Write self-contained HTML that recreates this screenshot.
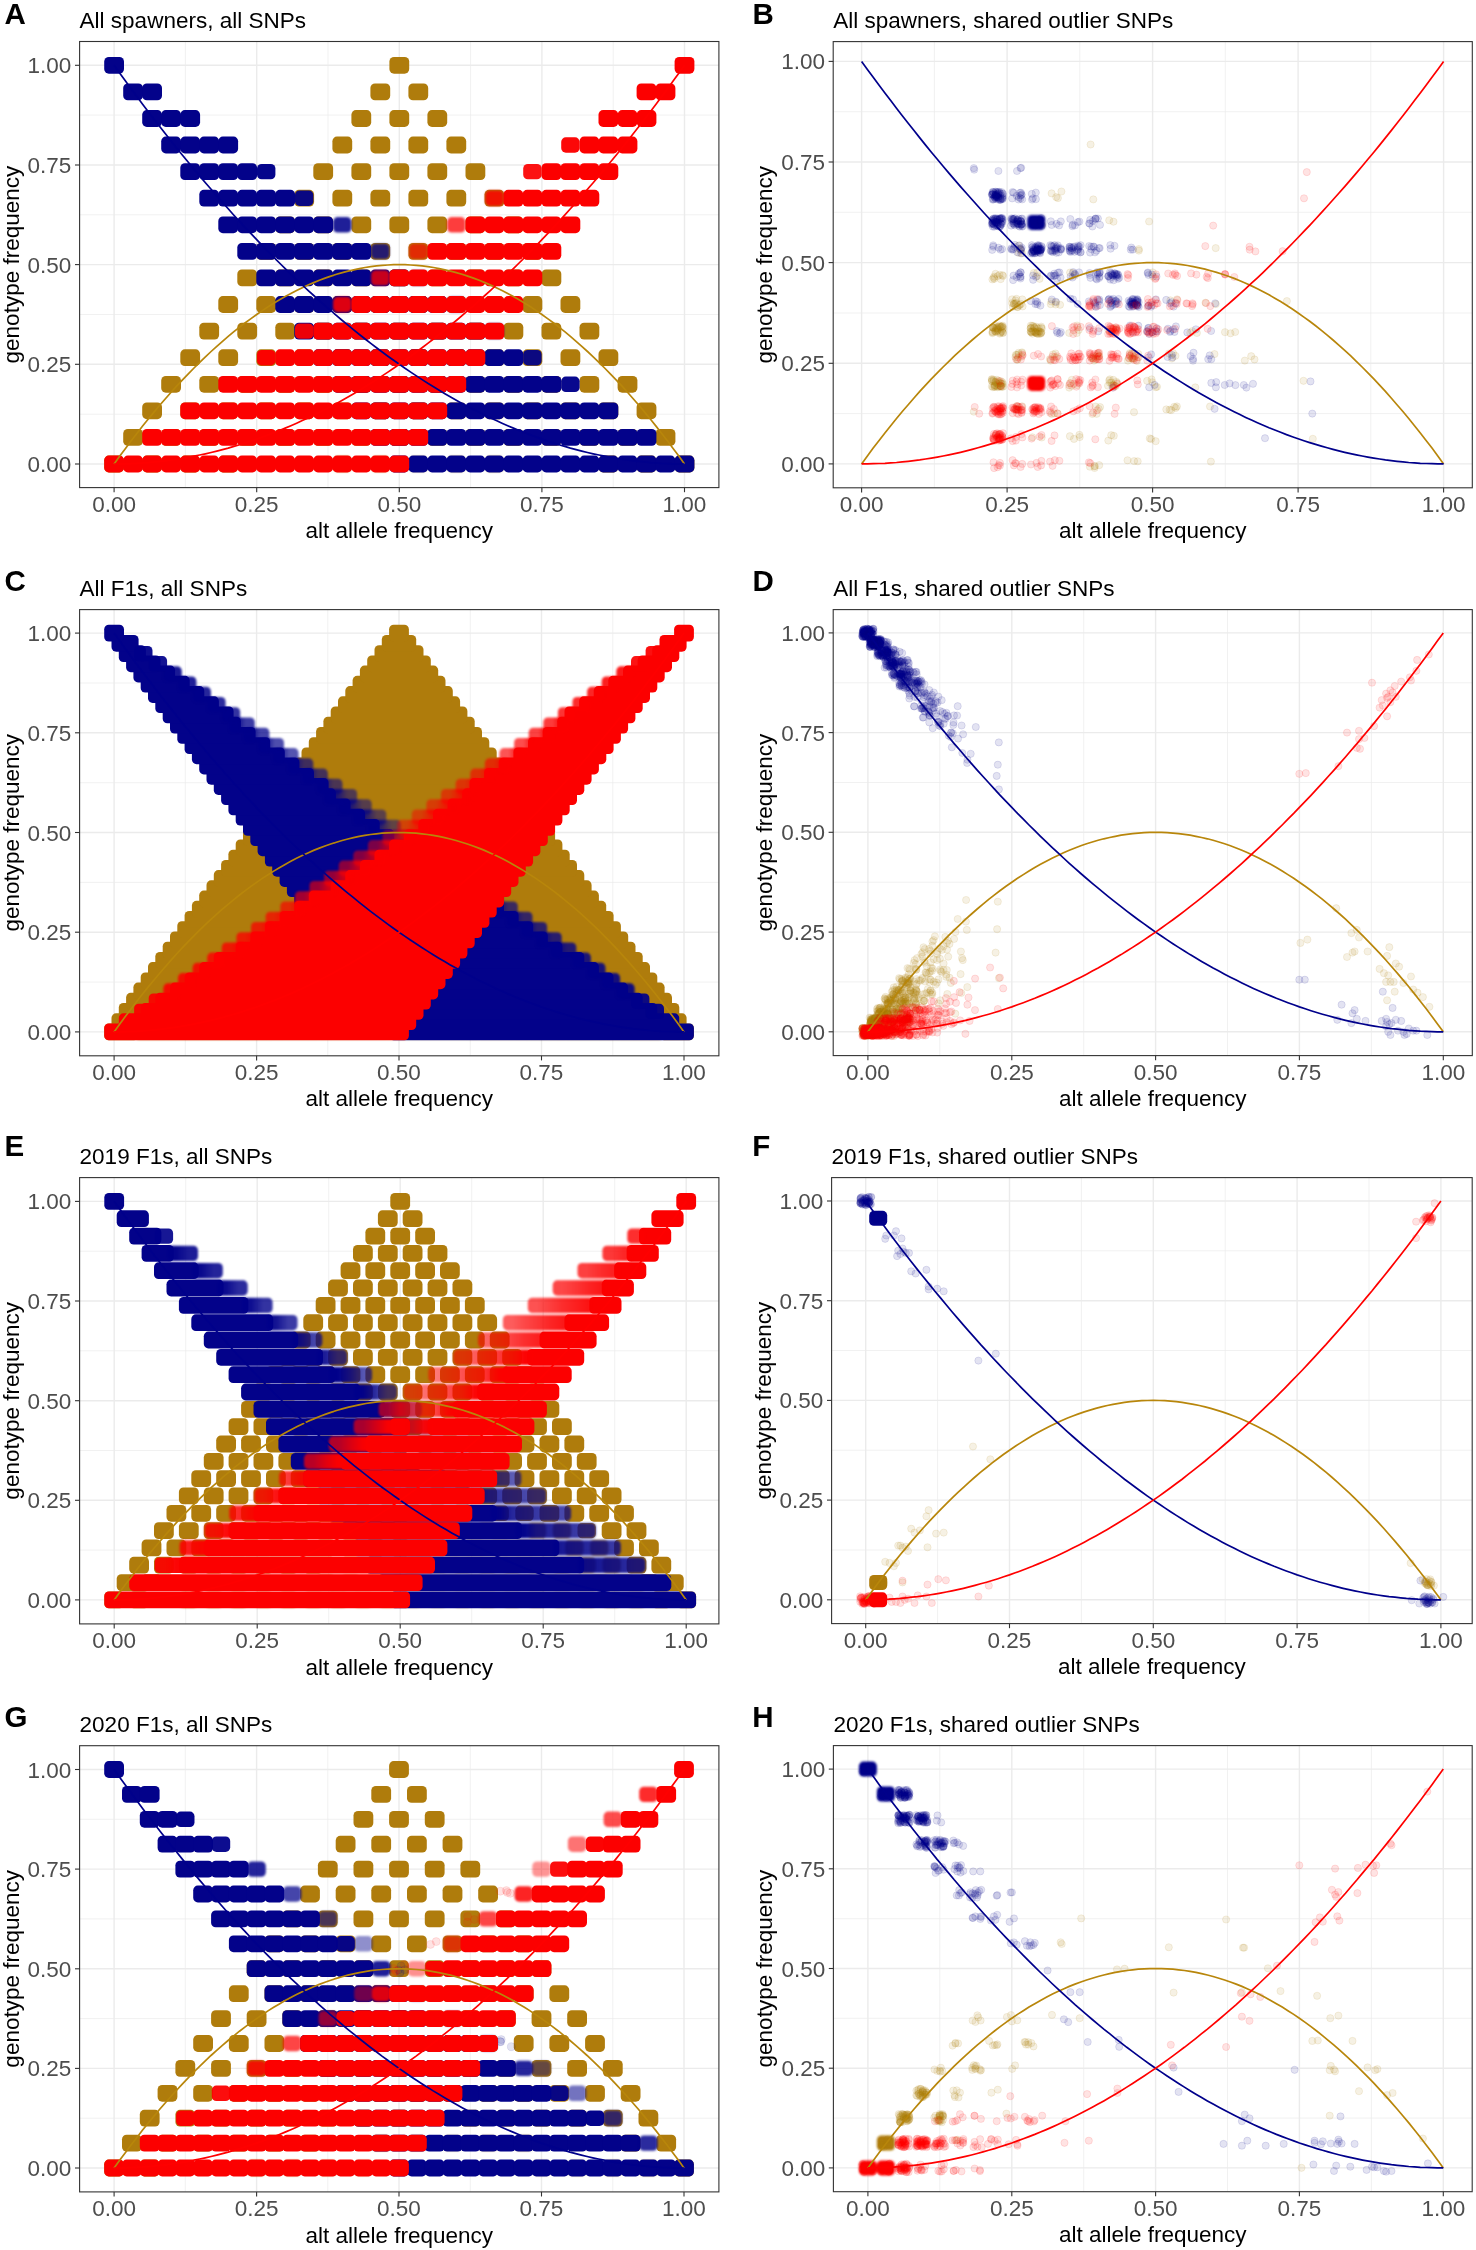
<!DOCTYPE html><html><head><meta charset="utf-8"><style>html,body{margin:0;padding:0;background:#fff;}svg{display:block} text{opacity:0.999}</style></head><body>
<svg width="1476" height="2250" viewBox="0 0 1476 2250" font-family='"Liberation Sans", sans-serif'>
<defs><filter id="blur1" x="-20%" y="-20%" width="140%" height="140%"><feGaussianBlur stdDeviation="1.3"/></filter><filter id="blur2" x="-20%" y="-20%" width="140%" height="140%"><feGaussianBlur stdDeviation="0.7"/></filter></defs><rect width="1476" height="2250" fill="#FFFFFF"/>
<g id="pA">
<svg x="79.6" y="41.5" width="639.3" height="446.1" overflow="hidden"><g transform="translate(-79.6,-41.5)">
<line x1="185.4" y1="41.5" x2="185.4" y2="487.6" stroke="#EBEBEB" stroke-width="0.7"/>
<line x1="79.6" y1="414.2" x2="718.9" y2="414.2" stroke="#EBEBEB" stroke-width="0.7"/>
<line x1="328" y1="41.5" x2="328" y2="487.6" stroke="#EBEBEB" stroke-width="0.7"/>
<line x1="79.6" y1="314.5" x2="718.9" y2="314.5" stroke="#EBEBEB" stroke-width="0.7"/>
<line x1="470.6" y1="41.5" x2="470.6" y2="487.6" stroke="#EBEBEB" stroke-width="0.7"/>
<line x1="79.6" y1="214.8" x2="718.9" y2="214.8" stroke="#EBEBEB" stroke-width="0.7"/>
<line x1="613.2" y1="41.5" x2="613.2" y2="487.6" stroke="#EBEBEB" stroke-width="0.7"/>
<line x1="79.6" y1="115.1" x2="718.9" y2="115.1" stroke="#EBEBEB" stroke-width="0.7"/>
<line x1="114.1" y1="41.5" x2="114.1" y2="487.6" stroke="#EBEBEB" stroke-width="1.4"/>
<line x1="79.6" y1="464" x2="718.9" y2="464" stroke="#EBEBEB" stroke-width="1.4"/>
<line x1="256.7" y1="41.5" x2="256.7" y2="487.6" stroke="#EBEBEB" stroke-width="1.4"/>
<line x1="79.6" y1="364.3" x2="718.9" y2="364.3" stroke="#EBEBEB" stroke-width="1.4"/>
<line x1="399.3" y1="41.5" x2="399.3" y2="487.6" stroke="#EBEBEB" stroke-width="1.4"/>
<line x1="79.6" y1="264.6" x2="718.9" y2="264.6" stroke="#EBEBEB" stroke-width="1.4"/>
<line x1="541.9" y1="41.5" x2="541.9" y2="487.6" stroke="#EBEBEB" stroke-width="1.4"/>
<line x1="79.6" y1="165" x2="718.9" y2="165" stroke="#EBEBEB" stroke-width="1.4"/>
<line x1="684.5" y1="41.5" x2="684.5" y2="487.6" stroke="#EBEBEB" stroke-width="1.4"/>
<line x1="79.6" y1="65.3" x2="718.9" y2="65.3" stroke="#EBEBEB" stroke-width="1.4"/>
<g fill="#AF7C0C"><rect x="104.2" y="455.6" width="19.8" height="16.8" rx="4.6"/><rect x="142.2" y="455.6" width="19.8" height="16.8" rx="4.6"/><rect x="180.3" y="455.6" width="19.8" height="16.8" rx="4.6"/><rect x="218.3" y="455.6" width="19.8" height="16.8" rx="4.6"/><rect x="598.5" y="455.6" width="19.8" height="16.8" rx="4.6"/><rect x="636.6" y="455.6" width="19.8" height="16.8" rx="4.6"/><rect x="674.6" y="455.6" width="19.8" height="16.8" rx="4.6"/><rect x="123.2" y="429" width="19.8" height="16.8" rx="4.6"/><rect x="161.2" y="429" width="19.8" height="16.8" rx="4.6"/><rect x="199.3" y="429" width="19.8" height="16.8" rx="4.6"/><rect x="237.3" y="429" width="19.8" height="16.8" rx="4.6"/><rect x="275.3" y="429" width="19.8" height="16.8" rx="4.6"/><rect x="313.3" y="429" width="19.8" height="16.8" rx="4.6"/><rect x="351.4" y="429" width="19.8" height="16.8" rx="4.6"/><rect x="389.4" y="429" width="19.8" height="16.8" rx="4.6"/><rect x="427.4" y="429" width="19.8" height="16.8" rx="4.6"/><rect x="465.5" y="429" width="19.8" height="16.8" rx="4.6"/><rect x="503.5" y="429" width="19.8" height="16.8" rx="4.6"/><rect x="541.5" y="429" width="19.8" height="16.8" rx="4.6"/><rect x="579.5" y="429" width="19.8" height="16.8" rx="4.6"/><rect x="617.6" y="429" width="19.8" height="16.8" rx="4.6"/><rect x="655.6" y="429" width="19.8" height="16.8" rx="4.6"/><rect x="142.2" y="402.4" width="19.8" height="16.8" rx="4.6"/><rect x="180.3" y="402.4" width="19.8" height="16.8" rx="4.6"/><rect x="218.3" y="402.4" width="19.8" height="16.8" rx="4.6"/><rect x="256.3" y="402.4" width="19.8" height="16.8" rx="4.6"/><rect x="294.3" y="402.4" width="19.8" height="16.8" rx="4.6"/><rect x="332.4" y="402.4" width="19.8" height="16.8" rx="4.6"/><rect x="370.4" y="402.4" width="19.8" height="16.8" rx="4.6"/><rect x="408.4" y="402.4" width="19.8" height="16.8" rx="4.6"/><rect x="446.4" y="402.4" width="19.8" height="16.8" rx="4.6"/><rect x="484.5" y="402.4" width="19.8" height="16.8" rx="4.6"/><rect x="522.5" y="402.4" width="19.8" height="16.8" rx="4.6"/><rect x="560.5" y="402.4" width="19.8" height="16.8" rx="4.6"/><rect x="598.5" y="402.4" width="19.8" height="16.8" rx="4.6"/><rect x="636.6" y="402.4" width="19.8" height="16.8" rx="4.6"/><rect x="161.2" y="375.9" width="19.8" height="16.8" rx="4.6"/><rect x="199.3" y="375.9" width="19.8" height="16.8" rx="4.6"/><rect x="237.3" y="375.9" width="19.8" height="16.8" rx="4.6"/><rect x="275.3" y="375.9" width="19.8" height="16.8" rx="4.6"/><rect x="313.3" y="375.9" width="19.8" height="16.8" rx="4.6"/><rect x="351.4" y="375.9" width="19.8" height="16.8" rx="4.6"/><rect x="389.4" y="375.9" width="19.8" height="16.8" rx="4.6"/><rect x="427.4" y="375.9" width="19.8" height="16.8" rx="4.6"/><rect x="465.5" y="375.9" width="19.8" height="16.8" rx="4.6"/><rect x="503.5" y="375.9" width="19.8" height="16.8" rx="4.6"/><rect x="541.5" y="375.9" width="19.8" height="16.8" rx="4.6"/><rect x="579.5" y="375.9" width="19.8" height="16.8" rx="4.6"/><rect x="617.6" y="375.9" width="19.8" height="16.8" rx="4.6"/><rect x="180.3" y="349.3" width="19.8" height="16.8" rx="4.6"/><rect x="218.3" y="349.3" width="19.8" height="16.8" rx="4.6"/><rect x="256.3" y="349.3" width="19.8" height="16.8" rx="4.6"/><rect x="294.3" y="349.3" width="19.8" height="16.8" rx="4.6"/><rect x="332.4" y="349.3" width="19.8" height="16.8" rx="4.6"/><rect x="370.4" y="349.3" width="19.8" height="16.8" rx="4.6"/><rect x="408.4" y="349.3" width="19.8" height="16.8" rx="4.6"/><rect x="446.4" y="349.3" width="19.8" height="16.8" rx="4.6"/><rect x="484.5" y="349.3" width="19.8" height="16.8" rx="4.6"/><rect x="522.5" y="349.3" width="19.8" height="16.8" rx="4.6"/><rect x="560.5" y="349.3" width="19.8" height="16.8" rx="4.6"/><rect x="598.5" y="349.3" width="19.8" height="16.8" rx="4.6"/><rect x="199.3" y="322.7" width="19.8" height="16.8" rx="4.6"/><rect x="237.3" y="322.7" width="19.8" height="16.8" rx="4.6"/><rect x="275.3" y="322.7" width="19.8" height="16.8" rx="4.6"/><rect x="313.3" y="322.7" width="19.8" height="16.8" rx="4.6"/><rect x="351.4" y="322.7" width="19.8" height="16.8" rx="4.6"/><rect x="389.4" y="322.7" width="19.8" height="16.8" rx="4.6"/><rect x="427.4" y="322.7" width="19.8" height="16.8" rx="4.6"/><rect x="465.5" y="322.7" width="19.8" height="16.8" rx="4.6"/><rect x="503.5" y="322.7" width="19.8" height="16.8" rx="4.6"/><rect x="541.5" y="322.7" width="19.8" height="16.8" rx="4.6"/><rect x="579.5" y="322.7" width="19.8" height="16.8" rx="4.6"/><rect x="218.3" y="296.1" width="19.8" height="16.8" rx="4.6"/><rect x="256.3" y="296.1" width="19.8" height="16.8" rx="4.6"/><rect x="294.3" y="296.1" width="19.8" height="16.8" rx="4.6"/><rect x="332.4" y="296.1" width="19.8" height="16.8" rx="4.6"/><rect x="370.4" y="296.1" width="19.8" height="16.8" rx="4.6"/><rect x="408.4" y="296.1" width="19.8" height="16.8" rx="4.6"/><rect x="446.4" y="296.1" width="19.8" height="16.8" rx="4.6"/><rect x="484.5" y="296.1" width="19.8" height="16.8" rx="4.6"/><rect x="522.5" y="296.1" width="19.8" height="16.8" rx="4.6"/><rect x="560.5" y="296.1" width="19.8" height="16.8" rx="4.6"/><rect x="237.3" y="269.5" width="19.8" height="16.8" rx="4.6"/><rect x="275.3" y="269.5" width="19.8" height="16.8" rx="4.6"/><rect x="313.3" y="269.5" width="19.8" height="16.8" rx="4.6"/><rect x="351.4" y="269.5" width="19.8" height="16.8" rx="4.6"/><rect x="389.4" y="269.5" width="19.8" height="16.8" rx="4.6"/><rect x="427.4" y="269.5" width="19.8" height="16.8" rx="4.6"/><rect x="465.5" y="269.5" width="19.8" height="16.8" rx="4.6"/><rect x="503.5" y="269.5" width="19.8" height="16.8" rx="4.6"/><rect x="541.5" y="269.5" width="19.8" height="16.8" rx="4.6"/><rect x="256.3" y="243" width="19.8" height="16.8" rx="4.6"/><rect x="294.3" y="243" width="19.8" height="16.8" rx="4.6"/><rect x="332.4" y="243" width="19.8" height="16.8" rx="4.6"/><rect x="370.4" y="243" width="19.8" height="16.8" rx="4.6"/><rect x="408.4" y="243" width="19.8" height="16.8" rx="4.6"/><rect x="446.4" y="243" width="19.8" height="16.8" rx="4.6"/><rect x="484.5" y="243" width="19.8" height="16.8" rx="4.6"/><rect x="522.5" y="243" width="19.8" height="16.8" rx="4.6"/><rect x="275.3" y="216.4" width="19.8" height="16.8" rx="4.6"/><rect x="313.3" y="216.4" width="19.8" height="16.8" rx="4.6"/><rect x="351.4" y="216.4" width="19.8" height="16.8" rx="4.6"/><rect x="389.4" y="216.4" width="19.8" height="16.8" rx="4.6"/><rect x="427.4" y="216.4" width="19.8" height="16.8" rx="4.6"/><rect x="465.5" y="216.4" width="19.8" height="16.8" rx="4.6"/><rect x="503.5" y="216.4" width="19.8" height="16.8" rx="4.6"/><rect x="294.3" y="189.8" width="19.8" height="16.8" rx="4.6"/><rect x="332.4" y="189.8" width="19.8" height="16.8" rx="4.6"/><rect x="370.4" y="189.8" width="19.8" height="16.8" rx="4.6"/><rect x="408.4" y="189.8" width="19.8" height="16.8" rx="4.6"/><rect x="446.4" y="189.8" width="19.8" height="16.8" rx="4.6"/><rect x="484.5" y="189.8" width="19.8" height="16.8" rx="4.6"/><rect x="313.3" y="163.2" width="19.8" height="16.8" rx="4.6"/><rect x="351.4" y="163.2" width="19.8" height="16.8" rx="4.6"/><rect x="389.4" y="163.2" width="19.8" height="16.8" rx="4.6"/><rect x="427.4" y="163.2" width="19.8" height="16.8" rx="4.6"/><rect x="465.5" y="163.2" width="19.8" height="16.8" rx="4.6"/><rect x="332.4" y="136.6" width="19.8" height="16.8" rx="4.6"/><rect x="370.4" y="136.6" width="19.8" height="16.8" rx="4.6"/><rect x="408.4" y="136.6" width="19.8" height="16.8" rx="4.6"/><rect x="446.4" y="136.6" width="19.8" height="16.8" rx="4.6"/><rect x="351.4" y="110.1" width="19.8" height="16.8" rx="4.6"/><rect x="389.4" y="110.1" width="19.8" height="16.8" rx="4.6"/><rect x="427.4" y="110.1" width="19.8" height="16.8" rx="4.6"/><rect x="370.4" y="83.5" width="19.8" height="16.8" rx="4.6"/><rect x="408.4" y="83.5" width="19.8" height="16.8" rx="4.6"/><rect x="389.4" y="56.9" width="19.8" height="16.8" rx="4.6"/></g>
<g fill="#AF7C0C" filter="url(#blur1)"><rect x="333.1" y="456.3" width="18.4" height="15.4" rx="4.6" opacity="0.88"/><rect x="371.1" y="456.3" width="18.4" height="15.4" rx="4.6" opacity="0.79"/><rect x="409.1" y="456.3" width="18.4" height="15.4" rx="4.6" opacity="0.65"/><rect x="447.1" y="456.3" width="18.4" height="15.4" rx="4.6" opacity="0.76"/><rect x="485.2" y="456.3" width="18.4" height="15.4" rx="4.6" opacity="0.85"/></g>
<g fill="#AF7C0C" filter="url(#blur2)"><rect x="257" y="456.3" width="18.4" height="15.4" rx="4.6" opacity="0.98"/><rect x="295" y="456.3" width="18.4" height="15.4" rx="4.6" opacity="0.94"/><rect x="523.2" y="456.3" width="18.4" height="15.4" rx="4.6" opacity="0.93"/><rect x="561.2" y="456.3" width="18.4" height="15.4" rx="4.6" opacity="0.97"/></g>
<g fill="#03028A"><rect x="389.4" y="455.6" width="19.8" height="16.8" rx="4.6"/><rect x="408.4" y="455.6" width="19.8" height="16.8" rx="4.6"/><rect x="427.4" y="455.6" width="19.8" height="16.8" rx="4.6"/><rect x="446.4" y="455.6" width="19.8" height="16.8" rx="4.6"/><rect x="465.5" y="455.6" width="19.8" height="16.8" rx="4.6"/><rect x="484.5" y="455.6" width="19.8" height="16.8" rx="4.6"/><rect x="503.5" y="455.6" width="19.8" height="16.8" rx="4.6"/><rect x="522.5" y="455.6" width="19.8" height="16.8" rx="4.6"/><rect x="541.5" y="455.6" width="19.8" height="16.8" rx="4.6"/><rect x="560.5" y="455.6" width="19.8" height="16.8" rx="4.6"/><rect x="579.5" y="455.6" width="19.8" height="16.8" rx="4.6"/><rect x="598.5" y="455.6" width="19.8" height="16.8" rx="4.6"/><rect x="617.6" y="455.6" width="19.8" height="16.8" rx="4.6"/><rect x="636.6" y="455.6" width="19.8" height="16.8" rx="4.6"/><rect x="655.6" y="455.6" width="19.8" height="16.8" rx="4.6"/><rect x="674.6" y="455.6" width="19.8" height="16.8" rx="4.6"/><rect x="370.4" y="429" width="19.8" height="16.8" rx="4.6"/><rect x="389.4" y="429" width="19.8" height="16.8" rx="4.6"/><rect x="408.4" y="429" width="19.8" height="16.8" rx="4.6"/><rect x="427.4" y="429" width="19.8" height="16.8" rx="4.6"/><rect x="446.4" y="429" width="19.8" height="16.8" rx="4.6"/><rect x="465.5" y="429" width="19.8" height="16.8" rx="4.6"/><rect x="484.5" y="429" width="19.8" height="16.8" rx="4.6"/><rect x="503.5" y="429" width="19.8" height="16.8" rx="4.6"/><rect x="522.5" y="429" width="19.8" height="16.8" rx="4.6"/><rect x="541.5" y="429" width="19.8" height="16.8" rx="4.6"/><rect x="560.5" y="429" width="19.8" height="16.8" rx="4.6"/><rect x="579.5" y="429" width="19.8" height="16.8" rx="4.6"/><rect x="598.5" y="429" width="19.8" height="16.8" rx="4.6"/><rect x="617.6" y="429" width="19.8" height="16.8" rx="4.6"/><rect x="636.6" y="429" width="19.8" height="16.8" rx="4.6"/><rect x="351.4" y="402.4" width="19.8" height="16.8" rx="4.6"/><rect x="370.4" y="402.4" width="19.8" height="16.8" rx="4.6"/><rect x="389.4" y="402.4" width="19.8" height="16.8" rx="4.6"/><rect x="408.4" y="402.4" width="19.8" height="16.8" rx="4.6"/><rect x="427.4" y="402.4" width="19.8" height="16.8" rx="4.6"/><rect x="446.4" y="402.4" width="19.8" height="16.8" rx="4.6"/><rect x="465.5" y="402.4" width="19.8" height="16.8" rx="4.6"/><rect x="484.5" y="402.4" width="19.8" height="16.8" rx="4.6"/><rect x="503.5" y="402.4" width="19.8" height="16.8" rx="4.6"/><rect x="522.5" y="402.4" width="19.8" height="16.8" rx="4.6"/><rect x="541.5" y="402.4" width="19.8" height="16.8" rx="4.6"/><rect x="560.5" y="402.4" width="19.8" height="16.8" rx="4.6"/><rect x="579.5" y="402.4" width="19.8" height="16.8" rx="4.6"/><rect x="598.5" y="402.4" width="19.8" height="16.8" rx="4.6"/><rect x="332.4" y="375.9" width="19.8" height="16.8" rx="4.6"/><rect x="351.4" y="375.9" width="19.8" height="16.8" rx="4.6"/><rect x="370.4" y="375.9" width="19.8" height="16.8" rx="4.6"/><rect x="389.4" y="375.9" width="19.8" height="16.8" rx="4.6"/><rect x="408.4" y="375.9" width="19.8" height="16.8" rx="4.6"/><rect x="427.4" y="375.9" width="19.8" height="16.8" rx="4.6"/><rect x="446.4" y="375.9" width="19.8" height="16.8" rx="4.6"/><rect x="465.5" y="375.9" width="19.8" height="16.8" rx="4.6"/><rect x="484.5" y="375.9" width="19.8" height="16.8" rx="4.6"/><rect x="503.5" y="375.9" width="19.8" height="16.8" rx="4.6"/><rect x="522.5" y="375.9" width="19.8" height="16.8" rx="4.6"/><rect x="541.5" y="375.9" width="19.8" height="16.8" rx="4.6"/><rect x="313.3" y="349.3" width="19.8" height="16.8" rx="4.6"/><rect x="332.4" y="349.3" width="19.8" height="16.8" rx="4.6"/><rect x="351.4" y="349.3" width="19.8" height="16.8" rx="4.6"/><rect x="370.4" y="349.3" width="19.8" height="16.8" rx="4.6"/><rect x="389.4" y="349.3" width="19.8" height="16.8" rx="4.6"/><rect x="408.4" y="349.3" width="19.8" height="16.8" rx="4.6"/><rect x="427.4" y="349.3" width="19.8" height="16.8" rx="4.6"/><rect x="446.4" y="349.3" width="19.8" height="16.8" rx="4.6"/><rect x="465.5" y="349.3" width="19.8" height="16.8" rx="4.6"/><rect x="484.5" y="349.3" width="19.8" height="16.8" rx="4.6"/><rect x="503.5" y="349.3" width="19.8" height="16.8" rx="4.6"/><rect x="294.3" y="322.7" width="19.8" height="16.8" rx="4.6"/><rect x="313.3" y="322.7" width="19.8" height="16.8" rx="4.6"/><rect x="332.4" y="322.7" width="19.8" height="16.8" rx="4.6"/><rect x="351.4" y="322.7" width="19.8" height="16.8" rx="4.6"/><rect x="370.4" y="322.7" width="19.8" height="16.8" rx="4.6"/><rect x="389.4" y="322.7" width="19.8" height="16.8" rx="4.6"/><rect x="408.4" y="322.7" width="19.8" height="16.8" rx="4.6"/><rect x="427.4" y="322.7" width="19.8" height="16.8" rx="4.6"/><rect x="446.4" y="322.7" width="19.8" height="16.8" rx="4.6"/><rect x="465.5" y="322.7" width="19.8" height="16.8" rx="4.6"/><rect x="275.3" y="296.1" width="19.8" height="16.8" rx="4.6"/><rect x="294.3" y="296.1" width="19.8" height="16.8" rx="4.6"/><rect x="313.3" y="296.1" width="19.8" height="16.8" rx="4.6"/><rect x="332.4" y="296.1" width="19.8" height="16.8" rx="4.6"/><rect x="351.4" y="296.1" width="19.8" height="16.8" rx="4.6"/><rect x="370.4" y="296.1" width="19.8" height="16.8" rx="4.6"/><rect x="389.4" y="296.1" width="19.8" height="16.8" rx="4.6"/><rect x="408.4" y="296.1" width="19.8" height="16.8" rx="4.6"/><rect x="427.4" y="296.1" width="19.8" height="16.8" rx="4.6"/><rect x="256.3" y="269.5" width="19.8" height="16.8" rx="4.6"/><rect x="275.3" y="269.5" width="19.8" height="16.8" rx="4.6"/><rect x="294.3" y="269.5" width="19.8" height="16.8" rx="4.6"/><rect x="313.3" y="269.5" width="19.8" height="16.8" rx="4.6"/><rect x="332.4" y="269.5" width="19.8" height="16.8" rx="4.6"/><rect x="351.4" y="269.5" width="19.8" height="16.8" rx="4.6"/><rect x="370.4" y="269.5" width="19.8" height="16.8" rx="4.6"/><rect x="389.4" y="269.5" width="19.8" height="16.8" rx="4.6"/><rect x="237.3" y="243" width="19.8" height="16.8" rx="4.6"/><rect x="256.3" y="243" width="19.8" height="16.8" rx="4.6"/><rect x="275.3" y="243" width="19.8" height="16.8" rx="4.6"/><rect x="294.3" y="243" width="19.8" height="16.8" rx="4.6"/><rect x="313.3" y="243" width="19.8" height="16.8" rx="4.6"/><rect x="332.4" y="243" width="19.8" height="16.8" rx="4.6"/><rect x="351.4" y="243" width="19.8" height="16.8" rx="4.6"/><rect x="218.3" y="216.4" width="19.8" height="16.8" rx="4.6"/><rect x="237.3" y="216.4" width="19.8" height="16.8" rx="4.6"/><rect x="256.3" y="216.4" width="19.8" height="16.8" rx="4.6"/><rect x="275.3" y="216.4" width="19.8" height="16.8" rx="4.6"/><rect x="294.3" y="216.4" width="19.8" height="16.8" rx="4.6"/><rect x="313.3" y="216.4" width="19.8" height="16.8" rx="4.6"/><rect x="199.3" y="189.8" width="19.8" height="16.8" rx="4.6"/><rect x="218.3" y="189.8" width="19.8" height="16.8" rx="4.6"/><rect x="237.3" y="189.8" width="19.8" height="16.8" rx="4.6"/><rect x="256.3" y="189.8" width="19.8" height="16.8" rx="4.6"/><rect x="275.3" y="189.8" width="19.8" height="16.8" rx="4.6"/><rect x="180.3" y="163.2" width="19.8" height="16.8" rx="4.6"/><rect x="199.3" y="163.2" width="19.8" height="16.8" rx="4.6"/><rect x="218.3" y="163.2" width="19.8" height="16.8" rx="4.6"/><rect x="237.3" y="163.2" width="19.8" height="16.8" rx="4.6"/><rect x="161.2" y="136.6" width="19.8" height="16.8" rx="4.6"/><rect x="180.3" y="136.6" width="19.8" height="16.8" rx="4.6"/><rect x="199.3" y="136.6" width="19.8" height="16.8" rx="4.6"/><rect x="218.3" y="136.6" width="19.8" height="16.8" rx="4.6"/><rect x="142.2" y="110.1" width="19.8" height="16.8" rx="4.6"/><rect x="161.2" y="110.1" width="19.8" height="16.8" rx="4.6"/><rect x="180.3" y="110.1" width="19.8" height="16.8" rx="4.6"/><rect x="123.2" y="83.5" width="19.8" height="16.8" rx="4.6"/><rect x="142.2" y="83.5" width="19.8" height="16.8" rx="4.6"/><rect x="104.2" y="56.9" width="19.8" height="16.8" rx="4.6"/></g>
<g fill="#03028A" filter="url(#blur1)"><rect x="485.2" y="323.4" width="18.4" height="15.4" rx="4.6" opacity="0.85"/><rect x="447.1" y="296.8" width="18.4" height="15.4" rx="4.6" opacity="0.76"/><rect x="409.1" y="270.2" width="18.4" height="15.4" rx="4.6" opacity="0.65"/><rect x="371.1" y="243.7" width="18.4" height="15.4" rx="4.6" opacity="0.79"/><rect x="333.1" y="217.1" width="18.4" height="15.4" rx="4.6" opacity="0.88"/></g>
<g fill="#03028A" filter="url(#blur2)"><rect x="561.2" y="376.6" width="18.4" height="15.4" rx="4.6" opacity="0.97"/><rect x="523.2" y="350" width="18.4" height="15.4" rx="4.6" opacity="0.93"/><rect x="295" y="190.5" width="18.4" height="15.4" rx="4.6" opacity="0.94"/><rect x="257" y="163.9" width="18.4" height="15.4" rx="4.6" opacity="0.98"/></g>
<g fill="#FC0000"><rect x="104.2" y="455.6" width="19.8" height="16.8" rx="4.6"/><rect x="123.2" y="455.6" width="19.8" height="16.8" rx="4.6"/><rect x="142.2" y="455.6" width="19.8" height="16.8" rx="4.6"/><rect x="161.2" y="455.6" width="19.8" height="16.8" rx="4.6"/><rect x="180.3" y="455.6" width="19.8" height="16.8" rx="4.6"/><rect x="199.3" y="455.6" width="19.8" height="16.8" rx="4.6"/><rect x="218.3" y="455.6" width="19.8" height="16.8" rx="4.6"/><rect x="237.3" y="455.6" width="19.8" height="16.8" rx="4.6"/><rect x="256.3" y="455.6" width="19.8" height="16.8" rx="4.6"/><rect x="275.3" y="455.6" width="19.8" height="16.8" rx="4.6"/><rect x="294.3" y="455.6" width="19.8" height="16.8" rx="4.6"/><rect x="313.3" y="455.6" width="19.8" height="16.8" rx="4.6"/><rect x="332.4" y="455.6" width="19.8" height="16.8" rx="4.6"/><rect x="351.4" y="455.6" width="19.8" height="16.8" rx="4.6"/><rect x="370.4" y="455.6" width="19.8" height="16.8" rx="4.6"/><rect x="389.4" y="455.6" width="19.8" height="16.8" rx="4.6"/><rect x="142.2" y="429" width="19.8" height="16.8" rx="4.6"/><rect x="161.2" y="429" width="19.8" height="16.8" rx="4.6"/><rect x="180.3" y="429" width="19.8" height="16.8" rx="4.6"/><rect x="199.3" y="429" width="19.8" height="16.8" rx="4.6"/><rect x="218.3" y="429" width="19.8" height="16.8" rx="4.6"/><rect x="237.3" y="429" width="19.8" height="16.8" rx="4.6"/><rect x="256.3" y="429" width="19.8" height="16.8" rx="4.6"/><rect x="275.3" y="429" width="19.8" height="16.8" rx="4.6"/><rect x="294.3" y="429" width="19.8" height="16.8" rx="4.6"/><rect x="313.3" y="429" width="19.8" height="16.8" rx="4.6"/><rect x="332.4" y="429" width="19.8" height="16.8" rx="4.6"/><rect x="351.4" y="429" width="19.8" height="16.8" rx="4.6"/><rect x="370.4" y="429" width="19.8" height="16.8" rx="4.6"/><rect x="389.4" y="429" width="19.8" height="16.8" rx="4.6"/><rect x="408.4" y="429" width="19.8" height="16.8" rx="4.6"/><rect x="180.3" y="402.4" width="19.8" height="16.8" rx="4.6"/><rect x="199.3" y="402.4" width="19.8" height="16.8" rx="4.6"/><rect x="218.3" y="402.4" width="19.8" height="16.8" rx="4.6"/><rect x="237.3" y="402.4" width="19.8" height="16.8" rx="4.6"/><rect x="256.3" y="402.4" width="19.8" height="16.8" rx="4.6"/><rect x="275.3" y="402.4" width="19.8" height="16.8" rx="4.6"/><rect x="294.3" y="402.4" width="19.8" height="16.8" rx="4.6"/><rect x="313.3" y="402.4" width="19.8" height="16.8" rx="4.6"/><rect x="332.4" y="402.4" width="19.8" height="16.8" rx="4.6"/><rect x="351.4" y="402.4" width="19.8" height="16.8" rx="4.6"/><rect x="370.4" y="402.4" width="19.8" height="16.8" rx="4.6"/><rect x="389.4" y="402.4" width="19.8" height="16.8" rx="4.6"/><rect x="408.4" y="402.4" width="19.8" height="16.8" rx="4.6"/><rect x="427.4" y="402.4" width="19.8" height="16.8" rx="4.6"/><rect x="218.3" y="375.9" width="19.8" height="16.8" rx="4.6"/><rect x="237.3" y="375.9" width="19.8" height="16.8" rx="4.6"/><rect x="256.3" y="375.9" width="19.8" height="16.8" rx="4.6"/><rect x="275.3" y="375.9" width="19.8" height="16.8" rx="4.6"/><rect x="294.3" y="375.9" width="19.8" height="16.8" rx="4.6"/><rect x="313.3" y="375.9" width="19.8" height="16.8" rx="4.6"/><rect x="332.4" y="375.9" width="19.8" height="16.8" rx="4.6"/><rect x="351.4" y="375.9" width="19.8" height="16.8" rx="4.6"/><rect x="370.4" y="375.9" width="19.8" height="16.8" rx="4.6"/><rect x="389.4" y="375.9" width="19.8" height="16.8" rx="4.6"/><rect x="408.4" y="375.9" width="19.8" height="16.8" rx="4.6"/><rect x="427.4" y="375.9" width="19.8" height="16.8" rx="4.6"/><rect x="446.4" y="375.9" width="19.8" height="16.8" rx="4.6"/><rect x="275.3" y="349.3" width="19.8" height="16.8" rx="4.6"/><rect x="294.3" y="349.3" width="19.8" height="16.8" rx="4.6"/><rect x="313.3" y="349.3" width="19.8" height="16.8" rx="4.6"/><rect x="332.4" y="349.3" width="19.8" height="16.8" rx="4.6"/><rect x="351.4" y="349.3" width="19.8" height="16.8" rx="4.6"/><rect x="370.4" y="349.3" width="19.8" height="16.8" rx="4.6"/><rect x="389.4" y="349.3" width="19.8" height="16.8" rx="4.6"/><rect x="408.4" y="349.3" width="19.8" height="16.8" rx="4.6"/><rect x="427.4" y="349.3" width="19.8" height="16.8" rx="4.6"/><rect x="446.4" y="349.3" width="19.8" height="16.8" rx="4.6"/><rect x="465.5" y="349.3" width="19.8" height="16.8" rx="4.6"/><rect x="313.3" y="322.7" width="19.8" height="16.8" rx="4.6"/><rect x="332.4" y="322.7" width="19.8" height="16.8" rx="4.6"/><rect x="351.4" y="322.7" width="19.8" height="16.8" rx="4.6"/><rect x="370.4" y="322.7" width="19.8" height="16.8" rx="4.6"/><rect x="389.4" y="322.7" width="19.8" height="16.8" rx="4.6"/><rect x="408.4" y="322.7" width="19.8" height="16.8" rx="4.6"/><rect x="427.4" y="322.7" width="19.8" height="16.8" rx="4.6"/><rect x="446.4" y="322.7" width="19.8" height="16.8" rx="4.6"/><rect x="465.5" y="322.7" width="19.8" height="16.8" rx="4.6"/><rect x="484.5" y="322.7" width="19.8" height="16.8" rx="4.6"/><rect x="351.4" y="296.1" width="19.8" height="16.8" rx="4.6"/><rect x="370.4" y="296.1" width="19.8" height="16.8" rx="4.6"/><rect x="389.4" y="296.1" width="19.8" height="16.8" rx="4.6"/><rect x="408.4" y="296.1" width="19.8" height="16.8" rx="4.6"/><rect x="427.4" y="296.1" width="19.8" height="16.8" rx="4.6"/><rect x="446.4" y="296.1" width="19.8" height="16.8" rx="4.6"/><rect x="465.5" y="296.1" width="19.8" height="16.8" rx="4.6"/><rect x="484.5" y="296.1" width="19.8" height="16.8" rx="4.6"/><rect x="503.5" y="296.1" width="19.8" height="16.8" rx="4.6"/><rect x="389.4" y="269.5" width="19.8" height="16.8" rx="4.6"/><rect x="408.4" y="269.5" width="19.8" height="16.8" rx="4.6"/><rect x="427.4" y="269.5" width="19.8" height="16.8" rx="4.6"/><rect x="446.4" y="269.5" width="19.8" height="16.8" rx="4.6"/><rect x="465.5" y="269.5" width="19.8" height="16.8" rx="4.6"/><rect x="484.5" y="269.5" width="19.8" height="16.8" rx="4.6"/><rect x="503.5" y="269.5" width="19.8" height="16.8" rx="4.6"/><rect x="522.5" y="269.5" width="19.8" height="16.8" rx="4.6"/><rect x="427.4" y="243" width="19.8" height="16.8" rx="4.6"/><rect x="446.4" y="243" width="19.8" height="16.8" rx="4.6"/><rect x="465.5" y="243" width="19.8" height="16.8" rx="4.6"/><rect x="484.5" y="243" width="19.8" height="16.8" rx="4.6"/><rect x="503.5" y="243" width="19.8" height="16.8" rx="4.6"/><rect x="522.5" y="243" width="19.8" height="16.8" rx="4.6"/><rect x="541.5" y="243" width="19.8" height="16.8" rx="4.6"/><rect x="465.5" y="216.4" width="19.8" height="16.8" rx="4.6"/><rect x="484.5" y="216.4" width="19.8" height="16.8" rx="4.6"/><rect x="503.5" y="216.4" width="19.8" height="16.8" rx="4.6"/><rect x="522.5" y="216.4" width="19.8" height="16.8" rx="4.6"/><rect x="541.5" y="216.4" width="19.8" height="16.8" rx="4.6"/><rect x="560.5" y="216.4" width="19.8" height="16.8" rx="4.6"/><rect x="503.5" y="189.8" width="19.8" height="16.8" rx="4.6"/><rect x="522.5" y="189.8" width="19.8" height="16.8" rx="4.6"/><rect x="541.5" y="189.8" width="19.8" height="16.8" rx="4.6"/><rect x="560.5" y="189.8" width="19.8" height="16.8" rx="4.6"/><rect x="579.5" y="189.8" width="19.8" height="16.8" rx="4.6"/><rect x="541.5" y="163.2" width="19.8" height="16.8" rx="4.6"/><rect x="560.5" y="163.2" width="19.8" height="16.8" rx="4.6"/><rect x="579.5" y="163.2" width="19.8" height="16.8" rx="4.6"/><rect x="598.5" y="163.2" width="19.8" height="16.8" rx="4.6"/><rect x="579.5" y="136.6" width="19.8" height="16.8" rx="4.6"/><rect x="598.5" y="136.6" width="19.8" height="16.8" rx="4.6"/><rect x="617.6" y="136.6" width="19.8" height="16.8" rx="4.6"/><rect x="598.5" y="110.1" width="19.8" height="16.8" rx="4.6"/><rect x="617.6" y="110.1" width="19.8" height="16.8" rx="4.6"/><rect x="636.6" y="110.1" width="19.8" height="16.8" rx="4.6"/><rect x="636.6" y="83.5" width="19.8" height="16.8" rx="4.6"/><rect x="655.6" y="83.5" width="19.8" height="16.8" rx="4.6"/><rect x="674.6" y="56.9" width="19.8" height="16.8" rx="4.6"/></g>
<g fill="#FC0000" filter="url(#blur1)"><rect x="333.1" y="296.8" width="18.4" height="15.4" rx="4.6" opacity="0.88"/><rect x="371.1" y="270.2" width="18.4" height="15.4" rx="4.6" opacity="0.79"/><rect x="409.1" y="243.7" width="18.4" height="15.4" rx="4.6" opacity="0.65"/><rect x="447.1" y="217.1" width="18.4" height="15.4" rx="4.6" opacity="0.76"/><rect x="485.2" y="190.5" width="18.4" height="15.4" rx="4.6" opacity="0.85"/></g>
<g fill="#FC0000" filter="url(#blur2)"><rect x="257" y="350" width="18.4" height="15.4" rx="4.6" opacity="0.98"/><rect x="295" y="323.4" width="18.4" height="15.4" rx="4.6" opacity="0.94"/><rect x="523.2" y="163.9" width="18.4" height="15.4" rx="4.6" opacity="0.93"/><rect x="561.2" y="137.3" width="18.4" height="15.4" rx="4.6" opacity="0.97"/></g>

<polyline points="114.1,464 119.8,456.1 125.5,448.4 131.2,440.8 136.9,433.4 142.6,426.1 148.3,419 154,412.1 159.7,405.3 165.4,398.7 171.1,392.2 176.8,385.9 182.5,379.8 188.3,373.8 194,368 199.7,362.3 205.4,356.8 211.1,351.5 216.8,346.3 222.5,341.3 228.2,336.4 233.9,331.7 239.6,327.2 245.3,322.8 251,318.6 256.7,314.5 262.4,310.6 268.1,306.8 273.8,303.2 279.5,299.8 285.2,296.5 290.9,293.4 296.6,290.5 302.3,287.7 308,285.1 313.7,282.6 319.4,280.3 325.1,278.1 330.9,276.1 336.6,274.3 342.3,272.6 348,271.1 353.7,269.8 359.4,268.6 365.1,267.5 370.8,266.6 376.5,265.9 382.2,265.4 387.9,265 393.6,264.7 399.3,264.6 405,264.7 410.7,265 416.4,265.4 422.1,265.9 427.8,266.6 433.5,267.5 439.2,268.6 444.9,269.8 450.6,271.1 456.3,272.6 462,274.3 467.7,276.1 473.5,278.1 479.2,280.3 484.9,282.6 490.6,285.1 496.3,287.7 502,290.5 507.7,293.4 513.4,296.5 519.1,299.8 524.8,303.2 530.5,306.8 536.2,310.6 541.9,314.5 547.6,318.6 553.3,322.8 559,327.2 564.7,331.7 570.4,336.4 576.1,341.3 581.8,346.3 587.5,351.5 593.2,356.8 598.9,362.3 604.6,368 610.3,373.8 616.1,379.8 621.8,385.9 627.5,392.2 633.2,398.7 638.9,405.3 644.6,412.1 650.3,419 656,426.1 661.7,433.4 667.4,440.8 673.1,448.4 678.8,456.1 684.5,464" fill="none" stroke="#B8860B" stroke-width="1.7"/>
<polyline points="114.1,65.3 119.8,73.2 125.5,81.1 131.2,88.9 136.9,96.6 142.6,104.2 148.3,111.7 154,119.2 159.7,126.5 165.4,133.8 171.1,141.1 176.8,148.2 182.5,155.2 188.3,162.2 194,169.1 199.7,175.9 205.4,182.7 211.1,189.3 216.8,195.9 222.5,202.4 228.2,208.8 233.9,215.2 239.6,221.4 245.3,227.6 251,233.7 256.7,239.7 262.4,245.7 268.1,251.5 273.8,257.3 279.5,263 285.2,268.6 290.9,274.2 296.6,279.6 302.3,285 308,290.3 313.7,295.5 319.4,300.7 325.1,305.8 330.9,310.7 336.6,315.6 342.3,320.5 348,325.2 353.7,329.9 359.4,334.5 365.1,339 370.8,343.4 376.5,347.7 382.2,352 387.9,356.2 393.6,360.3 399.3,364.3 405,368.3 410.7,372.1 416.4,375.9 422.1,379.6 427.8,383.3 433.5,386.8 439.2,390.3 444.9,393.7 450.6,397 456.3,400.2 462,403.4 467.7,406.4 473.5,409.4 479.2,412.3 484.9,415.2 490.6,417.9 496.3,420.6 502,423.2 507.7,425.7 513.4,428.1 519.1,430.5 524.8,432.7 530.5,434.9 536.2,437 541.9,439.1 547.6,441 553.3,442.9 559,444.7 564.7,446.4 570.4,448.1 576.1,449.6 581.8,451.1 587.5,452.5 593.2,453.8 598.9,455 604.6,456.2 610.3,457.3 616.1,458.3 621.8,459.2 627.5,460 633.2,460.8 638.9,461.4 644.6,462 650.3,462.6 656,463 661.7,463.4 667.4,463.6 673.1,463.8 678.8,464 684.5,464" fill="none" stroke="#00008B" stroke-width="1.7"/>
<polyline points="114.1,464 119.8,464 125.5,463.8 131.2,463.6 136.9,463.4 142.6,463 148.3,462.6 154,462 159.7,461.4 165.4,460.8 171.1,460 176.8,459.2 182.5,458.3 188.3,457.3 194,456.2 199.7,455 205.4,453.8 211.1,452.5 216.8,451.1 222.5,449.6 228.2,448.1 233.9,446.4 239.6,444.7 245.3,442.9 251,441 256.7,439.1 262.4,437 268.1,434.9 273.8,432.7 279.5,430.5 285.2,428.1 290.9,425.7 296.6,423.2 302.3,420.6 308,417.9 313.7,415.2 319.4,412.3 325.1,409.4 330.9,406.4 336.6,403.4 342.3,400.2 348,397 353.7,393.7 359.4,390.3 365.1,386.8 370.8,383.3 376.5,379.6 382.2,375.9 387.9,372.1 393.6,368.3 399.3,364.3 405,360.3 410.7,356.2 416.4,352 422.1,347.7 427.8,343.4 433.5,339 439.2,334.5 444.9,329.9 450.6,325.2 456.3,320.5 462,315.6 467.7,310.7 473.5,305.8 479.2,300.7 484.9,295.5 490.6,290.3 496.3,285 502,279.6 507.7,274.2 513.4,268.6 519.1,263 524.8,257.3 530.5,251.5 536.2,245.7 541.9,239.7 547.6,233.7 553.3,227.6 559,221.4 564.7,215.2 570.4,208.8 576.1,202.4 581.8,195.9 587.5,189.3 593.2,182.7 598.9,175.9 604.6,169.1 610.3,162.2 616.1,155.2 621.8,148.2 627.5,141.1 633.2,133.8 638.9,126.5 644.6,119.2 650.3,111.7 656,104.2 661.7,96.6 667.4,88.9 673.1,81.1 678.8,73.2 684.5,65.3" fill="none" stroke="#FF0000" stroke-width="1.7"/>
</g></svg>
<rect x="79.6" y="41.5" width="639.3" height="446.1" fill="none" stroke="#333333" stroke-width="1.1"/>
<line x1="114.1" y1="487.6" x2="114.1" y2="492.2" stroke="#333333" stroke-width="1.1"/>
<text x="114.1" y="512" text-anchor="middle" fill="#4D4D4D" font-size="22.5">0.00</text>
<line x1="75" y1="464" x2="79.6" y2="464" stroke="#333333" stroke-width="1.1"/>
<text x="71.4" y="472" text-anchor="end" fill="#4D4D4D" font-size="22.5">0.00</text>
<line x1="256.7" y1="487.6" x2="256.7" y2="492.2" stroke="#333333" stroke-width="1.1"/>
<text x="256.7" y="512" text-anchor="middle" fill="#4D4D4D" font-size="22.5">0.25</text>
<line x1="75" y1="364.3" x2="79.6" y2="364.3" stroke="#333333" stroke-width="1.1"/>
<text x="71.4" y="372.3" text-anchor="end" fill="#4D4D4D" font-size="22.5">0.25</text>
<line x1="399.3" y1="487.6" x2="399.3" y2="492.2" stroke="#333333" stroke-width="1.1"/>
<text x="399.3" y="512" text-anchor="middle" fill="#4D4D4D" font-size="22.5">0.50</text>
<line x1="75" y1="264.6" x2="79.6" y2="264.6" stroke="#333333" stroke-width="1.1"/>
<text x="71.4" y="272.6" text-anchor="end" fill="#4D4D4D" font-size="22.5">0.50</text>
<line x1="541.9" y1="487.6" x2="541.9" y2="492.2" stroke="#333333" stroke-width="1.1"/>
<text x="541.9" y="512" text-anchor="middle" fill="#4D4D4D" font-size="22.5">0.75</text>
<line x1="75" y1="165" x2="79.6" y2="165" stroke="#333333" stroke-width="1.1"/>
<text x="71.4" y="173" text-anchor="end" fill="#4D4D4D" font-size="22.5">0.75</text>
<line x1="684.5" y1="487.6" x2="684.5" y2="492.2" stroke="#333333" stroke-width="1.1"/>
<text x="684.5" y="512" text-anchor="middle" fill="#4D4D4D" font-size="22.5">1.00</text>
<line x1="75" y1="65.3" x2="79.6" y2="65.3" stroke="#333333" stroke-width="1.1"/>
<text x="71.4" y="73.3" text-anchor="end" fill="#4D4D4D" font-size="22.5">1.00</text>
<text x="399.2" y="538.2" text-anchor="middle" font-size="22.5">alt allele frequency</text>
<text transform="translate(18.6,264.6) rotate(-90)" x="0" y="0" text-anchor="middle" font-size="22.5">genotype frequency</text>
<text x="79.6" y="27.7" font-size="22.5">All spawners, all SNPs</text>
<text x="4.6" y="24.1" font-size="29.5" font-weight="bold">A</text>
</g>
<g id="pB">
<svg x="833.2" y="41.6" width="639.1" height="446.2" overflow="hidden"><g transform="translate(-833.2,-41.6)">
<line x1="934.4" y1="41.6" x2="934.4" y2="487.8" stroke="#EBEBEB" stroke-width="0.7"/>
<line x1="833.2" y1="413.6" x2="1472.3" y2="413.6" stroke="#EBEBEB" stroke-width="0.7"/>
<line x1="1079.8" y1="41.6" x2="1079.8" y2="487.8" stroke="#EBEBEB" stroke-width="0.7"/>
<line x1="833.2" y1="313" x2="1472.3" y2="313" stroke="#EBEBEB" stroke-width="0.7"/>
<line x1="1225.3" y1="41.6" x2="1225.3" y2="487.8" stroke="#EBEBEB" stroke-width="0.7"/>
<line x1="833.2" y1="212.3" x2="1472.3" y2="212.3" stroke="#EBEBEB" stroke-width="0.7"/>
<line x1="1370.8" y1="41.6" x2="1370.8" y2="487.8" stroke="#EBEBEB" stroke-width="0.7"/>
<line x1="833.2" y1="111.7" x2="1472.3" y2="111.7" stroke="#EBEBEB" stroke-width="0.7"/>
<line x1="861.6" y1="41.6" x2="861.6" y2="487.8" stroke="#EBEBEB" stroke-width="1.4"/>
<line x1="833.2" y1="463.9" x2="1472.3" y2="463.9" stroke="#EBEBEB" stroke-width="1.4"/>
<line x1="1007.1" y1="41.6" x2="1007.1" y2="487.8" stroke="#EBEBEB" stroke-width="1.4"/>
<line x1="833.2" y1="363.3" x2="1472.3" y2="363.3" stroke="#EBEBEB" stroke-width="1.4"/>
<line x1="1152.6" y1="41.6" x2="1152.6" y2="487.8" stroke="#EBEBEB" stroke-width="1.4"/>
<line x1="833.2" y1="262.6" x2="1472.3" y2="262.6" stroke="#EBEBEB" stroke-width="1.4"/>
<line x1="1298.1" y1="41.6" x2="1298.1" y2="487.8" stroke="#EBEBEB" stroke-width="1.4"/>
<line x1="833.2" y1="162" x2="1472.3" y2="162" stroke="#EBEBEB" stroke-width="1.4"/>
<line x1="1443.6" y1="41.6" x2="1443.6" y2="487.8" stroke="#EBEBEB" stroke-width="1.4"/>
<line x1="833.2" y1="61.4" x2="1472.3" y2="61.4" stroke="#EBEBEB" stroke-width="1.4"/>

<g fill="#AF7C0C" fill-opacity="0.11" stroke="#AF7C0C" stroke-opacity="0.11" stroke-width="1"><circle cx="973.8" cy="411.7" r="3.6"/><circle cx="1002.4" cy="275.1" r="3.6"/><circle cx="993.6" cy="277.8" r="3.6"/><circle cx="1003.0" cy="275.9" r="3.6"/><circle cx="1000.7" cy="279.1" r="3.6"/><circle cx="994.2" cy="276.6" r="3.6"/><circle cx="995.5" cy="273.8" r="3.6"/><circle cx="997.7" cy="276.1" r="3.6"/><circle cx="994.3" cy="278.8" r="3.6"/><circle cx="992.4" cy="279.4" r="3.6"/><circle cx="999.5" cy="274.8" r="3.6"/><circle cx="992.5" cy="331.8" r="3.6"/><circle cx="997.2" cy="326.6" r="3.6"/><circle cx="999.7" cy="333.7" r="3.6"/><circle cx="999.6" cy="325.5" r="3.6"/><circle cx="1000.0" cy="326.9" r="3.6"/><circle cx="996.4" cy="332.0" r="3.6"/><circle cx="1000.7" cy="327.6" r="3.6"/><circle cx="997.5" cy="331.0" r="3.6"/><circle cx="996.4" cy="328.3" r="3.6"/><circle cx="1000.8" cy="332.3" r="3.6"/><circle cx="992.7" cy="332.4" r="3.6"/><circle cx="995.3" cy="331.7" r="3.6"/><circle cx="993.9" cy="328.2" r="3.6"/><circle cx="1003.1" cy="332.9" r="3.6"/><circle cx="1002.7" cy="329.2" r="3.6"/><circle cx="992.7" cy="327.2" r="3.6"/><circle cx="1001.0" cy="326.4" r="3.6"/><circle cx="995.4" cy="328.0" r="3.6"/><circle cx="1002.3" cy="326.4" r="3.6"/><circle cx="1001.8" cy="330.8" r="3.6"/><circle cx="997.4" cy="329.9" r="3.6"/><circle cx="995.0" cy="330.9" r="3.6"/><circle cx="998.8" cy="326.6" r="3.6"/><circle cx="1002.9" cy="332.6" r="3.6"/><circle cx="995.1" cy="326.0" r="3.6"/><circle cx="1003.2" cy="327.9" r="3.6"/><circle cx="1002.4" cy="327.1" r="3.6"/><circle cx="1002.7" cy="325.6" r="3.6"/><circle cx="995.9" cy="330.0" r="3.6"/><circle cx="1000.3" cy="332.9" r="3.6"/><circle cx="998.0" cy="329.6" r="3.6"/><circle cx="997.0" cy="328.1" r="3.6"/><circle cx="992.7" cy="327.7" r="3.6"/><circle cx="993.9" cy="327.7" r="3.6"/><circle cx="998.1" cy="328.1" r="3.6"/><circle cx="992.4" cy="333.2" r="3.6"/><circle cx="1002.3" cy="331.5" r="3.6"/><circle cx="995.7" cy="331.3" r="3.6"/><circle cx="1001.4" cy="326.6" r="3.6"/><circle cx="992.8" cy="327.4" r="3.6"/><circle cx="995.2" cy="381.7" r="3.6"/><circle cx="1000.6" cy="383.0" r="3.6"/><circle cx="996.2" cy="386.0" r="3.6"/><circle cx="998.0" cy="384.6" r="3.6"/><circle cx="991.9" cy="381.1" r="3.6"/><circle cx="996.6" cy="383.4" r="3.6"/><circle cx="1000.9" cy="381.2" r="3.6"/><circle cx="1000.6" cy="385.8" r="3.6"/><circle cx="1001.2" cy="385.9" r="3.6"/><circle cx="1002.9" cy="383.7" r="3.6"/><circle cx="995.7" cy="381.9" r="3.6"/><circle cx="996.8" cy="379.8" r="3.6"/><circle cx="997.3" cy="386.6" r="3.6"/><circle cx="998.2" cy="380.6" r="3.6"/><circle cx="1000.5" cy="386.1" r="3.6"/><circle cx="994.5" cy="385.3" r="3.6"/><circle cx="991.9" cy="381.0" r="3.6"/><circle cx="992.9" cy="387.2" r="3.6"/><circle cx="1001.2" cy="383.5" r="3.6"/><circle cx="991.7" cy="379.2" r="3.6"/><circle cx="998.6" cy="382.4" r="3.6"/><circle cx="998.8" cy="383.7" r="3.6"/><circle cx="1001.0" cy="386.9" r="3.6"/><circle cx="1002.3" cy="382.2" r="3.6"/><circle cx="993.5" cy="381.0" r="3.6"/><circle cx="1002.1" cy="386.7" r="3.6"/><circle cx="994.7" cy="386.8" r="3.6"/><circle cx="992.1" cy="379.6" r="3.6"/><circle cx="1001.9" cy="384.2" r="3.6"/><circle cx="997.5" cy="387.2" r="3.6"/><circle cx="993.5" cy="379.5" r="3.6"/><circle cx="999.3" cy="385.8" r="3.6"/><circle cx="991.9" cy="386.4" r="3.6"/><circle cx="999.1" cy="386.6" r="3.6"/><circle cx="994.9" cy="385.7" r="3.6"/><circle cx="995.1" cy="385.1" r="3.6"/><circle cx="995.6" cy="382.6" r="3.6"/><circle cx="1003.1" cy="386.7" r="3.6"/><circle cx="999.9" cy="383.4" r="3.6"/><circle cx="994.2" cy="386.8" r="3.6"/><circle cx="996.0" cy="435.4" r="3.6"/><circle cx="1019.6" cy="248.8" r="3.6"/><circle cx="1018.7" cy="245.5" r="3.6"/><circle cx="1022.1" cy="253.3" r="3.6"/><circle cx="1018.7" cy="252.8" r="3.6"/><circle cx="1020.9" cy="250.1" r="3.6"/><circle cx="1019.7" cy="305.2" r="3.6"/><circle cx="1015.5" cy="300.4" r="3.6"/><circle cx="1014.7" cy="303.8" r="3.6"/><circle cx="1016.4" cy="298.8" r="3.6"/><circle cx="1016.1" cy="302.9" r="3.6"/><circle cx="1022.3" cy="299.4" r="3.6"/><circle cx="1015.6" cy="306.0" r="3.6"/><circle cx="1021.0" cy="303.9" r="3.6"/><circle cx="1017.6" cy="306.9" r="3.6"/><circle cx="1012.0" cy="303.0" r="3.6"/><circle cx="1014.0" cy="303.6" r="3.6"/><circle cx="1019.1" cy="305.2" r="3.6"/><circle cx="1017.4" cy="307.1" r="3.6"/><circle cx="1012.1" cy="299.3" r="3.6"/><circle cx="1022.6" cy="306.4" r="3.6"/><circle cx="1013.7" cy="304.2" r="3.6"/><circle cx="1016.0" cy="303.6" r="3.6"/><circle cx="1012.8" cy="306.8" r="3.6"/><circle cx="1018.6" cy="354.3" r="3.6"/><circle cx="1016.8" cy="354.9" r="3.6"/><circle cx="1022.0" cy="352.3" r="3.6"/><circle cx="1022.1" cy="353.1" r="3.6"/><circle cx="1017.5" cy="359.3" r="3.6"/><circle cx="1017.2" cy="359.8" r="3.6"/><circle cx="1015.8" cy="354.9" r="3.6"/><circle cx="1015.5" cy="357.0" r="3.6"/><circle cx="1018.6" cy="352.8" r="3.6"/><circle cx="1021.6" cy="356.6" r="3.6"/><circle cx="1017.7" cy="409.5" r="3.6"/><circle cx="1016.7" cy="406.2" r="3.6"/><circle cx="1022.2" cy="406.3" r="3.6"/><circle cx="1016.6" cy="408.9" r="3.6"/><circle cx="1035.9" cy="225.3" r="3.6"/><circle cx="1041.9" cy="224.7" r="3.6"/><circle cx="1034.3" cy="223.7" r="3.6"/><circle cx="1031.8" cy="223.4" r="3.6"/><circle cx="1036.6" cy="220.0" r="3.6"/><circle cx="1037.3" cy="272.6" r="3.6"/><circle cx="1039.6" cy="278.8" r="3.6"/><circle cx="1033.8" cy="273.0" r="3.6"/><circle cx="1037.2" cy="276.0" r="3.6"/><circle cx="1031.1" cy="327.9" r="3.6"/><circle cx="1040.8" cy="333.6" r="3.6"/><circle cx="1039.9" cy="331.6" r="3.6"/><circle cx="1041.9" cy="328.3" r="3.6"/><circle cx="1032.3" cy="331.9" r="3.6"/><circle cx="1036.3" cy="332.6" r="3.6"/><circle cx="1033.4" cy="326.0" r="3.6"/><circle cx="1039.2" cy="331.6" r="3.6"/><circle cx="1037.5" cy="328.5" r="3.6"/><circle cx="1035.3" cy="332.4" r="3.6"/><circle cx="1035.7" cy="332.8" r="3.6"/><circle cx="1030.7" cy="331.7" r="3.6"/><circle cx="1041.2" cy="332.1" r="3.6"/><circle cx="1038.1" cy="333.8" r="3.6"/><circle cx="1034.5" cy="327.5" r="3.6"/><circle cx="1030.7" cy="328.4" r="3.6"/><circle cx="1031.1" cy="332.3" r="3.6"/><circle cx="1032.5" cy="333.7" r="3.6"/><circle cx="1040.8" cy="333.1" r="3.6"/><circle cx="1041.2" cy="328.0" r="3.6"/><circle cx="1037.3" cy="333.5" r="3.6"/><circle cx="1034.1" cy="327.1" r="3.6"/><circle cx="1035.8" cy="331.9" r="3.6"/><circle cx="1039.4" cy="333.8" r="3.6"/><circle cx="1030.8" cy="331.5" r="3.6"/><circle cx="1033.6" cy="331.4" r="3.6"/><circle cx="1041.2" cy="326.6" r="3.6"/><circle cx="1034.7" cy="331.8" r="3.6"/><circle cx="1036.7" cy="333.6" r="3.6"/><circle cx="1037.9" cy="331.5" r="3.6"/><circle cx="1030.8" cy="325.6" r="3.6"/><circle cx="1031.6" cy="332.4" r="3.6"/><circle cx="1038.8" cy="328.1" r="3.6"/><circle cx="1038.3" cy="330.8" r="3.6"/><circle cx="1034.4" cy="328.2" r="3.6"/><circle cx="1041.3" cy="332.6" r="3.6"/><circle cx="1032.2" cy="325.8" r="3.6"/><circle cx="1033.2" cy="330.6" r="3.6"/><circle cx="1030.6" cy="328.2" r="3.6"/><circle cx="1036.3" cy="326.7" r="3.6"/><circle cx="1032.4" cy="437.3" r="3.6"/><circle cx="1041.7" cy="437.5" r="3.6"/><circle cx="1051.6" cy="193.4" r="3.6"/><circle cx="1056.2" cy="197.1" r="3.6"/><circle cx="1057.9" cy="198.1" r="3.6"/><circle cx="1061.4" cy="191.5" r="3.6"/><circle cx="1055.9" cy="302.5" r="3.6"/><circle cx="1051.4" cy="301.5" r="3.6"/><circle cx="1055.6" cy="304.5" r="3.6"/><circle cx="1050.8" cy="304.2" r="3.6"/><circle cx="1060.1" cy="304.8" r="3.6"/><circle cx="1055.5" cy="353.5" r="3.6"/><circle cx="1049.9" cy="359.1" r="3.6"/><circle cx="1053.0" cy="354.4" r="3.6"/><circle cx="1050.6" cy="360.7" r="3.6"/><circle cx="1054.6" cy="357.0" r="3.6"/><circle cx="1056.6" cy="357.6" r="3.6"/><circle cx="1057.6" cy="413.3" r="3.6"/><circle cx="1054.1" cy="413.4" r="3.6"/><circle cx="1051.7" cy="413.9" r="3.6"/><circle cx="1070.1" cy="272.5" r="3.6"/><circle cx="1075.0" cy="275.6" r="3.6"/><circle cx="1073.0" cy="273.0" r="3.6"/><circle cx="1077.1" cy="325.5" r="3.6"/><circle cx="1069.2" cy="333.0" r="3.6"/><circle cx="1078.7" cy="329.9" r="3.6"/><circle cx="1076.7" cy="333.1" r="3.6"/><circle cx="1069.2" cy="387.6" r="3.6"/><circle cx="1071.7" cy="385.8" r="3.6"/><circle cx="1071.8" cy="379.8" r="3.6"/><circle cx="1077.2" cy="385.1" r="3.6"/><circle cx="1069.8" cy="383.3" r="3.6"/><circle cx="1079.7" cy="437.1" r="3.6"/><circle cx="1074.0" cy="438.9" r="3.6"/><circle cx="1069.9" cy="436.2" r="3.6"/><circle cx="1079.4" cy="434.8" r="3.6"/><circle cx="1090.6" cy="144.5" r="3.6"/><circle cx="1093.3" cy="199.4" r="3.6"/><circle cx="1098.5" cy="353.2" r="3.6"/><circle cx="1095.5" cy="359.4" r="3.6"/><circle cx="1094.0" cy="360.7" r="3.6"/><circle cx="1099.2" cy="356.1" r="3.6"/><circle cx="1098.6" cy="356.7" r="3.6"/><circle cx="1091.5" cy="357.6" r="3.6"/><circle cx="1092.5" cy="357.0" r="3.6"/><circle cx="1096.0" cy="356.6" r="3.6"/><circle cx="1093.0" cy="358.3" r="3.6"/><circle cx="1097.6" cy="355.0" r="3.6"/><circle cx="1100.1" cy="407.1" r="3.6"/><circle cx="1092.4" cy="414.0" r="3.6"/><circle cx="1096.7" cy="413.8" r="3.6"/><circle cx="1098.7" cy="408.8" r="3.6"/><circle cx="1095.6" cy="406.5" r="3.6"/><circle cx="1094.6" cy="468.0" r="3.6"/><circle cx="1094.5" cy="466.3" r="3.6"/><circle cx="1099.2" cy="465.2" r="3.6"/><circle cx="1094.8" cy="466.0" r="3.6"/><circle cx="1089.9" cy="466.7" r="3.6"/><circle cx="1109.2" cy="220.3" r="3.6"/><circle cx="1113.5" cy="221.7" r="3.6"/><circle cx="1113.5" cy="328.2" r="3.6"/><circle cx="1111.6" cy="331.5" r="3.6"/><circle cx="1116.5" cy="328.5" r="3.6"/><circle cx="1115.5" cy="329.8" r="3.6"/><circle cx="1108.3" cy="329.8" r="3.6"/><circle cx="1113.7" cy="384.8" r="3.6"/><circle cx="1109.9" cy="382.7" r="3.6"/><circle cx="1108.0" cy="385.7" r="3.6"/><circle cx="1109.9" cy="379.3" r="3.6"/><circle cx="1115.0" cy="385.9" r="3.6"/><circle cx="1117.0" cy="383.0" r="3.6"/><circle cx="1112.2" cy="385.5" r="3.6"/><circle cx="1115.6" cy="386.1" r="3.6"/><circle cx="1113.3" cy="379.9" r="3.6"/><circle cx="1116.4" cy="381.8" r="3.6"/><circle cx="1109.2" cy="380.5" r="3.6"/><circle cx="1111.4" cy="382.6" r="3.6"/><circle cx="1113.3" cy="385.4" r="3.6"/><circle cx="1113.8" cy="435.8" r="3.6"/><circle cx="1111.2" cy="435.2" r="3.6"/><circle cx="1108.3" cy="440.6" r="3.6"/><circle cx="1138.9" cy="250.6" r="3.6"/><circle cx="1138.8" cy="249.1" r="3.6"/><circle cx="1138.3" cy="353.9" r="3.6"/><circle cx="1134.0" cy="356.6" r="3.6"/><circle cx="1132.0" cy="358.5" r="3.6"/><circle cx="1127.9" cy="360.6" r="3.6"/><circle cx="1137.0" cy="360.9" r="3.6"/><circle cx="1138.8" cy="357.3" r="3.6"/><circle cx="1131.9" cy="353.3" r="3.6"/><circle cx="1129.8" cy="353.0" r="3.6"/><circle cx="1132.4" cy="358.4" r="3.6"/><circle cx="1133.1" cy="358.7" r="3.6"/><circle cx="1132.1" cy="357.8" r="3.6"/><circle cx="1131.8" cy="353.9" r="3.6"/><circle cx="1128.8" cy="358.3" r="3.6"/><circle cx="1134.0" cy="412.2" r="3.6"/><circle cx="1127.5" cy="460.3" r="3.6"/><circle cx="1137.7" cy="461.3" r="3.6"/><circle cx="1134.1" cy="461.1" r="3.6"/><circle cx="1149.1" cy="221.5" r="3.6"/><circle cx="1152.7" cy="272.4" r="3.6"/><circle cx="1153.0" cy="276.6" r="3.6"/><circle cx="1152.3" cy="382.3" r="3.6"/><circle cx="1155.7" cy="387.2" r="3.6"/><circle cx="1157.0" cy="386.8" r="3.6"/><circle cx="1151.6" cy="379.4" r="3.6"/><circle cx="1147.1" cy="380.8" r="3.6"/><circle cx="1149.8" cy="438.4" r="3.6"/><circle cx="1151.2" cy="439.1" r="3.6"/><circle cx="1155.7" cy="441.2" r="3.6"/><circle cx="1177.0" cy="299.3" r="3.6"/><circle cx="1170.4" cy="300.3" r="3.6"/><circle cx="1171.8" cy="358.5" r="3.6"/><circle cx="1169.0" cy="353.5" r="3.6"/><circle cx="1173.1" cy="353.2" r="3.6"/><circle cx="1175.5" cy="355.8" r="3.6"/><circle cx="1171.2" cy="410.1" r="3.6"/><circle cx="1166.3" cy="409.4" r="3.6"/><circle cx="1176.9" cy="406.4" r="3.6"/><circle cx="1175.7" cy="407.9" r="3.6"/><circle cx="1169.6" cy="409.7" r="3.6"/><circle cx="1174.2" cy="406.8" r="3.6"/><circle cx="1192.2" cy="331.2" r="3.6"/><circle cx="1190.3" cy="332.8" r="3.6"/><circle cx="1196.9" cy="333.0" r="3.6"/><circle cx="1195.3" cy="387.4" r="3.6"/><circle cx="1215.7" cy="248.1" r="3.6"/><circle cx="1215.8" cy="304.1" r="3.6"/><circle cx="1205.5" cy="302.7" r="3.6"/><circle cx="1214.5" cy="354.1" r="3.6"/><circle cx="1210.0" cy="406.5" r="3.6"/><circle cx="1210.9" cy="461.6" r="3.6"/><circle cx="1235.2" cy="332.0" r="3.6"/><circle cx="1225.0" cy="332.2" r="3.6"/><circle cx="1230.5" cy="333.3" r="3.6"/><circle cx="1244.8" cy="360.6" r="3.6"/><circle cx="1254.5" cy="359.4" r="3.6"/><circle cx="1251.2" cy="356.2" r="3.6"/><circle cx="1286.9" cy="301.1" r="3.6"/><circle cx="1303.5" cy="380.8" r="3.6"/><circle cx="1312.8" cy="438.8" r="3.6"/></g>
<g fill="#03028A" filter="url(#blur1)"><rect x="1027.2" y="214.9" width="18" height="15" rx="4.6"/></g>
<g fill="#03028A" fill-opacity="0.11" stroke="#03028A" stroke-opacity="0.11" stroke-width="1"><circle cx="973.8" cy="168.1" r="3.6"/><circle cx="974.2" cy="169.7" r="3.6"/><circle cx="998.4" cy="171.0" r="3.6"/><circle cx="1002.3" cy="198.8" r="3.6"/><circle cx="996.9" cy="194.7" r="3.6"/><circle cx="1002.6" cy="194.0" r="3.6"/><circle cx="995.2" cy="196.2" r="3.6"/><circle cx="998.1" cy="197.3" r="3.6"/><circle cx="1002.8" cy="197.7" r="3.6"/><circle cx="1000.8" cy="199.8" r="3.6"/><circle cx="1000.1" cy="198.3" r="3.6"/><circle cx="998.2" cy="194.5" r="3.6"/><circle cx="999.7" cy="199.8" r="3.6"/><circle cx="996.4" cy="196.7" r="3.6"/><circle cx="995.5" cy="195.4" r="3.6"/><circle cx="992.6" cy="191.9" r="3.6"/><circle cx="996.2" cy="197.2" r="3.6"/><circle cx="999.3" cy="192.4" r="3.6"/><circle cx="997.0" cy="192.0" r="3.6"/><circle cx="1002.9" cy="193.5" r="3.6"/><circle cx="993.5" cy="192.4" r="3.6"/><circle cx="998.4" cy="199.7" r="3.6"/><circle cx="995.6" cy="194.1" r="3.6"/><circle cx="998.4" cy="193.2" r="3.6"/><circle cx="997.8" cy="197.7" r="3.6"/><circle cx="1001.6" cy="192.1" r="3.6"/><circle cx="1000.3" cy="199.7" r="3.6"/><circle cx="991.9" cy="194.8" r="3.6"/><circle cx="995.6" cy="194.9" r="3.6"/><circle cx="997.9" cy="192.0" r="3.6"/><circle cx="996.5" cy="197.4" r="3.6"/><circle cx="998.7" cy="198.6" r="3.6"/><circle cx="998.4" cy="193.9" r="3.6"/><circle cx="1001.0" cy="198.8" r="3.6"/><circle cx="1000.5" cy="195.7" r="3.6"/><circle cx="995.6" cy="191.6" r="3.6"/><circle cx="1002.9" cy="196.0" r="3.6"/><circle cx="994.7" cy="197.3" r="3.6"/><circle cx="995.9" cy="195.7" r="3.6"/><circle cx="992.2" cy="194.1" r="3.6"/><circle cx="992.8" cy="193.8" r="3.6"/><circle cx="995.8" cy="198.8" r="3.6"/><circle cx="999.3" cy="191.8" r="3.6"/><circle cx="993.3" cy="194.7" r="3.6"/><circle cx="1002.7" cy="199.1" r="3.6"/><circle cx="993.1" cy="192.1" r="3.6"/><circle cx="995.0" cy="198.2" r="3.6"/><circle cx="996.8" cy="196.6" r="3.6"/><circle cx="995.7" cy="192.2" r="3.6"/><circle cx="996.2" cy="193.8" r="3.6"/><circle cx="992.7" cy="199.7" r="3.6"/><circle cx="993.6" cy="199.3" r="3.6"/><circle cx="1001.8" cy="198.3" r="3.6"/><circle cx="994.7" cy="197.0" r="3.6"/><circle cx="996.0" cy="195.6" r="3.6"/><circle cx="1000.4" cy="193.7" r="3.6"/><circle cx="992.0" cy="194.6" r="3.6"/><circle cx="995.0" cy="195.1" r="3.6"/><circle cx="998.2" cy="196.7" r="3.6"/><circle cx="992.6" cy="194.3" r="3.6"/><circle cx="993.1" cy="198.8" r="3.6"/><circle cx="1002.0" cy="221.5" r="3.6"/><circle cx="993.2" cy="220.1" r="3.6"/><circle cx="1000.0" cy="219.3" r="3.6"/><circle cx="999.6" cy="218.7" r="3.6"/><circle cx="997.6" cy="225.3" r="3.6"/><circle cx="995.0" cy="222.5" r="3.6"/><circle cx="1001.6" cy="219.0" r="3.6"/><circle cx="1001.6" cy="218.1" r="3.6"/><circle cx="996.4" cy="219.7" r="3.6"/><circle cx="996.0" cy="218.2" r="3.6"/><circle cx="999.9" cy="219.2" r="3.6"/><circle cx="993.6" cy="218.4" r="3.6"/><circle cx="994.2" cy="221.8" r="3.6"/><circle cx="999.8" cy="226.6" r="3.6"/><circle cx="992.8" cy="226.6" r="3.6"/><circle cx="998.5" cy="222.9" r="3.6"/><circle cx="997.8" cy="219.5" r="3.6"/><circle cx="1001.1" cy="218.5" r="3.6"/><circle cx="1002.4" cy="218.1" r="3.6"/><circle cx="993.4" cy="218.8" r="3.6"/><circle cx="992.3" cy="222.6" r="3.6"/><circle cx="1002.7" cy="219.7" r="3.6"/><circle cx="999.8" cy="218.1" r="3.6"/><circle cx="1000.9" cy="218.3" r="3.6"/><circle cx="1001.3" cy="224.2" r="3.6"/><circle cx="992.6" cy="223.3" r="3.6"/><circle cx="997.5" cy="225.5" r="3.6"/><circle cx="996.7" cy="222.4" r="3.6"/><circle cx="993.3" cy="221.2" r="3.6"/><circle cx="997.1" cy="218.8" r="3.6"/><circle cx="992.6" cy="222.9" r="3.6"/><circle cx="1001.7" cy="224.0" r="3.6"/><circle cx="992.1" cy="219.7" r="3.6"/><circle cx="998.1" cy="222.1" r="3.6"/><circle cx="1002.4" cy="221.8" r="3.6"/><circle cx="994.9" cy="218.6" r="3.6"/><circle cx="999.2" cy="220.4" r="3.6"/><circle cx="995.7" cy="222.0" r="3.6"/><circle cx="1000.2" cy="225.8" r="3.6"/><circle cx="1000.5" cy="223.8" r="3.6"/><circle cx="1000.2" cy="226.3" r="3.6"/><circle cx="996.0" cy="225.7" r="3.6"/><circle cx="993.0" cy="223.4" r="3.6"/><circle cx="996.1" cy="222.6" r="3.6"/><circle cx="994.3" cy="226.6" r="3.6"/><circle cx="995.2" cy="221.7" r="3.6"/><circle cx="992.2" cy="220.9" r="3.6"/><circle cx="991.8" cy="224.2" r="3.6"/><circle cx="993.8" cy="224.2" r="3.6"/><circle cx="1000.5" cy="223.0" r="3.6"/><circle cx="998.7" cy="226.6" r="3.6"/><circle cx="994.1" cy="220.2" r="3.6"/><circle cx="995.1" cy="218.7" r="3.6"/><circle cx="992.2" cy="224.0" r="3.6"/><circle cx="997.1" cy="222.2" r="3.6"/><circle cx="996.9" cy="225.6" r="3.6"/><circle cx="996.9" cy="219.7" r="3.6"/><circle cx="994.0" cy="224.7" r="3.6"/><circle cx="998.5" cy="247.7" r="3.6"/><circle cx="993.3" cy="246.7" r="3.6"/><circle cx="1000.4" cy="249.7" r="3.6"/><circle cx="1002.1" cy="249.1" r="3.6"/><circle cx="992.2" cy="249.9" r="3.6"/><circle cx="993.2" cy="245.3" r="3.6"/><circle cx="1017.0" cy="171.0" r="3.6"/><circle cx="1020.5" cy="168.1" r="3.6"/><circle cx="1021.2" cy="167.8" r="3.6"/><circle cx="1018.5" cy="199.5" r="3.6"/><circle cx="1012.2" cy="198.4" r="3.6"/><circle cx="1016.7" cy="195.8" r="3.6"/><circle cx="1018.9" cy="197.3" r="3.6"/><circle cx="1012.5" cy="192.0" r="3.6"/><circle cx="1020.9" cy="192.6" r="3.6"/><circle cx="1013.6" cy="192.7" r="3.6"/><circle cx="1021.4" cy="195.2" r="3.6"/><circle cx="1020.0" cy="192.9" r="3.6"/><circle cx="1021.6" cy="194.3" r="3.6"/><circle cx="1020.3" cy="195.6" r="3.6"/><circle cx="1022.2" cy="199.4" r="3.6"/><circle cx="1020.5" cy="198.4" r="3.6"/><circle cx="1016.0" cy="221.9" r="3.6"/><circle cx="1021.4" cy="218.9" r="3.6"/><circle cx="1013.5" cy="219.1" r="3.6"/><circle cx="1013.0" cy="219.1" r="3.6"/><circle cx="1022.1" cy="218.5" r="3.6"/><circle cx="1021.0" cy="224.4" r="3.6"/><circle cx="1021.0" cy="221.6" r="3.6"/><circle cx="1014.0" cy="222.4" r="3.6"/><circle cx="1021.4" cy="223.5" r="3.6"/><circle cx="1014.8" cy="225.4" r="3.6"/><circle cx="1012.4" cy="223.2" r="3.6"/><circle cx="1022.0" cy="224.5" r="3.6"/><circle cx="1019.1" cy="224.4" r="3.6"/><circle cx="1011.3" cy="218.4" r="3.6"/><circle cx="1012.1" cy="221.0" r="3.6"/><circle cx="1018.0" cy="220.0" r="3.6"/><circle cx="1019.0" cy="225.9" r="3.6"/><circle cx="1014.2" cy="219.0" r="3.6"/><circle cx="1012.3" cy="218.6" r="3.6"/><circle cx="1017.3" cy="220.2" r="3.6"/><circle cx="1020.9" cy="220.5" r="3.6"/><circle cx="1018.4" cy="221.0" r="3.6"/><circle cx="1020.7" cy="224.9" r="3.6"/><circle cx="1018.4" cy="223.6" r="3.6"/><circle cx="1011.5" cy="219.6" r="3.6"/><circle cx="1017.7" cy="223.7" r="3.6"/><circle cx="1018.7" cy="218.6" r="3.6"/><circle cx="1013.2" cy="219.4" r="3.6"/><circle cx="1017.9" cy="224.3" r="3.6"/><circle cx="1017.0" cy="221.9" r="3.6"/><circle cx="1021.3" cy="224.6" r="3.6"/><circle cx="1019.8" cy="226.7" r="3.6"/><circle cx="1011.1" cy="225.6" r="3.6"/><circle cx="1022.5" cy="226.6" r="3.6"/><circle cx="1014.8" cy="218.2" r="3.6"/><circle cx="1013.6" cy="221.0" r="3.6"/><circle cx="1021.3" cy="221.5" r="3.6"/><circle cx="1022.2" cy="223.7" r="3.6"/><circle cx="1018.0" cy="221.2" r="3.6"/><circle cx="1020.7" cy="221.3" r="3.6"/><circle cx="1017.0" cy="223.2" r="3.6"/><circle cx="1020.4" cy="221.1" r="3.6"/><circle cx="1013.9" cy="223.7" r="3.6"/><circle cx="1022.0" cy="226.0" r="3.6"/><circle cx="1016.0" cy="223.9" r="3.6"/><circle cx="1013.8" cy="224.3" r="3.6"/><circle cx="1017.6" cy="219.9" r="3.6"/><circle cx="1021.1" cy="253.4" r="3.6"/><circle cx="1019.5" cy="245.5" r="3.6"/><circle cx="1011.3" cy="248.4" r="3.6"/><circle cx="1015.0" cy="244.9" r="3.6"/><circle cx="1012.7" cy="249.7" r="3.6"/><circle cx="1021.1" cy="249.1" r="3.6"/><circle cx="1017.3" cy="252.3" r="3.6"/><circle cx="1014.7" cy="246.9" r="3.6"/><circle cx="1020.8" cy="250.0" r="3.6"/><circle cx="1020.4" cy="248.7" r="3.6"/><circle cx="1011.4" cy="249.5" r="3.6"/><circle cx="1013.4" cy="249.0" r="3.6"/><circle cx="1021.7" cy="247.6" r="3.6"/><circle cx="1020.5" cy="278.5" r="3.6"/><circle cx="1020.2" cy="276.9" r="3.6"/><circle cx="1018.8" cy="273.6" r="3.6"/><circle cx="1019.2" cy="274.5" r="3.6"/><circle cx="1013.5" cy="275.6" r="3.6"/><circle cx="1020.6" cy="276.7" r="3.6"/><circle cx="1016.7" cy="277.2" r="3.6"/><circle cx="1013.1" cy="280.1" r="3.6"/><circle cx="1020.5" cy="272.4" r="3.6"/><circle cx="1020.7" cy="272.3" r="3.6"/><circle cx="1032.9" cy="198.3" r="3.6"/><circle cx="1035.9" cy="199.2" r="3.6"/><circle cx="1031.8" cy="193.9" r="3.6"/><circle cx="1035.8" cy="192.6" r="3.6"/><circle cx="1032.0" cy="199.6" r="3.6"/><circle cx="1036.3" cy="224.4" r="3.6"/><circle cx="1035.3" cy="225.4" r="3.6"/><circle cx="1041.4" cy="218.1" r="3.6"/><circle cx="1039.9" cy="220.2" r="3.6"/><circle cx="1034.4" cy="221.5" r="3.6"/><circle cx="1034.1" cy="220.2" r="3.6"/><circle cx="1041.8" cy="225.9" r="3.6"/><circle cx="1034.6" cy="222.6" r="3.6"/><circle cx="1038.2" cy="245.2" r="3.6"/><circle cx="1040.3" cy="253.2" r="3.6"/><circle cx="1032.2" cy="251.9" r="3.6"/><circle cx="1041.4" cy="248.9" r="3.6"/><circle cx="1032.8" cy="252.7" r="3.6"/><circle cx="1037.3" cy="250.0" r="3.6"/><circle cx="1039.5" cy="252.7" r="3.6"/><circle cx="1039.3" cy="245.6" r="3.6"/><circle cx="1034.0" cy="251.3" r="3.6"/><circle cx="1039.5" cy="250.1" r="3.6"/><circle cx="1036.8" cy="249.3" r="3.6"/><circle cx="1032.0" cy="247.6" r="3.6"/><circle cx="1031.8" cy="245.2" r="3.6"/><circle cx="1038.0" cy="248.1" r="3.6"/><circle cx="1038.1" cy="251.8" r="3.6"/><circle cx="1040.4" cy="249.3" r="3.6"/><circle cx="1036.6" cy="250.7" r="3.6"/><circle cx="1039.1" cy="248.5" r="3.6"/><circle cx="1033.9" cy="249.8" r="3.6"/><circle cx="1034.9" cy="251.5" r="3.6"/><circle cx="1036.0" cy="247.9" r="3.6"/><circle cx="1037.7" cy="248.8" r="3.6"/><circle cx="1035.8" cy="246.9" r="3.6"/><circle cx="1031.9" cy="251.7" r="3.6"/><circle cx="1034.9" cy="247.4" r="3.6"/><circle cx="1038.7" cy="249.9" r="3.6"/><circle cx="1036.0" cy="253.1" r="3.6"/><circle cx="1034.6" cy="253.4" r="3.6"/><circle cx="1039.9" cy="249.9" r="3.6"/><circle cx="1040.6" cy="250.4" r="3.6"/><circle cx="1033.3" cy="250.4" r="3.6"/><circle cx="1040.3" cy="250.3" r="3.6"/><circle cx="1032.8" cy="249.1" r="3.6"/><circle cx="1031.0" cy="253.4" r="3.6"/><circle cx="1040.8" cy="250.0" r="3.6"/><circle cx="1032.1" cy="252.3" r="3.6"/><circle cx="1035.8" cy="248.4" r="3.6"/><circle cx="1032.7" cy="246.7" r="3.6"/><circle cx="1038.1" cy="246.6" r="3.6"/><circle cx="1038.1" cy="250.0" r="3.6"/><circle cx="1040.6" cy="248.5" r="3.6"/><circle cx="1041.8" cy="247.3" r="3.6"/><circle cx="1033.5" cy="251.0" r="3.6"/><circle cx="1037.9" cy="250.4" r="3.6"/><circle cx="1037.5" cy="251.5" r="3.6"/><circle cx="1038.2" cy="246.5" r="3.6"/><circle cx="1037.5" cy="245.5" r="3.6"/><circle cx="1033.2" cy="249.7" r="3.6"/><circle cx="1035.8" cy="251.5" r="3.6"/><circle cx="1041.5" cy="246.2" r="3.6"/><circle cx="1041.4" cy="249.3" r="3.6"/><circle cx="1034.7" cy="252.7" r="3.6"/><circle cx="1034.1" cy="250.8" r="3.6"/><circle cx="1036.9" cy="249.3" r="3.6"/><circle cx="1040.3" cy="250.2" r="3.6"/><circle cx="1037.4" cy="250.0" r="3.6"/><circle cx="1039.8" cy="251.7" r="3.6"/><circle cx="1032.6" cy="253.5" r="3.6"/><circle cx="1033.0" cy="275.5" r="3.6"/><circle cx="1036.0" cy="276.8" r="3.6"/><circle cx="1033.1" cy="279.8" r="3.6"/><circle cx="1037.3" cy="304.1" r="3.6"/><circle cx="1040.4" cy="305.6" r="3.6"/><circle cx="1037.3" cy="302.0" r="3.6"/><circle cx="1035.8" cy="301.3" r="3.6"/><circle cx="1030.8" cy="301.1" r="3.6"/><circle cx="1035.4" cy="304.1" r="3.6"/><circle cx="1050.8" cy="221.3" r="3.6"/><circle cx="1060.8" cy="221.4" r="3.6"/><circle cx="1056.5" cy="223.8" r="3.6"/><circle cx="1059.1" cy="225.4" r="3.6"/><circle cx="1051.7" cy="225.0" r="3.6"/><circle cx="1056.4" cy="252.8" r="3.6"/><circle cx="1051.3" cy="250.1" r="3.6"/><circle cx="1060.6" cy="249.3" r="3.6"/><circle cx="1057.8" cy="245.4" r="3.6"/><circle cx="1056.4" cy="248.1" r="3.6"/><circle cx="1053.5" cy="246.2" r="3.6"/><circle cx="1051.5" cy="245.8" r="3.6"/><circle cx="1058.8" cy="252.5" r="3.6"/><circle cx="1055.1" cy="248.6" r="3.6"/><circle cx="1057.8" cy="247.3" r="3.6"/><circle cx="1054.6" cy="245.1" r="3.6"/><circle cx="1050.3" cy="245.2" r="3.6"/><circle cx="1052.7" cy="252.1" r="3.6"/><circle cx="1052.9" cy="250.7" r="3.6"/><circle cx="1051.5" cy="251.5" r="3.6"/><circle cx="1056.3" cy="246.8" r="3.6"/><circle cx="1050.6" cy="250.9" r="3.6"/><circle cx="1061.0" cy="248.2" r="3.6"/><circle cx="1060.7" cy="249.1" r="3.6"/><circle cx="1057.1" cy="248.8" r="3.6"/><circle cx="1061.4" cy="249.6" r="3.6"/><circle cx="1055.6" cy="250.8" r="3.6"/><circle cx="1055.5" cy="249.4" r="3.6"/><circle cx="1051.7" cy="246.7" r="3.6"/><circle cx="1054.5" cy="250.7" r="3.6"/><circle cx="1054.6" cy="275.8" r="3.6"/><circle cx="1050.7" cy="275.6" r="3.6"/><circle cx="1059.5" cy="272.4" r="3.6"/><circle cx="1057.0" cy="278.8" r="3.6"/><circle cx="1053.4" cy="275.9" r="3.6"/><circle cx="1051.2" cy="276.1" r="3.6"/><circle cx="1060.5" cy="277.5" r="3.6"/><circle cx="1055.6" cy="275.3" r="3.6"/><circle cx="1058.0" cy="272.6" r="3.6"/><circle cx="1054.3" cy="273.6" r="3.6"/><circle cx="1051.8" cy="299.5" r="3.6"/><circle cx="1055.8" cy="301.7" r="3.6"/><circle cx="1059.7" cy="333.6" r="3.6"/><circle cx="1057.3" cy="332.8" r="3.6"/><circle cx="1056.7" cy="331.0" r="3.6"/><circle cx="1060.8" cy="332.2" r="3.6"/><circle cx="1075.0" cy="225.4" r="3.6"/><circle cx="1077.8" cy="222.1" r="3.6"/><circle cx="1072.4" cy="226.2" r="3.6"/><circle cx="1072.7" cy="224.8" r="3.6"/><circle cx="1079.4" cy="221.6" r="3.6"/><circle cx="1070.3" cy="219.0" r="3.6"/><circle cx="1074.5" cy="251.8" r="3.6"/><circle cx="1071.5" cy="248.3" r="3.6"/><circle cx="1073.4" cy="247.2" r="3.6"/><circle cx="1070.8" cy="247.0" r="3.6"/><circle cx="1080.7" cy="252.2" r="3.6"/><circle cx="1071.8" cy="250.9" r="3.6"/><circle cx="1074.4" cy="246.5" r="3.6"/><circle cx="1069.5" cy="246.8" r="3.6"/><circle cx="1078.1" cy="249.0" r="3.6"/><circle cx="1076.9" cy="250.5" r="3.6"/><circle cx="1069.5" cy="248.6" r="3.6"/><circle cx="1077.8" cy="249.7" r="3.6"/><circle cx="1078.3" cy="251.7" r="3.6"/><circle cx="1069.6" cy="251.1" r="3.6"/><circle cx="1069.9" cy="250.6" r="3.6"/><circle cx="1077.9" cy="247.7" r="3.6"/><circle cx="1078.5" cy="246.6" r="3.6"/><circle cx="1069.6" cy="246.8" r="3.6"/><circle cx="1079.5" cy="246.6" r="3.6"/><circle cx="1071.6" cy="247.9" r="3.6"/><circle cx="1070.6" cy="252.0" r="3.6"/><circle cx="1080.4" cy="252.4" r="3.6"/><circle cx="1077.9" cy="245.5" r="3.6"/><circle cx="1080.6" cy="245.2" r="3.6"/><circle cx="1072.0" cy="249.9" r="3.6"/><circle cx="1074.8" cy="274.5" r="3.6"/><circle cx="1070.6" cy="276.5" r="3.6"/><circle cx="1075.0" cy="273.8" r="3.6"/><circle cx="1079.0" cy="272.4" r="3.6"/><circle cx="1073.2" cy="272.1" r="3.6"/><circle cx="1072.5" cy="277.5" r="3.6"/><circle cx="1073.0" cy="299.3" r="3.6"/><circle cx="1077.6" cy="304.0" r="3.6"/><circle cx="1070.4" cy="298.7" r="3.6"/><circle cx="1092.4" cy="226.5" r="3.6"/><circle cx="1089.6" cy="223.6" r="3.6"/><circle cx="1090.2" cy="219.9" r="3.6"/><circle cx="1100.0" cy="224.9" r="3.6"/><circle cx="1093.0" cy="221.1" r="3.6"/><circle cx="1095.7" cy="218.5" r="3.6"/><circle cx="1089.2" cy="223.3" r="3.6"/><circle cx="1097.9" cy="218.5" r="3.6"/><circle cx="1095.6" cy="218.7" r="3.6"/><circle cx="1095.3" cy="219.1" r="3.6"/><circle cx="1098.9" cy="248.1" r="3.6"/><circle cx="1099.7" cy="248.1" r="3.6"/><circle cx="1091.3" cy="246.7" r="3.6"/><circle cx="1095.0" cy="252.4" r="3.6"/><circle cx="1094.1" cy="246.8" r="3.6"/><circle cx="1096.5" cy="250.7" r="3.6"/><circle cx="1089.2" cy="246.0" r="3.6"/><circle cx="1091.4" cy="249.2" r="3.6"/><circle cx="1093.3" cy="246.5" r="3.6"/><circle cx="1090.1" cy="252.6" r="3.6"/><circle cx="1090.4" cy="277.8" r="3.6"/><circle cx="1089.6" cy="273.0" r="3.6"/><circle cx="1099.2" cy="278.0" r="3.6"/><circle cx="1096.0" cy="278.5" r="3.6"/><circle cx="1089.7" cy="275.0" r="3.6"/><circle cx="1099.5" cy="272.5" r="3.6"/><circle cx="1099.9" cy="272.2" r="3.6"/><circle cx="1097.4" cy="272.7" r="3.6"/><circle cx="1097.8" cy="274.6" r="3.6"/><circle cx="1099.6" cy="276.6" r="3.6"/><circle cx="1096.8" cy="279.4" r="3.6"/><circle cx="1099.2" cy="273.4" r="3.6"/><circle cx="1096.9" cy="272.2" r="3.6"/><circle cx="1095.9" cy="307.0" r="3.6"/><circle cx="1097.9" cy="299.7" r="3.6"/><circle cx="1093.6" cy="302.1" r="3.6"/><circle cx="1095.2" cy="302.5" r="3.6"/><circle cx="1099.2" cy="301.1" r="3.6"/><circle cx="1099.9" cy="305.1" r="3.6"/><circle cx="1099.3" cy="299.5" r="3.6"/><circle cx="1095.3" cy="306.0" r="3.6"/><circle cx="1088.9" cy="301.4" r="3.6"/><circle cx="1095.0" cy="303.8" r="3.6"/><circle cx="1098.3" cy="331.3" r="3.6"/><circle cx="1089.9" cy="328.1" r="3.6"/><circle cx="1114.5" cy="245.8" r="3.6"/><circle cx="1110.3" cy="245.1" r="3.6"/><circle cx="1110.6" cy="248.7" r="3.6"/><circle cx="1111.2" cy="274.5" r="3.6"/><circle cx="1110.3" cy="279.6" r="3.6"/><circle cx="1115.9" cy="276.0" r="3.6"/><circle cx="1113.6" cy="280.2" r="3.6"/><circle cx="1110.2" cy="277.7" r="3.6"/><circle cx="1118.0" cy="278.8" r="3.6"/><circle cx="1115.0" cy="273.6" r="3.6"/><circle cx="1111.6" cy="275.0" r="3.6"/><circle cx="1116.5" cy="273.9" r="3.6"/><circle cx="1116.6" cy="274.6" r="3.6"/><circle cx="1117.3" cy="276.9" r="3.6"/><circle cx="1112.4" cy="273.9" r="3.6"/><circle cx="1108.4" cy="276.0" r="3.6"/><circle cx="1110.0" cy="272.1" r="3.6"/><circle cx="1111.0" cy="273.2" r="3.6"/><circle cx="1108.2" cy="276.3" r="3.6"/><circle cx="1118.3" cy="275.1" r="3.6"/><circle cx="1108.7" cy="276.1" r="3.6"/><circle cx="1114.5" cy="273.1" r="3.6"/><circle cx="1117.8" cy="274.2" r="3.6"/><circle cx="1115.0" cy="274.3" r="3.6"/><circle cx="1112.9" cy="275.7" r="3.6"/><circle cx="1113.3" cy="275.5" r="3.6"/><circle cx="1119.3" cy="277.8" r="3.6"/><circle cx="1116.9" cy="275.5" r="3.6"/><circle cx="1110.8" cy="303.0" r="3.6"/><circle cx="1118.5" cy="299.0" r="3.6"/><circle cx="1115.6" cy="300.7" r="3.6"/><circle cx="1111.8" cy="299.9" r="3.6"/><circle cx="1109.2" cy="298.8" r="3.6"/><circle cx="1116.2" cy="303.6" r="3.6"/><circle cx="1115.1" cy="304.5" r="3.6"/><circle cx="1111.0" cy="305.9" r="3.6"/><circle cx="1115.3" cy="301.3" r="3.6"/><circle cx="1110.9" cy="300.5" r="3.6"/><circle cx="1108.6" cy="299.5" r="3.6"/><circle cx="1111.9" cy="303.0" r="3.6"/><circle cx="1108.6" cy="299.8" r="3.6"/><circle cx="1113.4" cy="298.8" r="3.6"/><circle cx="1116.5" cy="301.4" r="3.6"/><circle cx="1110.3" cy="307.0" r="3.6"/><circle cx="1112.5" cy="304.9" r="3.6"/><circle cx="1117.7" cy="302.9" r="3.6"/><circle cx="1112.7" cy="387.6" r="3.6"/><circle cx="1130.8" cy="249.7" r="3.6"/><circle cx="1131.3" cy="247.5" r="3.6"/><circle cx="1132.9" cy="249.6" r="3.6"/><circle cx="1130.9" cy="304.7" r="3.6"/><circle cx="1131.0" cy="301.3" r="3.6"/><circle cx="1128.7" cy="306.2" r="3.6"/><circle cx="1138.7" cy="307.0" r="3.6"/><circle cx="1137.1" cy="300.3" r="3.6"/><circle cx="1133.6" cy="306.3" r="3.6"/><circle cx="1137.7" cy="299.9" r="3.6"/><circle cx="1132.5" cy="300.1" r="3.6"/><circle cx="1133.6" cy="304.9" r="3.6"/><circle cx="1133.1" cy="303.5" r="3.6"/><circle cx="1136.4" cy="304.8" r="3.6"/><circle cx="1137.1" cy="299.1" r="3.6"/><circle cx="1129.8" cy="301.9" r="3.6"/><circle cx="1128.7" cy="300.6" r="3.6"/><circle cx="1136.8" cy="304.3" r="3.6"/><circle cx="1131.9" cy="303.7" r="3.6"/><circle cx="1131.4" cy="305.2" r="3.6"/><circle cx="1134.3" cy="303.4" r="3.6"/><circle cx="1137.6" cy="305.8" r="3.6"/><circle cx="1137.6" cy="305.8" r="3.6"/><circle cx="1137.2" cy="301.3" r="3.6"/><circle cx="1135.1" cy="299.6" r="3.6"/><circle cx="1131.5" cy="302.1" r="3.6"/><circle cx="1134.7" cy="304.2" r="3.6"/><circle cx="1137.6" cy="305.1" r="3.6"/><circle cx="1132.5" cy="299.0" r="3.6"/><circle cx="1138.7" cy="302.2" r="3.6"/><circle cx="1132.2" cy="304.1" r="3.6"/><circle cx="1137.5" cy="302.2" r="3.6"/><circle cx="1136.1" cy="305.1" r="3.6"/><circle cx="1129.6" cy="306.9" r="3.6"/><circle cx="1137.3" cy="303.3" r="3.6"/><circle cx="1132.7" cy="301.8" r="3.6"/><circle cx="1134.5" cy="303.2" r="3.6"/><circle cx="1132.6" cy="302.3" r="3.6"/><circle cx="1135.9" cy="300.9" r="3.6"/><circle cx="1131.4" cy="304.1" r="3.6"/><circle cx="1132.4" cy="306.7" r="3.6"/><circle cx="1133.2" cy="299.0" r="3.6"/><circle cx="1130.4" cy="302.5" r="3.6"/><circle cx="1138.3" cy="325.7" r="3.6"/><circle cx="1130.0" cy="325.5" r="3.6"/><circle cx="1133.1" cy="332.2" r="3.6"/><circle cx="1156.5" cy="276.6" r="3.6"/><circle cx="1148.5" cy="275.0" r="3.6"/><circle cx="1152.0" cy="274.6" r="3.6"/><circle cx="1147.8" cy="273.2" r="3.6"/><circle cx="1147.8" cy="272.5" r="3.6"/><circle cx="1151.1" cy="306.7" r="3.6"/><circle cx="1148.8" cy="305.5" r="3.6"/><circle cx="1155.9" cy="299.4" r="3.6"/><circle cx="1148.0" cy="305.8" r="3.6"/><circle cx="1151.9" cy="305.1" r="3.6"/><circle cx="1156.7" cy="328.2" r="3.6"/><circle cx="1155.7" cy="331.0" r="3.6"/><circle cx="1149.3" cy="334.0" r="3.6"/><circle cx="1156.8" cy="331.4" r="3.6"/><circle cx="1148.2" cy="328.1" r="3.6"/><circle cx="1147.2" cy="331.0" r="3.6"/><circle cx="1152.5" cy="332.2" r="3.6"/><circle cx="1151.7" cy="332.2" r="3.6"/><circle cx="1148.6" cy="327.9" r="3.6"/><circle cx="1147.5" cy="331.6" r="3.6"/><circle cx="1151.1" cy="354.4" r="3.6"/><circle cx="1148.7" cy="357.4" r="3.6"/><circle cx="1154.5" cy="384.9" r="3.6"/><circle cx="1149.2" cy="387.3" r="3.6"/><circle cx="1170.1" cy="303.3" r="3.6"/><circle cx="1173.6" cy="306.6" r="3.6"/><circle cx="1171.5" cy="302.2" r="3.6"/><circle cx="1166.2" cy="299.9" r="3.6"/><circle cx="1175.4" cy="303.4" r="3.6"/><circle cx="1168.0" cy="328.7" r="3.6"/><circle cx="1170.4" cy="330.9" r="3.6"/><circle cx="1169.9" cy="331.9" r="3.6"/><circle cx="1174.5" cy="331.9" r="3.6"/><circle cx="1173.1" cy="329.4" r="3.6"/><circle cx="1175.9" cy="326.4" r="3.6"/><circle cx="1172.4" cy="357.5" r="3.6"/><circle cx="1167.6" cy="357.0" r="3.6"/><circle cx="1171.8" cy="354.8" r="3.6"/><circle cx="1187.3" cy="332.4" r="3.6"/><circle cx="1195.9" cy="329.3" r="3.6"/><circle cx="1193.0" cy="360.7" r="3.6"/><circle cx="1193.0" cy="358.9" r="3.6"/><circle cx="1190.7" cy="356.2" r="3.6"/><circle cx="1193.5" cy="352.7" r="3.6"/><circle cx="1215.2" cy="303.3" r="3.6"/><circle cx="1211.1" cy="331.0" r="3.6"/><circle cx="1208.2" cy="359.1" r="3.6"/><circle cx="1211.3" cy="359.2" r="3.6"/><circle cx="1209.7" cy="355.4" r="3.6"/><circle cx="1216.2" cy="382.1" r="3.6"/><circle cx="1211.3" cy="382.9" r="3.6"/><circle cx="1215.9" cy="387.3" r="3.6"/><circle cx="1214.6" cy="408.8" r="3.6"/><circle cx="1229.6" cy="383.4" r="3.6"/><circle cx="1235.4" cy="385.1" r="3.6"/><circle cx="1224.7" cy="385.0" r="3.6"/><circle cx="1253.0" cy="383.8" r="3.6"/><circle cx="1243.8" cy="385.0" r="3.6"/><circle cx="1246.4" cy="387.6" r="3.6"/><circle cx="1265.0" cy="438.2" r="3.6"/><circle cx="1310.5" cy="381.4" r="3.6"/><circle cx="1312.3" cy="413.6" r="3.6"/></g>
<g fill="#FC0000" filter="url(#blur1)"><rect x="1027.2" y="375.9" width="18" height="15" rx="4.6"/></g>
<g fill="#FC0000" fill-opacity="0.11" stroke="#FC0000" stroke-opacity="0.11" stroke-width="1"><circle cx="974.7" cy="407.0" r="3.6"/><circle cx="979.2" cy="413.7" r="3.6"/><circle cx="999.5" cy="381.2" r="3.6"/><circle cx="1000.6" cy="385.9" r="3.6"/><circle cx="992.8" cy="412.9" r="3.6"/><circle cx="993.6" cy="407.2" r="3.6"/><circle cx="1002.4" cy="411.4" r="3.6"/><circle cx="1003.0" cy="408.2" r="3.6"/><circle cx="1000.7" cy="409.8" r="3.6"/><circle cx="996.2" cy="409.4" r="3.6"/><circle cx="995.4" cy="411.4" r="3.6"/><circle cx="994.0" cy="411.0" r="3.6"/><circle cx="997.4" cy="409.0" r="3.6"/><circle cx="1003.1" cy="407.9" r="3.6"/><circle cx="1003.1" cy="406.1" r="3.6"/><circle cx="1000.6" cy="412.4" r="3.6"/><circle cx="1001.6" cy="413.6" r="3.6"/><circle cx="1000.3" cy="408.3" r="3.6"/><circle cx="992.6" cy="408.4" r="3.6"/><circle cx="999.7" cy="408.5" r="3.6"/><circle cx="1001.0" cy="408.5" r="3.6"/><circle cx="997.7" cy="406.3" r="3.6"/><circle cx="996.0" cy="412.0" r="3.6"/><circle cx="1002.4" cy="410.6" r="3.6"/><circle cx="1002.0" cy="406.6" r="3.6"/><circle cx="995.0" cy="410.5" r="3.6"/><circle cx="999.6" cy="414.4" r="3.6"/><circle cx="999.1" cy="406.4" r="3.6"/><circle cx="998.8" cy="410.1" r="3.6"/><circle cx="993.9" cy="406.7" r="3.6"/><circle cx="992.4" cy="413.6" r="3.6"/><circle cx="1000.8" cy="414.5" r="3.6"/><circle cx="998.3" cy="414.4" r="3.6"/><circle cx="1001.7" cy="407.8" r="3.6"/><circle cx="1003.1" cy="412.7" r="3.6"/><circle cx="999.9" cy="411.7" r="3.6"/><circle cx="995.0" cy="407.6" r="3.6"/><circle cx="998.1" cy="413.3" r="3.6"/><circle cx="996.7" cy="412.7" r="3.6"/><circle cx="997.9" cy="411.2" r="3.6"/><circle cx="999.8" cy="408.1" r="3.6"/><circle cx="999.7" cy="410.7" r="3.6"/><circle cx="997.7" cy="411.3" r="3.6"/><circle cx="1001.2" cy="408.4" r="3.6"/><circle cx="993.3" cy="438.9" r="3.6"/><circle cx="998.7" cy="438.8" r="3.6"/><circle cx="999.2" cy="434.4" r="3.6"/><circle cx="1000.0" cy="437.7" r="3.6"/><circle cx="997.2" cy="437.5" r="3.6"/><circle cx="999.7" cy="438.1" r="3.6"/><circle cx="998.6" cy="438.3" r="3.6"/><circle cx="1000.8" cy="439.7" r="3.6"/><circle cx="1002.5" cy="439.6" r="3.6"/><circle cx="998.0" cy="437.3" r="3.6"/><circle cx="994.1" cy="441.0" r="3.6"/><circle cx="1002.9" cy="438.3" r="3.6"/><circle cx="993.8" cy="438.0" r="3.6"/><circle cx="994.0" cy="436.1" r="3.6"/><circle cx="1001.9" cy="439.8" r="3.6"/><circle cx="995.8" cy="435.3" r="3.6"/><circle cx="992.9" cy="438.1" r="3.6"/><circle cx="1001.4" cy="437.9" r="3.6"/><circle cx="1000.1" cy="433.7" r="3.6"/><circle cx="995.9" cy="434.0" r="3.6"/><circle cx="998.1" cy="436.6" r="3.6"/><circle cx="1000.2" cy="436.2" r="3.6"/><circle cx="998.6" cy="434.7" r="3.6"/><circle cx="999.4" cy="438.9" r="3.6"/><circle cx="1002.9" cy="433.2" r="3.6"/><circle cx="999.3" cy="434.0" r="3.6"/><circle cx="993.9" cy="433.9" r="3.6"/><circle cx="1000.4" cy="434.4" r="3.6"/><circle cx="1000.6" cy="439.6" r="3.6"/><circle cx="998.4" cy="440.7" r="3.6"/><circle cx="993.9" cy="439.5" r="3.6"/><circle cx="996.5" cy="438.1" r="3.6"/><circle cx="994.0" cy="439.3" r="3.6"/><circle cx="999.6" cy="440.0" r="3.6"/><circle cx="999.6" cy="440.3" r="3.6"/><circle cx="1002.0" cy="435.5" r="3.6"/><circle cx="996.1" cy="434.2" r="3.6"/><circle cx="997.1" cy="433.2" r="3.6"/><circle cx="1002.4" cy="437.3" r="3.6"/><circle cx="1002.3" cy="436.0" r="3.6"/><circle cx="993.5" cy="462.3" r="3.6"/><circle cx="1000.0" cy="462.9" r="3.6"/><circle cx="998.6" cy="465.1" r="3.6"/><circle cx="1000.0" cy="465.6" r="3.6"/><circle cx="997.6" cy="467.2" r="3.6"/><circle cx="994.1" cy="468.1" r="3.6"/><circle cx="1022.4" cy="354.6" r="3.6"/><circle cx="1020.9" cy="359.5" r="3.6"/><circle cx="1016.2" cy="359.3" r="3.6"/><circle cx="1022.6" cy="355.5" r="3.6"/><circle cx="1018.2" cy="357.4" r="3.6"/><circle cx="1016.3" cy="381.8" r="3.6"/><circle cx="1017.1" cy="379.5" r="3.6"/><circle cx="1011.4" cy="386.9" r="3.6"/><circle cx="1017.4" cy="384.3" r="3.6"/><circle cx="1012.4" cy="383.9" r="3.6"/><circle cx="1022.5" cy="379.6" r="3.6"/><circle cx="1021.1" cy="381.7" r="3.6"/><circle cx="1017.0" cy="387.5" r="3.6"/><circle cx="1021.2" cy="385.5" r="3.6"/><circle cx="1012.7" cy="380.5" r="3.6"/><circle cx="1015.2" cy="409.1" r="3.6"/><circle cx="1015.1" cy="408.3" r="3.6"/><circle cx="1014.4" cy="409.6" r="3.6"/><circle cx="1018.5" cy="414.1" r="3.6"/><circle cx="1017.6" cy="406.5" r="3.6"/><circle cx="1013.5" cy="407.9" r="3.6"/><circle cx="1012.4" cy="407.6" r="3.6"/><circle cx="1018.4" cy="410.2" r="3.6"/><circle cx="1019.6" cy="407.3" r="3.6"/><circle cx="1016.5" cy="410.0" r="3.6"/><circle cx="1016.8" cy="406.1" r="3.6"/><circle cx="1021.8" cy="406.8" r="3.6"/><circle cx="1020.4" cy="410.3" r="3.6"/><circle cx="1021.3" cy="410.0" r="3.6"/><circle cx="1015.8" cy="409.5" r="3.6"/><circle cx="1018.3" cy="406.4" r="3.6"/><circle cx="1012.7" cy="413.1" r="3.6"/><circle cx="1014.0" cy="409.0" r="3.6"/><circle cx="1017.0" cy="413.2" r="3.6"/><circle cx="1018.2" cy="409.5" r="3.6"/><circle cx="1021.6" cy="412.9" r="3.6"/><circle cx="1016.7" cy="409.7" r="3.6"/><circle cx="1022.2" cy="409.6" r="3.6"/><circle cx="1021.7" cy="412.1" r="3.6"/><circle cx="1021.9" cy="410.3" r="3.6"/><circle cx="1016.1" cy="436.9" r="3.6"/><circle cx="1015.8" cy="440.6" r="3.6"/><circle cx="1012.6" cy="441.1" r="3.6"/><circle cx="1022.4" cy="437.4" r="3.6"/><circle cx="1021.5" cy="434.2" r="3.6"/><circle cx="1011.1" cy="438.4" r="3.6"/><circle cx="1020.6" cy="467.0" r="3.6"/><circle cx="1013.9" cy="465.4" r="3.6"/><circle cx="1015.1" cy="463.1" r="3.6"/><circle cx="1012.6" cy="460.2" r="3.6"/><circle cx="1015.9" cy="463.3" r="3.6"/><circle cx="1022.2" cy="463.9" r="3.6"/><circle cx="1033.8" cy="355.7" r="3.6"/><circle cx="1038.0" cy="354.0" r="3.6"/><circle cx="1041.1" cy="356.5" r="3.6"/><circle cx="1034.7" cy="384.9" r="3.6"/><circle cx="1038.2" cy="382.7" r="3.6"/><circle cx="1037.9" cy="386.5" r="3.6"/><circle cx="1039.0" cy="381.4" r="3.6"/><circle cx="1033.6" cy="380.4" r="3.6"/><circle cx="1030.7" cy="381.6" r="3.6"/><circle cx="1032.2" cy="381.9" r="3.6"/><circle cx="1040.9" cy="381.6" r="3.6"/><circle cx="1034.9" cy="411.6" r="3.6"/><circle cx="1034.2" cy="409.7" r="3.6"/><circle cx="1033.5" cy="407.8" r="3.6"/><circle cx="1036.3" cy="411.6" r="3.6"/><circle cx="1035.4" cy="407.5" r="3.6"/><circle cx="1040.4" cy="408.7" r="3.6"/><circle cx="1033.3" cy="413.4" r="3.6"/><circle cx="1034.2" cy="412.4" r="3.6"/><circle cx="1041.5" cy="412.2" r="3.6"/><circle cx="1034.3" cy="407.7" r="3.6"/><circle cx="1032.8" cy="409.9" r="3.6"/><circle cx="1033.8" cy="411.1" r="3.6"/><circle cx="1034.9" cy="410.7" r="3.6"/><circle cx="1038.2" cy="407.0" r="3.6"/><circle cx="1040.6" cy="409.5" r="3.6"/><circle cx="1038.9" cy="413.9" r="3.6"/><circle cx="1039.2" cy="408.1" r="3.6"/><circle cx="1039.2" cy="410.1" r="3.6"/><circle cx="1036.0" cy="409.0" r="3.6"/><circle cx="1038.9" cy="408.7" r="3.6"/><circle cx="1035.2" cy="406.9" r="3.6"/><circle cx="1032.2" cy="409.2" r="3.6"/><circle cx="1036.8" cy="408.2" r="3.6"/><circle cx="1036.7" cy="410.9" r="3.6"/><circle cx="1040.5" cy="407.9" r="3.6"/><circle cx="1041.5" cy="435.0" r="3.6"/><circle cx="1039.6" cy="436.6" r="3.6"/><circle cx="1031.6" cy="438.6" r="3.6"/><circle cx="1037.7" cy="466.9" r="3.6"/><circle cx="1041.4" cy="460.9" r="3.6"/><circle cx="1031.0" cy="464.5" r="3.6"/><circle cx="1041.1" cy="465.4" r="3.6"/><circle cx="1036.5" cy="462.9" r="3.6"/><circle cx="1051.9" cy="326.1" r="3.6"/><circle cx="1059.3" cy="358.9" r="3.6"/><circle cx="1052.5" cy="356.5" r="3.6"/><circle cx="1050.8" cy="359.7" r="3.6"/><circle cx="1057.2" cy="356.3" r="3.6"/><circle cx="1053.7" cy="359.8" r="3.6"/><circle cx="1055.0" cy="360.3" r="3.6"/><circle cx="1051.7" cy="380.4" r="3.6"/><circle cx="1051.1" cy="381.0" r="3.6"/><circle cx="1052.5" cy="384.3" r="3.6"/><circle cx="1052.1" cy="385.4" r="3.6"/><circle cx="1053.8" cy="384.0" r="3.6"/><circle cx="1050.3" cy="387.6" r="3.6"/><circle cx="1057.5" cy="379.1" r="3.6"/><circle cx="1059.9" cy="384.9" r="3.6"/><circle cx="1050.4" cy="381.9" r="3.6"/><circle cx="1057.7" cy="379.3" r="3.6"/><circle cx="1053.4" cy="384.6" r="3.6"/><circle cx="1058.1" cy="383.3" r="3.6"/><circle cx="1055.3" cy="386.1" r="3.6"/><circle cx="1057.5" cy="413.6" r="3.6"/><circle cx="1051.1" cy="406.5" r="3.6"/><circle cx="1053.8" cy="409.0" r="3.6"/><circle cx="1050.0" cy="411.2" r="3.6"/><circle cx="1050.2" cy="412.8" r="3.6"/><circle cx="1054.5" cy="435.4" r="3.6"/><circle cx="1051.6" cy="440.9" r="3.6"/><circle cx="1052.6" cy="465.8" r="3.6"/><circle cx="1059.4" cy="460.8" r="3.6"/><circle cx="1054.8" cy="460.2" r="3.6"/><circle cx="1050.1" cy="461.6" r="3.6"/><circle cx="1072.5" cy="327.5" r="3.6"/><circle cx="1077.5" cy="327.3" r="3.6"/><circle cx="1073.2" cy="334.0" r="3.6"/><circle cx="1074.1" cy="326.3" r="3.6"/><circle cx="1080.7" cy="326.9" r="3.6"/><circle cx="1073.6" cy="330.2" r="3.6"/><circle cx="1073.2" cy="356.1" r="3.6"/><circle cx="1077.0" cy="357.2" r="3.6"/><circle cx="1070.5" cy="358.2" r="3.6"/><circle cx="1077.7" cy="360.2" r="3.6"/><circle cx="1079.1" cy="353.5" r="3.6"/><circle cx="1075.2" cy="360.1" r="3.6"/><circle cx="1079.7" cy="356.6" r="3.6"/><circle cx="1078.1" cy="356.8" r="3.6"/><circle cx="1079.0" cy="359.4" r="3.6"/><circle cx="1074.2" cy="357.5" r="3.6"/><circle cx="1071.3" cy="353.4" r="3.6"/><circle cx="1069.9" cy="356.7" r="3.6"/><circle cx="1072.5" cy="360.6" r="3.6"/><circle cx="1073.9" cy="357.5" r="3.6"/><circle cx="1080.7" cy="356.7" r="3.6"/><circle cx="1070.6" cy="360.0" r="3.6"/><circle cx="1075.8" cy="360.3" r="3.6"/><circle cx="1078.4" cy="354.0" r="3.6"/><circle cx="1070.4" cy="383.2" r="3.6"/><circle cx="1073.9" cy="383.8" r="3.6"/><circle cx="1080.4" cy="380.2" r="3.6"/><circle cx="1076.4" cy="386.7" r="3.6"/><circle cx="1079.4" cy="383.3" r="3.6"/><circle cx="1076.2" cy="379.1" r="3.6"/><circle cx="1078.8" cy="379.8" r="3.6"/><circle cx="1078.6" cy="382.7" r="3.6"/><circle cx="1069.3" cy="385.2" r="3.6"/><circle cx="1079.2" cy="381.8" r="3.6"/><circle cx="1077.2" cy="409.8" r="3.6"/><circle cx="1079.8" cy="408.3" r="3.6"/><circle cx="1073.3" cy="411.3" r="3.6"/><circle cx="1091.0" cy="306.9" r="3.6"/><circle cx="1089.7" cy="303.1" r="3.6"/><circle cx="1097.2" cy="299.0" r="3.6"/><circle cx="1093.2" cy="300.4" r="3.6"/><circle cx="1097.4" cy="306.0" r="3.6"/><circle cx="1093.4" cy="299.0" r="3.6"/><circle cx="1089.9" cy="305.7" r="3.6"/><circle cx="1089.2" cy="306.6" r="3.6"/><circle cx="1090.0" cy="304.6" r="3.6"/><circle cx="1088.9" cy="305.7" r="3.6"/><circle cx="1092.7" cy="334.0" r="3.6"/><circle cx="1099.3" cy="328.1" r="3.6"/><circle cx="1089.3" cy="329.9" r="3.6"/><circle cx="1093.5" cy="330.1" r="3.6"/><circle cx="1088.9" cy="326.2" r="3.6"/><circle cx="1093.1" cy="331.7" r="3.6"/><circle cx="1097.5" cy="356.9" r="3.6"/><circle cx="1089.6" cy="352.8" r="3.6"/><circle cx="1090.4" cy="356.3" r="3.6"/><circle cx="1099.1" cy="352.6" r="3.6"/><circle cx="1099.4" cy="358.8" r="3.6"/><circle cx="1097.3" cy="353.9" r="3.6"/><circle cx="1093.0" cy="358.7" r="3.6"/><circle cx="1097.6" cy="359.3" r="3.6"/><circle cx="1099.1" cy="359.4" r="3.6"/><circle cx="1098.0" cy="352.9" r="3.6"/><circle cx="1093.7" cy="355.5" r="3.6"/><circle cx="1094.3" cy="353.8" r="3.6"/><circle cx="1090.6" cy="353.9" r="3.6"/><circle cx="1091.4" cy="358.3" r="3.6"/><circle cx="1096.3" cy="358.8" r="3.6"/><circle cx="1099.0" cy="356.1" r="3.6"/><circle cx="1089.7" cy="354.3" r="3.6"/><circle cx="1089.7" cy="360.6" r="3.6"/><circle cx="1092.2" cy="382.5" r="3.6"/><circle cx="1090.8" cy="387.4" r="3.6"/><circle cx="1092.8" cy="385.2" r="3.6"/><circle cx="1095.4" cy="379.5" r="3.6"/><circle cx="1097.9" cy="387.2" r="3.6"/><circle cx="1092.4" cy="386.2" r="3.6"/><circle cx="1093.1" cy="412.7" r="3.6"/><circle cx="1089.7" cy="406.2" r="3.6"/><circle cx="1097.1" cy="410.3" r="3.6"/><circle cx="1095.3" cy="439.3" r="3.6"/><circle cx="1088.9" cy="462.4" r="3.6"/><circle cx="1090.3" cy="463.2" r="3.6"/><circle cx="1109.8" cy="301.3" r="3.6"/><circle cx="1108.2" cy="303.8" r="3.6"/><circle cx="1118.9" cy="304.4" r="3.6"/><circle cx="1109.8" cy="331.5" r="3.6"/><circle cx="1111.5" cy="328.3" r="3.6"/><circle cx="1115.9" cy="332.9" r="3.6"/><circle cx="1112.0" cy="328.7" r="3.6"/><circle cx="1113.0" cy="329.3" r="3.6"/><circle cx="1110.0" cy="326.6" r="3.6"/><circle cx="1113.1" cy="329.3" r="3.6"/><circle cx="1112.0" cy="331.7" r="3.6"/><circle cx="1114.7" cy="332.0" r="3.6"/><circle cx="1108.4" cy="325.8" r="3.6"/><circle cx="1116.3" cy="329.1" r="3.6"/><circle cx="1116.2" cy="327.5" r="3.6"/><circle cx="1110.0" cy="333.7" r="3.6"/><circle cx="1115.7" cy="327.3" r="3.6"/><circle cx="1110.1" cy="331.7" r="3.6"/><circle cx="1115.1" cy="334.0" r="3.6"/><circle cx="1117.2" cy="331.0" r="3.6"/><circle cx="1113.2" cy="334.0" r="3.6"/><circle cx="1111.5" cy="333.1" r="3.6"/><circle cx="1117.4" cy="330.0" r="3.6"/><circle cx="1119.5" cy="328.5" r="3.6"/><circle cx="1110.3" cy="327.3" r="3.6"/><circle cx="1110.5" cy="328.8" r="3.6"/><circle cx="1108.2" cy="333.9" r="3.6"/><circle cx="1116.1" cy="330.1" r="3.6"/><circle cx="1112.1" cy="357.9" r="3.6"/><circle cx="1116.3" cy="356.7" r="3.6"/><circle cx="1112.0" cy="354.8" r="3.6"/><circle cx="1117.5" cy="353.8" r="3.6"/><circle cx="1112.2" cy="356.6" r="3.6"/><circle cx="1113.6" cy="357.2" r="3.6"/><circle cx="1113.6" cy="354.7" r="3.6"/><circle cx="1118.1" cy="358.7" r="3.6"/><circle cx="1118.8" cy="359.0" r="3.6"/><circle cx="1111.1" cy="354.2" r="3.6"/><circle cx="1111.1" cy="357.7" r="3.6"/><circle cx="1116.4" cy="358.3" r="3.6"/><circle cx="1109.5" cy="360.8" r="3.6"/><circle cx="1114.0" cy="386.0" r="3.6"/><circle cx="1113.5" cy="387.5" r="3.6"/><circle cx="1117.2" cy="383.9" r="3.6"/><circle cx="1115.8" cy="407.6" r="3.6"/><circle cx="1114.6" cy="413.8" r="3.6"/><circle cx="1128.3" cy="275.2" r="3.6"/><circle cx="1127.9" cy="278.1" r="3.6"/><circle cx="1127.6" cy="274.1" r="3.6"/><circle cx="1136.4" cy="305.6" r="3.6"/><circle cx="1136.2" cy="304.3" r="3.6"/><circle cx="1133.0" cy="305.8" r="3.6"/><circle cx="1131.8" cy="325.6" r="3.6"/><circle cx="1128.8" cy="328.4" r="3.6"/><circle cx="1136.9" cy="330.9" r="3.6"/><circle cx="1136.3" cy="331.7" r="3.6"/><circle cx="1128.1" cy="332.8" r="3.6"/><circle cx="1135.8" cy="332.5" r="3.6"/><circle cx="1130.5" cy="333.4" r="3.6"/><circle cx="1128.1" cy="331.5" r="3.6"/><circle cx="1127.9" cy="330.3" r="3.6"/><circle cx="1130.0" cy="329.4" r="3.6"/><circle cx="1127.6" cy="327.9" r="3.6"/><circle cx="1133.7" cy="326.4" r="3.6"/><circle cx="1137.6" cy="329.4" r="3.6"/><circle cx="1129.8" cy="326.7" r="3.6"/><circle cx="1134.1" cy="327.1" r="3.6"/><circle cx="1138.3" cy="329.1" r="3.6"/><circle cx="1133.0" cy="333.1" r="3.6"/><circle cx="1129.6" cy="327.6" r="3.6"/><circle cx="1129.5" cy="334.0" r="3.6"/><circle cx="1134.6" cy="327.0" r="3.6"/><circle cx="1128.4" cy="332.4" r="3.6"/><circle cx="1135.5" cy="328.9" r="3.6"/><circle cx="1132.0" cy="331.5" r="3.6"/><circle cx="1138.1" cy="332.5" r="3.6"/><circle cx="1134.8" cy="327.5" r="3.6"/><circle cx="1136.3" cy="360.2" r="3.6"/><circle cx="1137.8" cy="357.3" r="3.6"/><circle cx="1135.1" cy="356.0" r="3.6"/><circle cx="1129.0" cy="357.9" r="3.6"/><circle cx="1129.6" cy="354.3" r="3.6"/><circle cx="1130.0" cy="355.6" r="3.6"/><circle cx="1134.0" cy="358.5" r="3.6"/><circle cx="1133.9" cy="360.0" r="3.6"/><circle cx="1133.9" cy="353.5" r="3.6"/><circle cx="1129.9" cy="356.2" r="3.6"/><circle cx="1137.8" cy="384.4" r="3.6"/><circle cx="1137.3" cy="380.4" r="3.6"/><circle cx="1155.2" cy="279.0" r="3.6"/><circle cx="1155.7" cy="278.1" r="3.6"/><circle cx="1156.0" cy="274.3" r="3.6"/><circle cx="1152.1" cy="302.0" r="3.6"/><circle cx="1151.0" cy="302.8" r="3.6"/><circle cx="1148.6" cy="305.9" r="3.6"/><circle cx="1147.6" cy="307.0" r="3.6"/><circle cx="1157.6" cy="303.4" r="3.6"/><circle cx="1155.6" cy="299.9" r="3.6"/><circle cx="1154.2" cy="305.2" r="3.6"/><circle cx="1156.3" cy="303.3" r="3.6"/><circle cx="1147.9" cy="299.0" r="3.6"/><circle cx="1148.2" cy="302.6" r="3.6"/><circle cx="1149.1" cy="333.7" r="3.6"/><circle cx="1150.1" cy="332.6" r="3.6"/><circle cx="1155.8" cy="333.5" r="3.6"/><circle cx="1154.0" cy="326.6" r="3.6"/><circle cx="1156.4" cy="328.7" r="3.6"/><circle cx="1148.9" cy="329.9" r="3.6"/><circle cx="1148.3" cy="332.2" r="3.6"/><circle cx="1146.8" cy="331.8" r="3.6"/><circle cx="1152.4" cy="332.1" r="3.6"/><circle cx="1152.9" cy="326.9" r="3.6"/><circle cx="1158.4" cy="329.4" r="3.6"/><circle cx="1157.1" cy="331.8" r="3.6"/><circle cx="1153.1" cy="333.9" r="3.6"/><circle cx="1148.1" cy="355.7" r="3.6"/><circle cx="1147.3" cy="360.6" r="3.6"/><circle cx="1168.2" cy="273.5" r="3.6"/><circle cx="1172.8" cy="274.8" r="3.6"/><circle cx="1177.1" cy="275.9" r="3.6"/><circle cx="1174.9" cy="273.4" r="3.6"/><circle cx="1175.2" cy="274.8" r="3.6"/><circle cx="1176.1" cy="302.8" r="3.6"/><circle cx="1171.9" cy="305.8" r="3.6"/><circle cx="1169.9" cy="306.5" r="3.6"/><circle cx="1176.8" cy="303.9" r="3.6"/><circle cx="1177.4" cy="300.0" r="3.6"/><circle cx="1175.0" cy="328.9" r="3.6"/><circle cx="1167.1" cy="330.0" r="3.6"/><circle cx="1196.4" cy="274.6" r="3.6"/><circle cx="1191.1" cy="273.4" r="3.6"/><circle cx="1187.1" cy="303.6" r="3.6"/><circle cx="1186.4" cy="303.3" r="3.6"/><circle cx="1192.5" cy="303.3" r="3.6"/><circle cx="1192.7" cy="304.4" r="3.6"/><circle cx="1192.1" cy="306.1" r="3.6"/><circle cx="1213.2" cy="225.6" r="3.6"/><circle cx="1205.3" cy="246.1" r="3.6"/><circle cx="1208.1" cy="273.6" r="3.6"/><circle cx="1207.8" cy="278.1" r="3.6"/><circle cx="1206.6" cy="276.9" r="3.6"/><circle cx="1206.0" cy="303.1" r="3.6"/><circle cx="1210.3" cy="306.1" r="3.6"/><circle cx="1207.6" cy="328.8" r="3.6"/><circle cx="1225.1" cy="274.2" r="3.6"/><circle cx="1224.9" cy="274.0" r="3.6"/><circle cx="1225.1" cy="274.6" r="3.6"/><circle cx="1234.3" cy="277.0" r="3.6"/><circle cx="1249.7" cy="249.7" r="3.6"/><circle cx="1255.4" cy="251.4" r="3.6"/><circle cx="1249.5" cy="246.8" r="3.6"/><circle cx="1282.6" cy="251.2" r="3.6"/><circle cx="1306.8" cy="172.1" r="3.6"/><circle cx="1304.0" cy="198.3" r="3.6"/></g>
<polyline points="861.6,463.9 867.4,455.9 873.2,448.1 879.1,440.5 884.9,433 890.7,425.7 896.5,418.5 902.3,411.5 908.2,404.7 914,398 919.8,391.4 925.6,385.1 931.4,378.9 937.3,372.9 943.1,367 948.9,361.3 954.7,355.7 960.5,350.3 966.4,345.1 972.2,340 978,335.1 983.8,330.4 989.6,325.8 995.5,321.3 1001.3,317.1 1007.1,313 1012.9,309 1018.7,305.2 1024.6,301.6 1030.4,298.2 1036.2,294.9 1042,291.7 1047.8,288.7 1053.7,285.9 1059.5,283.3 1065.3,280.8 1071.1,278.4 1076.9,276.3 1082.8,274.2 1088.6,272.4 1094.4,270.7 1100.2,269.2 1106,267.8 1111.9,266.6 1117.7,265.5 1123.5,264.7 1129.3,263.9 1135.1,263.4 1141,263 1146.8,262.7 1152.6,262.6 1158.4,262.7 1164.2,263 1170.1,263.4 1175.9,263.9 1181.7,264.7 1187.5,265.5 1193.3,266.6 1199.2,267.8 1205,269.2 1210.8,270.7 1216.6,272.4 1222.4,274.2 1228.3,276.3 1234.1,278.4 1239.9,280.8 1245.7,283.3 1251.5,285.9 1257.4,288.7 1263.2,291.7 1269,294.8 1274.8,298.2 1280.6,301.6 1286.5,305.2 1292.3,309 1298.1,313 1303.9,317.1 1309.7,321.3 1315.6,325.8 1321.4,330.4 1327.2,335.1 1333,340 1338.8,345.1 1344.7,350.3 1350.5,355.7 1356.3,361.3 1362.1,367 1367.9,372.9 1373.8,378.9 1379.6,385.1 1385.4,391.4 1391.2,398 1397,404.7 1402.9,411.5 1408.7,418.5 1414.5,425.7 1420.3,433 1426.1,440.5 1432,448.1 1437.8,455.9 1443.6,463.9" fill="none" stroke="#B8860B" stroke-width="1.7"/>
<polyline points="861.6,61.4 867.4,69.4 873.2,77.3 879.1,85.2 884.9,93 890.7,100.6 896.5,108.3 902.3,115.8 908.2,123.2 914,130.6 919.8,137.9 925.6,145.1 931.4,152.2 937.3,159.2 943.1,166.2 948.9,173.1 954.7,179.9 960.5,186.6 966.4,193.3 972.2,199.8 978,206.3 983.8,212.7 989.6,219 995.5,225.3 1001.3,231.4 1007.1,237.5 1012.9,243.5 1018.7,249.4 1024.6,255.2 1030.4,261 1036.2,266.7 1042,272.3 1047.8,277.8 1053.7,283.2 1059.5,288.6 1065.3,293.8 1071.1,299 1076.9,304.1 1082.8,309.2 1088.6,314.1 1094.4,319 1100.2,323.8 1106,328.5 1111.9,333.1 1117.7,337.7 1123.5,342.1 1129.3,346.5 1135.1,350.8 1141,355.1 1146.8,359.2 1152.6,363.3 1158.4,367.3 1164.2,371.2 1170.1,375 1175.9,378.7 1181.7,382.4 1187.5,386 1193.3,389.5 1199.2,392.9 1205,396.2 1210.8,399.5 1216.6,402.7 1222.4,405.8 1228.3,408.8 1234.1,411.7 1239.9,414.6 1245.7,417.4 1251.5,420.1 1257.4,422.7 1263.2,425.2 1269,427.7 1274.8,430 1280.6,432.3 1286.5,434.6 1292.3,436.7 1298.1,438.7 1303.9,440.7 1309.7,442.6 1315.6,444.4 1321.4,446.1 1327.2,447.8 1333,449.4 1338.8,450.9 1344.7,452.3 1350.5,453.6 1356.3,454.8 1362.1,456 1367.9,457.1 1373.8,458.1 1379.6,459 1385.4,459.9 1391.2,460.6 1397,461.3 1402.9,461.9 1408.7,462.5 1414.5,462.9 1420.3,463.3 1426.1,463.5 1432,463.7 1437.8,463.9 1443.6,463.9" fill="none" stroke="#00008B" stroke-width="1.7"/>
<polyline points="861.6,463.9 867.4,463.9 873.2,463.7 879.1,463.5 884.9,463.3 890.7,462.9 896.5,462.5 902.3,461.9 908.2,461.3 914,460.6 919.8,459.9 925.6,459 931.4,458.1 937.3,457.1 943.1,456 948.9,454.8 954.7,453.6 960.5,452.3 966.4,450.9 972.2,449.4 978,447.8 983.8,446.1 989.6,444.4 995.5,442.6 1001.3,440.7 1007.1,438.7 1012.9,436.7 1018.7,434.6 1024.6,432.3 1030.4,430 1036.2,427.7 1042,425.2 1047.8,422.7 1053.7,420.1 1059.5,417.4 1065.3,414.6 1071.1,411.7 1076.9,408.8 1082.8,405.8 1088.6,402.7 1094.4,399.5 1100.2,396.2 1106,392.9 1111.9,389.5 1117.7,386 1123.5,382.4 1129.3,378.7 1135.1,375 1141,371.2 1146.8,367.3 1152.6,363.3 1158.4,359.2 1164.2,355.1 1170.1,350.8 1175.9,346.5 1181.7,342.1 1187.5,337.7 1193.3,333.1 1199.2,328.5 1205,323.8 1210.8,319 1216.6,314.1 1222.4,309.2 1228.3,304.1 1234.1,299 1239.9,293.8 1245.7,288.6 1251.5,283.2 1257.4,277.8 1263.2,272.3 1269,266.7 1274.8,261 1280.6,255.2 1286.5,249.4 1292.3,243.5 1298.1,237.5 1303.9,231.4 1309.7,225.3 1315.6,219 1321.4,212.7 1327.2,206.3 1333,199.8 1338.8,193.3 1344.7,186.6 1350.5,179.9 1356.3,173.1 1362.1,166.2 1367.9,159.2 1373.8,152.2 1379.6,145.1 1385.4,137.9 1391.2,130.6 1397,123.2 1402.9,115.8 1408.7,108.3 1414.5,100.6 1420.3,93 1426.1,85.2 1432,77.3 1437.8,69.4 1443.6,61.4" fill="none" stroke="#FF0000" stroke-width="1.7"/>
</g></svg>
<rect x="833.2" y="41.6" width="639.1" height="446.2" fill="none" stroke="#333333" stroke-width="1.1"/>
<line x1="861.6" y1="487.8" x2="861.6" y2="492.4" stroke="#333333" stroke-width="1.1"/>
<text x="861.6" y="512.2" text-anchor="middle" fill="#4D4D4D" font-size="22.5">0.00</text>
<line x1="828.6" y1="463.9" x2="833.2" y2="463.9" stroke="#333333" stroke-width="1.1"/>
<text x="825" y="471.9" text-anchor="end" fill="#4D4D4D" font-size="22.5">0.00</text>
<line x1="1007.1" y1="487.8" x2="1007.1" y2="492.4" stroke="#333333" stroke-width="1.1"/>
<text x="1007.1" y="512.2" text-anchor="middle" fill="#4D4D4D" font-size="22.5">0.25</text>
<line x1="828.6" y1="363.3" x2="833.2" y2="363.3" stroke="#333333" stroke-width="1.1"/>
<text x="825" y="371.3" text-anchor="end" fill="#4D4D4D" font-size="22.5">0.25</text>
<line x1="1152.6" y1="487.8" x2="1152.6" y2="492.4" stroke="#333333" stroke-width="1.1"/>
<text x="1152.6" y="512.2" text-anchor="middle" fill="#4D4D4D" font-size="22.5">0.50</text>
<line x1="828.6" y1="262.6" x2="833.2" y2="262.6" stroke="#333333" stroke-width="1.1"/>
<text x="825" y="270.6" text-anchor="end" fill="#4D4D4D" font-size="22.5">0.50</text>
<line x1="1298.1" y1="487.8" x2="1298.1" y2="492.4" stroke="#333333" stroke-width="1.1"/>
<text x="1298.1" y="512.2" text-anchor="middle" fill="#4D4D4D" font-size="22.5">0.75</text>
<line x1="828.6" y1="162" x2="833.2" y2="162" stroke="#333333" stroke-width="1.1"/>
<text x="825" y="170" text-anchor="end" fill="#4D4D4D" font-size="22.5">0.75</text>
<line x1="1443.6" y1="487.8" x2="1443.6" y2="492.4" stroke="#333333" stroke-width="1.1"/>
<text x="1443.6" y="512.2" text-anchor="middle" fill="#4D4D4D" font-size="22.5">1.00</text>
<line x1="828.6" y1="61.4" x2="833.2" y2="61.4" stroke="#333333" stroke-width="1.1"/>
<text x="825" y="69.4" text-anchor="end" fill="#4D4D4D" font-size="22.5">1.00</text>
<text x="1152.8" y="538.4" text-anchor="middle" font-size="22.5">alt allele frequency</text>
<text transform="translate(772.2,264.7) rotate(-90)" x="0" y="0" text-anchor="middle" font-size="22.5">genotype frequency</text>
<text x="833.2" y="27.8" font-size="22.5">All spawners, shared outlier SNPs</text>
<text x="752.4" y="24" font-size="29.5" font-weight="bold">B</text>
</g>
<g id="pC">
<svg x="79.6" y="609.6" width="639.3" height="446.2" overflow="hidden"><g transform="translate(-79.6,-609.6)">
<line x1="185.3" y1="609.6" x2="185.3" y2="1055.8" stroke="#EBEBEB" stroke-width="0.7"/>
<line x1="79.6" y1="982.1" x2="718.9" y2="982.1" stroke="#EBEBEB" stroke-width="0.7"/>
<line x1="327.8" y1="609.6" x2="327.8" y2="1055.8" stroke="#EBEBEB" stroke-width="0.7"/>
<line x1="79.6" y1="882.4" x2="718.9" y2="882.4" stroke="#EBEBEB" stroke-width="0.7"/>
<line x1="470.3" y1="609.6" x2="470.3" y2="1055.8" stroke="#EBEBEB" stroke-width="0.7"/>
<line x1="79.6" y1="782.7" x2="718.9" y2="782.7" stroke="#EBEBEB" stroke-width="0.7"/>
<line x1="612.8" y1="609.6" x2="612.8" y2="1055.8" stroke="#EBEBEB" stroke-width="0.7"/>
<line x1="79.6" y1="683" x2="718.9" y2="683" stroke="#EBEBEB" stroke-width="0.7"/>
<line x1="114.1" y1="609.6" x2="114.1" y2="1055.8" stroke="#EBEBEB" stroke-width="1.4"/>
<line x1="79.6" y1="1031.9" x2="718.9" y2="1031.9" stroke="#EBEBEB" stroke-width="1.4"/>
<line x1="256.6" y1="609.6" x2="256.6" y2="1055.8" stroke="#EBEBEB" stroke-width="1.4"/>
<line x1="79.6" y1="932.2" x2="718.9" y2="932.2" stroke="#EBEBEB" stroke-width="1.4"/>
<line x1="399" y1="609.6" x2="399" y2="1055.8" stroke="#EBEBEB" stroke-width="1.4"/>
<line x1="79.6" y1="832.5" x2="718.9" y2="832.5" stroke="#EBEBEB" stroke-width="1.4"/>
<line x1="541.5" y1="609.6" x2="541.5" y2="1055.8" stroke="#EBEBEB" stroke-width="1.4"/>
<line x1="79.6" y1="732.8" x2="718.9" y2="732.8" stroke="#EBEBEB" stroke-width="1.4"/>
<line x1="684" y1="609.6" x2="684" y2="1055.8" stroke="#EBEBEB" stroke-width="1.4"/>
<line x1="79.6" y1="633.1" x2="718.9" y2="633.1" stroke="#EBEBEB" stroke-width="1.4"/>
<defs><linearGradient id="gC0" gradientUnits="userSpaceOnUse" x1="134.1" y1="0" x2="664" y2="0"><stop offset="0.017" stop-color="#AF7C0C" stop-opacity="0.94"/><stop offset="0.045" stop-color="#AF7C0C" stop-opacity="0.92"/><stop offset="0.073" stop-color="#AF7C0C" stop-opacity="0.90"/><stop offset="0.100" stop-color="#AF7C0C" stop-opacity="0.88"/><stop offset="0.128" stop-color="#AF7C0C" stop-opacity="0.85"/><stop offset="0.155" stop-color="#AF7C0C" stop-opacity="0.83"/><stop offset="0.183" stop-color="#AF7C0C" stop-opacity="0.80"/><stop offset="0.210" stop-color="#AF7C0C" stop-opacity="0.77"/><stop offset="0.238" stop-color="#AF7C0C" stop-opacity="0.74"/><stop offset="0.266" stop-color="#AF7C0C" stop-opacity="0.70"/><stop offset="0.293" stop-color="#AF7C0C" stop-opacity="0.67"/><stop offset="0.321" stop-color="#AF7C0C" stop-opacity="0.64"/><stop offset="0.348" stop-color="#AF7C0C" stop-opacity="0.61"/><stop offset="0.376" stop-color="#AF7C0C" stop-opacity="0.57"/><stop offset="0.403" stop-color="#AF7C0C" stop-opacity="0.54"/><stop offset="0.431" stop-color="#AF7C0C" stop-opacity="0.51"/><stop offset="0.459" stop-color="#AF7C0C" stop-opacity="0.48"/><stop offset="0.486" stop-color="#AF7C0C" stop-opacity="0.45"/><stop offset="0.514" stop-color="#AF7C0C" stop-opacity="0.45"/><stop offset="0.541" stop-color="#AF7C0C" stop-opacity="0.48"/><stop offset="0.569" stop-color="#AF7C0C" stop-opacity="0.51"/><stop offset="0.597" stop-color="#AF7C0C" stop-opacity="0.54"/><stop offset="0.624" stop-color="#AF7C0C" stop-opacity="0.57"/><stop offset="0.652" stop-color="#AF7C0C" stop-opacity="0.61"/><stop offset="0.679" stop-color="#AF7C0C" stop-opacity="0.64"/><stop offset="0.707" stop-color="#AF7C0C" stop-opacity="0.67"/><stop offset="0.734" stop-color="#AF7C0C" stop-opacity="0.70"/><stop offset="0.762" stop-color="#AF7C0C" stop-opacity="0.74"/><stop offset="0.790" stop-color="#AF7C0C" stop-opacity="0.77"/><stop offset="0.817" stop-color="#AF7C0C" stop-opacity="0.80"/><stop offset="0.845" stop-color="#AF7C0C" stop-opacity="0.83"/><stop offset="0.872" stop-color="#AF7C0C" stop-opacity="0.85"/><stop offset="0.900" stop-color="#AF7C0C" stop-opacity="0.88"/><stop offset="0.927" stop-color="#AF7C0C" stop-opacity="0.90"/><stop offset="0.955" stop-color="#AF7C0C" stop-opacity="0.92"/><stop offset="0.983" stop-color="#AF7C0C" stop-opacity="0.94"/></linearGradient><linearGradient id="gC1" gradientUnits="userSpaceOnUse" x1="229.1" y1="0" x2="569" y2="0"><stop offset="0.027" stop-color="#AF7C0C" stop-opacity="0.93"/><stop offset="0.070" stop-color="#AF7C0C" stop-opacity="0.91"/><stop offset="0.113" stop-color="#AF7C0C" stop-opacity="0.89"/><stop offset="0.156" stop-color="#AF7C0C" stop-opacity="0.87"/><stop offset="0.199" stop-color="#AF7C0C" stop-opacity="0.84"/><stop offset="0.242" stop-color="#AF7C0C" stop-opacity="0.81"/><stop offset="0.285" stop-color="#AF7C0C" stop-opacity="0.78"/><stop offset="0.328" stop-color="#AF7C0C" stop-opacity="0.75"/><stop offset="0.371" stop-color="#AF7C0C" stop-opacity="0.72"/><stop offset="0.414" stop-color="#AF7C0C" stop-opacity="0.69"/><stop offset="0.457" stop-color="#AF7C0C" stop-opacity="0.66"/><stop offset="0.500" stop-color="#AF7C0C" stop-opacity="0.62"/><stop offset="0.543" stop-color="#AF7C0C" stop-opacity="0.66"/><stop offset="0.586" stop-color="#AF7C0C" stop-opacity="0.69"/><stop offset="0.629" stop-color="#AF7C0C" stop-opacity="0.72"/><stop offset="0.672" stop-color="#AF7C0C" stop-opacity="0.75"/><stop offset="0.715" stop-color="#AF7C0C" stop-opacity="0.78"/><stop offset="0.758" stop-color="#AF7C0C" stop-opacity="0.81"/><stop offset="0.801" stop-color="#AF7C0C" stop-opacity="0.84"/><stop offset="0.844" stop-color="#AF7C0C" stop-opacity="0.87"/><stop offset="0.887" stop-color="#AF7C0C" stop-opacity="0.89"/><stop offset="0.930" stop-color="#AF7C0C" stop-opacity="0.91"/><stop offset="0.973" stop-color="#AF7C0C" stop-opacity="0.93"/></linearGradient><linearGradient id="gC2" gradientUnits="userSpaceOnUse" x1="324.1" y1="0" x2="474" y2="0"><stop offset="0.061" stop-color="#AF7C0C" stop-opacity="0.92"/><stop offset="0.159" stop-color="#AF7C0C" stop-opacity="0.90"/><stop offset="0.256" stop-color="#AF7C0C" stop-opacity="0.88"/><stop offset="0.354" stop-color="#AF7C0C" stop-opacity="0.86"/><stop offset="0.451" stop-color="#AF7C0C" stop-opacity="0.83"/><stop offset="0.549" stop-color="#AF7C0C" stop-opacity="0.83"/><stop offset="0.646" stop-color="#AF7C0C" stop-opacity="0.86"/><stop offset="0.744" stop-color="#AF7C0C" stop-opacity="0.88"/><stop offset="0.841" stop-color="#AF7C0C" stop-opacity="0.90"/><stop offset="0.939" stop-color="#AF7C0C" stop-opacity="0.92"/></linearGradient><linearGradient id="gC3" gradientUnits="userSpaceOnUse" x1="550.6" y1="0" x2="576.3" y2="0"><stop offset="0.358" stop-color="#03028A" stop-opacity="0.93"/><stop offset="0.642" stop-color="#03028A" stop-opacity="0.80"/></linearGradient><linearGradient id="gC4" gradientUnits="userSpaceOnUse" x1="536" y1="0" x2="561.7" y2="0"><stop offset="0.358" stop-color="#03028A" stop-opacity="0.91"/><stop offset="0.642" stop-color="#03028A" stop-opacity="0.77"/></linearGradient><linearGradient id="gC5" gradientUnits="userSpaceOnUse" x1="521.4" y1="0" x2="547.1" y2="0"><stop offset="0.358" stop-color="#03028A" stop-opacity="0.89"/><stop offset="0.642" stop-color="#03028A" stop-opacity="0.74"/></linearGradient><linearGradient id="gC6" gradientUnits="userSpaceOnUse" x1="506.8" y1="0" x2="532.5" y2="0"><stop offset="0.358" stop-color="#03028A" stop-opacity="0.87"/><stop offset="0.642" stop-color="#03028A" stop-opacity="0.70"/></linearGradient><linearGradient id="gC7" gradientUnits="userSpaceOnUse" x1="492.1" y1="0" x2="517.8" y2="0"><stop offset="0.358" stop-color="#03028A" stop-opacity="0.84"/><stop offset="0.642" stop-color="#03028A" stop-opacity="0.67"/></linearGradient><linearGradient id="gC8" gradientUnits="userSpaceOnUse" x1="477.5" y1="0" x2="503.2" y2="0"><stop offset="0.358" stop-color="#03028A" stop-opacity="0.81"/><stop offset="0.642" stop-color="#03028A" stop-opacity="0.64"/></linearGradient><linearGradient id="gC9" gradientUnits="userSpaceOnUse" x1="455.6" y1="0" x2="488.6" y2="0"><stop offset="0.279" stop-color="#03028A" stop-opacity="0.92"/><stop offset="0.500" stop-color="#03028A" stop-opacity="0.78"/><stop offset="0.721" stop-color="#03028A" stop-opacity="0.61"/></linearGradient><linearGradient id="gC10" gradientUnits="userSpaceOnUse" x1="441" y1="0" x2="474" y2="0"><stop offset="0.279" stop-color="#03028A" stop-opacity="0.90"/><stop offset="0.500" stop-color="#03028A" stop-opacity="0.75"/><stop offset="0.721" stop-color="#03028A" stop-opacity="0.57"/></linearGradient><linearGradient id="gC11" gradientUnits="userSpaceOnUse" x1="426.4" y1="0" x2="459.4" y2="0"><stop offset="0.279" stop-color="#03028A" stop-opacity="0.88"/><stop offset="0.500" stop-color="#03028A" stop-opacity="0.72"/><stop offset="0.721" stop-color="#03028A" stop-opacity="0.54"/></linearGradient><linearGradient id="gC12" gradientUnits="userSpaceOnUse" x1="411.8" y1="0" x2="444.8" y2="0"><stop offset="0.279" stop-color="#03028A" stop-opacity="0.86"/><stop offset="0.500" stop-color="#03028A" stop-opacity="0.69"/><stop offset="0.721" stop-color="#03028A" stop-opacity="0.51"/></linearGradient><linearGradient id="gC13" gradientUnits="userSpaceOnUse" x1="397.2" y1="0" x2="430.2" y2="0"><stop offset="0.279" stop-color="#03028A" stop-opacity="0.83"/><stop offset="0.500" stop-color="#03028A" stop-opacity="0.66"/><stop offset="0.721" stop-color="#03028A" stop-opacity="0.48"/></linearGradient><linearGradient id="gC14" gradientUnits="userSpaceOnUse" x1="382.5" y1="0" x2="415.6" y2="0"><stop offset="0.279" stop-color="#03028A" stop-opacity="0.83"/><stop offset="0.500" stop-color="#03028A" stop-opacity="0.62"/><stop offset="0.721" stop-color="#03028A" stop-opacity="0.45"/></linearGradient><linearGradient id="gC15" gradientUnits="userSpaceOnUse" x1="367.9" y1="0" x2="400.9" y2="0"><stop offset="0.279" stop-color="#03028A" stop-opacity="0.86"/><stop offset="0.500" stop-color="#03028A" stop-opacity="0.66"/><stop offset="0.721" stop-color="#03028A" stop-opacity="0.45"/></linearGradient><linearGradient id="gC16" gradientUnits="userSpaceOnUse" x1="353.3" y1="0" x2="386.3" y2="0"><stop offset="0.279" stop-color="#03028A" stop-opacity="0.88"/><stop offset="0.500" stop-color="#03028A" stop-opacity="0.69"/><stop offset="0.721" stop-color="#03028A" stop-opacity="0.48"/></linearGradient><linearGradient id="gC17" gradientUnits="userSpaceOnUse" x1="338.7" y1="0" x2="371.7" y2="0"><stop offset="0.279" stop-color="#03028A" stop-opacity="0.90"/><stop offset="0.500" stop-color="#03028A" stop-opacity="0.72"/><stop offset="0.721" stop-color="#03028A" stop-opacity="0.51"/></linearGradient><linearGradient id="gC18" gradientUnits="userSpaceOnUse" x1="324.1" y1="0" x2="357.1" y2="0"><stop offset="0.279" stop-color="#03028A" stop-opacity="0.92"/><stop offset="0.500" stop-color="#03028A" stop-opacity="0.75"/><stop offset="0.721" stop-color="#03028A" stop-opacity="0.54"/></linearGradient><linearGradient id="gC19" gradientUnits="userSpaceOnUse" x1="316.8" y1="0" x2="342.5" y2="0"><stop offset="0.358" stop-color="#03028A" stop-opacity="0.78"/><stop offset="0.642" stop-color="#03028A" stop-opacity="0.57"/></linearGradient><linearGradient id="gC20" gradientUnits="userSpaceOnUse" x1="302.2" y1="0" x2="327.9" y2="0"><stop offset="0.358" stop-color="#03028A" stop-opacity="0.81"/><stop offset="0.642" stop-color="#03028A" stop-opacity="0.61"/></linearGradient><linearGradient id="gC21" gradientUnits="userSpaceOnUse" x1="287.6" y1="0" x2="313.3" y2="0"><stop offset="0.358" stop-color="#03028A" stop-opacity="0.84"/><stop offset="0.642" stop-color="#03028A" stop-opacity="0.64"/></linearGradient><linearGradient id="gC22" gradientUnits="userSpaceOnUse" x1="272.9" y1="0" x2="298.7" y2="0"><stop offset="0.358" stop-color="#03028A" stop-opacity="0.87"/><stop offset="0.642" stop-color="#03028A" stop-opacity="0.67"/></linearGradient><linearGradient id="gC23" gradientUnits="userSpaceOnUse" x1="258.3" y1="0" x2="284" y2="0"><stop offset="0.358" stop-color="#03028A" stop-opacity="0.89"/><stop offset="0.642" stop-color="#03028A" stop-opacity="0.70"/></linearGradient><linearGradient id="gC24" gradientUnits="userSpaceOnUse" x1="243.7" y1="0" x2="269.4" y2="0"><stop offset="0.358" stop-color="#03028A" stop-opacity="0.91"/><stop offset="0.642" stop-color="#03028A" stop-opacity="0.74"/></linearGradient><linearGradient id="gC25" gradientUnits="userSpaceOnUse" x1="229.1" y1="0" x2="254.8" y2="0"><stop offset="0.358" stop-color="#03028A" stop-opacity="0.93"/><stop offset="0.642" stop-color="#03028A" stop-opacity="0.77"/></linearGradient><linearGradient id="gC26" gradientUnits="userSpaceOnUse" x1="221.8" y1="0" x2="247.5" y2="0"><stop offset="0.358" stop-color="#FC0000" stop-opacity="0.80"/><stop offset="0.642" stop-color="#FC0000" stop-opacity="0.93"/></linearGradient><linearGradient id="gC27" gradientUnits="userSpaceOnUse" x1="236.4" y1="0" x2="262.1" y2="0"><stop offset="0.358" stop-color="#FC0000" stop-opacity="0.77"/><stop offset="0.642" stop-color="#FC0000" stop-opacity="0.91"/></linearGradient><linearGradient id="gC28" gradientUnits="userSpaceOnUse" x1="251" y1="0" x2="276.7" y2="0"><stop offset="0.358" stop-color="#FC0000" stop-opacity="0.74"/><stop offset="0.642" stop-color="#FC0000" stop-opacity="0.89"/></linearGradient><linearGradient id="gC29" gradientUnits="userSpaceOnUse" x1="265.6" y1="0" x2="291.3" y2="0"><stop offset="0.358" stop-color="#FC0000" stop-opacity="0.70"/><stop offset="0.642" stop-color="#FC0000" stop-opacity="0.87"/></linearGradient><linearGradient id="gC30" gradientUnits="userSpaceOnUse" x1="280.3" y1="0" x2="306" y2="0"><stop offset="0.358" stop-color="#FC0000" stop-opacity="0.67"/><stop offset="0.642" stop-color="#FC0000" stop-opacity="0.84"/></linearGradient><linearGradient id="gC31" gradientUnits="userSpaceOnUse" x1="294.9" y1="0" x2="320.6" y2="0"><stop offset="0.358" stop-color="#FC0000" stop-opacity="0.64"/><stop offset="0.642" stop-color="#FC0000" stop-opacity="0.81"/></linearGradient><linearGradient id="gC32" gradientUnits="userSpaceOnUse" x1="309.5" y1="0" x2="342.5" y2="0"><stop offset="0.279" stop-color="#FC0000" stop-opacity="0.61"/><stop offset="0.500" stop-color="#FC0000" stop-opacity="0.78"/><stop offset="0.721" stop-color="#FC0000" stop-opacity="0.92"/></linearGradient><linearGradient id="gC33" gradientUnits="userSpaceOnUse" x1="324.1" y1="0" x2="357.1" y2="0"><stop offset="0.279" stop-color="#FC0000" stop-opacity="0.57"/><stop offset="0.500" stop-color="#FC0000" stop-opacity="0.75"/><stop offset="0.721" stop-color="#FC0000" stop-opacity="0.90"/></linearGradient><linearGradient id="gC34" gradientUnits="userSpaceOnUse" x1="338.7" y1="0" x2="371.7" y2="0"><stop offset="0.279" stop-color="#FC0000" stop-opacity="0.54"/><stop offset="0.500" stop-color="#FC0000" stop-opacity="0.72"/><stop offset="0.721" stop-color="#FC0000" stop-opacity="0.88"/></linearGradient><linearGradient id="gC35" gradientUnits="userSpaceOnUse" x1="353.3" y1="0" x2="386.3" y2="0"><stop offset="0.279" stop-color="#FC0000" stop-opacity="0.51"/><stop offset="0.500" stop-color="#FC0000" stop-opacity="0.69"/><stop offset="0.721" stop-color="#FC0000" stop-opacity="0.86"/></linearGradient><linearGradient id="gC36" gradientUnits="userSpaceOnUse" x1="367.9" y1="0" x2="400.9" y2="0"><stop offset="0.279" stop-color="#FC0000" stop-opacity="0.48"/><stop offset="0.500" stop-color="#FC0000" stop-opacity="0.66"/><stop offset="0.721" stop-color="#FC0000" stop-opacity="0.83"/></linearGradient><linearGradient id="gC37" gradientUnits="userSpaceOnUse" x1="382.5" y1="0" x2="415.6" y2="0"><stop offset="0.279" stop-color="#FC0000" stop-opacity="0.45"/><stop offset="0.500" stop-color="#FC0000" stop-opacity="0.62"/><stop offset="0.721" stop-color="#FC0000" stop-opacity="0.83"/></linearGradient><linearGradient id="gC38" gradientUnits="userSpaceOnUse" x1="397.2" y1="0" x2="430.2" y2="0"><stop offset="0.279" stop-color="#FC0000" stop-opacity="0.45"/><stop offset="0.500" stop-color="#FC0000" stop-opacity="0.66"/><stop offset="0.721" stop-color="#FC0000" stop-opacity="0.86"/></linearGradient><linearGradient id="gC39" gradientUnits="userSpaceOnUse" x1="411.8" y1="0" x2="444.8" y2="0"><stop offset="0.279" stop-color="#FC0000" stop-opacity="0.48"/><stop offset="0.500" stop-color="#FC0000" stop-opacity="0.69"/><stop offset="0.721" stop-color="#FC0000" stop-opacity="0.88"/></linearGradient><linearGradient id="gC40" gradientUnits="userSpaceOnUse" x1="426.4" y1="0" x2="459.4" y2="0"><stop offset="0.279" stop-color="#FC0000" stop-opacity="0.51"/><stop offset="0.500" stop-color="#FC0000" stop-opacity="0.72"/><stop offset="0.721" stop-color="#FC0000" stop-opacity="0.90"/></linearGradient><linearGradient id="gC41" gradientUnits="userSpaceOnUse" x1="441" y1="0" x2="474" y2="0"><stop offset="0.279" stop-color="#FC0000" stop-opacity="0.54"/><stop offset="0.500" stop-color="#FC0000" stop-opacity="0.75"/><stop offset="0.721" stop-color="#FC0000" stop-opacity="0.92"/></linearGradient><linearGradient id="gC42" gradientUnits="userSpaceOnUse" x1="455.6" y1="0" x2="481.3" y2="0"><stop offset="0.358" stop-color="#FC0000" stop-opacity="0.57"/><stop offset="0.642" stop-color="#FC0000" stop-opacity="0.78"/></linearGradient><linearGradient id="gC43" gradientUnits="userSpaceOnUse" x1="470.2" y1="0" x2="495.9" y2="0"><stop offset="0.358" stop-color="#FC0000" stop-opacity="0.61"/><stop offset="0.642" stop-color="#FC0000" stop-opacity="0.81"/></linearGradient><linearGradient id="gC44" gradientUnits="userSpaceOnUse" x1="484.8" y1="0" x2="510.5" y2="0"><stop offset="0.358" stop-color="#FC0000" stop-opacity="0.64"/><stop offset="0.642" stop-color="#FC0000" stop-opacity="0.84"/></linearGradient><linearGradient id="gC45" gradientUnits="userSpaceOnUse" x1="499.4" y1="0" x2="525.2" y2="0"><stop offset="0.358" stop-color="#FC0000" stop-opacity="0.67"/><stop offset="0.642" stop-color="#FC0000" stop-opacity="0.87"/></linearGradient><linearGradient id="gC46" gradientUnits="userSpaceOnUse" x1="514.1" y1="0" x2="539.8" y2="0"><stop offset="0.358" stop-color="#FC0000" stop-opacity="0.70"/><stop offset="0.642" stop-color="#FC0000" stop-opacity="0.89"/></linearGradient><linearGradient id="gC47" gradientUnits="userSpaceOnUse" x1="528.7" y1="0" x2="554.4" y2="0"><stop offset="0.358" stop-color="#FC0000" stop-opacity="0.74"/><stop offset="0.642" stop-color="#FC0000" stop-opacity="0.91"/></linearGradient><linearGradient id="gC48" gradientUnits="userSpaceOnUse" x1="543.3" y1="0" x2="569" y2="0"><stop offset="0.358" stop-color="#FC0000" stop-opacity="0.77"/><stop offset="0.642" stop-color="#FC0000" stop-opacity="0.93"/></linearGradient></defs><g fill="#AF7C0C"><rect x="104.2" y="1023.5" width="34.4" height="16.8" rx="4.6"/><rect x="659.5" y="1023.5" width="34.4" height="16.8" rx="4.6"/><rect x="111.5" y="1013.3" width="122.1" height="16.8" rx="4.6"/><rect x="564.5" y="1013.3" width="122.1" height="16.8" rx="4.6"/><rect x="118.8" y="1003" width="209.8" height="16.8" rx="4.6"/><rect x="469.5" y="1003" width="209.8" height="16.8" rx="4.6"/><rect x="126.1" y="992.8" width="545.9" height="16.8" rx="4.6"/><rect x="133.4" y="982.6" width="531.2" height="16.8" rx="4.6"/><rect x="140.7" y="972.4" width="516.6" height="16.8" rx="4.6"/><rect x="148" y="962.1" width="502" height="16.8" rx="4.6"/><rect x="155.3" y="951.9" width="487.4" height="16.8" rx="4.6"/><rect x="162.7" y="941.7" width="472.8" height="16.8" rx="4.6"/><rect x="170" y="931.5" width="458.2" height="16.8" rx="4.6"/><rect x="177.3" y="921.2" width="443.6" height="16.8" rx="4.6"/><rect x="184.6" y="911" width="429" height="16.8" rx="4.6"/><rect x="191.9" y="900.8" width="414.3" height="16.8" rx="4.6"/><rect x="199.2" y="890.6" width="399.7" height="16.8" rx="4.6"/><rect x="206.5" y="880.3" width="385.1" height="16.8" rx="4.6"/><rect x="213.8" y="870.1" width="370.5" height="16.8" rx="4.6"/><rect x="221.1" y="859.9" width="355.9" height="16.8" rx="4.6"/><rect x="228.4" y="849.7" width="341.3" height="16.8" rx="4.6"/><rect x="235.7" y="839.4" width="326.7" height="16.8" rx="4.6"/><rect x="243" y="829.2" width="312.1" height="16.8" rx="4.6"/><rect x="250.3" y="819" width="297.4" height="16.8" rx="4.6"/><rect x="257.6" y="808.8" width="282.8" height="16.8" rx="4.6"/><rect x="264.9" y="798.5" width="268.2" height="16.8" rx="4.6"/><rect x="272.2" y="788.3" width="253.6" height="16.8" rx="4.6"/><rect x="279.6" y="778.1" width="239" height="16.8" rx="4.6"/><rect x="286.9" y="767.9" width="224.4" height="16.8" rx="4.6"/><rect x="294.2" y="757.6" width="209.8" height="16.8" rx="4.6"/><rect x="301.5" y="747.4" width="195.2" height="16.8" rx="4.6"/><rect x="308.8" y="737.2" width="180.5" height="16.8" rx="4.6"/><rect x="316.1" y="727" width="165.9" height="16.8" rx="4.6"/><rect x="323.4" y="716.7" width="151.3" height="16.8" rx="4.6"/><rect x="330.7" y="706.5" width="136.7" height="16.8" rx="4.6"/><rect x="338" y="696.3" width="122.1" height="16.8" rx="4.6"/><rect x="345.3" y="686.1" width="107.5" height="16.8" rx="4.6"/><rect x="352.6" y="675.8" width="92.9" height="16.8" rx="4.6"/><rect x="359.9" y="665.6" width="78.3" height="16.8" rx="4.6"/><rect x="367.2" y="655.4" width="63.6" height="16.8" rx="4.6"/><rect x="374.5" y="645.2" width="49" height="16.8" rx="4.6"/><rect x="381.8" y="634.9" width="34.4" height="16.8" rx="4.6"/><rect x="389.1" y="624.7" width="19.8" height="16.8" rx="4.6"/></g>
<g fill="#AF7C0C" filter="url(#blur1)"><rect x="134.1" y="1024.2" width="529.8" height="15.4" rx="4.6" fill="url(#gC0)"/><rect x="229.1" y="1014" width="339.9" height="15.4" rx="4.6" fill="url(#gC1)"/><rect x="324.1" y="1003.7" width="149.9" height="15.4" rx="4.6" fill="url(#gC2)"/></g>
<g fill="#03028A"><rect x="389.1" y="1023.5" width="304.8" height="16.8" rx="4.6"/><rect x="381.8" y="1013.3" width="297.4" height="16.8" rx="4.6"/><rect x="374.5" y="1003" width="282.8" height="16.8" rx="4.6"/><rect x="367.2" y="992.8" width="275.5" height="16.8" rx="4.6"/><rect x="359.9" y="982.6" width="268.2" height="16.8" rx="4.6"/><rect x="352.6" y="972.4" width="260.9" height="16.8" rx="4.6"/><rect x="345.3" y="962.1" width="253.6" height="16.8" rx="4.6"/><rect x="338" y="951.9" width="246.3" height="16.8" rx="4.6"/><rect x="330.7" y="941.7" width="231.7" height="16.8" rx="4.6"/><rect x="323.4" y="931.5" width="224.4" height="16.8" rx="4.6"/><rect x="316.1" y="921.2" width="217.1" height="16.8" rx="4.6"/><rect x="308.8" y="911" width="209.8" height="16.8" rx="4.6"/><rect x="301.5" y="900.8" width="202.5" height="16.8" rx="4.6"/><rect x="294.2" y="890.6" width="195.2" height="16.8" rx="4.6"/><rect x="286.9" y="880.3" width="180.5" height="16.8" rx="4.6"/><rect x="279.6" y="870.1" width="173.2" height="16.8" rx="4.6"/><rect x="272.2" y="859.9" width="165.9" height="16.8" rx="4.6"/><rect x="264.9" y="849.7" width="158.6" height="16.8" rx="4.6"/><rect x="257.6" y="839.4" width="151.3" height="16.8" rx="4.6"/><rect x="250.3" y="829.2" width="144" height="16.8" rx="4.6"/><rect x="243" y="819" width="136.7" height="16.8" rx="4.6"/><rect x="235.7" y="808.8" width="129.4" height="16.8" rx="4.6"/><rect x="228.4" y="798.5" width="122.1" height="16.8" rx="4.6"/><rect x="221.1" y="788.3" width="114.8" height="16.8" rx="4.6"/><rect x="213.8" y="778.1" width="114.8" height="16.8" rx="4.6"/><rect x="206.5" y="767.9" width="107.5" height="16.8" rx="4.6"/><rect x="199.2" y="757.6" width="100.2" height="16.8" rx="4.6"/><rect x="191.9" y="747.4" width="92.9" height="16.8" rx="4.6"/><rect x="184.6" y="737.2" width="85.6" height="16.8" rx="4.6"/><rect x="177.3" y="727" width="78.3" height="16.8" rx="4.6"/><rect x="170" y="716.7" width="70.9" height="16.8" rx="4.6"/><rect x="162.7" y="706.5" width="70.9" height="16.8" rx="4.6"/><rect x="155.3" y="696.3" width="63.6" height="16.8" rx="4.6"/><rect x="148" y="686.1" width="56.3" height="16.8" rx="4.6"/><rect x="140.7" y="675.8" width="49" height="16.8" rx="4.6"/><rect x="133.4" y="665.6" width="41.7" height="16.8" rx="4.6"/><rect x="126.1" y="655.4" width="34.4" height="16.8" rx="4.6"/><rect x="118.8" y="645.2" width="27.1" height="16.8" rx="4.6"/><rect x="111.5" y="634.9" width="27.1" height="16.8" rx="4.6"/><rect x="104.2" y="624.7" width="19.8" height="16.8" rx="4.6"/></g>
<g fill="#03028A" filter="url(#blur1)"><rect x="616.3" y="983.3" width="18.4" height="15.4" rx="4.6" opacity="0.90"/><rect x="601.7" y="973.1" width="18.4" height="15.4" rx="4.6" opacity="0.88"/><rect x="587.1" y="962.8" width="18.4" height="15.4" rx="4.6" opacity="0.85"/><rect x="572.5" y="952.6" width="18.4" height="15.4" rx="4.6" opacity="0.83"/><rect x="550.6" y="942.4" width="25.7" height="15.4" rx="4.6" fill="url(#gC3)"/><rect x="536" y="932.2" width="25.7" height="15.4" rx="4.6" fill="url(#gC4)"/><rect x="521.4" y="921.9" width="25.7" height="15.4" rx="4.6" fill="url(#gC5)"/><rect x="506.8" y="911.7" width="25.7" height="15.4" rx="4.6" fill="url(#gC6)"/><rect x="492.1" y="901.5" width="25.7" height="15.4" rx="4.6" fill="url(#gC7)"/><rect x="477.5" y="891.3" width="25.7" height="15.4" rx="4.6" fill="url(#gC8)"/><rect x="455.6" y="881" width="33" height="15.4" rx="4.6" fill="url(#gC9)"/><rect x="441" y="870.8" width="33" height="15.4" rx="4.6" fill="url(#gC10)"/><rect x="426.4" y="860.6" width="33" height="15.4" rx="4.6" fill="url(#gC11)"/><rect x="411.8" y="850.4" width="33" height="15.4" rx="4.6" fill="url(#gC12)"/><rect x="397.2" y="840.1" width="33" height="15.4" rx="4.6" fill="url(#gC13)"/><rect x="382.5" y="829.9" width="33" height="15.4" rx="4.6" fill="url(#gC14)"/><rect x="367.9" y="819.7" width="33" height="15.4" rx="4.6" fill="url(#gC15)"/><rect x="353.3" y="809.5" width="33" height="15.4" rx="4.6" fill="url(#gC16)"/><rect x="338.7" y="799.2" width="33" height="15.4" rx="4.6" fill="url(#gC17)"/><rect x="324.1" y="789" width="33" height="15.4" rx="4.6" fill="url(#gC18)"/><rect x="316.8" y="778.8" width="25.7" height="15.4" rx="4.6" fill="url(#gC19)"/><rect x="302.2" y="768.6" width="25.7" height="15.4" rx="4.6" fill="url(#gC20)"/><rect x="287.6" y="758.3" width="25.7" height="15.4" rx="4.6" fill="url(#gC21)"/><rect x="272.9" y="748.1" width="25.7" height="15.4" rx="4.6" fill="url(#gC22)"/><rect x="258.3" y="737.9" width="25.7" height="15.4" rx="4.6" fill="url(#gC23)"/><rect x="243.7" y="727.7" width="25.7" height="15.4" rx="4.6" fill="url(#gC24)"/><rect x="229.1" y="717.4" width="25.7" height="15.4" rx="4.6" fill="url(#gC25)"/><rect x="221.8" y="707.2" width="18.4" height="15.4" rx="4.6" opacity="0.80"/><rect x="207.2" y="697" width="18.4" height="15.4" rx="4.6" opacity="0.83"/><rect x="192.6" y="686.8" width="18.4" height="15.4" rx="4.6" opacity="0.85"/><rect x="178" y="676.5" width="18.4" height="15.4" rx="4.6" opacity="0.88"/><rect x="163.4" y="666.3" width="18.4" height="15.4" rx="4.6" opacity="0.90"/></g>
<g fill="#03028A" filter="url(#blur2)"><rect x="645.6" y="1003.7" width="18.4" height="15.4" rx="4.6" opacity="0.94"/><rect x="631" y="993.5" width="18.4" height="15.4" rx="4.6" opacity="0.92"/><rect x="148.7" y="656.1" width="18.4" height="15.4" rx="4.6" opacity="0.92"/><rect x="134.1" y="645.9" width="18.4" height="15.4" rx="4.6" opacity="0.94"/></g>
<g fill="#FC0000"><rect x="104.2" y="1023.5" width="304.7" height="16.8" rx="4.6"/><rect x="118.8" y="1013.3" width="297.4" height="16.8" rx="4.6"/><rect x="140.7" y="1003" width="282.8" height="16.8" rx="4.6"/><rect x="155.3" y="992.8" width="275.5" height="16.8" rx="4.6"/><rect x="170" y="982.6" width="268.2" height="16.8" rx="4.6"/><rect x="184.6" y="972.4" width="260.9" height="16.8" rx="4.6"/><rect x="199.2" y="962.1" width="253.6" height="16.8" rx="4.6"/><rect x="213.8" y="951.9" width="246.3" height="16.8" rx="4.6"/><rect x="235.7" y="941.7" width="231.7" height="16.8" rx="4.6"/><rect x="250.3" y="931.5" width="224.4" height="16.8" rx="4.6"/><rect x="264.9" y="921.2" width="217.1" height="16.8" rx="4.6"/><rect x="279.6" y="911" width="209.8" height="16.8" rx="4.6"/><rect x="294.2" y="900.8" width="202.5" height="16.8" rx="4.6"/><rect x="308.8" y="890.6" width="195.2" height="16.8" rx="4.6"/><rect x="330.7" y="880.3" width="180.5" height="16.8" rx="4.6"/><rect x="345.3" y="870.1" width="173.2" height="16.8" rx="4.6"/><rect x="359.9" y="859.9" width="165.9" height="16.8" rx="4.6"/><rect x="374.5" y="849.7" width="158.6" height="16.8" rx="4.6"/><rect x="389.1" y="839.4" width="151.3" height="16.8" rx="4.6"/><rect x="403.8" y="829.2" width="144" height="16.8" rx="4.6"/><rect x="418.4" y="819" width="136.7" height="16.8" rx="4.6"/><rect x="433" y="808.8" width="129.4" height="16.8" rx="4.6"/><rect x="447.6" y="798.5" width="122.1" height="16.8" rx="4.6"/><rect x="462.2" y="788.3" width="114.8" height="16.8" rx="4.6"/><rect x="469.5" y="778.1" width="114.8" height="16.8" rx="4.6"/><rect x="484.1" y="767.9" width="107.5" height="16.8" rx="4.6"/><rect x="498.7" y="757.6" width="100.2" height="16.8" rx="4.6"/><rect x="513.4" y="747.4" width="92.9" height="16.8" rx="4.6"/><rect x="528" y="737.2" width="85.6" height="16.8" rx="4.6"/><rect x="542.6" y="727" width="78.3" height="16.8" rx="4.6"/><rect x="557.2" y="716.7" width="70.9" height="16.8" rx="4.6"/><rect x="564.5" y="706.5" width="70.9" height="16.8" rx="4.6"/><rect x="579.1" y="696.3" width="63.6" height="16.8" rx="4.6"/><rect x="593.7" y="686.1" width="56.3" height="16.8" rx="4.6"/><rect x="608.3" y="675.8" width="49" height="16.8" rx="4.6"/><rect x="623" y="665.6" width="41.7" height="16.8" rx="4.6"/><rect x="637.6" y="655.4" width="34.4" height="16.8" rx="4.6"/><rect x="652.2" y="645.2" width="27.1" height="16.8" rx="4.6"/><rect x="659.5" y="634.9" width="27.1" height="16.8" rx="4.6"/><rect x="674.1" y="624.7" width="19.8" height="16.8" rx="4.6"/></g>
<g fill="#FC0000" filter="url(#blur1)"><rect x="163.4" y="983.3" width="18.4" height="15.4" rx="4.6" opacity="0.90"/><rect x="178" y="973.1" width="18.4" height="15.4" rx="4.6" opacity="0.88"/><rect x="192.6" y="962.8" width="18.4" height="15.4" rx="4.6" opacity="0.85"/><rect x="207.2" y="952.6" width="18.4" height="15.4" rx="4.6" opacity="0.83"/><rect x="221.8" y="942.4" width="25.7" height="15.4" rx="4.6" fill="url(#gC26)"/><rect x="236.4" y="932.2" width="25.7" height="15.4" rx="4.6" fill="url(#gC27)"/><rect x="251" y="921.9" width="25.7" height="15.4" rx="4.6" fill="url(#gC28)"/><rect x="265.6" y="911.7" width="25.7" height="15.4" rx="4.6" fill="url(#gC29)"/><rect x="280.3" y="901.5" width="25.7" height="15.4" rx="4.6" fill="url(#gC30)"/><rect x="294.9" y="891.3" width="25.7" height="15.4" rx="4.6" fill="url(#gC31)"/><rect x="309.5" y="881" width="33" height="15.4" rx="4.6" fill="url(#gC32)"/><rect x="324.1" y="870.8" width="33" height="15.4" rx="4.6" fill="url(#gC33)"/><rect x="338.7" y="860.6" width="33" height="15.4" rx="4.6" fill="url(#gC34)"/><rect x="353.3" y="850.4" width="33" height="15.4" rx="4.6" fill="url(#gC35)"/><rect x="367.9" y="840.1" width="33" height="15.4" rx="4.6" fill="url(#gC36)"/><rect x="382.5" y="829.9" width="33" height="15.4" rx="4.6" fill="url(#gC37)"/><rect x="397.2" y="819.7" width="33" height="15.4" rx="4.6" fill="url(#gC38)"/><rect x="411.8" y="809.5" width="33" height="15.4" rx="4.6" fill="url(#gC39)"/><rect x="426.4" y="799.2" width="33" height="15.4" rx="4.6" fill="url(#gC40)"/><rect x="441" y="789" width="33" height="15.4" rx="4.6" fill="url(#gC41)"/><rect x="455.6" y="778.8" width="25.7" height="15.4" rx="4.6" fill="url(#gC42)"/><rect x="470.2" y="768.6" width="25.7" height="15.4" rx="4.6" fill="url(#gC43)"/><rect x="484.8" y="758.3" width="25.7" height="15.4" rx="4.6" fill="url(#gC44)"/><rect x="499.4" y="748.1" width="25.7" height="15.4" rx="4.6" fill="url(#gC45)"/><rect x="514.1" y="737.9" width="25.7" height="15.4" rx="4.6" fill="url(#gC46)"/><rect x="528.7" y="727.7" width="25.7" height="15.4" rx="4.6" fill="url(#gC47)"/><rect x="543.3" y="717.4" width="25.7" height="15.4" rx="4.6" fill="url(#gC48)"/><rect x="557.9" y="707.2" width="18.4" height="15.4" rx="4.6" opacity="0.80"/><rect x="572.5" y="697" width="18.4" height="15.4" rx="4.6" opacity="0.83"/><rect x="587.1" y="686.8" width="18.4" height="15.4" rx="4.6" opacity="0.85"/><rect x="601.7" y="676.5" width="18.4" height="15.4" rx="4.6" opacity="0.88"/><rect x="616.3" y="666.3" width="18.4" height="15.4" rx="4.6" opacity="0.90"/></g>
<g fill="#FC0000" filter="url(#blur2)"><rect x="134.1" y="1003.7" width="18.4" height="15.4" rx="4.6" opacity="0.94"/><rect x="148.7" y="993.5" width="18.4" height="15.4" rx="4.6" opacity="0.92"/><rect x="631" y="656.1" width="18.4" height="15.4" rx="4.6" opacity="0.92"/><rect x="645.6" y="645.9" width="18.4" height="15.4" rx="4.6" opacity="0.94"/></g>

<polyline points="114.1,1031.9 119.8,1024 125.5,1016.3 131.2,1008.7 136.9,1001.3 142.6,994 148.3,986.9 154,980 159.7,973.2 165.4,966.6 171.1,960.1 176.8,953.8 182.5,947.7 188.2,941.7 193.9,935.9 199.6,930.2 205.3,924.7 211,919.4 216.7,914.2 222.4,909.1 228.1,904.3 233.8,899.6 239.5,895 245.2,890.6 250.9,886.4 256.6,882.4 262.3,878.4 268,874.7 273.7,871.1 279.4,867.7 285.1,864.4 290.8,861.3 296.5,858.3 302.2,855.6 307.9,852.9 313.6,850.4 319.3,848.1 325,846 330.7,844 336.4,842.2 342.1,840.5 347.8,839 353.5,837.6 359.2,836.4 364.9,835.4 370.6,834.5 376.3,833.8 382,833.2 387.7,832.8 393.4,832.6 399,832.5 404.7,832.6 410.4,832.8 416.1,833.2 421.8,833.8 427.5,834.5 433.2,835.4 438.9,836.4 444.6,837.6 450.3,839 456,840.5 461.7,842.2 467.4,844 473.1,846 478.8,848.1 484.5,850.4 490.2,852.9 495.9,855.6 501.6,858.3 507.3,861.3 513,864.4 518.7,867.7 524.4,871.1 530.1,874.7 535.8,878.4 541.5,882.4 547.2,886.4 552.9,890.6 558.6,895 564.3,899.6 570,904.3 575.7,909.1 581.4,914.2 587.1,919.4 592.8,924.7 598.5,930.2 604.2,935.9 609.9,941.7 615.6,947.7 621.3,953.8 627,960.1 632.7,966.6 638.4,973.2 644.1,980 649.8,986.9 655.5,994 661.2,1001.3 666.9,1008.7 672.6,1016.3 678.3,1024 684,1031.9" fill="none" stroke="#B8860B" stroke-width="1.7"/>
<polyline points="114.1,633.1 119.8,641 125.5,648.9 131.2,656.7 136.9,664.4 142.6,672 148.3,679.5 154,687 159.7,694.4 165.4,701.7 171.1,708.9 176.8,716 182.5,723.1 188.2,730 193.9,736.9 199.6,743.8 205.3,750.5 211,757.2 216.7,763.7 222.4,770.2 228.1,776.7 233.8,783 239.5,789.3 245.2,795.5 250.9,801.6 256.6,807.6 262.3,813.5 268,819.4 273.7,825.2 279.4,830.9 285.1,836.5 290.8,842 296.5,847.5 302.2,852.9 307.9,858.2 313.6,863.4 319.3,868.6 325,873.6 330.7,878.6 336.4,883.5 342.1,888.3 347.8,893.1 353.5,897.7 359.2,902.3 364.9,906.8 370.6,911.3 376.3,915.6 382,919.9 387.7,924.1 393.4,928.2 399,932.2 404.7,936.1 410.4,940 416.1,943.8 421.8,947.5 427.5,951.1 433.2,954.7 438.9,958.2 444.6,961.6 450.3,964.9 456,968.1 461.7,971.2 467.4,974.3 473.1,977.3 478.8,980.2 484.5,983 490.2,985.8 495.9,988.5 501.6,991.1 507.3,993.6 513,996 518.7,998.4 524.4,1000.6 530.1,1002.8 535.8,1004.9 541.5,1007 547.2,1008.9 552.9,1010.8 558.6,1012.6 564.3,1014.3 570,1015.9 575.7,1017.5 581.4,1019 587.1,1020.4 592.8,1021.7 598.5,1022.9 604.2,1024.1 609.9,1025.2 615.6,1026.2 621.3,1027.1 627,1027.9 632.7,1028.7 638.4,1029.3 644.1,1029.9 649.8,1030.5 655.5,1030.9 661.2,1031.3 666.9,1031.5 672.6,1031.7 678.3,1031.9 684,1031.9" fill="none" stroke="#00008B" stroke-width="1.7"/>
<polyline points="114.1,1031.9 119.8,1031.9 125.5,1031.7 131.2,1031.5 136.9,1031.3 142.6,1030.9 148.3,1030.5 154,1029.9 159.7,1029.3 165.4,1028.7 171.1,1027.9 176.8,1027.1 182.5,1026.2 188.2,1025.2 193.9,1024.1 199.6,1022.9 205.3,1021.7 211,1020.4 216.7,1019 222.4,1017.5 228.1,1015.9 233.8,1014.3 239.5,1012.6 245.2,1010.8 250.9,1008.9 256.6,1007 262.3,1004.9 268,1002.8 273.7,1000.6 279.4,998.4 285.1,996 290.8,993.6 296.5,991.1 302.2,988.5 307.9,985.8 313.6,983 319.3,980.2 325,977.3 330.7,974.3 336.4,971.2 342.1,968.1 347.8,964.9 353.5,961.6 359.2,958.2 364.9,954.7 370.6,951.1 376.3,947.5 382,943.8 387.7,940 393.4,936.1 399,932.2 404.7,928.2 410.4,924.1 416.1,919.9 421.8,915.6 427.5,911.3 433.2,906.8 438.9,902.3 444.6,897.7 450.3,893.1 456,888.3 461.7,883.5 467.4,878.6 473.1,873.6 478.8,868.6 484.5,863.4 490.2,858.2 495.9,852.9 501.6,847.5 507.3,842 513,836.5 518.7,830.9 524.4,825.2 530.1,819.4 535.8,813.5 541.5,807.6 547.2,801.6 552.9,795.5 558.6,789.3 564.3,783 570,776.7 575.7,770.2 581.4,763.7 587.1,757.2 592.8,750.5 598.5,743.8 604.2,736.9 609.9,730 615.6,723.1 621.3,716 627,708.9 632.7,701.7 638.4,694.4 644.1,687 649.8,679.5 655.5,672 661.2,664.4 666.9,656.7 672.6,648.9 678.3,641 684,633.1" fill="none" stroke="#FF0000" stroke-width="1.7"/>
</g></svg>
<rect x="79.6" y="609.6" width="639.3" height="446.2" fill="none" stroke="#333333" stroke-width="1.1"/>
<line x1="114.1" y1="1055.8" x2="114.1" y2="1060.4" stroke="#333333" stroke-width="1.1"/>
<text x="114.1" y="1080.2" text-anchor="middle" fill="#4D4D4D" font-size="22.5">0.00</text>
<line x1="75" y1="1031.9" x2="79.6" y2="1031.9" stroke="#333333" stroke-width="1.1"/>
<text x="71.4" y="1039.9" text-anchor="end" fill="#4D4D4D" font-size="22.5">0.00</text>
<line x1="256.6" y1="1055.8" x2="256.6" y2="1060.4" stroke="#333333" stroke-width="1.1"/>
<text x="256.6" y="1080.2" text-anchor="middle" fill="#4D4D4D" font-size="22.5">0.25</text>
<line x1="75" y1="932.2" x2="79.6" y2="932.2" stroke="#333333" stroke-width="1.1"/>
<text x="71.4" y="940.2" text-anchor="end" fill="#4D4D4D" font-size="22.5">0.25</text>
<line x1="399" y1="1055.8" x2="399" y2="1060.4" stroke="#333333" stroke-width="1.1"/>
<text x="399" y="1080.2" text-anchor="middle" fill="#4D4D4D" font-size="22.5">0.50</text>
<line x1="75" y1="832.5" x2="79.6" y2="832.5" stroke="#333333" stroke-width="1.1"/>
<text x="71.4" y="840.5" text-anchor="end" fill="#4D4D4D" font-size="22.5">0.50</text>
<line x1="541.5" y1="1055.8" x2="541.5" y2="1060.4" stroke="#333333" stroke-width="1.1"/>
<text x="541.5" y="1080.2" text-anchor="middle" fill="#4D4D4D" font-size="22.5">0.75</text>
<line x1="75" y1="732.8" x2="79.6" y2="732.8" stroke="#333333" stroke-width="1.1"/>
<text x="71.4" y="740.8" text-anchor="end" fill="#4D4D4D" font-size="22.5">0.75</text>
<line x1="684" y1="1055.8" x2="684" y2="1060.4" stroke="#333333" stroke-width="1.1"/>
<text x="684" y="1080.2" text-anchor="middle" fill="#4D4D4D" font-size="22.5">1.00</text>
<line x1="75" y1="633.1" x2="79.6" y2="633.1" stroke="#333333" stroke-width="1.1"/>
<text x="71.4" y="641.1" text-anchor="end" fill="#4D4D4D" font-size="22.5">1.00</text>
<text x="399.2" y="1106.4" text-anchor="middle" font-size="22.5">alt allele frequency</text>
<text transform="translate(18.6,832.7) rotate(-90)" x="0" y="0" text-anchor="middle" font-size="22.5">genotype frequency</text>
<text x="79.6" y="595.8" font-size="22.5">All F1s, all SNPs</text>
<text x="4.6" y="591.2" font-size="29.5" font-weight="bold">C</text>
</g>
<g id="pD">
<svg x="833.2" y="609.6" width="639.1" height="446" overflow="hidden"><g transform="translate(-833.2,-609.6)">
<line x1="939.8" y1="609.6" x2="939.8" y2="1055.6" stroke="#EBEBEB" stroke-width="0.7"/>
<line x1="833.2" y1="981.9" x2="1472.3" y2="981.9" stroke="#EBEBEB" stroke-width="0.7"/>
<line x1="1083.7" y1="609.6" x2="1083.7" y2="1055.6" stroke="#EBEBEB" stroke-width="0.7"/>
<line x1="833.2" y1="882.2" x2="1472.3" y2="882.2" stroke="#EBEBEB" stroke-width="0.7"/>
<line x1="1227.5" y1="609.6" x2="1227.5" y2="1055.6" stroke="#EBEBEB" stroke-width="0.7"/>
<line x1="833.2" y1="782.5" x2="1472.3" y2="782.5" stroke="#EBEBEB" stroke-width="0.7"/>
<line x1="1371.4" y1="609.6" x2="1371.4" y2="1055.6" stroke="#EBEBEB" stroke-width="0.7"/>
<line x1="833.2" y1="682.8" x2="1472.3" y2="682.8" stroke="#EBEBEB" stroke-width="0.7"/>
<line x1="867.9" y1="609.6" x2="867.9" y2="1055.6" stroke="#EBEBEB" stroke-width="1.4"/>
<line x1="833.2" y1="1031.8" x2="1472.3" y2="1031.8" stroke="#EBEBEB" stroke-width="1.4"/>
<line x1="1011.8" y1="609.6" x2="1011.8" y2="1055.6" stroke="#EBEBEB" stroke-width="1.4"/>
<line x1="833.2" y1="932.1" x2="1472.3" y2="932.1" stroke="#EBEBEB" stroke-width="1.4"/>
<line x1="1155.6" y1="609.6" x2="1155.6" y2="1055.6" stroke="#EBEBEB" stroke-width="1.4"/>
<line x1="833.2" y1="832.3" x2="1472.3" y2="832.3" stroke="#EBEBEB" stroke-width="1.4"/>
<line x1="1299.4" y1="609.6" x2="1299.4" y2="1055.6" stroke="#EBEBEB" stroke-width="1.4"/>
<line x1="833.2" y1="732.6" x2="1472.3" y2="732.6" stroke="#EBEBEB" stroke-width="1.4"/>
<line x1="1443.3" y1="609.6" x2="1443.3" y2="1055.6" stroke="#EBEBEB" stroke-width="1.4"/>
<line x1="833.2" y1="632.9" x2="1472.3" y2="632.9" stroke="#EBEBEB" stroke-width="1.4"/>

<g fill="#AF7C0C" fill-opacity="0.11" stroke="#AF7C0C" stroke-opacity="0.11" stroke-width="1"><circle cx="1336.2" cy="908.2" r="3.6"/><circle cx="1351.4" cy="933.1" r="3.6"/><circle cx="1356.8" cy="929.9" r="3.6"/><circle cx="1359.0" cy="937.5" r="3.6"/><circle cx="1300.4" cy="942.9" r="3.6"/><circle cx="1307.4" cy="939.6" r="3.6"/><circle cx="1347.0" cy="957.0" r="3.6"/><circle cx="1352.5" cy="952.6" r="3.6"/><circle cx="1354.6" cy="951.5" r="3.6"/><circle cx="1367.6" cy="951.5" r="3.6"/><circle cx="1389.3" cy="947.2" r="3.6"/><circle cx="1387.1" cy="955.9" r="3.6"/><circle cx="1395.8" cy="963.5" r="3.6"/><circle cx="1399.1" cy="966.7" r="3.6"/><circle cx="1379.6" cy="968.9" r="3.6"/><circle cx="1383.9" cy="973.2" r="3.6"/><circle cx="1388.2" cy="975.4" r="3.6"/><circle cx="1386.1" cy="981.9" r="3.6"/><circle cx="1390.4" cy="981.9" r="3.6"/><circle cx="1393.7" cy="981.9" r="3.6"/><circle cx="1411.0" cy="976.5" r="3.6"/><circle cx="1403.4" cy="983.0" r="3.6"/><circle cx="1394.7" cy="991.7" r="3.6"/><circle cx="1413.2" cy="989.5" r="3.6"/><circle cx="1417.5" cy="992.7" r="3.6"/><circle cx="1422.9" cy="997.1" r="3.6"/><circle cx="1429.4" cy="1006.8" r="3.6"/><circle cx="1387.1" cy="1000.3" r="3.6"/><circle cx="997.8" cy="901.7" r="3.6"/><circle cx="957.7" cy="919.0" r="3.6"/><circle cx="934.9" cy="936.4" r="3.6"/><circle cx="955.5" cy="932.0" r="3.6"/><circle cx="966.8" cy="929.9" r="3.6"/><circle cx="947.9" cy="940.7" r="3.6"/><circle cx="997.1" cy="929.2" r="3.6"/><circle cx="960.9" cy="951.5" r="3.6"/><circle cx="962.0" cy="958.1" r="3.6"/><circle cx="995.6" cy="952.6" r="3.6"/><circle cx="939.7" cy="948.3" r="3.6"/><circle cx="943.6" cy="963.5" r="3.6"/><circle cx="946.8" cy="970.0" r="3.6"/><circle cx="940.3" cy="971.1" r="3.6"/><circle cx="930.6" cy="962.4" r="3.6"/><circle cx="929.5" cy="992.7" r="3.6"/><circle cx="924.1" cy="998.2" r="3.6"/><circle cx="940.3" cy="1000.3" r="3.6"/><circle cx="864.8" cy="1029.4" r="3.6"/><circle cx="874.8" cy="1024.9" r="3.6"/><circle cx="901.5" cy="1001.1" r="3.6"/><circle cx="896.8" cy="989.5" r="3.6"/><circle cx="887.4" cy="1008.4" r="3.6"/><circle cx="888.2" cy="1015.4" r="3.6"/><circle cx="870.1" cy="1023.3" r="3.6"/><circle cx="862.2" cy="1029.8" r="3.6"/><circle cx="879.1" cy="1019.8" r="3.6"/><circle cx="896.9" cy="993.8" r="3.6"/><circle cx="905.4" cy="997.3" r="3.6"/><circle cx="902.8" cy="1003.9" r="3.6"/><circle cx="871.2" cy="1028.9" r="3.6"/><circle cx="905.2" cy="982.4" r="3.6"/><circle cx="869.3" cy="1031.2" r="3.6"/><circle cx="877.2" cy="1025.4" r="3.6"/><circle cx="872.2" cy="1028.4" r="3.6"/><circle cx="876.9" cy="1009.1" r="3.6"/><circle cx="939.9" cy="958.7" r="3.6"/><circle cx="947.3" cy="994.0" r="3.6"/><circle cx="895.2" cy="991.4" r="3.6"/><circle cx="878.2" cy="1020.9" r="3.6"/><circle cx="903.4" cy="999.6" r="3.6"/><circle cx="892.7" cy="994.3" r="3.6"/><circle cx="893.0" cy="1015.0" r="3.6"/><circle cx="868.5" cy="1034.0" r="3.6"/><circle cx="886.3" cy="1010.8" r="3.6"/><circle cx="901.5" cy="1007.5" r="3.6"/><circle cx="916.3" cy="1003.2" r="3.6"/><circle cx="895.2" cy="999.9" r="3.6"/><circle cx="915.8" cy="989.0" r="3.6"/><circle cx="914.0" cy="1000.6" r="3.6"/><circle cx="930.6" cy="990.3" r="3.6"/><circle cx="877.0" cy="1018.9" r="3.6"/><circle cx="891.9" cy="1000.9" r="3.6"/><circle cx="919.1" cy="980.5" r="3.6"/><circle cx="894.7" cy="989.8" r="3.6"/><circle cx="881.2" cy="1015.6" r="3.6"/><circle cx="930.2" cy="971.5" r="3.6"/><circle cx="863.9" cy="1031.1" r="3.6"/><circle cx="878.5" cy="1024.9" r="3.6"/><circle cx="925.0" cy="993.5" r="3.6"/><circle cx="916.5" cy="1004.6" r="3.6"/><circle cx="892.2" cy="1015.2" r="3.6"/><circle cx="891.8" cy="1000.5" r="3.6"/><circle cx="888.0" cy="1013.5" r="3.6"/><circle cx="886.9" cy="1021.3" r="3.6"/><circle cx="890.2" cy="999.2" r="3.6"/><circle cx="923.5" cy="947.3" r="3.6"/><circle cx="865.0" cy="1029.0" r="3.6"/><circle cx="883.5" cy="1031.7" r="3.6"/><circle cx="897.0" cy="1008.5" r="3.6"/><circle cx="901.1" cy="1013.2" r="3.6"/><circle cx="879.5" cy="1023.2" r="3.6"/><circle cx="870.5" cy="1023.2" r="3.6"/><circle cx="880.4" cy="1035.1" r="3.6"/><circle cx="883.8" cy="1010.0" r="3.6"/><circle cx="924.0" cy="961.2" r="3.6"/><circle cx="883.3" cy="1029.9" r="3.6"/><circle cx="915.9" cy="964.2" r="3.6"/><circle cx="947.0" cy="949.6" r="3.6"/><circle cx="910.7" cy="990.3" r="3.6"/><circle cx="915.5" cy="1002.2" r="3.6"/><circle cx="887.6" cy="1014.1" r="3.6"/><circle cx="871.6" cy="1022.8" r="3.6"/><circle cx="949.5" cy="943.9" r="3.6"/><circle cx="877.4" cy="1022.9" r="3.6"/><circle cx="948.2" cy="956.7" r="3.6"/><circle cx="871.1" cy="1019.4" r="3.6"/><circle cx="862.2" cy="1031.4" r="3.6"/><circle cx="892.1" cy="1011.5" r="3.6"/><circle cx="906.8" cy="982.4" r="3.6"/><circle cx="908.7" cy="1003.3" r="3.6"/><circle cx="875.9" cy="1023.0" r="3.6"/><circle cx="896.7" cy="986.6" r="3.6"/><circle cx="879.9" cy="1018.4" r="3.6"/><circle cx="872.5" cy="1019.2" r="3.6"/><circle cx="877.9" cy="1025.4" r="3.6"/><circle cx="877.1" cy="1032.3" r="3.6"/><circle cx="865.0" cy="1034.2" r="3.6"/><circle cx="896.4" cy="1009.0" r="3.6"/><circle cx="892.8" cy="994.4" r="3.6"/><circle cx="884.4" cy="1024.6" r="3.6"/><circle cx="869.0" cy="1034.9" r="3.6"/><circle cx="874.3" cy="1021.1" r="3.6"/><circle cx="894.4" cy="1020.5" r="3.6"/><circle cx="915.7" cy="1004.3" r="3.6"/><circle cx="880.8" cy="1019.4" r="3.6"/><circle cx="892.2" cy="1009.5" r="3.6"/><circle cx="879.4" cy="1017.8" r="3.6"/><circle cx="902.7" cy="1003.1" r="3.6"/><circle cx="870.1" cy="1033.9" r="3.6"/><circle cx="900.1" cy="1008.0" r="3.6"/><circle cx="887.6" cy="998.5" r="3.6"/><circle cx="863.5" cy="1031.4" r="3.6"/><circle cx="903.5" cy="1003.9" r="3.6"/><circle cx="882.2" cy="1029.6" r="3.6"/><circle cx="893.7" cy="998.5" r="3.6"/><circle cx="941.6" cy="971.9" r="3.6"/><circle cx="869.8" cy="1030.9" r="3.6"/><circle cx="879.7" cy="1023.1" r="3.6"/><circle cx="884.5" cy="1013.7" r="3.6"/><circle cx="866.4" cy="1034.5" r="3.6"/><circle cx="998.9" cy="978.1" r="3.6"/><circle cx="907.5" cy="1015.3" r="3.6"/><circle cx="872.5" cy="1028.6" r="3.6"/><circle cx="866.5" cy="1031.9" r="3.6"/><circle cx="923.7" cy="1001.0" r="3.6"/><circle cx="903.1" cy="1000.2" r="3.6"/><circle cx="867.6" cy="1035.2" r="3.6"/><circle cx="880.1" cy="1011.7" r="3.6"/><circle cx="937.4" cy="951.5" r="3.6"/><circle cx="909.1" cy="982.1" r="3.6"/><circle cx="879.3" cy="1023.5" r="3.6"/><circle cx="879.6" cy="1017.5" r="3.6"/><circle cx="888.0" cy="1004.8" r="3.6"/><circle cx="872.1" cy="1035.6" r="3.6"/><circle cx="871.8" cy="1023.1" r="3.6"/><circle cx="878.8" cy="1013.6" r="3.6"/><circle cx="914.5" cy="1007.9" r="3.6"/><circle cx="872.8" cy="1022.2" r="3.6"/><circle cx="894.3" cy="1003.0" r="3.6"/><circle cx="871.6" cy="1023.2" r="3.6"/><circle cx="907.4" cy="1000.7" r="3.6"/><circle cx="908.9" cy="981.0" r="3.6"/><circle cx="916.3" cy="984.5" r="3.6"/><circle cx="909.3" cy="987.6" r="3.6"/><circle cx="920.6" cy="980.6" r="3.6"/><circle cx="887.6" cy="1030.1" r="3.6"/><circle cx="899.1" cy="1012.5" r="3.6"/><circle cx="875.8" cy="1025.8" r="3.6"/><circle cx="899.4" cy="1018.3" r="3.6"/><circle cx="890.6" cy="1022.0" r="3.6"/><circle cx="924.8" cy="949.1" r="3.6"/><circle cx="916.4" cy="991.2" r="3.6"/><circle cx="932.3" cy="994.3" r="3.6"/><circle cx="876.5" cy="1022.2" r="3.6"/><circle cx="870.9" cy="1017.9" r="3.6"/><circle cx="878.1" cy="1025.0" r="3.6"/><circle cx="879.4" cy="1024.9" r="3.6"/><circle cx="878.9" cy="1025.3" r="3.6"/><circle cx="887.4" cy="1019.0" r="3.6"/><circle cx="873.8" cy="1022.6" r="3.6"/><circle cx="870.2" cy="1025.5" r="3.6"/><circle cx="905.7" cy="979.1" r="3.6"/><circle cx="910.3" cy="1013.9" r="3.6"/><circle cx="891.3" cy="997.0" r="3.6"/><circle cx="883.6" cy="1008.4" r="3.6"/><circle cx="879.2" cy="1013.0" r="3.6"/><circle cx="906.4" cy="1017.7" r="3.6"/><circle cx="898.6" cy="1009.2" r="3.6"/><circle cx="879.7" cy="1019.6" r="3.6"/><circle cx="875.7" cy="1022.7" r="3.6"/><circle cx="878.4" cy="1011.6" r="3.6"/><circle cx="892.4" cy="1009.5" r="3.6"/><circle cx="906.9" cy="987.3" r="3.6"/><circle cx="877.1" cy="1025.4" r="3.6"/><circle cx="888.8" cy="1002.7" r="3.6"/><circle cx="893.8" cy="997.2" r="3.6"/><circle cx="865.7" cy="1029.2" r="3.6"/><circle cx="902.8" cy="1009.8" r="3.6"/><circle cx="892.6" cy="1009.0" r="3.6"/><circle cx="946.2" cy="976.8" r="3.6"/><circle cx="884.9" cy="1004.4" r="3.6"/><circle cx="870.7" cy="1031.6" r="3.6"/><circle cx="862.6" cy="1028.5" r="3.6"/><circle cx="910.0" cy="969.8" r="3.6"/><circle cx="933.6" cy="940.1" r="3.6"/><circle cx="866.2" cy="1029.0" r="3.6"/><circle cx="901.4" cy="982.0" r="3.6"/><circle cx="885.0" cy="1009.7" r="3.6"/><circle cx="877.4" cy="1018.1" r="3.6"/><circle cx="880.0" cy="1018.1" r="3.6"/><circle cx="895.7" cy="1004.1" r="3.6"/><circle cx="874.5" cy="1018.9" r="3.6"/><circle cx="874.0" cy="1019.0" r="3.6"/><circle cx="869.5" cy="1032.5" r="3.6"/><circle cx="871.3" cy="1019.2" r="3.6"/><circle cx="884.7" cy="998.3" r="3.6"/><circle cx="914.6" cy="960.2" r="3.6"/><circle cx="884.2" cy="1027.8" r="3.6"/><circle cx="917.9" cy="1011.4" r="3.6"/><circle cx="871.0" cy="1033.9" r="3.6"/><circle cx="888.0" cy="1004.0" r="3.6"/><circle cx="899.2" cy="1010.8" r="3.6"/><circle cx="894.5" cy="1013.4" r="3.6"/><circle cx="900.9" cy="994.3" r="3.6"/><circle cx="886.6" cy="1004.8" r="3.6"/><circle cx="865.2" cy="1029.7" r="3.6"/><circle cx="876.4" cy="1023.6" r="3.6"/><circle cx="926.8" cy="966.4" r="3.6"/><circle cx="879.5" cy="1024.3" r="3.6"/><circle cx="871.1" cy="1020.3" r="3.6"/><circle cx="872.3" cy="1021.9" r="3.6"/><circle cx="892.8" cy="990.3" r="3.6"/><circle cx="880.7" cy="1021.8" r="3.6"/><circle cx="903.4" cy="997.6" r="3.6"/><circle cx="873.0" cy="1024.3" r="3.6"/><circle cx="882.0" cy="1035.8" r="3.6"/><circle cx="875.2" cy="1025.6" r="3.6"/><circle cx="866.4" cy="1035.1" r="3.6"/><circle cx="871.6" cy="1021.4" r="3.6"/><circle cx="865.8" cy="1034.9" r="3.6"/><circle cx="888.7" cy="1004.7" r="3.6"/><circle cx="885.8" cy="1013.5" r="3.6"/><circle cx="889.8" cy="1002.7" r="3.6"/><circle cx="881.3" cy="1011.8" r="3.6"/><circle cx="863.1" cy="1033.4" r="3.6"/><circle cx="877.8" cy="1030.3" r="3.6"/><circle cx="870.8" cy="1020.7" r="3.6"/><circle cx="870.3" cy="1028.1" r="3.6"/><circle cx="888.0" cy="1017.8" r="3.6"/><circle cx="946.3" cy="974.6" r="3.6"/><circle cx="887.6" cy="1024.1" r="3.6"/><circle cx="909.2" cy="978.8" r="3.6"/><circle cx="882.5" cy="1014.8" r="3.6"/><circle cx="883.5" cy="1011.9" r="3.6"/><circle cx="872.1" cy="1020.6" r="3.6"/><circle cx="905.2" cy="1020.2" r="3.6"/><circle cx="913.1" cy="1007.4" r="3.6"/><circle cx="880.3" cy="1024.9" r="3.6"/><circle cx="909.7" cy="978.7" r="3.6"/><circle cx="873.4" cy="1033.2" r="3.6"/><circle cx="887.5" cy="1009.0" r="3.6"/><circle cx="875.0" cy="1020.5" r="3.6"/><circle cx="917.0" cy="958.1" r="3.6"/><circle cx="867.5" cy="1028.1" r="3.6"/><circle cx="864.0" cy="1031.8" r="3.6"/><circle cx="880.3" cy="1018.9" r="3.6"/><circle cx="910.3" cy="1019.3" r="3.6"/><circle cx="899.1" cy="978.1" r="3.6"/><circle cx="894.5" cy="1023.5" r="3.6"/><circle cx="863.4" cy="1028.8" r="3.6"/><circle cx="874.6" cy="1024.5" r="3.6"/><circle cx="933.8" cy="981.7" r="3.6"/><circle cx="868.9" cy="1031.8" r="3.6"/><circle cx="937.1" cy="960.0" r="3.6"/><circle cx="915.2" cy="992.9" r="3.6"/><circle cx="891.8" cy="1023.1" r="3.6"/><circle cx="880.3" cy="1007.6" r="3.6"/><circle cx="881.2" cy="1011.0" r="3.6"/><circle cx="866.1" cy="1032.2" r="3.6"/><circle cx="875.4" cy="1022.1" r="3.6"/><circle cx="870.3" cy="1031.9" r="3.6"/><circle cx="885.1" cy="1012.2" r="3.6"/><circle cx="866.7" cy="1030.0" r="3.6"/><circle cx="902.4" cy="984.8" r="3.6"/><circle cx="903.8" cy="983.9" r="3.6"/><circle cx="894.4" cy="1007.2" r="3.6"/><circle cx="918.8" cy="997.8" r="3.6"/><circle cx="902.6" cy="1014.6" r="3.6"/><circle cx="943.6" cy="946.2" r="3.6"/><circle cx="961.3" cy="993.0" r="3.6"/><circle cx="902.8" cy="993.6" r="3.6"/><circle cx="873.0" cy="1024.6" r="3.6"/><circle cx="908.7" cy="983.0" r="3.6"/><circle cx="915.0" cy="999.5" r="3.6"/><circle cx="926.8" cy="992.8" r="3.6"/><circle cx="900.2" cy="989.5" r="3.6"/><circle cx="872.4" cy="1024.2" r="3.6"/><circle cx="870.8" cy="1022.2" r="3.6"/><circle cx="895.4" cy="998.2" r="3.6"/><circle cx="931.1" cy="967.8" r="3.6"/><circle cx="902.2" cy="992.8" r="3.6"/><circle cx="893.8" cy="1017.6" r="3.6"/><circle cx="882.3" cy="1015.4" r="3.6"/><circle cx="914.1" cy="998.2" r="3.6"/><circle cx="878.2" cy="1022.9" r="3.6"/><circle cx="879.3" cy="1008.2" r="3.6"/><circle cx="895.3" cy="999.5" r="3.6"/><circle cx="902.5" cy="980.1" r="3.6"/><circle cx="870.3" cy="1024.1" r="3.6"/><circle cx="922.0" cy="979.3" r="3.6"/><circle cx="870.0" cy="1031.6" r="3.6"/><circle cx="873.3" cy="1024.4" r="3.6"/><circle cx="888.9" cy="1018.9" r="3.6"/><circle cx="887.7" cy="1003.4" r="3.6"/><circle cx="893.5" cy="1019.7" r="3.6"/><circle cx="913.8" cy="993.0" r="3.6"/><circle cx="874.0" cy="1021.2" r="3.6"/><circle cx="900.8" cy="1002.1" r="3.6"/><circle cx="866.2" cy="1035.1" r="3.6"/><circle cx="880.1" cy="1033.5" r="3.6"/><circle cx="884.9" cy="1011.8" r="3.6"/><circle cx="905.4" cy="1001.4" r="3.6"/><circle cx="907.8" cy="982.9" r="3.6"/><circle cx="875.9" cy="1017.7" r="3.6"/><circle cx="900.3" cy="1003.6" r="3.6"/><circle cx="880.9" cy="1024.5" r="3.6"/><circle cx="885.7" cy="999.5" r="3.6"/><circle cx="895.8" cy="994.0" r="3.6"/><circle cx="879.3" cy="1012.4" r="3.6"/><circle cx="900.8" cy="1000.8" r="3.6"/><circle cx="900.8" cy="1012.7" r="3.6"/><circle cx="862.6" cy="1028.0" r="3.6"/><circle cx="873.9" cy="1025.3" r="3.6"/><circle cx="913.9" cy="981.5" r="3.6"/><circle cx="967.3" cy="987.1" r="3.6"/><circle cx="872.3" cy="1022.8" r="3.6"/><circle cx="877.0" cy="1024.9" r="3.6"/><circle cx="867.1" cy="1034.9" r="3.6"/><circle cx="873.6" cy="1024.4" r="3.6"/><circle cx="863.0" cy="1035.0" r="3.6"/><circle cx="889.8" cy="1018.2" r="3.6"/><circle cx="893.8" cy="995.0" r="3.6"/><circle cx="904.8" cy="1001.7" r="3.6"/><circle cx="869.6" cy="1017.6" r="3.6"/><circle cx="870.4" cy="1019.8" r="3.6"/><circle cx="877.7" cy="1023.1" r="3.6"/><circle cx="899.2" cy="1004.3" r="3.6"/><circle cx="870.5" cy="1032.0" r="3.6"/><circle cx="880.6" cy="1018.6" r="3.6"/><circle cx="886.7" cy="1011.5" r="3.6"/><circle cx="887.7" cy="1030.1" r="3.6"/><circle cx="932.3" cy="992.5" r="3.6"/><circle cx="864.9" cy="1028.1" r="3.6"/><circle cx="868.7" cy="1034.6" r="3.6"/><circle cx="889.9" cy="998.1" r="3.6"/><circle cx="937.3" cy="954.0" r="3.6"/><circle cx="916.7" cy="983.7" r="3.6"/><circle cx="906.7" cy="1005.4" r="3.6"/><circle cx="886.5" cy="1009.7" r="3.6"/><circle cx="877.8" cy="1007.9" r="3.6"/><circle cx="900.5" cy="1018.6" r="3.6"/><circle cx="927.8" cy="989.1" r="3.6"/><circle cx="867.4" cy="1029.7" r="3.6"/><circle cx="872.7" cy="1023.1" r="3.6"/><circle cx="909.3" cy="983.3" r="3.6"/><circle cx="880.5" cy="1021.2" r="3.6"/><circle cx="875.3" cy="1023.7" r="3.6"/><circle cx="912.9" cy="1007.2" r="3.6"/><circle cx="962.8" cy="960.1" r="3.6"/><circle cx="888.1" cy="1022.0" r="3.6"/><circle cx="891.8" cy="991.8" r="3.6"/><circle cx="885.5" cy="1013.4" r="3.6"/><circle cx="874.3" cy="1018.2" r="3.6"/><circle cx="878.8" cy="1020.0" r="3.6"/><circle cx="894.7" cy="1017.6" r="3.6"/><circle cx="897.0" cy="1031.4" r="3.6"/><circle cx="875.3" cy="1022.2" r="3.6"/><circle cx="877.8" cy="1013.7" r="3.6"/><circle cx="902.3" cy="990.9" r="3.6"/><circle cx="878.8" cy="1019.4" r="3.6"/><circle cx="870.3" cy="1033.9" r="3.6"/><circle cx="922.6" cy="952.3" r="3.6"/><circle cx="888.1" cy="1010.6" r="3.6"/><circle cx="872.4" cy="1021.1" r="3.6"/><circle cx="915.4" cy="994.4" r="3.6"/><circle cx="879.0" cy="1022.0" r="3.6"/><circle cx="896.1" cy="1033.9" r="3.6"/><circle cx="903.0" cy="981.2" r="3.6"/><circle cx="879.6" cy="1009.5" r="3.6"/><circle cx="932.3" cy="945.8" r="3.6"/><circle cx="883.9" cy="1012.9" r="3.6"/><circle cx="901.1" cy="1001.4" r="3.6"/><circle cx="873.4" cy="1031.5" r="3.6"/><circle cx="921.4" cy="954.1" r="3.6"/><circle cx="874.6" cy="1019.4" r="3.6"/><circle cx="938.5" cy="1003.4" r="3.6"/><circle cx="906.9" cy="1018.0" r="3.6"/><circle cx="933.7" cy="959.2" r="3.6"/><circle cx="905.5" cy="997.6" r="3.6"/><circle cx="876.9" cy="1022.7" r="3.6"/><circle cx="929.4" cy="982.0" r="3.6"/><circle cx="871.7" cy="1030.1" r="3.6"/><circle cx="876.9" cy="1015.6" r="3.6"/><circle cx="917.3" cy="994.9" r="3.6"/><circle cx="870.8" cy="1022.1" r="3.6"/><circle cx="890.6" cy="999.8" r="3.6"/><circle cx="917.2" cy="1009.2" r="3.6"/><circle cx="893.2" cy="1021.2" r="3.6"/><circle cx="882.6" cy="1011.7" r="3.6"/><circle cx="880.7" cy="1020.5" r="3.6"/><circle cx="924.2" cy="1000.9" r="3.6"/><circle cx="922.5" cy="977.9" r="3.6"/><circle cx="942.0" cy="949.8" r="3.6"/><circle cx="868.7" cy="1032.3" r="3.6"/><circle cx="866.0" cy="1030.9" r="3.6"/><circle cx="907.6" cy="980.7" r="3.6"/><circle cx="876.6" cy="1024.5" r="3.6"/><circle cx="864.9" cy="1031.1" r="3.6"/><circle cx="878.4" cy="1020.2" r="3.6"/><circle cx="865.7" cy="1035.8" r="3.6"/><circle cx="890.5" cy="1000.9" r="3.6"/><circle cx="871.6" cy="1035.4" r="3.6"/><circle cx="907.4" cy="1004.2" r="3.6"/><circle cx="872.4" cy="1025.0" r="3.6"/><circle cx="908.6" cy="1022.7" r="3.6"/><circle cx="884.7" cy="1029.0" r="3.6"/><circle cx="891.6" cy="1018.2" r="3.6"/><circle cx="884.2" cy="1008.8" r="3.6"/><circle cx="868.7" cy="1031.3" r="3.6"/><circle cx="900.4" cy="991.0" r="3.6"/><circle cx="873.9" cy="1019.3" r="3.6"/><circle cx="909.8" cy="1019.8" r="3.6"/><circle cx="905.6" cy="977.5" r="3.6"/><circle cx="874.5" cy="1023.7" r="3.6"/><circle cx="862.4" cy="1028.5" r="3.6"/><circle cx="876.0" cy="1021.1" r="3.6"/><circle cx="885.5" cy="1032.3" r="3.6"/><circle cx="879.5" cy="1018.7" r="3.6"/><circle cx="883.4" cy="1014.4" r="3.6"/><circle cx="879.3" cy="1020.6" r="3.6"/><circle cx="891.2" cy="1003.4" r="3.6"/><circle cx="863.7" cy="1032.1" r="3.6"/><circle cx="936.8" cy="982.7" r="3.6"/><circle cx="875.9" cy="1023.6" r="3.6"/><circle cx="870.9" cy="1021.5" r="3.6"/><circle cx="901.1" cy="992.2" r="3.6"/><circle cx="940.0" cy="969.5" r="3.6"/><circle cx="930.0" cy="979.5" r="3.6"/><circle cx="889.1" cy="1025.2" r="3.6"/><circle cx="892.8" cy="1011.6" r="3.6"/><circle cx="916.9" cy="991.6" r="3.6"/><circle cx="873.5" cy="1025.1" r="3.6"/><circle cx="926.1" cy="972.9" r="3.6"/><circle cx="865.0" cy="1031.5" r="3.6"/><circle cx="902.0" cy="980.9" r="3.6"/><circle cx="887.8" cy="1003.4" r="3.6"/><circle cx="965.9" cy="921.6" r="3.6"/><circle cx="881.7" cy="1028.8" r="3.6"/><circle cx="866.0" cy="1030.8" r="3.6"/><circle cx="896.2" cy="1012.8" r="3.6"/><circle cx="878.4" cy="1015.1" r="3.6"/><circle cx="870.6" cy="1035.3" r="3.6"/><circle cx="886.0" cy="1000.3" r="3.6"/><circle cx="899.7" cy="1003.0" r="3.6"/><circle cx="869.8" cy="1024.9" r="3.6"/><circle cx="916.3" cy="998.5" r="3.6"/><circle cx="922.3" cy="994.5" r="3.6"/><circle cx="928.9" cy="973.1" r="3.6"/><circle cx="909.4" cy="993.2" r="3.6"/><circle cx="862.3" cy="1028.2" r="3.6"/><circle cx="899.9" cy="1008.7" r="3.6"/><circle cx="923.9" cy="1000.6" r="3.6"/><circle cx="890.2" cy="1023.1" r="3.6"/><circle cx="904.7" cy="999.7" r="3.6"/><circle cx="879.1" cy="1008.8" r="3.6"/><circle cx="879.1" cy="1020.3" r="3.6"/><circle cx="909.3" cy="1004.0" r="3.6"/><circle cx="930.7" cy="979.7" r="3.6"/><circle cx="884.6" cy="1023.9" r="3.6"/><circle cx="898.6" cy="990.2" r="3.6"/><circle cx="910.3" cy="978.9" r="3.6"/><circle cx="875.9" cy="1023.6" r="3.6"/><circle cx="926.9" cy="974.1" r="3.6"/><circle cx="916.4" cy="969.4" r="3.6"/><circle cx="868.6" cy="1035.5" r="3.6"/><circle cx="907.7" cy="1019.3" r="3.6"/><circle cx="866.1" cy="1035.5" r="3.6"/><circle cx="922.0" cy="1005.3" r="3.6"/><circle cx="865.1" cy="1035.7" r="3.6"/><circle cx="900.6" cy="1000.5" r="3.6"/><circle cx="880.8" cy="1023.7" r="3.6"/><circle cx="871.3" cy="1021.3" r="3.6"/><circle cx="874.8" cy="1023.5" r="3.6"/><circle cx="867.1" cy="1035.3" r="3.6"/><circle cx="862.5" cy="1031.6" r="3.6"/><circle cx="905.8" cy="1003.4" r="3.6"/><circle cx="892.5" cy="1022.1" r="3.6"/><circle cx="910.2" cy="990.6" r="3.6"/><circle cx="879.1" cy="1017.8" r="3.6"/><circle cx="872.6" cy="1035.0" r="3.6"/><circle cx="890.5" cy="1022.1" r="3.6"/><circle cx="877.3" cy="1014.6" r="3.6"/><circle cx="902.3" cy="1021.9" r="3.6"/><circle cx="870.8" cy="1024.0" r="3.6"/><circle cx="938.5" cy="979.4" r="3.6"/><circle cx="896.6" cy="1011.7" r="3.6"/><circle cx="896.7" cy="990.9" r="3.6"/><circle cx="909.0" cy="997.3" r="3.6"/><circle cx="905.9" cy="1025.4" r="3.6"/><circle cx="902.2" cy="1012.3" r="3.6"/><circle cx="868.3" cy="1031.5" r="3.6"/><circle cx="877.8" cy="1011.0" r="3.6"/><circle cx="895.0" cy="998.3" r="3.6"/><circle cx="879.1" cy="1013.6" r="3.6"/><circle cx="884.6" cy="1014.2" r="3.6"/><circle cx="873.3" cy="1025.1" r="3.6"/><circle cx="902.3" cy="1001.5" r="3.6"/><circle cx="893.0" cy="1013.2" r="3.6"/><circle cx="906.7" cy="1015.6" r="3.6"/><circle cx="913.8" cy="962.9" r="3.6"/><circle cx="908.6" cy="974.3" r="3.6"/><circle cx="874.7" cy="1020.8" r="3.6"/><circle cx="935.5" cy="984.7" r="3.6"/><circle cx="884.7" cy="1014.3" r="3.6"/><circle cx="872.6" cy="1018.3" r="3.6"/><circle cx="946.8" cy="942.7" r="3.6"/><circle cx="892.8" cy="1013.9" r="3.6"/><circle cx="930.3" cy="950.8" r="3.6"/><circle cx="932.1" cy="970.8" r="3.6"/><circle cx="871.3" cy="1023.9" r="3.6"/><circle cx="864.1" cy="1035.4" r="3.6"/><circle cx="872.1" cy="1033.5" r="3.6"/><circle cx="887.3" cy="1017.6" r="3.6"/><circle cx="871.4" cy="1021.0" r="3.6"/><circle cx="863.9" cy="1035.4" r="3.6"/><circle cx="877.2" cy="1023.1" r="3.6"/><circle cx="895.4" cy="1001.2" r="3.6"/><circle cx="867.4" cy="1031.5" r="3.6"/><circle cx="867.2" cy="1031.5" r="3.6"/><circle cx="949.5" cy="977.7" r="3.6"/><circle cx="899.2" cy="1012.3" r="3.6"/><circle cx="868.3" cy="1030.7" r="3.6"/><circle cx="880.8" cy="1009.5" r="3.6"/><circle cx="930.1" cy="953.7" r="3.6"/><circle cx="872.7" cy="1021.2" r="3.6"/><circle cx="905.2" cy="998.8" r="3.6"/><circle cx="881.0" cy="1011.8" r="3.6"/><circle cx="950.8" cy="982.9" r="3.6"/><circle cx="874.6" cy="1022.3" r="3.6"/><circle cx="865.6" cy="1031.9" r="3.6"/><circle cx="870.5" cy="1022.1" r="3.6"/><circle cx="885.3" cy="1017.8" r="3.6"/><circle cx="886.7" cy="1025.0" r="3.6"/><circle cx="895.1" cy="1005.2" r="3.6"/><circle cx="863.6" cy="1034.2" r="3.6"/><circle cx="868.7" cy="1034.6" r="3.6"/><circle cx="872.8" cy="1018.5" r="3.6"/><circle cx="924.9" cy="962.7" r="3.6"/><circle cx="867.7" cy="1036.0" r="3.6"/><circle cx="869.4" cy="1028.5" r="3.6"/><circle cx="930.5" cy="990.8" r="3.6"/><circle cx="902.0" cy="986.9" r="3.6"/><circle cx="885.6" cy="996.8" r="3.6"/><circle cx="929.1" cy="948.9" r="3.6"/><circle cx="870.9" cy="1035.0" r="3.6"/><circle cx="887.2" cy="1012.6" r="3.6"/><circle cx="913.4" cy="992.3" r="3.6"/><circle cx="884.6" cy="999.0" r="3.6"/><circle cx="869.0" cy="1032.4" r="3.6"/><circle cx="868.4" cy="1032.0" r="3.6"/><circle cx="865.1" cy="1028.0" r="3.6"/><circle cx="906.9" cy="1025.2" r="3.6"/><circle cx="916.2" cy="989.7" r="3.6"/><circle cx="909.0" cy="1003.1" r="3.6"/><circle cx="907.5" cy="977.2" r="3.6"/><circle cx="960.6" cy="974.1" r="3.6"/><circle cx="879.1" cy="1032.8" r="3.6"/><circle cx="880.0" cy="1012.3" r="3.6"/><circle cx="943.6" cy="970.0" r="3.6"/><circle cx="966.1" cy="900.0" r="3.6"/><circle cx="898.0" cy="1012.9" r="3.6"/><circle cx="875.4" cy="1018.0" r="3.6"/><circle cx="874.8" cy="1021.7" r="3.6"/><circle cx="866.8" cy="1033.0" r="3.6"/><circle cx="945.3" cy="936.9" r="3.6"/><circle cx="862.6" cy="1027.9" r="3.6"/><circle cx="875.0" cy="1025.5" r="3.6"/><circle cx="877.2" cy="1011.3" r="3.6"/><circle cx="863.9" cy="1029.1" r="3.6"/><circle cx="955.3" cy="1013.7" r="3.6"/><circle cx="874.0" cy="1018.3" r="3.6"/><circle cx="863.5" cy="1029.5" r="3.6"/><circle cx="925.0" cy="981.5" r="3.6"/><circle cx="899.1" cy="993.4" r="3.6"/><circle cx="892.9" cy="1003.5" r="3.6"/><circle cx="908.7" cy="984.3" r="3.6"/><circle cx="863.6" cy="1029.2" r="3.6"/><circle cx="888.1" cy="1014.5" r="3.6"/><circle cx="863.5" cy="1034.2" r="3.6"/><circle cx="886.6" cy="1008.8" r="3.6"/><circle cx="932.4" cy="941.4" r="3.6"/><circle cx="867.7" cy="1028.1" r="3.6"/><circle cx="932.5" cy="968.5" r="3.6"/><circle cx="901.6" cy="978.8" r="3.6"/><circle cx="875.3" cy="1017.7" r="3.6"/><circle cx="872.0" cy="1021.1" r="3.6"/><circle cx="895.3" cy="997.5" r="3.6"/><circle cx="875.8" cy="1018.1" r="3.6"/><circle cx="901.5" cy="987.2" r="3.6"/><circle cx="910.5" cy="987.3" r="3.6"/><circle cx="864.3" cy="1034.4" r="3.6"/><circle cx="884.7" cy="1012.4" r="3.6"/><circle cx="873.1" cy="1027.6" r="3.6"/><circle cx="872.3" cy="1021.4" r="3.6"/><circle cx="908.3" cy="991.5" r="3.6"/><circle cx="887.6" cy="1009.8" r="3.6"/><circle cx="872.0" cy="1019.7" r="3.6"/><circle cx="879.3" cy="1018.4" r="3.6"/><circle cx="902.6" cy="997.9" r="3.6"/><circle cx="893.1" cy="1011.5" r="3.6"/><circle cx="876.4" cy="1021.5" r="3.6"/><circle cx="916.2" cy="990.7" r="3.6"/><circle cx="887.9" cy="1002.8" r="3.6"/><circle cx="922.4" cy="956.6" r="3.6"/><circle cx="916.3" cy="979.1" r="3.6"/><circle cx="893.0" cy="999.0" r="3.6"/><circle cx="867.8" cy="1032.2" r="3.6"/><circle cx="886.1" cy="1033.6" r="3.6"/><circle cx="902.4" cy="981.0" r="3.6"/><circle cx="954.1" cy="939.0" r="3.6"/><circle cx="910.2" cy="994.5" r="3.6"/><circle cx="872.9" cy="1030.1" r="3.6"/><circle cx="878.8" cy="1025.1" r="3.6"/><circle cx="871.4" cy="1033.6" r="3.6"/><circle cx="899.7" cy="979.1" r="3.6"/><circle cx="909.0" cy="993.8" r="3.6"/><circle cx="880.8" cy="1020.3" r="3.6"/><circle cx="908.2" cy="998.1" r="3.6"/><circle cx="898.5" cy="989.8" r="3.6"/><circle cx="887.3" cy="1003.2" r="3.6"/><circle cx="865.0" cy="1034.1" r="3.6"/><circle cx="888.1" cy="999.7" r="3.6"/><circle cx="871.4" cy="1033.3" r="3.6"/><circle cx="907.5" cy="968.1" r="3.6"/><circle cx="897.3" cy="992.4" r="3.6"/><circle cx="879.2" cy="1027.8" r="3.6"/><circle cx="891.8" cy="1036.1" r="3.6"/><circle cx="872.0" cy="1031.2" r="3.6"/><circle cx="875.3" cy="1024.5" r="3.6"/><circle cx="874.1" cy="1024.7" r="3.6"/><circle cx="887.8" cy="1029.5" r="3.6"/><circle cx="915.3" cy="968.8" r="3.6"/><circle cx="931.0" cy="994.4" r="3.6"/><circle cx="865.5" cy="1030.6" r="3.6"/><circle cx="895.8" cy="1009.1" r="3.6"/><circle cx="887.2" cy="1013.6" r="3.6"/><circle cx="888.3" cy="1033.4" r="3.6"/><circle cx="863.8" cy="1032.9" r="3.6"/><circle cx="864.8" cy="1030.8" r="3.6"/><circle cx="916.1" cy="970.0" r="3.6"/><circle cx="898.7" cy="990.3" r="3.6"/><circle cx="877.8" cy="1019.2" r="3.6"/><circle cx="870.2" cy="1029.6" r="3.6"/><circle cx="866.5" cy="1035.2" r="3.6"/><circle cx="876.1" cy="1022.5" r="3.6"/><circle cx="863.2" cy="1031.1" r="3.6"/><circle cx="873.0" cy="1031.0" r="3.6"/><circle cx="870.6" cy="1030.6" r="3.6"/><circle cx="880.3" cy="1007.8" r="3.6"/><circle cx="909.1" cy="968.7" r="3.6"/><circle cx="893.8" cy="987.4" r="3.6"/><circle cx="883.2" cy="1013.8" r="3.6"/><circle cx="895.6" cy="1030.5" r="3.6"/><circle cx="907.7" cy="1001.2" r="3.6"/><circle cx="910.7" cy="990.8" r="3.6"/><circle cx="908.0" cy="983.6" r="3.6"/><circle cx="878.9" cy="1022.9" r="3.6"/><circle cx="894.0" cy="1025.6" r="3.6"/><circle cx="891.8" cy="1022.0" r="3.6"/><circle cx="914.2" cy="997.1" r="3.6"/><circle cx="881.4" cy="1015.4" r="3.6"/><circle cx="925.5" cy="972.4" r="3.6"/><circle cx="906.7" cy="984.8" r="3.6"/><circle cx="873.0" cy="1032.1" r="3.6"/><circle cx="888.4" cy="1001.2" r="3.6"/><circle cx="888.3" cy="1014.4" r="3.6"/><circle cx="893.4" cy="994.6" r="3.6"/></g>
<g fill="#03028A" fill-opacity="0.11" stroke="#03028A" stroke-opacity="0.11" stroke-width="1"><circle cx="1299.3" cy="979.7" r="3.6"/><circle cx="1304.8" cy="979.7" r="3.6"/><circle cx="1382.8" cy="991.7" r="3.6"/><circle cx="1341.6" cy="1004.7" r="3.6"/><circle cx="1354.6" cy="1010.1" r="3.6"/><circle cx="1352.5" cy="1013.3" r="3.6"/><circle cx="1356.8" cy="1018.8" r="3.6"/><circle cx="1337.3" cy="1019.8" r="3.6"/><circle cx="1351.4" cy="1023.1" r="3.6"/><circle cx="1365.5" cy="1020.9" r="3.6"/><circle cx="1392.6" cy="1007.9" r="3.6"/><circle cx="1386.1" cy="1018.8" r="3.6"/><circle cx="1387.1" cy="1022.0" r="3.6"/><circle cx="1389.3" cy="1024.2" r="3.6"/><circle cx="1386.1" cy="1026.3" r="3.6"/><circle cx="1391.5" cy="1023.1" r="3.6"/><circle cx="1395.8" cy="1019.8" r="3.6"/><circle cx="1401.2" cy="1020.9" r="3.6"/><circle cx="1388.2" cy="1031.8" r="3.6"/><circle cx="1390.4" cy="1035.0" r="3.6"/><circle cx="1398.0" cy="1030.7" r="3.6"/><circle cx="1403.4" cy="1031.8" r="3.6"/><circle cx="1406.7" cy="1033.9" r="3.6"/><circle cx="1408.8" cy="1028.5" r="3.6"/><circle cx="1413.2" cy="1030.7" r="3.6"/><circle cx="1416.4" cy="1030.7" r="3.6"/><circle cx="1404.5" cy="1035.0" r="3.6"/><circle cx="1427.3" cy="1035.0" r="3.6"/><circle cx="1381.7" cy="1020.9" r="3.6"/><circle cx="933.8" cy="692.5" r="3.6"/><circle cx="931.6" cy="701.1" r="3.6"/><circle cx="933.8" cy="707.6" r="3.6"/><circle cx="929.5" cy="715.2" r="3.6"/><circle cx="937.1" cy="716.3" r="3.6"/><circle cx="942.5" cy="712.0" r="3.6"/><circle cx="944.7" cy="718.5" r="3.6"/><circle cx="953.3" cy="725.0" r="3.6"/><circle cx="951.2" cy="732.6" r="3.6"/><circle cx="932.7" cy="728.2" r="3.6"/><circle cx="940.3" cy="726.1" r="3.6"/><circle cx="963.1" cy="734.3" r="3.6"/><circle cx="951.8" cy="747.3" r="3.6"/><circle cx="970.7" cy="753.8" r="3.6"/><circle cx="967.4" cy="759.7" r="3.6"/><circle cx="997.8" cy="764.7" r="3.6"/><circle cx="996.7" cy="775.9" r="3.6"/><circle cx="998.9" cy="789.4" r="3.6"/><circle cx="916.5" cy="671.9" r="3.6"/><circle cx="908.9" cy="663.2" r="3.6"/><circle cx="869.8" cy="632.6" r="3.6"/><circle cx="873.1" cy="640.6" r="3.6"/><circle cx="910.4" cy="671.4" r="3.6"/><circle cx="897.1" cy="676.0" r="3.6"/><circle cx="888.3" cy="653.0" r="3.6"/><circle cx="887.5" cy="653.4" r="3.6"/><circle cx="875.1" cy="643.1" r="3.6"/><circle cx="868.9" cy="629.5" r="3.6"/><circle cx="869.7" cy="646.8" r="3.6"/><circle cx="892.4" cy="674.6" r="3.6"/><circle cx="904.5" cy="674.4" r="3.6"/><circle cx="910.1" cy="672.0" r="3.6"/><circle cx="873.6" cy="631.5" r="3.6"/><circle cx="905.9" cy="681.0" r="3.6"/><circle cx="867.6" cy="636.7" r="3.6"/><circle cx="877.9" cy="645.1" r="3.6"/><circle cx="866.9" cy="628.8" r="3.6"/><circle cx="880.9" cy="652.3" r="3.6"/><circle cx="936.1" cy="713.6" r="3.6"/><circle cx="941.7" cy="700.2" r="3.6"/><circle cx="896.3" cy="675.7" r="3.6"/><circle cx="871.3" cy="640.0" r="3.6"/><circle cx="901.1" cy="674.4" r="3.6"/><circle cx="893.1" cy="675.4" r="3.6"/><circle cx="891.6" cy="663.4" r="3.6"/><circle cx="867.5" cy="633.9" r="3.6"/><circle cx="881.9" cy="651.9" r="3.6"/><circle cx="902.0" cy="661.9" r="3.6"/><circle cx="915.5" cy="680.5" r="3.6"/><circle cx="891.0" cy="665.6" r="3.6"/><circle cx="917.6" cy="686.8" r="3.6"/><circle cx="920.9" cy="680.2" r="3.6"/><circle cx="924.4" cy="695.1" r="3.6"/><circle cx="870.4" cy="642.3" r="3.6"/><circle cx="884.6" cy="667.6" r="3.6"/><circle cx="914.4" cy="696.8" r="3.6"/><circle cx="901.3" cy="677.2" r="3.6"/><circle cx="877.5" cy="654.9" r="3.6"/><circle cx="921.7" cy="708.6" r="3.6"/><circle cx="870.8" cy="635.3" r="3.6"/><circle cx="869.6" cy="642.8" r="3.6"/><circle cx="929.3" cy="690.1" r="3.6"/><circle cx="919.5" cy="685.5" r="3.6"/><circle cx="892.6" cy="661.4" r="3.6"/><circle cx="893.4" cy="667.8" r="3.6"/><circle cx="886.6" cy="651.1" r="3.6"/><circle cx="891.1" cy="657.1" r="3.6"/><circle cx="887.7" cy="659.9" r="3.6"/><circle cx="929.8" cy="715.5" r="3.6"/><circle cx="862.1" cy="635.6" r="3.6"/><circle cx="885.5" cy="645.0" r="3.6"/><circle cx="892.1" cy="661.7" r="3.6"/><circle cx="894.4" cy="666.4" r="3.6"/><circle cx="875.4" cy="639.7" r="3.6"/><circle cx="879.6" cy="643.6" r="3.6"/><circle cx="887.3" cy="646.0" r="3.6"/><circle cx="886.8" cy="657.5" r="3.6"/><circle cx="914.3" cy="706.4" r="3.6"/><circle cx="884.4" cy="644.8" r="3.6"/><circle cx="923.2" cy="707.2" r="3.6"/><circle cx="937.7" cy="721.8" r="3.6"/><circle cx="915.2" cy="685.0" r="3.6"/><circle cx="916.5" cy="683.7" r="3.6"/><circle cx="887.7" cy="651.9" r="3.6"/><circle cx="873.4" cy="641.2" r="3.6"/><circle cx="952.8" cy="733.3" r="3.6"/><circle cx="869.6" cy="639.3" r="3.6"/><circle cx="953.5" cy="722.5" r="3.6"/><circle cx="876.8" cy="642.1" r="3.6"/><circle cx="862.9" cy="636.9" r="3.6"/><circle cx="892.2" cy="665.1" r="3.6"/><circle cx="903.0" cy="681.1" r="3.6"/><circle cx="903.6" cy="671.1" r="3.6"/><circle cx="871.0" cy="641.3" r="3.6"/><circle cx="898.2" cy="676.0" r="3.6"/><circle cx="874.3" cy="645.3" r="3.6"/><circle cx="879.2" cy="639.4" r="3.6"/><circle cx="874.8" cy="645.5" r="3.6"/><circle cx="883.3" cy="641.1" r="3.6"/><circle cx="867.2" cy="630.1" r="3.6"/><circle cx="893.5" cy="660.7" r="3.6"/><circle cx="902.7" cy="671.7" r="3.6"/><circle cx="893.5" cy="649.7" r="3.6"/><circle cx="868.5" cy="636.7" r="3.6"/><circle cx="874.0" cy="640.2" r="3.6"/><circle cx="886.8" cy="653.4" r="3.6"/><circle cx="918.6" cy="681.7" r="3.6"/><circle cx="879.7" cy="639.0" r="3.6"/><circle cx="893.3" cy="662.2" r="3.6"/><circle cx="878.4" cy="643.6" r="3.6"/><circle cx="909.4" cy="672.8" r="3.6"/><circle cx="864.0" cy="635.9" r="3.6"/><circle cx="891.7" cy="665.1" r="3.6"/><circle cx="894.5" cy="667.5" r="3.6"/><circle cx="862.6" cy="634.7" r="3.6"/><circle cx="899.8" cy="675.0" r="3.6"/><circle cx="877.5" cy="643.1" r="3.6"/><circle cx="890.6" cy="661.1" r="3.6"/><circle cx="940.1" cy="711.0" r="3.6"/><circle cx="867.5" cy="635.8" r="3.6"/><circle cx="870.4" cy="642.5" r="3.6"/><circle cx="887.4" cy="651.4" r="3.6"/><circle cx="872.0" cy="633.5" r="3.6"/><circle cx="998.8" cy="742.4" r="3.6"/><circle cx="909.1" cy="669.7" r="3.6"/><circle cx="871.2" cy="635.1" r="3.6"/><circle cx="863.5" cy="633.1" r="3.6"/><circle cx="921.9" cy="683.9" r="3.6"/><circle cx="901.6" cy="673.2" r="3.6"/><circle cx="864.1" cy="629.0" r="3.6"/><circle cx="883.4" cy="657.0" r="3.6"/><circle cx="938.6" cy="722.4" r="3.6"/><circle cx="907.5" cy="684.1" r="3.6"/><circle cx="871.9" cy="641.1" r="3.6"/><circle cx="875.5" cy="644.2" r="3.6"/><circle cx="891.7" cy="666.2" r="3.6"/><circle cx="863.6" cy="636.6" r="3.6"/><circle cx="870.9" cy="641.9" r="3.6"/><circle cx="887.5" cy="655.2" r="3.6"/><circle cx="906.4" cy="671.3" r="3.6"/><circle cx="877.2" cy="646.8" r="3.6"/><circle cx="893.2" cy="666.6" r="3.6"/><circle cx="875.1" cy="645.3" r="3.6"/><circle cx="909.9" cy="677.0" r="3.6"/><circle cx="901.4" cy="685.4" r="3.6"/><circle cx="917.2" cy="693.1" r="3.6"/><circle cx="909.5" cy="687.4" r="3.6"/><circle cx="918.1" cy="693.3" r="3.6"/><circle cx="886.0" cy="645.6" r="3.6"/><circle cx="895.5" cy="660.9" r="3.6"/><circle cx="874.3" cy="641.8" r="3.6"/><circle cx="902.8" cy="663.3" r="3.6"/><circle cx="887.4" cy="651.5" r="3.6"/><circle cx="928.4" cy="711.5" r="3.6"/><circle cx="917.3" cy="682.9" r="3.6"/><circle cx="926.0" cy="693.7" r="3.6"/><circle cx="880.8" cy="647.1" r="3.6"/><circle cx="875.0" cy="641.0" r="3.6"/><circle cx="874.3" cy="645.2" r="3.6"/><circle cx="877.4" cy="644.2" r="3.6"/><circle cx="872.8" cy="642.7" r="3.6"/><circle cx="891.7" cy="652.2" r="3.6"/><circle cx="876.2" cy="642.2" r="3.6"/><circle cx="872.4" cy="642.7" r="3.6"/><circle cx="907.4" cy="687.0" r="3.6"/><circle cx="915.6" cy="671.9" r="3.6"/><circle cx="890.6" cy="667.8" r="3.6"/><circle cx="887.2" cy="657.3" r="3.6"/><circle cx="882.2" cy="655.8" r="3.6"/><circle cx="904.1" cy="662.8" r="3.6"/><circle cx="897.5" cy="667.7" r="3.6"/><circle cx="878.9" cy="646.9" r="3.6"/><circle cx="870.7" cy="644.4" r="3.6"/><circle cx="887.3" cy="652.4" r="3.6"/><circle cx="895.2" cy="663.9" r="3.6"/><circle cx="914.8" cy="683.3" r="3.6"/><circle cx="880.4" cy="641.2" r="3.6"/><circle cx="887.2" cy="659.7" r="3.6"/><circle cx="895.4" cy="660.6" r="3.6"/><circle cx="864.5" cy="631.4" r="3.6"/><circle cx="898.3" cy="662.8" r="3.6"/><circle cx="897.9" cy="666.5" r="3.6"/><circle cx="954.0" cy="715.4" r="3.6"/><circle cx="888.4" cy="666.1" r="3.6"/><circle cx="864.0" cy="631.7" r="3.6"/><circle cx="863.6" cy="633.7" r="3.6"/><circle cx="909.4" cy="693.4" r="3.6"/><circle cx="929.3" cy="722.4" r="3.6"/><circle cx="870.4" cy="634.6" r="3.6"/><circle cx="900.3" cy="685.8" r="3.6"/><circle cx="885.1" cy="649.9" r="3.6"/><circle cx="870.9" cy="639.9" r="3.6"/><circle cx="880.3" cy="644.4" r="3.6"/><circle cx="893.3" cy="662.5" r="3.6"/><circle cx="869.8" cy="646.4" r="3.6"/><circle cx="880.5" cy="643.4" r="3.6"/><circle cx="869.0" cy="629.1" r="3.6"/><circle cx="871.0" cy="644.2" r="3.6"/><circle cx="887.7" cy="666.1" r="3.6"/><circle cx="914.0" cy="706.3" r="3.6"/><circle cx="886.5" cy="646.7" r="3.6"/><circle cx="913.9" cy="672.9" r="3.6"/><circle cx="864.8" cy="631.3" r="3.6"/><circle cx="892.5" cy="662.3" r="3.6"/><circle cx="895.0" cy="662.7" r="3.6"/><circle cx="898.8" cy="665.1" r="3.6"/><circle cx="895.3" cy="674.7" r="3.6"/><circle cx="889.7" cy="666.7" r="3.6"/><circle cx="864.7" cy="629.8" r="3.6"/><circle cx="877.9" cy="639.1" r="3.6"/><circle cx="925.7" cy="708.5" r="3.6"/><circle cx="874.5" cy="645.0" r="3.6"/><circle cx="870.9" cy="639.2" r="3.6"/><circle cx="875.6" cy="641.0" r="3.6"/><circle cx="900.1" cy="673.5" r="3.6"/><circle cx="874.0" cy="639.3" r="3.6"/><circle cx="899.5" cy="673.3" r="3.6"/><circle cx="871.7" cy="644.6" r="3.6"/><circle cx="878.1" cy="644.6" r="3.6"/><circle cx="880.5" cy="641.0" r="3.6"/><circle cx="862.9" cy="632.6" r="3.6"/><circle cx="879.5" cy="642.4" r="3.6"/><circle cx="862.2" cy="636.4" r="3.6"/><circle cx="892.6" cy="661.8" r="3.6"/><circle cx="885.7" cy="650.8" r="3.6"/><circle cx="889.3" cy="665.7" r="3.6"/><circle cx="885.3" cy="649.1" r="3.6"/><circle cx="873.0" cy="634.4" r="3.6"/><circle cx="880.4" cy="644.5" r="3.6"/><circle cx="874.0" cy="640.1" r="3.6"/><circle cx="863.3" cy="634.1" r="3.6"/><circle cx="887.9" cy="650.1" r="3.6"/><circle cx="944.4" cy="713.8" r="3.6"/><circle cx="889.3" cy="654.3" r="3.6"/><circle cx="899.4" cy="686.5" r="3.6"/><circle cx="884.3" cy="654.9" r="3.6"/><circle cx="883.4" cy="657.3" r="3.6"/><circle cx="877.9" cy="645.3" r="3.6"/><circle cx="904.7" cy="666.3" r="3.6"/><circle cx="913.0" cy="671.9" r="3.6"/><circle cx="880.9" cy="639.4" r="3.6"/><circle cx="901.3" cy="682.2" r="3.6"/><circle cx="871.3" cy="633.2" r="3.6"/><circle cx="883.7" cy="654.0" r="3.6"/><circle cx="877.8" cy="642.2" r="3.6"/><circle cx="922.2" cy="701.1" r="3.6"/><circle cx="873.1" cy="630.7" r="3.6"/><circle cx="864.1" cy="632.5" r="3.6"/><circle cx="875.6" cy="641.9" r="3.6"/><circle cx="908.0" cy="662.4" r="3.6"/><circle cx="904.6" cy="680.4" r="3.6"/><circle cx="895.6" cy="654.3" r="3.6"/><circle cx="866.1" cy="631.4" r="3.6"/><circle cx="881.1" cy="640.6" r="3.6"/><circle cx="933.6" cy="708.3" r="3.6"/><circle cx="865.8" cy="635.8" r="3.6"/><circle cx="929.3" cy="713.3" r="3.6"/><circle cx="911.6" cy="682.6" r="3.6"/><circle cx="885.2" cy="655.3" r="3.6"/><circle cx="886.5" cy="649.7" r="3.6"/><circle cx="881.0" cy="655.6" r="3.6"/><circle cx="869.0" cy="636.6" r="3.6"/><circle cx="874.8" cy="643.1" r="3.6"/><circle cx="867.0" cy="630.0" r="3.6"/><circle cx="878.7" cy="655.0" r="3.6"/><circle cx="870.3" cy="634.5" r="3.6"/><circle cx="904.1" cy="687.1" r="3.6"/><circle cx="907.8" cy="679.8" r="3.6"/><circle cx="892.5" cy="663.2" r="3.6"/><circle cx="918.1" cy="682.0" r="3.6"/><circle cx="899.3" cy="666.8" r="3.6"/><circle cx="940.4" cy="724.1" r="3.6"/><circle cx="957.1" cy="715.5" r="3.6"/><circle cx="894.4" cy="678.0" r="3.6"/><circle cx="878.4" cy="640.0" r="3.6"/><circle cx="908.9" cy="682.2" r="3.6"/><circle cx="919.6" cy="680.4" r="3.6"/><circle cx="927.4" cy="696.3" r="3.6"/><circle cx="900.9" cy="673.7" r="3.6"/><circle cx="876.9" cy="640.0" r="3.6"/><circle cx="879.3" cy="647.0" r="3.6"/><circle cx="894.6" cy="665.2" r="3.6"/><circle cx="921.9" cy="708.1" r="3.6"/><circle cx="894.8" cy="674.7" r="3.6"/><circle cx="892.7" cy="657.3" r="3.6"/><circle cx="878.9" cy="650.2" r="3.6"/><circle cx="918.0" cy="684.4" r="3.6"/><circle cx="872.4" cy="641.4" r="3.6"/><circle cx="887.1" cy="656.5" r="3.6"/><circle cx="886.5" cy="667.6" r="3.6"/><circle cx="908.7" cy="688.1" r="3.6"/><circle cx="876.9" cy="647.3" r="3.6"/><circle cx="921.2" cy="693.1" r="3.6"/><circle cx="870.7" cy="631.4" r="3.6"/><circle cx="875.1" cy="640.2" r="3.6"/><circle cx="892.2" cy="652.9" r="3.6"/><circle cx="888.6" cy="659.8" r="3.6"/><circle cx="895.5" cy="650.2" r="3.6"/><circle cx="914.1" cy="680.9" r="3.6"/><circle cx="870.4" cy="646.9" r="3.6"/><circle cx="907.3" cy="674.9" r="3.6"/><circle cx="871.4" cy="635.6" r="3.6"/><circle cx="886.3" cy="641.8" r="3.6"/><circle cx="882.7" cy="655.7" r="3.6"/><circle cx="909.4" cy="675.0" r="3.6"/><circle cx="899.5" cy="684.6" r="3.6"/><circle cx="876.7" cy="641.8" r="3.6"/><circle cx="907.7" cy="675.7" r="3.6"/><circle cx="880.6" cy="642.9" r="3.6"/><circle cx="891.7" cy="659.6" r="3.6"/><circle cx="897.8" cy="673.6" r="3.6"/><circle cx="878.6" cy="653.8" r="3.6"/><circle cx="901.6" cy="674.5" r="3.6"/><circle cx="903.1" cy="660.2" r="3.6"/><circle cx="871.2" cy="630.2" r="3.6"/><circle cx="879.3" cy="640.4" r="3.6"/><circle cx="924.5" cy="692.8" r="3.6"/><circle cx="975.8" cy="727.0" r="3.6"/><circle cx="874.7" cy="645.3" r="3.6"/><circle cx="874.1" cy="640.8" r="3.6"/><circle cx="872.8" cy="629.2" r="3.6"/><circle cx="878.6" cy="640.6" r="3.6"/><circle cx="863.1" cy="630.3" r="3.6"/><circle cx="885.8" cy="650.1" r="3.6"/><circle cx="893.6" cy="673.9" r="3.6"/><circle cx="907.9" cy="676.7" r="3.6"/><circle cx="875.5" cy="641.5" r="3.6"/><circle cx="878.2" cy="646.5" r="3.6"/><circle cx="874.6" cy="646.8" r="3.6"/><circle cx="900.3" cy="674.2" r="3.6"/><circle cx="865.9" cy="632.2" r="3.6"/><circle cx="879.7" cy="641.7" r="3.6"/><circle cx="884.6" cy="649.2" r="3.6"/><circle cx="887.1" cy="644.7" r="3.6"/><circle cx="932.0" cy="694.7" r="3.6"/><circle cx="864.8" cy="631.4" r="3.6"/><circle cx="862.8" cy="633.5" r="3.6"/><circle cx="890.6" cy="665.8" r="3.6"/><circle cx="943.7" cy="723.7" r="3.6"/><circle cx="915.4" cy="691.1" r="3.6"/><circle cx="902.3" cy="676.9" r="3.6"/><circle cx="881.1" cy="655.1" r="3.6"/><circle cx="877.7" cy="652.4" r="3.6"/><circle cx="902.4" cy="665.0" r="3.6"/><circle cx="924.0" cy="697.2" r="3.6"/><circle cx="873.5" cy="628.9" r="3.6"/><circle cx="870.1" cy="646.8" r="3.6"/><circle cx="901.0" cy="683.3" r="3.6"/><circle cx="875.1" cy="643.4" r="3.6"/><circle cx="872.4" cy="639.0" r="3.6"/><circle cx="908.2" cy="677.6" r="3.6"/><circle cx="958.1" cy="738.6" r="3.6"/><circle cx="893.4" cy="650.5" r="3.6"/><circle cx="902.9" cy="670.8" r="3.6"/><circle cx="877.9" cy="652.7" r="3.6"/><circle cx="871.1" cy="639.9" r="3.6"/><circle cx="874.9" cy="640.3" r="3.6"/><circle cx="889.0" cy="649.5" r="3.6"/><circle cx="897.0" cy="657.5" r="3.6"/><circle cx="878.6" cy="642.3" r="3.6"/><circle cx="877.4" cy="653.5" r="3.6"/><circle cx="893.6" cy="673.5" r="3.6"/><circle cx="869.6" cy="642.2" r="3.6"/><circle cx="862.4" cy="633.1" r="3.6"/><circle cx="924.9" cy="711.7" r="3.6"/><circle cx="885.2" cy="651.2" r="3.6"/><circle cx="872.7" cy="639.8" r="3.6"/><circle cx="906.4" cy="682.0" r="3.6"/><circle cx="872.5" cy="644.5" r="3.6"/><circle cx="902.2" cy="653.0" r="3.6"/><circle cx="909.7" cy="687.4" r="3.6"/><circle cx="881.6" cy="650.7" r="3.6"/><circle cx="924.6" cy="711.0" r="3.6"/><circle cx="884.9" cy="653.1" r="3.6"/><circle cx="899.7" cy="675.6" r="3.6"/><circle cx="868.3" cy="635.0" r="3.6"/><circle cx="929.4" cy="715.7" r="3.6"/><circle cx="870.3" cy="645.2" r="3.6"/><circle cx="938.4" cy="696.6" r="3.6"/><circle cx="908.6" cy="666.5" r="3.6"/><circle cx="932.8" cy="710.6" r="3.6"/><circle cx="906.1" cy="669.7" r="3.6"/><circle cx="874.3" cy="647.3" r="3.6"/><circle cx="929.4" cy="706.2" r="3.6"/><circle cx="868.6" cy="634.9" r="3.6"/><circle cx="878.9" cy="651.7" r="3.6"/><circle cx="916.3" cy="681.8" r="3.6"/><circle cx="873.2" cy="642.7" r="3.6"/><circle cx="892.8" cy="663.0" r="3.6"/><circle cx="907.2" cy="676.4" r="3.6"/><circle cx="891.1" cy="654.0" r="3.6"/><circle cx="887.7" cy="651.8" r="3.6"/><circle cx="874.1" cy="639.7" r="3.6"/><circle cx="921.7" cy="681.7" r="3.6"/><circle cx="917.4" cy="697.6" r="3.6"/><circle cx="939.3" cy="725.6" r="3.6"/><circle cx="868.3" cy="637.1" r="3.6"/><circle cx="867.1" cy="631.2" r="3.6"/><circle cx="899.2" cy="682.8" r="3.6"/><circle cx="877.3" cy="643.6" r="3.6"/><circle cx="868.2" cy="629.6" r="3.6"/><circle cx="880.0" cy="645.4" r="3.6"/><circle cx="868.0" cy="633.1" r="3.6"/><circle cx="885.4" cy="660.3" r="3.6"/><circle cx="864.0" cy="636.2" r="3.6"/><circle cx="906.1" cy="672.2" r="3.6"/><circle cx="872.4" cy="643.9" r="3.6"/><circle cx="902.3" cy="660.7" r="3.6"/><circle cx="887.9" cy="644.1" r="3.6"/><circle cx="887.5" cy="651.9" r="3.6"/><circle cx="885.7" cy="650.6" r="3.6"/><circle cx="864.3" cy="636.6" r="3.6"/><circle cx="898.8" cy="673.7" r="3.6"/><circle cx="877.9" cy="641.2" r="3.6"/><circle cx="899.5" cy="661.8" r="3.6"/><circle cx="905.2" cy="688.3" r="3.6"/><circle cx="879.6" cy="645.9" r="3.6"/><circle cx="867.6" cy="632.1" r="3.6"/><circle cx="871.7" cy="642.1" r="3.6"/><circle cx="887.9" cy="647.0" r="3.6"/><circle cx="878.8" cy="645.4" r="3.6"/><circle cx="880.1" cy="656.0" r="3.6"/><circle cx="870.8" cy="641.4" r="3.6"/><circle cx="889.9" cy="666.9" r="3.6"/><circle cx="866.1" cy="636.0" r="3.6"/><circle cx="935.5" cy="703.2" r="3.6"/><circle cx="879.3" cy="643.7" r="3.6"/><circle cx="870.3" cy="641.0" r="3.6"/><circle cx="900.5" cy="674.2" r="3.6"/><circle cx="945.7" cy="718.8" r="3.6"/><circle cx="935.8" cy="701.2" r="3.6"/><circle cx="895.1" cy="654.0" r="3.6"/><circle cx="893.5" cy="665.3" r="3.6"/><circle cx="906.7" cy="687.9" r="3.6"/><circle cx="874.0" cy="641.0" r="3.6"/><circle cx="924.8" cy="705.9" r="3.6"/><circle cx="870.0" cy="631.1" r="3.6"/><circle cx="903.7" cy="685.3" r="3.6"/><circle cx="885.7" cy="661.0" r="3.6"/><circle cx="962.3" cy="753.0" r="3.6"/><circle cx="878.9" cy="646.0" r="3.6"/><circle cx="864.9" cy="633.5" r="3.6"/><circle cx="897.5" cy="661.5" r="3.6"/><circle cx="882.4" cy="654.3" r="3.6"/><circle cx="871.2" cy="631.2" r="3.6"/><circle cx="886.3" cy="665.4" r="3.6"/><circle cx="902.4" cy="676.4" r="3.6"/><circle cx="880.5" cy="640.2" r="3.6"/><circle cx="924.5" cy="684.3" r="3.6"/><circle cx="930.0" cy="698.5" r="3.6"/><circle cx="929.7" cy="701.4" r="3.6"/><circle cx="909.4" cy="680.1" r="3.6"/><circle cx="865.3" cy="636.8" r="3.6"/><circle cx="900.2" cy="661.5" r="3.6"/><circle cx="917.9" cy="681.0" r="3.6"/><circle cx="889.4" cy="657.4" r="3.6"/><circle cx="902.1" cy="674.0" r="3.6"/><circle cx="884.2" cy="653.2" r="3.6"/><circle cx="874.6" cy="646.6" r="3.6"/><circle cx="900.0" cy="674.3" r="3.6"/><circle cx="930.9" cy="702.0" r="3.6"/><circle cx="887.1" cy="655.9" r="3.6"/><circle cx="900.8" cy="677.9" r="3.6"/><circle cx="903.5" cy="679.9" r="3.6"/><circle cx="872.1" cy="644.0" r="3.6"/><circle cx="932.4" cy="708.0" r="3.6"/><circle cx="911.8" cy="690.9" r="3.6"/><circle cx="871.6" cy="629.8" r="3.6"/><circle cx="907.7" cy="660.0" r="3.6"/><circle cx="863.3" cy="630.0" r="3.6"/><circle cx="920.6" cy="682.1" r="3.6"/><circle cx="868.7" cy="632.2" r="3.6"/><circle cx="899.9" cy="677.4" r="3.6"/><circle cx="872.1" cy="646.3" r="3.6"/><circle cx="878.2" cy="645.4" r="3.6"/><circle cx="870.7" cy="643.4" r="3.6"/><circle cx="867.2" cy="628.7" r="3.6"/><circle cx="863.8" cy="632.1" r="3.6"/><circle cx="901.8" cy="675.2" r="3.6"/><circle cx="892.9" cy="655.2" r="3.6"/><circle cx="909.5" cy="687.8" r="3.6"/><circle cx="877.7" cy="647.0" r="3.6"/><circle cx="863.0" cy="630.6" r="3.6"/><circle cx="891.6" cy="652.8" r="3.6"/><circle cx="879.8" cy="656.2" r="3.6"/><circle cx="907.0" cy="660.2" r="3.6"/><circle cx="871.7" cy="643.7" r="3.6"/><circle cx="933.4" cy="703.8" r="3.6"/><circle cx="895.4" cy="664.0" r="3.6"/><circle cx="894.2" cy="674.3" r="3.6"/><circle cx="909.3" cy="675.2" r="3.6"/><circle cx="901.3" cy="661.7" r="3.6"/><circle cx="896.7" cy="665.2" r="3.6"/><circle cx="869.6" cy="630.4" r="3.6"/><circle cx="886.9" cy="649.9" r="3.6"/><circle cx="891.6" cy="660.6" r="3.6"/><circle cx="883.0" cy="656.0" r="3.6"/><circle cx="878.5" cy="654.1" r="3.6"/><circle cx="869.9" cy="645.3" r="3.6"/><circle cx="903.4" cy="674.3" r="3.6"/><circle cx="891.9" cy="666.3" r="3.6"/><circle cx="916.7" cy="674.4" r="3.6"/><circle cx="922.5" cy="708.4" r="3.6"/><circle cx="909.3" cy="698.5" r="3.6"/><circle cx="878.6" cy="644.0" r="3.6"/><circle cx="937.6" cy="702.5" r="3.6"/><circle cx="880.5" cy="649.6" r="3.6"/><circle cx="873.7" cy="642.7" r="3.6"/><circle cx="951.0" cy="732.6" r="3.6"/><circle cx="900.0" cy="665.0" r="3.6"/><circle cx="922.8" cy="717.6" r="3.6"/><circle cx="923.7" cy="708.2" r="3.6"/><circle cx="875.4" cy="644.0" r="3.6"/><circle cx="869.0" cy="630.1" r="3.6"/><circle cx="870.9" cy="631.3" r="3.6"/><circle cx="887.5" cy="649.5" r="3.6"/><circle cx="873.5" cy="644.8" r="3.6"/><circle cx="869.7" cy="635.0" r="3.6"/><circle cx="878.1" cy="643.7" r="3.6"/><circle cx="893.4" cy="667.4" r="3.6"/><circle cx="873.3" cy="634.5" r="3.6"/><circle cx="869.9" cy="629.5" r="3.6"/><circle cx="947.6" cy="716.2" r="3.6"/><circle cx="895.1" cy="664.2" r="3.6"/><circle cx="867.4" cy="628.9" r="3.6"/><circle cx="878.9" cy="655.3" r="3.6"/><circle cx="923.4" cy="717.4" r="3.6"/><circle cx="873.8" cy="641.3" r="3.6"/><circle cx="907.8" cy="677.6" r="3.6"/><circle cx="881.1" cy="653.4" r="3.6"/><circle cx="947.9" cy="715.9" r="3.6"/><circle cx="877.0" cy="644.5" r="3.6"/><circle cx="863.3" cy="630.1" r="3.6"/><circle cx="878.0" cy="645.8" r="3.6"/><circle cx="888.8" cy="652.7" r="3.6"/><circle cx="887.5" cy="652.9" r="3.6"/><circle cx="890.8" cy="661.3" r="3.6"/><circle cx="868.7" cy="629.2" r="3.6"/><circle cx="871.0" cy="636.3" r="3.6"/><circle cx="871.5" cy="641.2" r="3.6"/><circle cx="921.0" cy="705.5" r="3.6"/><circle cx="867.5" cy="637.0" r="3.6"/><circle cx="865.1" cy="629.3" r="3.6"/><circle cx="931.5" cy="696.3" r="3.6"/><circle cx="902.0" cy="677.9" r="3.6"/><circle cx="894.5" cy="667.1" r="3.6"/><circle cx="928.8" cy="712.1" r="3.6"/><circle cx="862.7" cy="636.6" r="3.6"/><circle cx="879.8" cy="654.2" r="3.6"/><circle cx="916.9" cy="683.3" r="3.6"/><circle cx="886.0" cy="664.5" r="3.6"/><circle cx="871.7" cy="633.0" r="3.6"/><circle cx="865.4" cy="632.4" r="3.6"/><circle cx="870.3" cy="632.7" r="3.6"/><circle cx="904.9" cy="662.1" r="3.6"/><circle cx="908.5" cy="681.0" r="3.6"/><circle cx="906.7" cy="673.8" r="3.6"/><circle cx="901.5" cy="681.3" r="3.6"/><circle cx="961.6" cy="725.5" r="3.6"/><circle cx="878.2" cy="639.6" r="3.6"/><circle cx="881.5" cy="654.9" r="3.6"/><circle cx="946.4" cy="712.8" r="3.6"/><circle cx="967.1" cy="762.9" r="3.6"/><circle cx="902.5" cy="665.4" r="3.6"/><circle cx="880.7" cy="641.1" r="3.6"/><circle cx="877.3" cy="639.3" r="3.6"/><circle cx="864.3" cy="630.9" r="3.6"/><circle cx="950.7" cy="736.9" r="3.6"/><circle cx="865.4" cy="636.2" r="3.6"/><circle cx="877.1" cy="639.8" r="3.6"/><circle cx="881.4" cy="650.3" r="3.6"/><circle cx="865.2" cy="634.7" r="3.6"/><circle cx="957.7" cy="706.2" r="3.6"/><circle cx="870.7" cy="645.1" r="3.6"/><circle cx="868.7" cy="633.3" r="3.6"/><circle cx="924.3" cy="691.7" r="3.6"/><circle cx="901.3" cy="672.6" r="3.6"/><circle cx="895.6" cy="661.7" r="3.6"/><circle cx="902.2" cy="686.9" r="3.6"/><circle cx="869.2" cy="630.5" r="3.6"/><circle cx="885.2" cy="652.5" r="3.6"/><circle cx="865.4" cy="629.4" r="3.6"/><circle cx="877.2" cy="656.1" r="3.6"/><circle cx="938.4" cy="721.7" r="3.6"/><circle cx="862.9" cy="631.7" r="3.6"/><circle cx="928.4" cy="701.1" r="3.6"/><circle cx="902.0" cy="685.5" r="3.6"/><circle cx="873.5" cy="644.8" r="3.6"/><circle cx="869.9" cy="639.5" r="3.6"/><circle cx="889.6" cy="662.5" r="3.6"/><circle cx="874.4" cy="640.0" r="3.6"/><circle cx="891.9" cy="675.1" r="3.6"/><circle cx="911.2" cy="680.1" r="3.6"/><circle cx="866.5" cy="634.8" r="3.6"/><circle cx="888.4" cy="654.3" r="3.6"/><circle cx="867.3" cy="634.4" r="3.6"/><circle cx="875.9" cy="642.4" r="3.6"/><circle cx="913.8" cy="681.8" r="3.6"/><circle cx="886.2" cy="655.7" r="3.6"/><circle cx="877.2" cy="640.8" r="3.6"/><circle cx="879.8" cy="647.1" r="3.6"/><circle cx="908.8" cy="669.7" r="3.6"/><circle cx="899.1" cy="661.0" r="3.6"/><circle cx="871.3" cy="644.8" r="3.6"/><circle cx="914.6" cy="683.3" r="3.6"/><circle cx="889.7" cy="661.6" r="3.6"/><circle cx="921.0" cy="708.6" r="3.6"/><circle cx="915.6" cy="691.2" r="3.6"/><circle cx="885.4" cy="661.3" r="3.6"/><circle cx="863.6" cy="629.4" r="3.6"/><circle cx="880.2" cy="643.5" r="3.6"/><circle cx="906.7" cy="682.3" r="3.6"/><circle cx="948.7" cy="735.7" r="3.6"/><circle cx="916.8" cy="680.5" r="3.6"/><circle cx="866.4" cy="637.1" r="3.6"/><circle cx="870.8" cy="640.4" r="3.6"/><circle cx="868.1" cy="636.2" r="3.6"/><circle cx="904.7" cy="681.7" r="3.6"/><circle cx="916.8" cy="687.6" r="3.6"/><circle cx="880.8" cy="640.8" r="3.6"/><circle cx="907.3" cy="669.7" r="3.6"/><circle cx="894.8" cy="676.9" r="3.6"/><circle cx="886.3" cy="663.6" r="3.6"/><circle cx="873.2" cy="628.7" r="3.6"/><circle cx="887.2" cy="661.7" r="3.6"/><circle cx="863.6" cy="631.0" r="3.6"/><circle cx="915.4" cy="690.6" r="3.6"/><circle cx="902.8" cy="672.1" r="3.6"/><circle cx="884.6" cy="641.6" r="3.6"/><circle cx="899.6" cy="651.7" r="3.6"/><circle cx="871.5" cy="633.6" r="3.6"/><circle cx="880.9" cy="640.5" r="3.6"/><circle cx="874.3" cy="646.8" r="3.6"/><circle cx="888.2" cy="642.4" r="3.6"/><circle cx="909.8" cy="695.7" r="3.6"/><circle cx="922.2" cy="692.7" r="3.6"/><circle cx="872.4" cy="631.8" r="3.6"/><circle cx="900.2" cy="661.2" r="3.6"/><circle cx="885.4" cy="655.8" r="3.6"/><circle cx="880.5" cy="639.1" r="3.6"/><circle cx="865.1" cy="633.1" r="3.6"/><circle cx="865.7" cy="637.0" r="3.6"/><circle cx="917.4" cy="691.0" r="3.6"/><circle cx="901.3" cy="673.4" r="3.6"/><circle cx="880.1" cy="643.7" r="3.6"/><circle cx="863.6" cy="631.5" r="3.6"/><circle cx="863.2" cy="636.6" r="3.6"/><circle cx="879.0" cy="641.7" r="3.6"/><circle cx="864.7" cy="635.2" r="3.6"/><circle cx="872.1" cy="634.5" r="3.6"/><circle cx="863.4" cy="632.7" r="3.6"/><circle cx="881.8" cy="649.4" r="3.6"/><circle cx="908.4" cy="690.9" r="3.6"/><circle cx="900.8" cy="678.0" r="3.6"/><circle cx="880.2" cy="650.0" r="3.6"/><circle cx="893.7" cy="649.4" r="3.6"/><circle cx="899.2" cy="673.6" r="3.6"/><circle cx="912.5" cy="682.9" r="3.6"/><circle cx="899.8" cy="684.9" r="3.6"/><circle cx="877.1" cy="644.4" r="3.6"/><circle cx="890.5" cy="654.2" r="3.6"/><circle cx="895.4" cy="654.8" r="3.6"/><circle cx="920.4" cy="687.3" r="3.6"/><circle cx="877.5" cy="651.6" r="3.6"/><circle cx="926.2" cy="706.0" r="3.6"/><circle cx="905.8" cy="684.0" r="3.6"/><circle cx="865.4" cy="636.3" r="3.6"/><circle cx="892.7" cy="666.4" r="3.6"/><circle cx="878.4" cy="651.0" r="3.6"/><circle cx="891.8" cy="672.9" r="3.6"/></g>
<g fill="#FC0000" fill-opacity="0.11" stroke="#FC0000" stroke-opacity="0.11" stroke-width="1"><circle cx="1428.8" cy="654.5" r="3.6"/><circle cx="1417.1" cy="659.9" r="3.6"/><circle cx="1416.4" cy="670.8" r="3.6"/><circle cx="1409.9" cy="677.3" r="3.6"/><circle cx="1411.0" cy="680.5" r="3.6"/><circle cx="1401.2" cy="681.6" r="3.6"/><circle cx="1372.0" cy="682.7" r="3.6"/><circle cx="1394.7" cy="686.0" r="3.6"/><circle cx="1390.4" cy="690.3" r="3.6"/><circle cx="1392.6" cy="692.5" r="3.6"/><circle cx="1386.1" cy="693.6" r="3.6"/><circle cx="1388.2" cy="696.8" r="3.6"/><circle cx="1395.8" cy="696.8" r="3.6"/><circle cx="1387.1" cy="697.9" r="3.6"/><circle cx="1390.4" cy="702.2" r="3.6"/><circle cx="1381.7" cy="700.1" r="3.6"/><circle cx="1382.8" cy="705.5" r="3.6"/><circle cx="1379.6" cy="707.6" r="3.6"/><circle cx="1387.1" cy="716.3" r="3.6"/><circle cx="1374.1" cy="726.1" r="3.6"/><circle cx="1347.0" cy="732.6" r="3.6"/><circle cx="1359.0" cy="730.8" r="3.6"/><circle cx="1364.4" cy="738.0" r="3.6"/><circle cx="1359.0" cy="739.1" r="3.6"/><circle cx="1356.8" cy="747.8" r="3.6"/><circle cx="1360.0" cy="748.8" r="3.6"/><circle cx="1338.4" cy="766.2" r="3.6"/><circle cx="1299.3" cy="773.8" r="3.6"/><circle cx="1305.8" cy="773.1" r="3.6"/><circle cx="999.9" cy="977.6" r="3.6"/><circle cx="1003.2" cy="988.4" r="3.6"/><circle cx="967.4" cy="1004.7" r="3.6"/><circle cx="975.0" cy="1010.1" r="3.6"/><circle cx="997.8" cy="1009.0" r="3.6"/><circle cx="933.8" cy="1001.4" r="3.6"/><circle cx="950.1" cy="1012.3" r="3.6"/><circle cx="940.3" cy="1011.2" r="3.6"/><circle cx="932.7" cy="1019.8" r="3.6"/><circle cx="950.1" cy="1020.9" r="3.6"/><circle cx="953.3" cy="1023.1" r="3.6"/><circle cx="969.6" cy="1020.9" r="3.6"/><circle cx="929.5" cy="1031.8" r="3.6"/><circle cx="939.2" cy="1015.5" r="3.6"/><circle cx="869.3" cy="1031.1" r="3.6"/><circle cx="876.6" cy="1035.3" r="3.6"/><circle cx="902.3" cy="1025.7" r="3.6"/><circle cx="899.2" cy="1029.8" r="3.6"/><circle cx="881.0" cy="1030.6" r="3.6"/><circle cx="886.2" cy="1030.6" r="3.6"/><circle cx="871.2" cy="1030.5" r="3.6"/><circle cx="865.0" cy="1034.8" r="3.6"/><circle cx="875.5" cy="1031.6" r="3.6"/><circle cx="900.3" cy="1030.9" r="3.6"/><circle cx="900.7" cy="1019.1" r="3.6"/><circle cx="900.8" cy="1019.2" r="3.6"/><circle cx="873.2" cy="1029.5" r="3.6"/><circle cx="902.1" cy="1033.6" r="3.6"/><circle cx="870.2" cy="1027.9" r="3.6"/><circle cx="879.3" cy="1036.0" r="3.6"/><circle cx="872.7" cy="1034.8" r="3.6"/><circle cx="882.0" cy="1031.9" r="3.6"/><circle cx="937.2" cy="1023.3" r="3.6"/><circle cx="946.0" cy="998.1" r="3.6"/><circle cx="899.5" cy="1029.5" r="3.6"/><circle cx="874.9" cy="1030.6" r="3.6"/><circle cx="909.1" cy="1018.7" r="3.6"/><circle cx="894.6" cy="1032.2" r="3.6"/><circle cx="899.4" cy="1023.9" r="3.6"/><circle cx="868.4" cy="1034.1" r="3.6"/><circle cx="885.5" cy="1029.1" r="3.6"/><circle cx="892.3" cy="1024.5" r="3.6"/><circle cx="920.7" cy="1012.8" r="3.6"/><circle cx="890.8" cy="1029.6" r="3.6"/><circle cx="909.5" cy="1018.6" r="3.6"/><circle cx="920.0" cy="1009.9" r="3.6"/><circle cx="924.1" cy="1012.4" r="3.6"/><circle cx="879.6" cy="1028.9" r="3.6"/><circle cx="892.3" cy="1029.6" r="3.6"/><circle cx="922.7" cy="1019.3" r="3.6"/><circle cx="902.0" cy="1028.0" r="3.6"/><circle cx="881.6" cy="1034.9" r="3.6"/><circle cx="926.6" cy="1020.3" r="3.6"/><circle cx="864.5" cy="1031.2" r="3.6"/><circle cx="873.9" cy="1033.3" r="3.6"/><circle cx="921.7" cy="1007.5" r="3.6"/><circle cx="915.2" cy="1007.3" r="3.6"/><circle cx="896.7" cy="1021.1" r="3.6"/><circle cx="886.9" cy="1034.9" r="3.6"/><circle cx="878.1" cy="1033.9" r="3.6"/><circle cx="886.0" cy="1019.0" r="3.6"/><circle cx="889.5" cy="1033.7" r="3.6"/><circle cx="931.5" cy="1029.0" r="3.6"/><circle cx="870.1" cy="1029.7" r="3.6"/><circle cx="885.1" cy="1024.8" r="3.6"/><circle cx="902.2" cy="1020.3" r="3.6"/><circle cx="898.7" cy="1022.2" r="3.6"/><circle cx="876.7" cy="1033.5" r="3.6"/><circle cx="877.2" cy="1032.7" r="3.6"/><circle cx="882.1" cy="1024.1" r="3.6"/><circle cx="882.1" cy="1036.0" r="3.6"/><circle cx="923.9" cy="1031.6" r="3.6"/><circle cx="880.5" cy="1018.4" r="3.6"/><circle cx="917.8" cy="1036.1" r="3.6"/><circle cx="936.1" cy="1023.6" r="3.6"/><circle cx="913.8" cy="1022.2" r="3.6"/><circle cx="915.4" cy="1010.5" r="3.6"/><circle cx="886.5" cy="1029.5" r="3.6"/><circle cx="877.8" cy="1032.9" r="3.6"/><circle cx="954.1" cy="1022.4" r="3.6"/><circle cx="869.9" cy="1028.1" r="3.6"/><circle cx="951.4" cy="1011.5" r="3.6"/><circle cx="870.3" cy="1029.6" r="3.6"/><circle cx="863.6" cy="1031.5" r="3.6"/><circle cx="902.6" cy="1021.0" r="3.6"/><circle cx="907.8" cy="1029.9" r="3.6"/><circle cx="903.4" cy="1019.0" r="3.6"/><circle cx="876.9" cy="1028.7" r="3.6"/><circle cx="893.8" cy="1027.8" r="3.6"/><circle cx="871.5" cy="1028.6" r="3.6"/><circle cx="879.5" cy="1032.6" r="3.6"/><circle cx="875.8" cy="1029.3" r="3.6"/><circle cx="884.5" cy="1022.7" r="3.6"/><circle cx="866.3" cy="1035.1" r="3.6"/><circle cx="903.1" cy="1025.7" r="3.6"/><circle cx="892.2" cy="1034.7" r="3.6"/><circle cx="884.4" cy="1019.4" r="3.6"/><circle cx="864.6" cy="1028.6" r="3.6"/><circle cx="873.0" cy="1030.3" r="3.6"/><circle cx="894.2" cy="1024.4" r="3.6"/><circle cx="915.7" cy="1010.2" r="3.6"/><circle cx="877.7" cy="1033.5" r="3.6"/><circle cx="902.5" cy="1023.2" r="3.6"/><circle cx="879.5" cy="1031.7" r="3.6"/><circle cx="904.5" cy="1022.9" r="3.6"/><circle cx="866.8" cy="1031.2" r="3.6"/><circle cx="900.9" cy="1017.5" r="3.6"/><circle cx="884.6" cy="1031.1" r="3.6"/><circle cx="865.5" cy="1035.5" r="3.6"/><circle cx="900.4" cy="1024.7" r="3.6"/><circle cx="885.6" cy="1020.5" r="3.6"/><circle cx="892.2" cy="1029.1" r="3.6"/><circle cx="944.7" cy="1013.2" r="3.6"/><circle cx="864.3" cy="1030.2" r="3.6"/><circle cx="873.3" cy="1027.6" r="3.6"/><circle cx="880.3" cy="1028.0" r="3.6"/><circle cx="866.0" cy="1033.3" r="3.6"/><circle cx="990.1" cy="967.5" r="3.6"/><circle cx="907.0" cy="1011.3" r="3.6"/><circle cx="862.4" cy="1028.7" r="3.6"/><circle cx="866.0" cy="1032.8" r="3.6"/><circle cx="919.3" cy="1009.7" r="3.6"/><circle cx="906.0" cy="1021.4" r="3.6"/><circle cx="872.9" cy="1032.3" r="3.6"/><circle cx="883.7" cy="1034.8" r="3.6"/><circle cx="942.4" cy="1023.8" r="3.6"/><circle cx="908.6" cy="1034.0" r="3.6"/><circle cx="875.7" cy="1029.2" r="3.6"/><circle cx="876.2" cy="1029.3" r="3.6"/><circle cx="886.1" cy="1032.5" r="3.6"/><circle cx="864.2" cy="1033.3" r="3.6"/><circle cx="876.1" cy="1031.7" r="3.6"/><circle cx="877.9" cy="1033.0" r="3.6"/><circle cx="912.2" cy="1007.1" r="3.6"/><circle cx="876.8" cy="1033.5" r="3.6"/><circle cx="894.3" cy="1032.8" r="3.6"/><circle cx="879.3" cy="1034.0" r="3.6"/><circle cx="908.9" cy="1019.4" r="3.6"/><circle cx="909.6" cy="1034.8" r="3.6"/><circle cx="919.3" cy="1019.4" r="3.6"/><circle cx="907.6" cy="1018.3" r="3.6"/><circle cx="921.2" cy="1023.6" r="3.6"/><circle cx="881.0" cy="1022.0" r="3.6"/><circle cx="894.7" cy="1018.9" r="3.6"/><circle cx="879.9" cy="1030.7" r="3.6"/><circle cx="906.4" cy="1010.4" r="3.6"/><circle cx="888.5" cy="1023.6" r="3.6"/><circle cx="926.5" cy="1032.0" r="3.6"/><circle cx="917.0" cy="1024.8" r="3.6"/><circle cx="928.9" cy="1008.7" r="3.6"/><circle cx="873.9" cy="1033.1" r="3.6"/><circle cx="875.9" cy="1032.5" r="3.6"/><circle cx="871.6" cy="1029.3" r="3.6"/><circle cx="873.9" cy="1031.1" r="3.6"/><circle cx="880.3" cy="1033.3" r="3.6"/><circle cx="888.1" cy="1023.9" r="3.6"/><circle cx="871.7" cy="1030.9" r="3.6"/><circle cx="876.3" cy="1030.9" r="3.6"/><circle cx="910.0" cy="1034.2" r="3.6"/><circle cx="907.0" cy="1015.3" r="3.6"/><circle cx="884.3" cy="1034.2" r="3.6"/><circle cx="878.3" cy="1030.3" r="3.6"/><circle cx="884.6" cy="1029.4" r="3.6"/><circle cx="904.3" cy="1012.7" r="3.6"/><circle cx="895.2" cy="1020.4" r="3.6"/><circle cx="871.8" cy="1036.1" r="3.6"/><circle cx="879.7" cy="1027.8" r="3.6"/><circle cx="887.3" cy="1035.1" r="3.6"/><circle cx="891.8" cy="1022.1" r="3.6"/><circle cx="908.7" cy="1017.7" r="3.6"/><circle cx="872.1" cy="1031.8" r="3.6"/><circle cx="891.9" cy="1030.0" r="3.6"/><circle cx="887.8" cy="1030.2" r="3.6"/><circle cx="872.8" cy="1027.7" r="3.6"/><circle cx="896.9" cy="1023.5" r="3.6"/><circle cx="901.0" cy="1018.3" r="3.6"/><circle cx="954.1" cy="997.2" r="3.6"/><circle cx="894.9" cy="1028.3" r="3.6"/><circle cx="871.3" cy="1030.7" r="3.6"/><circle cx="871.8" cy="1030.0" r="3.6"/><circle cx="917.0" cy="1029.4" r="3.6"/><circle cx="937.2" cy="1032.6" r="3.6"/><circle cx="871.2" cy="1029.6" r="3.6"/><circle cx="907.9" cy="1029.6" r="3.6"/><circle cx="886.5" cy="1035.2" r="3.6"/><circle cx="880.4" cy="1031.7" r="3.6"/><circle cx="876.8" cy="1032.8" r="3.6"/><circle cx="887.9" cy="1033.7" r="3.6"/><circle cx="875.1" cy="1032.6" r="3.6"/><circle cx="878.9" cy="1034.4" r="3.6"/><circle cx="865.9" cy="1032.8" r="3.6"/><circle cx="876.0" cy="1032.7" r="3.6"/><circle cx="888.6" cy="1035.5" r="3.6"/><circle cx="916.1" cy="1034.7" r="3.6"/><circle cx="888.3" cy="1018.3" r="3.6"/><circle cx="909.3" cy="1015.5" r="3.6"/><circle cx="871.4" cy="1033.3" r="3.6"/><circle cx="888.7" cy="1035.0" r="3.6"/><circle cx="894.8" cy="1019.7" r="3.6"/><circle cx="892.6" cy="1018.6" r="3.6"/><circle cx="901.0" cy="1034.7" r="3.6"/><circle cx="890.4" cy="1032.5" r="3.6"/><circle cx="864.6" cy="1031.1" r="3.6"/><circle cx="871.8" cy="1033.8" r="3.6"/><circle cx="927.2" cy="1022.6" r="3.6"/><circle cx="880.8" cy="1034.8" r="3.6"/><circle cx="873.7" cy="1031.2" r="3.6"/><circle cx="880.2" cy="1028.7" r="3.6"/><circle cx="900.8" cy="1027.8" r="3.6"/><circle cx="877.1" cy="1032.2" r="3.6"/><circle cx="910.3" cy="1021.7" r="3.6"/><circle cx="879.9" cy="1030.6" r="3.6"/><circle cx="884.4" cy="1022.6" r="3.6"/><circle cx="875.2" cy="1029.5" r="3.6"/><circle cx="866.9" cy="1032.1" r="3.6"/><circle cx="876.6" cy="1028.5" r="3.6"/><circle cx="863.3" cy="1033.4" r="3.6"/><circle cx="890.3" cy="1029.7" r="3.6"/><circle cx="882.3" cy="1029.9" r="3.6"/><circle cx="895.0" cy="1028.6" r="3.6"/><circle cx="879.6" cy="1030.1" r="3.6"/><circle cx="864.1" cy="1031.6" r="3.6"/><circle cx="885.6" cy="1018.3" r="3.6"/><circle cx="870.4" cy="1034.6" r="3.6"/><circle cx="867.2" cy="1033.3" r="3.6"/><circle cx="889.8" cy="1023.2" r="3.6"/><circle cx="938.1" cy="1011.5" r="3.6"/><circle cx="885.8" cy="1020.3" r="3.6"/><circle cx="908.2" cy="1035.7" r="3.6"/><circle cx="877.8" cy="1028.5" r="3.6"/><circle cx="885.6" cy="1036.0" r="3.6"/><circle cx="874.3" cy="1035.3" r="3.6"/><circle cx="910.2" cy="1013.5" r="3.6"/><circle cx="910.6" cy="1014.0" r="3.6"/><circle cx="879.4" cy="1029.0" r="3.6"/><circle cx="908.0" cy="1028.3" r="3.6"/><circle cx="870.6" cy="1029.3" r="3.6"/><circle cx="879.2" cy="1032.4" r="3.6"/><circle cx="872.9" cy="1034.7" r="3.6"/><circle cx="923.1" cy="1035.4" r="3.6"/><circle cx="863.7" cy="1034.0" r="3.6"/><circle cx="864.2" cy="1033.3" r="3.6"/><circle cx="873.1" cy="1033.0" r="3.6"/><circle cx="903.1" cy="1008.6" r="3.6"/><circle cx="902.5" cy="1028.3" r="3.6"/><circle cx="892.2" cy="1025.2" r="3.6"/><circle cx="865.4" cy="1029.2" r="3.6"/><circle cx="870.4" cy="1032.6" r="3.6"/><circle cx="933.1" cy="1010.9" r="3.6"/><circle cx="867.4" cy="1030.0" r="3.6"/><circle cx="933.9" cy="1021.5" r="3.6"/><circle cx="914.4" cy="1025.5" r="3.6"/><circle cx="890.3" cy="1021.0" r="3.6"/><circle cx="878.1" cy="1034.1" r="3.6"/><circle cx="877.2" cy="1032.3" r="3.6"/><circle cx="867.7" cy="1035.4" r="3.6"/><circle cx="876.0" cy="1034.4" r="3.6"/><circle cx="864.8" cy="1035.6" r="3.6"/><circle cx="886.2" cy="1031.5" r="3.6"/><circle cx="866.6" cy="1029.4" r="3.6"/><circle cx="900.9" cy="1032.0" r="3.6"/><circle cx="901.6" cy="1035.1" r="3.6"/><circle cx="896.7" cy="1018.3" r="3.6"/><circle cx="919.3" cy="1010.1" r="3.6"/><circle cx="897.2" cy="1024.2" r="3.6"/><circle cx="946.5" cy="1022.3" r="3.6"/><circle cx="959.6" cy="992.2" r="3.6"/><circle cx="897.5" cy="1029.2" r="3.6"/><circle cx="879.5" cy="1035.7" r="3.6"/><circle cx="902.6" cy="1035.0" r="3.6"/><circle cx="914.3" cy="1014.3" r="3.6"/><circle cx="925.6" cy="1009.3" r="3.6"/><circle cx="894.6" cy="1028.2" r="3.6"/><circle cx="876.0" cy="1035.7" r="3.6"/><circle cx="870.3" cy="1034.4" r="3.6"/><circle cx="889.7" cy="1030.1" r="3.6"/><circle cx="923.2" cy="1024.6" r="3.6"/><circle cx="901.7" cy="1030.5" r="3.6"/><circle cx="892.8" cy="1022.0" r="3.6"/><circle cx="882.7" cy="1033.9" r="3.6"/><circle cx="920.1" cy="1010.1" r="3.6"/><circle cx="878.7" cy="1027.7" r="3.6"/><circle cx="885.7" cy="1031.4" r="3.6"/><circle cx="893.8" cy="1031.8" r="3.6"/><circle cx="910.2" cy="1029.9" r="3.6"/><circle cx="873.5" cy="1030.7" r="3.6"/><circle cx="921.7" cy="1023.8" r="3.6"/><circle cx="870.1" cy="1029.8" r="3.6"/><circle cx="876.4" cy="1028.8" r="3.6"/><circle cx="885.9" cy="1021.2" r="3.6"/><circle cx="884.6" cy="1029.1" r="3.6"/><circle cx="893.5" cy="1025.4" r="3.6"/><circle cx="913.0" cy="1024.6" r="3.6"/><circle cx="874.5" cy="1031.9" r="3.6"/><circle cx="904.8" cy="1019.0" r="3.6"/><circle cx="862.8" cy="1029.9" r="3.6"/><circle cx="883.8" cy="1018.2" r="3.6"/><circle cx="879.8" cy="1028.0" r="3.6"/><circle cx="909.4" cy="1022.3" r="3.6"/><circle cx="909.1" cy="1035.1" r="3.6"/><circle cx="877.6" cy="1028.0" r="3.6"/><circle cx="908.8" cy="1021.4" r="3.6"/><circle cx="873.6" cy="1028.0" r="3.6"/><circle cx="892.0" cy="1029.3" r="3.6"/><circle cx="900.4" cy="1031.7" r="3.6"/><circle cx="879.2" cy="1031.6" r="3.6"/><circle cx="909.2" cy="1017.4" r="3.6"/><circle cx="895.4" cy="1022.9" r="3.6"/><circle cx="863.7" cy="1033.4" r="3.6"/><circle cx="879.5" cy="1029.1" r="3.6"/><circle cx="920.9" cy="1023.4" r="3.6"/><circle cx="975.1" cy="978.6" r="3.6"/><circle cx="877.8" cy="1033.4" r="3.6"/><circle cx="881.0" cy="1032.4" r="3.6"/><circle cx="864.3" cy="1036.1" r="3.6"/><circle cx="870.5" cy="1034.7" r="3.6"/><circle cx="871.8" cy="1035.8" r="3.6"/><circle cx="890.4" cy="1018.5" r="3.6"/><circle cx="896.9" cy="1033.4" r="3.6"/><circle cx="900.4" cy="1024.0" r="3.6"/><circle cx="871.5" cy="1032.4" r="3.6"/><circle cx="874.5" cy="1031.1" r="3.6"/><circle cx="876.0" cy="1029.5" r="3.6"/><circle cx="904.2" cy="1020.1" r="3.6"/><circle cx="869.8" cy="1027.9" r="3.6"/><circle cx="874.1" cy="1028.4" r="3.6"/><circle cx="883.5" cy="1028.2" r="3.6"/><circle cx="877.8" cy="1020.5" r="3.6"/><circle cx="922.6" cy="1014.0" r="3.6"/><circle cx="870.4" cy="1033.5" r="3.6"/><circle cx="862.5" cy="1034.9" r="3.6"/><circle cx="891.4" cy="1035.9" r="3.6"/><circle cx="937.5" cy="1020.5" r="3.6"/><circle cx="920.0" cy="1020.5" r="3.6"/><circle cx="899.8" cy="1019.2" r="3.6"/><circle cx="880.4" cy="1030.3" r="3.6"/><circle cx="881.2" cy="1027.9" r="3.6"/><circle cx="908.9" cy="1013.1" r="3.6"/><circle cx="925.0" cy="1014.8" r="3.6"/><circle cx="873.1" cy="1029.6" r="3.6"/><circle cx="874.5" cy="1033.1" r="3.6"/><circle cx="909.1" cy="1035.4" r="3.6"/><circle cx="871.7" cy="1032.0" r="3.6"/><circle cx="870.4" cy="1029.7" r="3.6"/><circle cx="916.6" cy="1014.3" r="3.6"/><circle cx="968.5" cy="997.5" r="3.6"/><circle cx="887.2" cy="1018.3" r="3.6"/><circle cx="894.0" cy="1029.1" r="3.6"/><circle cx="884.2" cy="1033.4" r="3.6"/><circle cx="872.9" cy="1029.2" r="3.6"/><circle cx="873.7" cy="1035.3" r="3.6"/><circle cx="890.6" cy="1019.3" r="3.6"/><circle cx="902.2" cy="1009.1" r="3.6"/><circle cx="869.8" cy="1034.7" r="3.6"/><circle cx="887.5" cy="1031.2" r="3.6"/><circle cx="895.8" cy="1027.9" r="3.6"/><circle cx="878.1" cy="1030.2" r="3.6"/><circle cx="868.6" cy="1029.9" r="3.6"/><circle cx="925.5" cy="1035.5" r="3.6"/><circle cx="882.8" cy="1030.3" r="3.6"/><circle cx="878.9" cy="1033.7" r="3.6"/><circle cx="913.5" cy="1020.3" r="3.6"/><circle cx="871.8" cy="1034.2" r="3.6"/><circle cx="900.5" cy="1014.3" r="3.6"/><circle cx="900.0" cy="1028.9" r="3.6"/><circle cx="884.8" cy="1033.4" r="3.6"/><circle cx="928.4" cy="1030.9" r="3.6"/><circle cx="883.5" cy="1029.9" r="3.6"/><circle cx="900.1" cy="1019.9" r="3.6"/><circle cx="869.4" cy="1032.1" r="3.6"/><circle cx="932.5" cy="1032.4" r="3.6"/><circle cx="879.1" cy="1032.4" r="3.6"/><circle cx="931.5" cy="1001.5" r="3.6"/><circle cx="900.9" cy="1014.2" r="3.6"/><circle cx="935.6" cy="1019.5" r="3.6"/><circle cx="901.1" cy="1020.8" r="3.6"/><circle cx="880.7" cy="1034.3" r="3.6"/><circle cx="937.9" cy="1008.7" r="3.6"/><circle cx="873.5" cy="1028.6" r="3.6"/><circle cx="880.1" cy="1035.1" r="3.6"/><circle cx="907.6" cy="1021.8" r="3.6"/><circle cx="880.0" cy="1027.9" r="3.6"/><circle cx="893.6" cy="1028.9" r="3.6"/><circle cx="907.2" cy="1010.6" r="3.6"/><circle cx="886.9" cy="1022.1" r="3.6"/><circle cx="880.2" cy="1035.3" r="3.6"/><circle cx="872.0" cy="1028.7" r="3.6"/><circle cx="917.4" cy="1008.0" r="3.6"/><circle cx="920.3" cy="1023.3" r="3.6"/><circle cx="942.4" cy="1021.6" r="3.6"/><circle cx="865.5" cy="1029.2" r="3.6"/><circle cx="869.0" cy="1034.6" r="3.6"/><circle cx="903.5" cy="1027.7" r="3.6"/><circle cx="878.3" cy="1030.9" r="3.6"/><circle cx="872.5" cy="1035.8" r="3.6"/><circle cx="880.9" cy="1034.2" r="3.6"/><circle cx="871.0" cy="1032.2" r="3.6"/><circle cx="889.9" cy="1031.0" r="3.6"/><circle cx="873.7" cy="1028.5" r="3.6"/><circle cx="905.8" cy="1021.5" r="3.6"/><circle cx="877.8" cy="1031.3" r="3.6"/><circle cx="904.5" cy="1010.3" r="3.6"/><circle cx="885.3" cy="1021.1" r="3.6"/><circle cx="894.4" cy="1020.2" r="3.6"/><circle cx="879.0" cy="1031.4" r="3.6"/><circle cx="866.7" cy="1028.0" r="3.6"/><circle cx="901.5" cy="1034.7" r="3.6"/><circle cx="877.8" cy="1030.0" r="3.6"/><circle cx="909.9" cy="1013.4" r="3.6"/><circle cx="902.7" cy="1028.4" r="3.6"/><circle cx="880.0" cy="1033.3" r="3.6"/><circle cx="869.1" cy="1035.1" r="3.6"/><circle cx="877.4" cy="1035.9" r="3.6"/><circle cx="880.1" cy="1017.7" r="3.6"/><circle cx="873.8" cy="1027.9" r="3.6"/><circle cx="877.3" cy="1028.3" r="3.6"/><circle cx="870.5" cy="1030.6" r="3.6"/><circle cx="890.8" cy="1030.2" r="3.6"/><circle cx="869.6" cy="1029.0" r="3.6"/><circle cx="938.4" cy="1014.8" r="3.6"/><circle cx="872.1" cy="1032.4" r="3.6"/><circle cx="871.7" cy="1035.3" r="3.6"/><circle cx="902.2" cy="1028.1" r="3.6"/><circle cx="946.1" cy="1013.1" r="3.6"/><circle cx="931.8" cy="1014.1" r="3.6"/><circle cx="889.8" cy="1017.4" r="3.6"/><circle cx="901.4" cy="1022.9" r="3.6"/><circle cx="912.1" cy="1020.5" r="3.6"/><circle cx="878.7" cy="1028.1" r="3.6"/><circle cx="930.0" cy="1024.8" r="3.6"/><circle cx="865.8" cy="1035.2" r="3.6"/><circle cx="904.5" cy="1033.7" r="3.6"/><circle cx="885.0" cy="1028.1" r="3.6"/><circle cx="960.1" cy="1020.4" r="3.6"/><circle cx="884.7" cy="1022.8" r="3.6"/><circle cx="868.5" cy="1035.4" r="3.6"/><circle cx="898.4" cy="1018.7" r="3.6"/><circle cx="877.1" cy="1033.9" r="3.6"/><circle cx="867.6" cy="1028.6" r="3.6"/><circle cx="893.3" cy="1032.7" r="3.6"/><circle cx="904.6" cy="1025.1" r="3.6"/><circle cx="870.7" cy="1031.7" r="3.6"/><circle cx="925.2" cy="1011.0" r="3.6"/><circle cx="928.0" cy="1009.2" r="3.6"/><circle cx="922.5" cy="1021.6" r="3.6"/><circle cx="916.4" cy="1017.3" r="3.6"/><circle cx="864.3" cy="1035.8" r="3.6"/><circle cx="899.8" cy="1021.6" r="3.6"/><circle cx="923.1" cy="1015.1" r="3.6"/><circle cx="893.8" cy="1020.3" r="3.6"/><circle cx="909.4" cy="1017.4" r="3.6"/><circle cx="886.5" cy="1028.7" r="3.6"/><circle cx="876.0" cy="1034.6" r="3.6"/><circle cx="902.3" cy="1017.7" r="3.6"/><circle cx="937.7" cy="1015.1" r="3.6"/><circle cx="885.9" cy="1020.5" r="3.6"/><circle cx="895.7" cy="1034.5" r="3.6"/><circle cx="904.8" cy="1031.2" r="3.6"/><circle cx="877.7" cy="1029.4" r="3.6"/><circle cx="923.4" cy="1023.0" r="3.6"/><circle cx="910.6" cy="1029.4" r="3.6"/><circle cx="871.4" cy="1029.9" r="3.6"/><circle cx="905.2" cy="1008.1" r="3.6"/><circle cx="871.0" cy="1027.9" r="3.6"/><circle cx="923.2" cy="1009.6" r="3.6"/><circle cx="862.4" cy="1035.9" r="3.6"/><circle cx="906.6" cy="1019.4" r="3.6"/><circle cx="880.1" cy="1028.8" r="3.6"/><circle cx="877.1" cy="1035.7" r="3.6"/><circle cx="872.1" cy="1030.4" r="3.6"/><circle cx="866.4" cy="1029.6" r="3.6"/><circle cx="868.2" cy="1034.6" r="3.6"/><circle cx="907.5" cy="1018.3" r="3.6"/><circle cx="886.2" cy="1018.2" r="3.6"/><circle cx="909.6" cy="1022.5" r="3.6"/><circle cx="873.6" cy="1030.9" r="3.6"/><circle cx="866.8" cy="1032.7" r="3.6"/><circle cx="893.3" cy="1022.0" r="3.6"/><circle cx="880.9" cy="1029.3" r="3.6"/><circle cx="906.8" cy="1014.7" r="3.6"/><circle cx="879.1" cy="1035.6" r="3.6"/><circle cx="929.4" cy="1011.4" r="3.6"/><circle cx="891.9" cy="1021.6" r="3.6"/><circle cx="894.2" cy="1036.0" r="3.6"/><circle cx="901.4" cy="1018.2" r="3.6"/><circle cx="909.1" cy="1013.7" r="3.6"/><circle cx="902.9" cy="1022.4" r="3.6"/><circle cx="864.8" cy="1028.5" r="3.6"/><circle cx="887.4" cy="1029.0" r="3.6"/><circle cx="886.7" cy="1031.7" r="3.6"/><circle cx="887.7" cy="1030.4" r="3.6"/><circle cx="883.4" cy="1032.7" r="3.6"/><circle cx="873.8" cy="1027.7" r="3.6"/><circle cx="908.1" cy="1018.7" r="3.6"/><circle cx="902.5" cy="1017.3" r="3.6"/><circle cx="907.8" cy="1012.6" r="3.6"/><circle cx="919.7" cy="1030.9" r="3.6"/><circle cx="911.4" cy="1031.1" r="3.6"/><circle cx="876.5" cy="1034.8" r="3.6"/><circle cx="930.4" cy="1007.8" r="3.6"/><circle cx="888.4" cy="1029.3" r="3.6"/><circle cx="871.7" cy="1031.3" r="3.6"/><circle cx="946.6" cy="1018.2" r="3.6"/><circle cx="901.7" cy="1021.6" r="3.6"/><circle cx="929.2" cy="1028.3" r="3.6"/><circle cx="927.2" cy="1022.4" r="3.6"/><circle cx="875.1" cy="1033.4" r="3.6"/><circle cx="868.4" cy="1030.3" r="3.6"/><circle cx="865.8" cy="1033.6" r="3.6"/><circle cx="893.0" cy="1021.8" r="3.6"/><circle cx="875.4" cy="1035.2" r="3.6"/><circle cx="862.6" cy="1028.1" r="3.6"/><circle cx="873.9" cy="1035.1" r="3.6"/><circle cx="893.1" cy="1028.8" r="3.6"/><circle cx="867.3" cy="1034.8" r="3.6"/><circle cx="863.2" cy="1035.4" r="3.6"/><circle cx="950.0" cy="1001.7" r="3.6"/><circle cx="897.5" cy="1020.4" r="3.6"/><circle cx="872.2" cy="1030.0" r="3.6"/><circle cx="880.1" cy="1028.1" r="3.6"/><circle cx="929.0" cy="1031.6" r="3.6"/><circle cx="874.7" cy="1034.1" r="3.6"/><circle cx="906.1" cy="1019.1" r="3.6"/><circle cx="883.6" cy="1028.7" r="3.6"/><circle cx="946.1" cy="1003.9" r="3.6"/><circle cx="872.9" cy="1036.1" r="3.6"/><circle cx="873.3" cy="1033.5" r="3.6"/><circle cx="870.4" cy="1033.8" r="3.6"/><circle cx="893.9" cy="1018.3" r="3.6"/><circle cx="886.3" cy="1020.6" r="3.6"/><circle cx="895.3" cy="1028.2" r="3.6"/><circle cx="863.7" cy="1034.7" r="3.6"/><circle cx="871.4" cy="1028.4" r="3.6"/><circle cx="870.3" cy="1035.4" r="3.6"/><circle cx="923.3" cy="1034.1" r="3.6"/><circle cx="871.6" cy="1028.3" r="3.6"/><circle cx="864.3" cy="1035.8" r="3.6"/><circle cx="924.8" cy="1011.0" r="3.6"/><circle cx="895.6" cy="1032.1" r="3.6"/><circle cx="889.1" cy="1035.0" r="3.6"/><circle cx="929.6" cy="1030.7" r="3.6"/><circle cx="872.5" cy="1027.7" r="3.6"/><circle cx="884.9" cy="1034.1" r="3.6"/><circle cx="907.1" cy="1021.7" r="3.6"/><circle cx="893.3" cy="1031.2" r="3.6"/><circle cx="869.9" cy="1032.4" r="3.6"/><circle cx="868.8" cy="1035.4" r="3.6"/><circle cx="872.8" cy="1029.2" r="3.6"/><circle cx="910.4" cy="1007.8" r="3.6"/><circle cx="907.6" cy="1017.3" r="3.6"/><circle cx="904.6" cy="1019.8" r="3.6"/><circle cx="909.5" cy="1035.7" r="3.6"/><circle cx="956.0" cy="1002.9" r="3.6"/><circle cx="884.6" cy="1025.6" r="3.6"/><circle cx="878.6" cy="1028.6" r="3.6"/><circle cx="944.8" cy="1008.5" r="3.6"/><circle cx="965.4" cy="1033.8" r="3.6"/><circle cx="902.6" cy="1023.0" r="3.6"/><circle cx="872.5" cy="1029.2" r="3.6"/><circle cx="869.6" cy="1033.9" r="3.6"/><circle cx="873.1" cy="1032.2" r="3.6"/><circle cx="943.4" cy="1025.8" r="3.6"/><circle cx="871.1" cy="1032.1" r="3.6"/><circle cx="875.2" cy="1034.9" r="3.6"/><circle cx="877.5" cy="1035.1" r="3.6"/><circle cx="868.3" cy="1032.2" r="3.6"/><circle cx="953.8" cy="980.9" r="3.6"/><circle cx="873.6" cy="1035.7" r="3.6"/><circle cx="873.5" cy="1028.1" r="3.6"/><circle cx="921.8" cy="1024.9" r="3.6"/><circle cx="900.7" cy="1035.1" r="3.6"/><circle cx="884.6" cy="1029.7" r="3.6"/><circle cx="905.5" cy="1027.8" r="3.6"/><circle cx="867.3" cy="1030.6" r="3.6"/><circle cx="877.9" cy="1027.6" r="3.6"/><circle cx="868.4" cy="1028.8" r="3.6"/><circle cx="881.9" cy="1033.0" r="3.6"/><circle cx="937.8" cy="1028.0" r="3.6"/><circle cx="863.7" cy="1034.4" r="3.6"/><circle cx="931.2" cy="1022.6" r="3.6"/><circle cx="901.9" cy="1032.6" r="3.6"/><circle cx="877.0" cy="1029.5" r="3.6"/><circle cx="879.5" cy="1028.1" r="3.6"/><circle cx="890.7" cy="1029.3" r="3.6"/><circle cx="879.8" cy="1033.7" r="3.6"/><circle cx="893.3" cy="1034.6" r="3.6"/><circle cx="907.3" cy="1022.3" r="3.6"/><circle cx="868.4" cy="1031.3" r="3.6"/><circle cx="886.3" cy="1036.0" r="3.6"/><circle cx="866.6" cy="1035.4" r="3.6"/><circle cx="879.5" cy="1028.1" r="3.6"/><circle cx="917.0" cy="1018.9" r="3.6"/><circle cx="883.1" cy="1031.6" r="3.6"/><circle cx="874.1" cy="1029.5" r="3.6"/><circle cx="878.4" cy="1033.7" r="3.6"/><circle cx="907.1" cy="1019.7" r="3.6"/><circle cx="900.0" cy="1020.6" r="3.6"/><circle cx="872.0" cy="1028.9" r="3.6"/><circle cx="910.0" cy="1022.4" r="3.6"/><circle cx="886.8" cy="1032.0" r="3.6"/><circle cx="922.6" cy="1029.0" r="3.6"/><circle cx="925.2" cy="1020.9" r="3.6"/><circle cx="893.9" cy="1031.0" r="3.6"/><circle cx="872.4" cy="1034.9" r="3.6"/><circle cx="879.0" cy="1024.2" r="3.6"/><circle cx="899.9" cy="1032.2" r="3.6"/><circle cx="951.5" cy="1024.2" r="3.6"/><circle cx="916.8" cy="1018.9" r="3.6"/><circle cx="864.2" cy="1028.2" r="3.6"/><circle cx="872.8" cy="1033.2" r="3.6"/><circle cx="866.0" cy="1030.1" r="3.6"/><circle cx="903.6" cy="1035.5" r="3.6"/><circle cx="913.2" cy="1025.0" r="3.6"/><circle cx="872.5" cy="1027.7" r="3.6"/><circle cx="904.5" cy="1020.2" r="3.6"/><circle cx="900.4" cy="1029.3" r="3.6"/><circle cx="895.8" cy="1028.2" r="3.6"/><circle cx="864.9" cy="1033.7" r="3.6"/><circle cx="893.6" cy="1031.6" r="3.6"/><circle cx="865.5" cy="1028.3" r="3.6"/><circle cx="916.5" cy="1034.6" r="3.6"/><circle cx="895.1" cy="1031.8" r="3.6"/><circle cx="877.4" cy="1021.2" r="3.6"/><circle cx="894.1" cy="1012.4" r="3.6"/><circle cx="864.2" cy="1031.4" r="3.6"/><circle cx="872.8" cy="1032.7" r="3.6"/><circle cx="875.0" cy="1035.9" r="3.6"/><circle cx="879.2" cy="1020.9" r="3.6"/><circle cx="915.1" cy="1031.0" r="3.6"/><circle cx="930.7" cy="1015.2" r="3.6"/><circle cx="866.1" cy="1028.0" r="3.6"/><circle cx="899.3" cy="1020.9" r="3.6"/><circle cx="880.7" cy="1030.6" r="3.6"/><circle cx="888.3" cy="1021.7" r="3.6"/><circle cx="871.2" cy="1027.7" r="3.6"/><circle cx="872.7" cy="1034.8" r="3.6"/><circle cx="913.0" cy="1035.9" r="3.6"/><circle cx="894.2" cy="1028.0" r="3.6"/><circle cx="877.3" cy="1028.0" r="3.6"/><circle cx="871.6" cy="1033.4" r="3.6"/><circle cx="870.9" cy="1034.0" r="3.6"/><circle cx="879.0" cy="1027.6" r="3.6"/><circle cx="864.6" cy="1028.6" r="3.6"/><circle cx="867.4" cy="1032.9" r="3.6"/><circle cx="867.0" cy="1031.6" r="3.6"/><circle cx="884.6" cy="1033.0" r="3.6"/><circle cx="909.6" cy="1034.1" r="3.6"/><circle cx="902.3" cy="1028.5" r="3.6"/><circle cx="886.3" cy="1033.0" r="3.6"/><circle cx="897.4" cy="1013.8" r="3.6"/><circle cx="908.1" cy="1018.0" r="3.6"/><circle cx="912.4" cy="1018.1" r="3.6"/><circle cx="909.4" cy="1036.0" r="3.6"/><circle cx="871.5" cy="1028.1" r="3.6"/><circle cx="889.3" cy="1025.5" r="3.6"/><circle cx="888.2" cy="1025.7" r="3.6"/><circle cx="916.0" cy="1010.8" r="3.6"/><circle cx="885.7" cy="1034.7" r="3.6"/><circle cx="921.4" cy="1021.8" r="3.6"/><circle cx="907.5" cy="1028.9" r="3.6"/><circle cx="869.4" cy="1030.4" r="3.6"/><circle cx="886.3" cy="1034.9" r="3.6"/><circle cx="880.7" cy="1035.3" r="3.6"/><circle cx="898.1" cy="1032.8" r="3.6"/></g>
<polyline points="867.9,1031.8 873.7,1023.9 879.4,1016.2 885.2,1008.6 890.9,1001.2 896.7,993.9 902.4,986.8 908.2,979.9 913.9,973.1 919.7,966.5 925.4,960 931.2,953.7 936.9,947.6 942.7,941.6 948.5,935.7 954.2,930.1 960,924.6 965.7,919.2 971.5,914 977.2,909 983,904.2 988.7,899.4 994.5,894.9 1000.2,890.5 1006,886.3 1011.8,882.2 1017.5,878.3 1023.3,874.6 1029,871 1034.8,867.5 1040.5,864.3 1046.3,861.2 1052,858.2 1057.8,855.4 1063.5,852.8 1069.3,850.3 1075,848 1080.8,845.8 1086.6,843.8 1092.3,842 1098.1,840.3 1103.8,838.8 1109.6,837.5 1115.3,836.3 1121.1,835.2 1126.8,834.3 1132.6,833.6 1138.3,833.1 1144.1,832.7 1149.8,832.4 1155.6,832.3 1161.4,832.4 1167.1,832.7 1172.9,833.1 1178.6,833.6 1184.4,834.3 1190.1,835.2 1195.9,836.3 1201.6,837.5 1207.4,838.8 1213.1,840.3 1218.9,842 1224.6,843.8 1230.4,845.8 1236.2,848 1241.9,850.3 1247.7,852.8 1253.4,855.4 1259.2,858.2 1264.9,861.2 1270.7,864.3 1276.4,867.5 1282.2,871 1287.9,874.6 1293.7,878.3 1299.4,882.2 1305.2,886.3 1311,890.5 1316.7,894.9 1322.5,899.4 1328.2,904.2 1334,909 1339.7,914 1345.5,919.2 1351.2,924.6 1357,930.1 1362.7,935.7 1368.5,941.6 1374.3,947.6 1380,953.7 1385.8,960 1391.5,966.5 1397.3,973.1 1403,979.9 1408.8,986.8 1414.5,993.9 1420.3,1001.2 1426,1008.6 1431.8,1016.2 1437.5,1023.9 1443.3,1031.8" fill="none" stroke="#B8860B" stroke-width="1.7"/>
<polyline points="867.9,632.9 873.7,640.8 879.4,648.7 885.2,656.5 890.9,664.2 896.7,671.8 902.4,679.3 908.2,686.8 913.9,694.2 919.7,701.5 925.4,708.7 931.2,715.8 936.9,722.9 942.7,729.9 948.5,736.8 954.2,743.6 960,750.3 965.7,757 971.5,763.6 977.2,770.1 983,776.5 988.7,782.8 994.5,789.1 1000.2,795.3 1006,801.4 1011.8,807.4 1017.5,813.4 1023.3,819.2 1029,825 1034.8,830.7 1040.5,836.3 1046.3,841.9 1052,847.3 1057.8,852.7 1063.5,858 1069.3,863.3 1075,868.4 1080.8,873.5 1086.6,878.5 1092.3,883.4 1098.1,888.2 1103.8,892.9 1109.6,897.6 1115.3,902.2 1121.1,906.7 1126.8,911.1 1132.6,915.5 1138.3,919.7 1144.1,923.9 1149.8,928 1155.6,932.1 1161.4,936 1167.1,939.9 1172.9,943.7 1178.6,947.4 1184.4,951 1190.1,954.6 1195.9,958 1201.6,961.4 1207.4,964.7 1213.1,968 1218.9,971.1 1224.6,974.2 1230.4,977.2 1236.2,980.1 1241.9,982.9 1247.7,985.7 1253.4,988.4 1259.2,991 1264.9,993.5 1270.7,995.9 1276.4,998.3 1282.2,1000.5 1287.9,1002.7 1293.7,1004.8 1299.4,1006.9 1305.2,1008.8 1311,1010.7 1316.7,1012.5 1322.5,1014.2 1328.2,1015.8 1334,1017.4 1339.7,1018.9 1345.5,1020.3 1351.2,1021.6 1357,1022.8 1362.7,1024 1368.5,1025.1 1374.3,1026.1 1380,1027 1385.8,1027.8 1391.5,1028.6 1397.3,1029.2 1403,1029.8 1408.8,1030.4 1414.5,1030.8 1420.3,1031.2 1426,1031.4 1431.8,1031.6 1437.5,1031.8 1443.3,1031.8" fill="none" stroke="#00008B" stroke-width="1.7"/>
<polyline points="867.9,1031.8 873.7,1031.8 879.4,1031.6 885.2,1031.4 890.9,1031.2 896.7,1030.8 902.4,1030.4 908.2,1029.8 913.9,1029.2 919.7,1028.6 925.4,1027.8 931.2,1027 936.9,1026.1 942.7,1025.1 948.5,1024 954.2,1022.8 960,1021.6 965.7,1020.3 971.5,1018.9 977.2,1017.4 983,1015.8 988.7,1014.2 994.5,1012.5 1000.2,1010.7 1006,1008.8 1011.8,1006.9 1017.5,1004.8 1023.3,1002.7 1029,1000.5 1034.8,998.3 1040.5,995.9 1046.3,993.5 1052,991 1057.8,988.4 1063.5,985.7 1069.3,982.9 1075,980.1 1080.8,977.2 1086.6,974.2 1092.3,971.1 1098.1,968 1103.8,964.7 1109.6,961.4 1115.3,958 1121.1,954.6 1126.8,951 1132.6,947.4 1138.3,943.7 1144.1,939.9 1149.8,936 1155.6,932.1 1161.4,928 1167.1,923.9 1172.9,919.7 1178.6,915.5 1184.4,911.1 1190.1,906.7 1195.9,902.2 1201.6,897.6 1207.4,892.9 1213.1,888.2 1218.9,883.4 1224.6,878.5 1230.4,873.5 1236.2,868.4 1241.9,863.3 1247.7,858 1253.4,852.7 1259.2,847.3 1264.9,841.9 1270.7,836.3 1276.4,830.7 1282.2,825 1287.9,819.2 1293.7,813.4 1299.4,807.4 1305.2,801.4 1311,795.3 1316.7,789.1 1322.5,782.8 1328.2,776.5 1334,770.1 1339.7,763.6 1345.5,757 1351.2,750.3 1357,743.6 1362.7,736.8 1368.5,729.9 1374.3,722.9 1380,715.8 1385.8,708.7 1391.5,701.5 1397.3,694.2 1403,686.8 1408.8,679.3 1414.5,671.8 1420.3,664.2 1426,656.5 1431.8,648.7 1437.5,640.8 1443.3,632.9" fill="none" stroke="#FF0000" stroke-width="1.7"/>
</g></svg>
<rect x="833.2" y="609.6" width="639.1" height="446" fill="none" stroke="#333333" stroke-width="1.1"/>
<line x1="867.9" y1="1055.6" x2="867.9" y2="1060.2" stroke="#333333" stroke-width="1.1"/>
<text x="867.9" y="1080" text-anchor="middle" fill="#4D4D4D" font-size="22.5">0.00</text>
<line x1="828.6" y1="1031.8" x2="833.2" y2="1031.8" stroke="#333333" stroke-width="1.1"/>
<text x="825" y="1039.8" text-anchor="end" fill="#4D4D4D" font-size="22.5">0.00</text>
<line x1="1011.8" y1="1055.6" x2="1011.8" y2="1060.2" stroke="#333333" stroke-width="1.1"/>
<text x="1011.8" y="1080" text-anchor="middle" fill="#4D4D4D" font-size="22.5">0.25</text>
<line x1="828.6" y1="932.1" x2="833.2" y2="932.1" stroke="#333333" stroke-width="1.1"/>
<text x="825" y="940.1" text-anchor="end" fill="#4D4D4D" font-size="22.5">0.25</text>
<line x1="1155.6" y1="1055.6" x2="1155.6" y2="1060.2" stroke="#333333" stroke-width="1.1"/>
<text x="1155.6" y="1080" text-anchor="middle" fill="#4D4D4D" font-size="22.5">0.50</text>
<line x1="828.6" y1="832.3" x2="833.2" y2="832.3" stroke="#333333" stroke-width="1.1"/>
<text x="825" y="840.3" text-anchor="end" fill="#4D4D4D" font-size="22.5">0.50</text>
<line x1="1299.4" y1="1055.6" x2="1299.4" y2="1060.2" stroke="#333333" stroke-width="1.1"/>
<text x="1299.4" y="1080" text-anchor="middle" fill="#4D4D4D" font-size="22.5">0.75</text>
<line x1="828.6" y1="732.6" x2="833.2" y2="732.6" stroke="#333333" stroke-width="1.1"/>
<text x="825" y="740.6" text-anchor="end" fill="#4D4D4D" font-size="22.5">0.75</text>
<line x1="1443.3" y1="1055.6" x2="1443.3" y2="1060.2" stroke="#333333" stroke-width="1.1"/>
<text x="1443.3" y="1080" text-anchor="middle" fill="#4D4D4D" font-size="22.5">1.00</text>
<line x1="828.6" y1="632.9" x2="833.2" y2="632.9" stroke="#333333" stroke-width="1.1"/>
<text x="825" y="640.9" text-anchor="end" fill="#4D4D4D" font-size="22.5">1.00</text>
<text x="1152.8" y="1106.2" text-anchor="middle" font-size="22.5">alt allele frequency</text>
<text transform="translate(772.2,832.6) rotate(-90)" x="0" y="0" text-anchor="middle" font-size="22.5">genotype frequency</text>
<text x="833.2" y="595.8" font-size="22.5">All F1s, shared outlier SNPs</text>
<text x="752.4" y="591.1" font-size="29.5" font-weight="bold">D</text>
</g>
<g id="pE">
<svg x="79.6" y="1177.6" width="639.3" height="446.3" overflow="hidden"><g transform="translate(-79.6,-1177.6)">
<line x1="185.7" y1="1177.6" x2="185.7" y2="1623.9" stroke="#EBEBEB" stroke-width="0.7"/>
<line x1="79.6" y1="1550.1" x2="718.9" y2="1550.1" stroke="#EBEBEB" stroke-width="0.7"/>
<line x1="328.7" y1="1177.6" x2="328.7" y2="1623.9" stroke="#EBEBEB" stroke-width="0.7"/>
<line x1="79.6" y1="1450.5" x2="718.9" y2="1450.5" stroke="#EBEBEB" stroke-width="0.7"/>
<line x1="471.7" y1="1177.6" x2="471.7" y2="1623.9" stroke="#EBEBEB" stroke-width="0.7"/>
<line x1="79.6" y1="1350.8" x2="718.9" y2="1350.8" stroke="#EBEBEB" stroke-width="0.7"/>
<line x1="614.7" y1="1177.6" x2="614.7" y2="1623.9" stroke="#EBEBEB" stroke-width="0.7"/>
<line x1="79.6" y1="1251.2" x2="718.9" y2="1251.2" stroke="#EBEBEB" stroke-width="0.7"/>
<line x1="114.2" y1="1177.6" x2="114.2" y2="1623.9" stroke="#EBEBEB" stroke-width="1.4"/>
<line x1="79.6" y1="1599.9" x2="718.9" y2="1599.9" stroke="#EBEBEB" stroke-width="1.4"/>
<line x1="257.2" y1="1177.6" x2="257.2" y2="1623.9" stroke="#EBEBEB" stroke-width="1.4"/>
<line x1="79.6" y1="1500.3" x2="718.9" y2="1500.3" stroke="#EBEBEB" stroke-width="1.4"/>
<line x1="400.2" y1="1177.6" x2="400.2" y2="1623.9" stroke="#EBEBEB" stroke-width="1.4"/>
<line x1="79.6" y1="1400.7" x2="718.9" y2="1400.7" stroke="#EBEBEB" stroke-width="1.4"/>
<line x1="543.2" y1="1177.6" x2="543.2" y2="1623.9" stroke="#EBEBEB" stroke-width="1.4"/>
<line x1="79.6" y1="1301" x2="718.9" y2="1301" stroke="#EBEBEB" stroke-width="1.4"/>
<line x1="686.2" y1="1177.6" x2="686.2" y2="1623.9" stroke="#EBEBEB" stroke-width="1.4"/>
<line x1="79.6" y1="1201.4" x2="718.9" y2="1201.4" stroke="#EBEBEB" stroke-width="1.4"/>
<defs><linearGradient id="gE0" gradientUnits="userSpaceOnUse" x1="577.5" y1="0" x2="645.7" y2="0"><stop offset="0.135" stop-color="#03028A" stop-opacity="0.92"/><stop offset="0.318" stop-color="#03028A" stop-opacity="0.90"/><stop offset="0.500" stop-color="#03028A" stop-opacity="0.87"/><stop offset="0.682" stop-color="#03028A" stop-opacity="0.85"/><stop offset="0.865" stop-color="#03028A" stop-opacity="0.82"/></linearGradient><linearGradient id="gE1" gradientUnits="userSpaceOnUse" x1="552.7" y1="0" x2="620.8" y2="0"><stop offset="0.135" stop-color="#03028A" stop-opacity="0.90"/><stop offset="0.318" stop-color="#03028A" stop-opacity="0.87"/><stop offset="0.500" stop-color="#03028A" stop-opacity="0.85"/><stop offset="0.682" stop-color="#03028A" stop-opacity="0.82"/><stop offset="0.865" stop-color="#03028A" stop-opacity="0.78"/></linearGradient><linearGradient id="gE2" gradientUnits="userSpaceOnUse" x1="515.3" y1="0" x2="595.9" y2="0"><stop offset="0.114" stop-color="#03028A" stop-opacity="0.99"/><stop offset="0.269" stop-color="#03028A" stop-opacity="0.87"/><stop offset="0.423" stop-color="#03028A" stop-opacity="0.85"/><stop offset="0.577" stop-color="#03028A" stop-opacity="0.82"/><stop offset="0.731" stop-color="#03028A" stop-opacity="0.78"/><stop offset="0.886" stop-color="#03028A" stop-opacity="0.75"/></linearGradient><linearGradient id="gE3" gradientUnits="userSpaceOnUse" x1="490.5" y1="0" x2="571.1" y2="0"><stop offset="0.114" stop-color="#03028A" stop-opacity="0.99"/><stop offset="0.269" stop-color="#03028A" stop-opacity="0.85"/><stop offset="0.423" stop-color="#03028A" stop-opacity="0.82"/><stop offset="0.577" stop-color="#03028A" stop-opacity="0.78"/><stop offset="0.731" stop-color="#03028A" stop-opacity="0.75"/><stop offset="0.886" stop-color="#03028A" stop-opacity="0.72"/></linearGradient><linearGradient id="gE4" gradientUnits="userSpaceOnUse" x1="465.6" y1="0" x2="546.2" y2="0"><stop offset="0.114" stop-color="#03028A" stop-opacity="0.98"/><stop offset="0.269" stop-color="#03028A" stop-opacity="0.82"/><stop offset="0.423" stop-color="#03028A" stop-opacity="0.78"/><stop offset="0.577" stop-color="#03028A" stop-opacity="0.75"/><stop offset="0.731" stop-color="#03028A" stop-opacity="0.72"/><stop offset="0.886" stop-color="#03028A" stop-opacity="0.68"/></linearGradient><linearGradient id="gE5" gradientUnits="userSpaceOnUse" x1="440.7" y1="0" x2="521.3" y2="0"><stop offset="0.114" stop-color="#03028A" stop-opacity="0.98"/><stop offset="0.269" stop-color="#03028A" stop-opacity="0.78"/><stop offset="0.423" stop-color="#03028A" stop-opacity="0.75"/><stop offset="0.577" stop-color="#03028A" stop-opacity="0.72"/><stop offset="0.731" stop-color="#03028A" stop-opacity="0.68"/><stop offset="0.886" stop-color="#03028A" stop-opacity="0.64"/></linearGradient><linearGradient id="gE6" gradientUnits="userSpaceOnUse" x1="415.9" y1="0" x2="496.4" y2="0"><stop offset="0.114" stop-color="#03028A" stop-opacity="0.97"/><stop offset="0.269" stop-color="#03028A" stop-opacity="0.75"/><stop offset="0.423" stop-color="#03028A" stop-opacity="0.72"/><stop offset="0.577" stop-color="#03028A" stop-opacity="0.68"/><stop offset="0.731" stop-color="#03028A" stop-opacity="0.64"/><stop offset="0.886" stop-color="#03028A" stop-opacity="0.61"/></linearGradient><linearGradient id="gE7" gradientUnits="userSpaceOnUse" x1="403.4" y1="0" x2="471.6" y2="0"><stop offset="0.135" stop-color="#03028A" stop-opacity="0.72"/><stop offset="0.318" stop-color="#03028A" stop-opacity="0.68"/><stop offset="0.500" stop-color="#03028A" stop-opacity="0.64"/><stop offset="0.682" stop-color="#03028A" stop-opacity="0.61"/><stop offset="0.865" stop-color="#03028A" stop-opacity="0.57"/></linearGradient><linearGradient id="gE8" gradientUnits="userSpaceOnUse" x1="403.4" y1="0" x2="446.7" y2="0"><stop offset="0.213" stop-color="#03028A" stop-opacity="0.61"/><stop offset="0.500" stop-color="#03028A" stop-opacity="0.57"/><stop offset="0.787" stop-color="#03028A" stop-opacity="0.53"/></linearGradient><linearGradient id="gE9" gradientUnits="userSpaceOnUse" x1="378.6" y1="0" x2="421.8" y2="0"><stop offset="0.213" stop-color="#03028A" stop-opacity="0.99"/><stop offset="0.500" stop-color="#03028A" stop-opacity="0.80"/><stop offset="0.787" stop-color="#03028A" stop-opacity="0.50"/></linearGradient><linearGradient id="gE10" gradientUnits="userSpaceOnUse" x1="353.7" y1="0" x2="397" y2="0"><stop offset="0.213" stop-color="#03028A" stop-opacity="0.99"/><stop offset="0.500" stop-color="#03028A" stop-opacity="0.83"/><stop offset="0.787" stop-color="#03028A" stop-opacity="0.62"/></linearGradient><linearGradient id="gE11" gradientUnits="userSpaceOnUse" x1="328.8" y1="0" x2="372.1" y2="0"><stop offset="0.213" stop-color="#03028A" stop-opacity="1.00"/><stop offset="0.500" stop-color="#03028A" stop-opacity="0.86"/><stop offset="0.787" stop-color="#03028A" stop-opacity="0.66"/></linearGradient><linearGradient id="gE12" gradientUnits="userSpaceOnUse" x1="316.4" y1="0" x2="347.2" y2="0"><stop offset="0.298" stop-color="#03028A" stop-opacity="0.89"/><stop offset="0.702" stop-color="#03028A" stop-opacity="0.70"/></linearGradient><linearGradient id="gE13" gradientUnits="userSpaceOnUse" x1="291.5" y1="0" x2="322.4" y2="0"><stop offset="0.298" stop-color="#03028A" stop-opacity="0.91"/><stop offset="0.702" stop-color="#03028A" stop-opacity="0.73"/></linearGradient><linearGradient id="gE14" gradientUnits="userSpaceOnUse" x1="266.7" y1="0" x2="297.5" y2="0"><stop offset="0.298" stop-color="#03028A" stop-opacity="0.93"/><stop offset="0.702" stop-color="#03028A" stop-opacity="0.77"/></linearGradient><linearGradient id="gE15" gradientUnits="userSpaceOnUse" x1="241.8" y1="0" x2="272.6" y2="0"><stop offset="0.298" stop-color="#03028A" stop-opacity="0.95"/><stop offset="0.702" stop-color="#03028A" stop-opacity="0.80"/></linearGradient><linearGradient id="gE16" gradientUnits="userSpaceOnUse" x1="216.9" y1="0" x2="247.7" y2="0"><stop offset="0.298" stop-color="#03028A" stop-opacity="0.96"/><stop offset="0.702" stop-color="#03028A" stop-opacity="0.83"/></linearGradient><linearGradient id="gE17" gradientUnits="userSpaceOnUse" x1="192" y1="0" x2="222.9" y2="0"><stop offset="0.298" stop-color="#03028A" stop-opacity="0.97"/><stop offset="0.702" stop-color="#03028A" stop-opacity="0.86"/></linearGradient><linearGradient id="gE18" gradientUnits="userSpaceOnUse" x1="167.2" y1="0" x2="198" y2="0"><stop offset="0.298" stop-color="#03028A" stop-opacity="0.98"/><stop offset="0.702" stop-color="#03028A" stop-opacity="0.89"/></linearGradient><linearGradient id="gE19" gradientUnits="userSpaceOnUse" x1="154.7" y1="0" x2="185.6" y2="0"><stop offset="0.298" stop-color="#FC0000" stop-opacity="0.91"/><stop offset="0.702" stop-color="#FC0000" stop-opacity="0.98"/></linearGradient><linearGradient id="gE20" gradientUnits="userSpaceOnUse" x1="179.6" y1="0" x2="210.4" y2="0"><stop offset="0.298" stop-color="#FC0000" stop-opacity="0.89"/><stop offset="0.702" stop-color="#FC0000" stop-opacity="0.97"/></linearGradient><linearGradient id="gE21" gradientUnits="userSpaceOnUse" x1="204.5" y1="0" x2="235.3" y2="0"><stop offset="0.298" stop-color="#FC0000" stop-opacity="0.86"/><stop offset="0.702" stop-color="#FC0000" stop-opacity="0.96"/></linearGradient><linearGradient id="gE22" gradientUnits="userSpaceOnUse" x1="229.3" y1="0" x2="260.2" y2="0"><stop offset="0.298" stop-color="#FC0000" stop-opacity="0.83"/><stop offset="0.702" stop-color="#FC0000" stop-opacity="0.95"/></linearGradient><linearGradient id="gE23" gradientUnits="userSpaceOnUse" x1="254.2" y1="0" x2="285.1" y2="0"><stop offset="0.298" stop-color="#FC0000" stop-opacity="0.80"/><stop offset="0.702" stop-color="#FC0000" stop-opacity="0.93"/></linearGradient><linearGradient id="gE24" gradientUnits="userSpaceOnUse" x1="279.1" y1="0" x2="309.9" y2="0"><stop offset="0.298" stop-color="#FC0000" stop-opacity="0.77"/><stop offset="0.702" stop-color="#FC0000" stop-opacity="0.91"/></linearGradient><linearGradient id="gE25" gradientUnits="userSpaceOnUse" x1="304" y1="0" x2="347.2" y2="0"><stop offset="0.213" stop-color="#FC0000" stop-opacity="0.73"/><stop offset="0.500" stop-color="#FC0000" stop-opacity="0.89"/><stop offset="0.787" stop-color="#FC0000" stop-opacity="1.00"/></linearGradient><linearGradient id="gE26" gradientUnits="userSpaceOnUse" x1="328.8" y1="0" x2="372.1" y2="0"><stop offset="0.213" stop-color="#FC0000" stop-opacity="0.70"/><stop offset="0.500" stop-color="#FC0000" stop-opacity="0.86"/><stop offset="0.787" stop-color="#FC0000" stop-opacity="0.99"/></linearGradient><linearGradient id="gE27" gradientUnits="userSpaceOnUse" x1="353.7" y1="0" x2="397" y2="0"><stop offset="0.213" stop-color="#FC0000" stop-opacity="0.66"/><stop offset="0.500" stop-color="#FC0000" stop-opacity="0.83"/><stop offset="0.787" stop-color="#FC0000" stop-opacity="0.99"/></linearGradient><linearGradient id="gE28" gradientUnits="userSpaceOnUse" x1="403.4" y1="0" x2="434.3" y2="0"><stop offset="0.298" stop-color="#FC0000" stop-opacity="0.72"/><stop offset="0.702" stop-color="#FC0000" stop-opacity="0.97"/></linearGradient><linearGradient id="gE29" gradientUnits="userSpaceOnUse" x1="378.6" y1="0" x2="459.1" y2="0"><stop offset="0.114" stop-color="#FC0000" stop-opacity="0.62"/><stop offset="0.269" stop-color="#FC0000" stop-opacity="0.80"/><stop offset="0.423" stop-color="#FC0000" stop-opacity="0.61"/><stop offset="0.577" stop-color="#FC0000" stop-opacity="0.68"/><stop offset="0.731" stop-color="#FC0000" stop-opacity="0.75"/><stop offset="0.886" stop-color="#FC0000" stop-opacity="0.98"/></linearGradient><linearGradient id="gE30" gradientUnits="userSpaceOnUse" x1="403.4" y1="0" x2="484" y2="0"><stop offset="0.114" stop-color="#FC0000" stop-opacity="0.50"/><stop offset="0.269" stop-color="#FC0000" stop-opacity="0.57"/><stop offset="0.423" stop-color="#FC0000" stop-opacity="0.64"/><stop offset="0.577" stop-color="#FC0000" stop-opacity="0.72"/><stop offset="0.731" stop-color="#FC0000" stop-opacity="0.78"/><stop offset="0.886" stop-color="#FC0000" stop-opacity="0.98"/></linearGradient><linearGradient id="gE31" gradientUnits="userSpaceOnUse" x1="428.3" y1="0" x2="508.9" y2="0"><stop offset="0.114" stop-color="#FC0000" stop-opacity="0.53"/><stop offset="0.269" stop-color="#FC0000" stop-opacity="0.61"/><stop offset="0.423" stop-color="#FC0000" stop-opacity="0.68"/><stop offset="0.577" stop-color="#FC0000" stop-opacity="0.75"/><stop offset="0.731" stop-color="#FC0000" stop-opacity="0.82"/><stop offset="0.886" stop-color="#FC0000" stop-opacity="0.99"/></linearGradient><linearGradient id="gE32" gradientUnits="userSpaceOnUse" x1="453.2" y1="0" x2="533.7" y2="0"><stop offset="0.114" stop-color="#FC0000" stop-opacity="0.57"/><stop offset="0.269" stop-color="#FC0000" stop-opacity="0.64"/><stop offset="0.423" stop-color="#FC0000" stop-opacity="0.72"/><stop offset="0.577" stop-color="#FC0000" stop-opacity="0.78"/><stop offset="0.731" stop-color="#FC0000" stop-opacity="0.85"/><stop offset="0.886" stop-color="#FC0000" stop-opacity="0.99"/></linearGradient><linearGradient id="gE33" gradientUnits="userSpaceOnUse" x1="478" y1="0" x2="546.2" y2="0"><stop offset="0.135" stop-color="#FC0000" stop-opacity="0.61"/><stop offset="0.318" stop-color="#FC0000" stop-opacity="0.68"/><stop offset="0.500" stop-color="#FC0000" stop-opacity="0.75"/><stop offset="0.682" stop-color="#FC0000" stop-opacity="0.82"/><stop offset="0.865" stop-color="#FC0000" stop-opacity="0.87"/></linearGradient><linearGradient id="gE34" gradientUnits="userSpaceOnUse" x1="502.9" y1="0" x2="571.1" y2="0"><stop offset="0.135" stop-color="#FC0000" stop-opacity="0.64"/><stop offset="0.318" stop-color="#FC0000" stop-opacity="0.72"/><stop offset="0.500" stop-color="#FC0000" stop-opacity="0.78"/><stop offset="0.682" stop-color="#FC0000" stop-opacity="0.85"/><stop offset="0.865" stop-color="#FC0000" stop-opacity="0.90"/></linearGradient><linearGradient id="gE35" gradientUnits="userSpaceOnUse" x1="527.8" y1="0" x2="595.9" y2="0"><stop offset="0.135" stop-color="#FC0000" stop-opacity="0.68"/><stop offset="0.318" stop-color="#FC0000" stop-opacity="0.75"/><stop offset="0.500" stop-color="#FC0000" stop-opacity="0.82"/><stop offset="0.682" stop-color="#FC0000" stop-opacity="0.87"/><stop offset="0.865" stop-color="#FC0000" stop-opacity="0.92"/></linearGradient><linearGradient id="gE36" gradientUnits="userSpaceOnUse" x1="552.7" y1="0" x2="608.4" y2="0"><stop offset="0.165" stop-color="#FC0000" stop-opacity="0.72"/><stop offset="0.388" stop-color="#FC0000" stop-opacity="0.78"/><stop offset="0.612" stop-color="#FC0000" stop-opacity="0.85"/><stop offset="0.835" stop-color="#FC0000" stop-opacity="0.90"/></linearGradient><linearGradient id="gE37" gradientUnits="userSpaceOnUse" x1="577.5" y1="0" x2="620.8" y2="0"><stop offset="0.213" stop-color="#FC0000" stop-opacity="0.75"/><stop offset="0.500" stop-color="#FC0000" stop-opacity="0.82"/><stop offset="0.787" stop-color="#FC0000" stop-opacity="0.87"/></linearGradient><linearGradient id="gE38" gradientUnits="userSpaceOnUse" x1="602.4" y1="0" x2="633.2" y2="0"><stop offset="0.298" stop-color="#FC0000" stop-opacity="0.78"/><stop offset="0.702" stop-color="#FC0000" stop-opacity="0.85"/></linearGradient></defs><g fill="#AF7C0C"><rect x="104.3" y="1591.5" width="19.8" height="16.8" rx="4.6"/><rect x="129.2" y="1591.5" width="19.8" height="16.8" rx="4.6"/><rect x="651.4" y="1591.5" width="19.8" height="16.8" rx="4.6"/><rect x="676.3" y="1591.5" width="19.8" height="16.8" rx="4.6"/><rect x="116.7" y="1574.2" width="19.8" height="16.8" rx="4.6"/><rect x="141.6" y="1574.2" width="19.8" height="16.8" rx="4.6"/><rect x="639" y="1574.2" width="19.8" height="16.8" rx="4.6"/><rect x="663.9" y="1574.2" width="19.8" height="16.8" rx="4.6"/><rect x="129.2" y="1556.8" width="19.8" height="16.8" rx="4.6"/><rect x="154" y="1556.8" width="19.8" height="16.8" rx="4.6"/><rect x="178.9" y="1556.8" width="19.8" height="16.8" rx="4.6"/><rect x="203.8" y="1556.8" width="19.8" height="16.8" rx="4.6"/><rect x="228.6" y="1556.8" width="19.8" height="16.8" rx="4.6"/><rect x="253.5" y="1556.8" width="19.8" height="16.8" rx="4.6"/><rect x="278.4" y="1556.8" width="19.8" height="16.8" rx="4.6"/><rect x="303.3" y="1556.8" width="19.8" height="16.8" rx="4.6"/><rect x="626.6" y="1556.8" width="19.8" height="16.8" rx="4.6"/><rect x="651.4" y="1556.8" width="19.8" height="16.8" rx="4.6"/><rect x="141.6" y="1539.5" width="19.8" height="16.8" rx="4.6"/><rect x="166.5" y="1539.5" width="19.8" height="16.8" rx="4.6"/><rect x="191.3" y="1539.5" width="19.8" height="16.8" rx="4.6"/><rect x="216.2" y="1539.5" width="19.8" height="16.8" rx="4.6"/><rect x="241.1" y="1539.5" width="19.8" height="16.8" rx="4.6"/><rect x="266" y="1539.5" width="19.8" height="16.8" rx="4.6"/><rect x="290.8" y="1539.5" width="19.8" height="16.8" rx="4.6"/><rect x="315.7" y="1539.5" width="19.8" height="16.8" rx="4.6"/><rect x="340.6" y="1539.5" width="19.8" height="16.8" rx="4.6"/><rect x="365.4" y="1539.5" width="19.8" height="16.8" rx="4.6"/><rect x="390.3" y="1539.5" width="19.8" height="16.8" rx="4.6"/><rect x="614.1" y="1539.5" width="19.8" height="16.8" rx="4.6"/><rect x="639" y="1539.5" width="19.8" height="16.8" rx="4.6"/><rect x="154" y="1522.2" width="19.8" height="16.8" rx="4.6"/><rect x="178.9" y="1522.2" width="19.8" height="16.8" rx="4.6"/><rect x="203.8" y="1522.2" width="19.8" height="16.8" rx="4.6"/><rect x="228.6" y="1522.2" width="19.8" height="16.8" rx="4.6"/><rect x="253.5" y="1522.2" width="19.8" height="16.8" rx="4.6"/><rect x="278.4" y="1522.2" width="19.8" height="16.8" rx="4.6"/><rect x="303.3" y="1522.2" width="19.8" height="16.8" rx="4.6"/><rect x="328.1" y="1522.2" width="19.8" height="16.8" rx="4.6"/><rect x="353" y="1522.2" width="19.8" height="16.8" rx="4.6"/><rect x="377.9" y="1522.2" width="19.8" height="16.8" rx="4.6"/><rect x="601.7" y="1522.2" width="19.8" height="16.8" rx="4.6"/><rect x="626.6" y="1522.2" width="19.8" height="16.8" rx="4.6"/><rect x="166.5" y="1504.9" width="19.8" height="16.8" rx="4.6"/><rect x="191.3" y="1504.9" width="19.8" height="16.8" rx="4.6"/><rect x="216.2" y="1504.9" width="19.8" height="16.8" rx="4.6"/><rect x="241.1" y="1504.9" width="19.8" height="16.8" rx="4.6"/><rect x="266" y="1504.9" width="19.8" height="16.8" rx="4.6"/><rect x="290.8" y="1504.9" width="19.8" height="16.8" rx="4.6"/><rect x="315.7" y="1504.9" width="19.8" height="16.8" rx="4.6"/><rect x="340.6" y="1504.9" width="19.8" height="16.8" rx="4.6"/><rect x="365.4" y="1504.9" width="19.8" height="16.8" rx="4.6"/><rect x="390.3" y="1504.9" width="19.8" height="16.8" rx="4.6"/><rect x="539.5" y="1504.9" width="19.8" height="16.8" rx="4.6"/><rect x="564.4" y="1504.9" width="19.8" height="16.8" rx="4.6"/><rect x="589.3" y="1504.9" width="19.8" height="16.8" rx="4.6"/><rect x="614.1" y="1504.9" width="19.8" height="16.8" rx="4.6"/><rect x="178.9" y="1487.5" width="19.8" height="16.8" rx="4.6"/><rect x="203.8" y="1487.5" width="19.8" height="16.8" rx="4.6"/><rect x="228.6" y="1487.5" width="19.8" height="16.8" rx="4.6"/><rect x="253.5" y="1487.5" width="19.8" height="16.8" rx="4.6"/><rect x="278.4" y="1487.5" width="19.8" height="16.8" rx="4.6"/><rect x="303.3" y="1487.5" width="19.8" height="16.8" rx="4.6"/><rect x="328.1" y="1487.5" width="19.8" height="16.8" rx="4.6"/><rect x="353" y="1487.5" width="19.8" height="16.8" rx="4.6"/><rect x="377.9" y="1487.5" width="19.8" height="16.8" rx="4.6"/><rect x="402.7" y="1487.5" width="19.8" height="16.8" rx="4.6"/><rect x="427.6" y="1487.5" width="19.8" height="16.8" rx="4.6"/><rect x="452.5" y="1487.5" width="19.8" height="16.8" rx="4.6"/><rect x="477.3" y="1487.5" width="19.8" height="16.8" rx="4.6"/><rect x="502.2" y="1487.5" width="19.8" height="16.8" rx="4.6"/><rect x="527.1" y="1487.5" width="19.8" height="16.8" rx="4.6"/><rect x="552" y="1487.5" width="19.8" height="16.8" rx="4.6"/><rect x="576.8" y="1487.5" width="19.8" height="16.8" rx="4.6"/><rect x="601.7" y="1487.5" width="19.8" height="16.8" rx="4.6"/><rect x="191.3" y="1470.2" width="19.8" height="16.8" rx="4.6"/><rect x="216.2" y="1470.2" width="19.8" height="16.8" rx="4.6"/><rect x="241.1" y="1470.2" width="19.8" height="16.8" rx="4.6"/><rect x="266" y="1470.2" width="19.8" height="16.8" rx="4.6"/><rect x="290.8" y="1470.2" width="19.8" height="16.8" rx="4.6"/><rect x="315.7" y="1470.2" width="19.8" height="16.8" rx="4.6"/><rect x="340.6" y="1470.2" width="19.8" height="16.8" rx="4.6"/><rect x="365.4" y="1470.2" width="19.8" height="16.8" rx="4.6"/><rect x="390.3" y="1470.2" width="19.8" height="16.8" rx="4.6"/><rect x="415.2" y="1470.2" width="19.8" height="16.8" rx="4.6"/><rect x="440" y="1470.2" width="19.8" height="16.8" rx="4.6"/><rect x="464.9" y="1470.2" width="19.8" height="16.8" rx="4.6"/><rect x="489.8" y="1470.2" width="19.8" height="16.8" rx="4.6"/><rect x="514.6" y="1470.2" width="19.8" height="16.8" rx="4.6"/><rect x="539.5" y="1470.2" width="19.8" height="16.8" rx="4.6"/><rect x="564.4" y="1470.2" width="19.8" height="16.8" rx="4.6"/><rect x="589.3" y="1470.2" width="19.8" height="16.8" rx="4.6"/><rect x="203.8" y="1452.9" width="19.8" height="16.8" rx="4.6"/><rect x="228.6" y="1452.9" width="19.8" height="16.8" rx="4.6"/><rect x="253.5" y="1452.9" width="19.8" height="16.8" rx="4.6"/><rect x="278.4" y="1452.9" width="19.8" height="16.8" rx="4.6"/><rect x="303.3" y="1452.9" width="19.8" height="16.8" rx="4.6"/><rect x="328.1" y="1452.9" width="19.8" height="16.8" rx="4.6"/><rect x="353" y="1452.9" width="19.8" height="16.8" rx="4.6"/><rect x="377.9" y="1452.9" width="19.8" height="16.8" rx="4.6"/><rect x="402.7" y="1452.9" width="19.8" height="16.8" rx="4.6"/><rect x="427.6" y="1452.9" width="19.8" height="16.8" rx="4.6"/><rect x="452.5" y="1452.9" width="19.8" height="16.8" rx="4.6"/><rect x="477.3" y="1452.9" width="19.8" height="16.8" rx="4.6"/><rect x="502.2" y="1452.9" width="19.8" height="16.8" rx="4.6"/><rect x="527.1" y="1452.9" width="19.8" height="16.8" rx="4.6"/><rect x="552" y="1452.9" width="19.8" height="16.8" rx="4.6"/><rect x="576.8" y="1452.9" width="19.8" height="16.8" rx="4.6"/><rect x="216.2" y="1435.6" width="19.8" height="16.8" rx="4.6"/><rect x="241.1" y="1435.6" width="19.8" height="16.8" rx="4.6"/><rect x="266" y="1435.6" width="19.8" height="16.8" rx="4.6"/><rect x="290.8" y="1435.6" width="19.8" height="16.8" rx="4.6"/><rect x="315.7" y="1435.6" width="19.8" height="16.8" rx="4.6"/><rect x="340.6" y="1435.6" width="19.8" height="16.8" rx="4.6"/><rect x="365.4" y="1435.6" width="19.8" height="16.8" rx="4.6"/><rect x="390.3" y="1435.6" width="19.8" height="16.8" rx="4.6"/><rect x="415.2" y="1435.6" width="19.8" height="16.8" rx="4.6"/><rect x="440" y="1435.6" width="19.8" height="16.8" rx="4.6"/><rect x="464.9" y="1435.6" width="19.8" height="16.8" rx="4.6"/><rect x="489.8" y="1435.6" width="19.8" height="16.8" rx="4.6"/><rect x="514.6" y="1435.6" width="19.8" height="16.8" rx="4.6"/><rect x="539.5" y="1435.6" width="19.8" height="16.8" rx="4.6"/><rect x="564.4" y="1435.6" width="19.8" height="16.8" rx="4.6"/><rect x="228.6" y="1418.2" width="19.8" height="16.8" rx="4.6"/><rect x="253.5" y="1418.2" width="19.8" height="16.8" rx="4.6"/><rect x="278.4" y="1418.2" width="19.8" height="16.8" rx="4.6"/><rect x="303.3" y="1418.2" width="19.8" height="16.8" rx="4.6"/><rect x="328.1" y="1418.2" width="19.8" height="16.8" rx="4.6"/><rect x="353" y="1418.2" width="19.8" height="16.8" rx="4.6"/><rect x="377.9" y="1418.2" width="19.8" height="16.8" rx="4.6"/><rect x="402.7" y="1418.2" width="19.8" height="16.8" rx="4.6"/><rect x="427.6" y="1418.2" width="19.8" height="16.8" rx="4.6"/><rect x="452.5" y="1418.2" width="19.8" height="16.8" rx="4.6"/><rect x="477.3" y="1418.2" width="19.8" height="16.8" rx="4.6"/><rect x="502.2" y="1418.2" width="19.8" height="16.8" rx="4.6"/><rect x="527.1" y="1418.2" width="19.8" height="16.8" rx="4.6"/><rect x="552" y="1418.2" width="19.8" height="16.8" rx="4.6"/><rect x="241.1" y="1400.9" width="19.8" height="16.8" rx="4.6"/><rect x="266" y="1400.9" width="19.8" height="16.8" rx="4.6"/><rect x="290.8" y="1400.9" width="19.8" height="16.8" rx="4.6"/><rect x="315.7" y="1400.9" width="19.8" height="16.8" rx="4.6"/><rect x="340.6" y="1400.9" width="19.8" height="16.8" rx="4.6"/><rect x="365.4" y="1400.9" width="19.8" height="16.8" rx="4.6"/><rect x="390.3" y="1400.9" width="19.8" height="16.8" rx="4.6"/><rect x="415.2" y="1400.9" width="19.8" height="16.8" rx="4.6"/><rect x="440" y="1400.9" width="19.8" height="16.8" rx="4.6"/><rect x="464.9" y="1400.9" width="19.8" height="16.8" rx="4.6"/><rect x="489.8" y="1400.9" width="19.8" height="16.8" rx="4.6"/><rect x="514.6" y="1400.9" width="19.8" height="16.8" rx="4.6"/><rect x="539.5" y="1400.9" width="19.8" height="16.8" rx="4.6"/><rect x="253.5" y="1383.6" width="19.8" height="16.8" rx="4.6"/><rect x="278.4" y="1383.6" width="19.8" height="16.8" rx="4.6"/><rect x="303.3" y="1383.6" width="19.8" height="16.8" rx="4.6"/><rect x="328.1" y="1383.6" width="19.8" height="16.8" rx="4.6"/><rect x="353" y="1383.6" width="19.8" height="16.8" rx="4.6"/><rect x="377.9" y="1383.6" width="19.8" height="16.8" rx="4.6"/><rect x="402.7" y="1383.6" width="19.8" height="16.8" rx="4.6"/><rect x="427.6" y="1383.6" width="19.8" height="16.8" rx="4.6"/><rect x="452.5" y="1383.6" width="19.8" height="16.8" rx="4.6"/><rect x="477.3" y="1383.6" width="19.8" height="16.8" rx="4.6"/><rect x="502.2" y="1383.6" width="19.8" height="16.8" rx="4.6"/><rect x="527.1" y="1383.6" width="19.8" height="16.8" rx="4.6"/><rect x="266" y="1366.3" width="19.8" height="16.8" rx="4.6"/><rect x="290.8" y="1366.3" width="19.8" height="16.8" rx="4.6"/><rect x="315.7" y="1366.3" width="19.8" height="16.8" rx="4.6"/><rect x="340.6" y="1366.3" width="19.8" height="16.8" rx="4.6"/><rect x="365.4" y="1366.3" width="19.8" height="16.8" rx="4.6"/><rect x="390.3" y="1366.3" width="19.8" height="16.8" rx="4.6"/><rect x="415.2" y="1366.3" width="19.8" height="16.8" rx="4.6"/><rect x="440" y="1366.3" width="19.8" height="16.8" rx="4.6"/><rect x="464.9" y="1366.3" width="19.8" height="16.8" rx="4.6"/><rect x="489.8" y="1366.3" width="19.8" height="16.8" rx="4.6"/><rect x="514.6" y="1366.3" width="19.8" height="16.8" rx="4.6"/><rect x="278.4" y="1348.9" width="19.8" height="16.8" rx="4.6"/><rect x="303.3" y="1348.9" width="19.8" height="16.8" rx="4.6"/><rect x="328.1" y="1348.9" width="19.8" height="16.8" rx="4.6"/><rect x="353" y="1348.9" width="19.8" height="16.8" rx="4.6"/><rect x="377.9" y="1348.9" width="19.8" height="16.8" rx="4.6"/><rect x="402.7" y="1348.9" width="19.8" height="16.8" rx="4.6"/><rect x="427.6" y="1348.9" width="19.8" height="16.8" rx="4.6"/><rect x="452.5" y="1348.9" width="19.8" height="16.8" rx="4.6"/><rect x="477.3" y="1348.9" width="19.8" height="16.8" rx="4.6"/><rect x="502.2" y="1348.9" width="19.8" height="16.8" rx="4.6"/><rect x="290.8" y="1331.6" width="19.8" height="16.8" rx="4.6"/><rect x="315.7" y="1331.6" width="19.8" height="16.8" rx="4.6"/><rect x="340.6" y="1331.6" width="19.8" height="16.8" rx="4.6"/><rect x="365.4" y="1331.6" width="19.8" height="16.8" rx="4.6"/><rect x="390.3" y="1331.6" width="19.8" height="16.8" rx="4.6"/><rect x="415.2" y="1331.6" width="19.8" height="16.8" rx="4.6"/><rect x="440" y="1331.6" width="19.8" height="16.8" rx="4.6"/><rect x="464.9" y="1331.6" width="19.8" height="16.8" rx="4.6"/><rect x="489.8" y="1331.6" width="19.8" height="16.8" rx="4.6"/><rect x="303.3" y="1314.3" width="19.8" height="16.8" rx="4.6"/><rect x="328.1" y="1314.3" width="19.8" height="16.8" rx="4.6"/><rect x="353" y="1314.3" width="19.8" height="16.8" rx="4.6"/><rect x="377.9" y="1314.3" width="19.8" height="16.8" rx="4.6"/><rect x="402.7" y="1314.3" width="19.8" height="16.8" rx="4.6"/><rect x="427.6" y="1314.3" width="19.8" height="16.8" rx="4.6"/><rect x="452.5" y="1314.3" width="19.8" height="16.8" rx="4.6"/><rect x="477.3" y="1314.3" width="19.8" height="16.8" rx="4.6"/><rect x="315.7" y="1297" width="19.8" height="16.8" rx="4.6"/><rect x="340.6" y="1297" width="19.8" height="16.8" rx="4.6"/><rect x="365.4" y="1297" width="19.8" height="16.8" rx="4.6"/><rect x="390.3" y="1297" width="19.8" height="16.8" rx="4.6"/><rect x="415.2" y="1297" width="19.8" height="16.8" rx="4.6"/><rect x="440" y="1297" width="19.8" height="16.8" rx="4.6"/><rect x="464.9" y="1297" width="19.8" height="16.8" rx="4.6"/><rect x="328.1" y="1279.6" width="19.8" height="16.8" rx="4.6"/><rect x="353" y="1279.6" width="19.8" height="16.8" rx="4.6"/><rect x="377.9" y="1279.6" width="19.8" height="16.8" rx="4.6"/><rect x="402.7" y="1279.6" width="19.8" height="16.8" rx="4.6"/><rect x="427.6" y="1279.6" width="19.8" height="16.8" rx="4.6"/><rect x="452.5" y="1279.6" width="19.8" height="16.8" rx="4.6"/><rect x="340.6" y="1262.3" width="19.8" height="16.8" rx="4.6"/><rect x="365.4" y="1262.3" width="19.8" height="16.8" rx="4.6"/><rect x="390.3" y="1262.3" width="19.8" height="16.8" rx="4.6"/><rect x="415.2" y="1262.3" width="19.8" height="16.8" rx="4.6"/><rect x="440" y="1262.3" width="19.8" height="16.8" rx="4.6"/><rect x="353" y="1245" width="19.8" height="16.8" rx="4.6"/><rect x="377.9" y="1245" width="19.8" height="16.8" rx="4.6"/><rect x="402.7" y="1245" width="19.8" height="16.8" rx="4.6"/><rect x="427.6" y="1245" width="19.8" height="16.8" rx="4.6"/><rect x="365.4" y="1227.7" width="19.8" height="16.8" rx="4.6"/><rect x="390.3" y="1227.7" width="19.8" height="16.8" rx="4.6"/><rect x="415.2" y="1227.7" width="19.8" height="16.8" rx="4.6"/><rect x="377.9" y="1210.3" width="19.8" height="16.8" rx="4.6"/><rect x="402.7" y="1210.3" width="19.8" height="16.8" rx="4.6"/><rect x="390.3" y="1193" width="19.8" height="16.8" rx="4.6"/></g>
<g fill="#AF7C0C" filter="url(#blur1)"><rect x="179.6" y="1592.2" width="18.4" height="15.4" rx="4.6" opacity="0.89"/><rect x="204.5" y="1592.2" width="18.4" height="15.4" rx="4.6" opacity="0.86"/><rect x="229.3" y="1592.2" width="18.4" height="15.4" rx="4.6" opacity="0.83"/><rect x="254.2" y="1592.2" width="18.4" height="15.4" rx="4.6" opacity="0.80"/><rect x="279.1" y="1592.2" width="18.4" height="15.4" rx="4.6" opacity="0.77"/><rect x="304" y="1592.2" width="18.4" height="15.4" rx="4.6" opacity="0.73"/><rect x="328.8" y="1592.2" width="18.4" height="15.4" rx="4.6" opacity="0.70"/><rect x="353.7" y="1592.2" width="18.4" height="15.4" rx="4.6" opacity="0.66"/><rect x="378.6" y="1592.2" width="18.4" height="15.4" rx="4.6" opacity="0.62"/><rect x="403.4" y="1592.2" width="18.4" height="15.4" rx="4.6" opacity="0.50"/><rect x="428.3" y="1592.2" width="18.4" height="15.4" rx="4.6" opacity="0.53"/><rect x="453.2" y="1592.2" width="18.4" height="15.4" rx="4.6" opacity="0.57"/><rect x="478" y="1592.2" width="18.4" height="15.4" rx="4.6" opacity="0.61"/><rect x="502.9" y="1592.2" width="18.4" height="15.4" rx="4.6" opacity="0.64"/><rect x="527.8" y="1592.2" width="18.4" height="15.4" rx="4.6" opacity="0.68"/><rect x="552.7" y="1592.2" width="18.4" height="15.4" rx="4.6" opacity="0.72"/><rect x="577.5" y="1592.2" width="18.4" height="15.4" rx="4.6" opacity="0.75"/><rect x="602.4" y="1592.2" width="18.4" height="15.4" rx="4.6" opacity="0.78"/><rect x="627.3" y="1592.2" width="18.4" height="15.4" rx="4.6" opacity="0.82"/><rect x="316.4" y="1574.9" width="18.4" height="15.4" rx="4.6" opacity="0.89"/><rect x="341.3" y="1574.9" width="18.4" height="15.4" rx="4.6" opacity="0.86"/><rect x="366.1" y="1574.9" width="18.4" height="15.4" rx="4.6" opacity="0.83"/><rect x="391" y="1574.9" width="18.4" height="15.4" rx="4.6" opacity="0.80"/><rect x="415.9" y="1574.9" width="18.4" height="15.4" rx="4.6" opacity="0.57"/><rect x="440.7" y="1574.9" width="18.4" height="15.4" rx="4.6" opacity="0.61"/><rect x="465.6" y="1574.9" width="18.4" height="15.4" rx="4.6" opacity="0.64"/><rect x="490.5" y="1574.9" width="18.4" height="15.4" rx="4.6" opacity="0.68"/><rect x="515.3" y="1574.9" width="18.4" height="15.4" rx="4.6" opacity="0.72"/><rect x="540.2" y="1574.9" width="18.4" height="15.4" rx="4.6" opacity="0.75"/><rect x="565.1" y="1574.9" width="18.4" height="15.4" rx="4.6" opacity="0.78"/><rect x="590" y="1574.9" width="18.4" height="15.4" rx="4.6" opacity="0.82"/><rect x="614.8" y="1574.9" width="18.4" height="15.4" rx="4.6" opacity="0.85"/><rect x="403.4" y="1557.5" width="18.4" height="15.4" rx="4.6" opacity="0.61"/><rect x="428.3" y="1557.5" width="18.4" height="15.4" rx="4.6" opacity="0.64"/><rect x="453.2" y="1557.5" width="18.4" height="15.4" rx="4.6" opacity="0.68"/><rect x="478" y="1557.5" width="18.4" height="15.4" rx="4.6" opacity="0.72"/><rect x="502.9" y="1557.5" width="18.4" height="15.4" rx="4.6" opacity="0.75"/><rect x="527.8" y="1557.5" width="18.4" height="15.4" rx="4.6" opacity="0.78"/><rect x="552.7" y="1557.5" width="18.4" height="15.4" rx="4.6" opacity="0.82"/><rect x="577.5" y="1557.5" width="18.4" height="15.4" rx="4.6" opacity="0.85"/><rect x="602.4" y="1557.5" width="18.4" height="15.4" rx="4.6" opacity="0.87"/><rect x="415.9" y="1540.2" width="18.4" height="15.4" rx="4.6" opacity="0.68"/><rect x="440.7" y="1540.2" width="18.4" height="15.4" rx="4.6" opacity="0.72"/><rect x="465.6" y="1540.2" width="18.4" height="15.4" rx="4.6" opacity="0.75"/><rect x="490.5" y="1540.2" width="18.4" height="15.4" rx="4.6" opacity="0.78"/><rect x="515.3" y="1540.2" width="18.4" height="15.4" rx="4.6" opacity="0.82"/><rect x="540.2" y="1540.2" width="18.4" height="15.4" rx="4.6" opacity="0.85"/><rect x="565.1" y="1540.2" width="18.4" height="15.4" rx="4.6" opacity="0.87"/><rect x="590" y="1540.2" width="18.4" height="15.4" rx="4.6" opacity="0.90"/><rect x="403.4" y="1522.9" width="18.4" height="15.4" rx="4.6" opacity="0.72"/><rect x="428.3" y="1522.9" width="18.4" height="15.4" rx="4.6" opacity="0.75"/><rect x="453.2" y="1522.9" width="18.4" height="15.4" rx="4.6" opacity="0.78"/><rect x="478" y="1522.9" width="18.4" height="15.4" rx="4.6" opacity="0.82"/><rect x="502.9" y="1522.9" width="18.4" height="15.4" rx="4.6" opacity="0.85"/><rect x="527.8" y="1522.9" width="18.4" height="15.4" rx="4.6" opacity="0.87"/><rect x="552.7" y="1522.9" width="18.4" height="15.4" rx="4.6" opacity="0.90"/></g>
<g fill="#AF7C0C" filter="url(#blur2)"><rect x="154.7" y="1592.2" width="18.4" height="15.4" rx="4.6" opacity="0.91"/><rect x="167.2" y="1574.9" width="18.4" height="15.4" rx="4.6" opacity="0.98"/><rect x="192" y="1574.9" width="18.4" height="15.4" rx="4.6" opacity="0.97"/><rect x="216.9" y="1574.9" width="18.4" height="15.4" rx="4.6" opacity="0.96"/><rect x="241.8" y="1574.9" width="18.4" height="15.4" rx="4.6" opacity="0.95"/><rect x="266.7" y="1574.9" width="18.4" height="15.4" rx="4.6" opacity="0.93"/><rect x="291.5" y="1574.9" width="18.4" height="15.4" rx="4.6" opacity="0.91"/><rect x="328.8" y="1557.5" width="18.4" height="15.4" rx="4.6" opacity="1.00"/><rect x="353.7" y="1557.5" width="18.4" height="15.4" rx="4.6" opacity="0.99"/><rect x="378.6" y="1557.5" width="18.4" height="15.4" rx="4.6" opacity="0.99"/><rect x="577.5" y="1522.9" width="18.4" height="15.4" rx="4.6" opacity="0.92"/><rect x="415.9" y="1505.6" width="18.4" height="15.4" rx="4.6" opacity="0.97"/><rect x="440.7" y="1505.6" width="18.4" height="15.4" rx="4.6" opacity="0.98"/><rect x="465.6" y="1505.6" width="18.4" height="15.4" rx="4.6" opacity="0.98"/><rect x="490.5" y="1505.6" width="18.4" height="15.4" rx="4.6" opacity="0.99"/><rect x="515.3" y="1505.6" width="18.4" height="15.4" rx="4.6" opacity="0.99"/></g>
<g fill="#03028A"><rect x="390.3" y="1591.5" width="305.8" height="16.8" rx="4.6"/><rect x="377.9" y="1574.2" width="293.4" height="16.8" rx="4.6"/><rect x="365.4" y="1556.8" width="218.8" height="16.8" rx="4.6"/><rect x="353" y="1539.5" width="206.3" height="16.8" rx="4.6"/><rect x="340.6" y="1522.2" width="181.5" height="16.8" rx="4.6"/><rect x="328.1" y="1504.9" width="169" height="16.8" rx="4.6"/><rect x="315.7" y="1487.5" width="156.6" height="16.8" rx="4.6"/><rect x="303.3" y="1470.2" width="144.1" height="16.8" rx="4.6"/><rect x="290.8" y="1452.9" width="131.7" height="16.8" rx="4.6"/><rect x="278.4" y="1435.6" width="131.7" height="16.8" rx="4.6"/><rect x="266" y="1418.2" width="144.1" height="16.8" rx="4.6"/><rect x="253.5" y="1400.9" width="131.7" height="16.8" rx="4.6"/><rect x="241.1" y="1383.6" width="119.3" height="16.8" rx="4.6"/><rect x="228.6" y="1366.3" width="106.8" height="16.8" rx="4.6"/><rect x="216.2" y="1348.9" width="106.8" height="16.8" rx="4.6"/><rect x="203.8" y="1331.6" width="94.4" height="16.8" rx="4.6"/><rect x="191.3" y="1314.3" width="82" height="16.8" rx="4.6"/><rect x="178.9" y="1297" width="69.5" height="16.8" rx="4.6"/><rect x="166.5" y="1279.6" width="57.1" height="16.8" rx="4.6"/><rect x="154" y="1262.3" width="44.7" height="16.8" rx="4.6"/><rect x="141.6" y="1245" width="32.2" height="16.8" rx="4.6"/><rect x="129.2" y="1227.7" width="32.2" height="16.8" rx="4.6"/><rect x="116.7" y="1210.3" width="32.2" height="16.8" rx="4.6"/><rect x="104.3" y="1193" width="19.8" height="16.8" rx="4.6"/></g>
<g fill="#03028A" filter="url(#blur1)"><rect x="577.5" y="1557.5" width="68.1" height="15.4" rx="4.6" fill="url(#gE0)"/><rect x="552.7" y="1540.2" width="68.1" height="15.4" rx="4.6" fill="url(#gE1)"/><rect x="515.3" y="1522.9" width="80.6" height="15.4" rx="4.6" fill="url(#gE2)"/><rect x="490.5" y="1505.6" width="80.6" height="15.4" rx="4.6" fill="url(#gE3)"/><rect x="465.6" y="1488.2" width="80.6" height="15.4" rx="4.6" fill="url(#gE4)"/><rect x="440.7" y="1470.9" width="80.6" height="15.4" rx="4.6" fill="url(#gE5)"/><rect x="415.9" y="1453.6" width="80.6" height="15.4" rx="4.6" fill="url(#gE6)"/><rect x="403.4" y="1436.3" width="68.1" height="15.4" rx="4.6" fill="url(#gE7)"/><rect x="403.4" y="1418.9" width="43.3" height="15.4" rx="4.6" fill="url(#gE8)"/><rect x="378.6" y="1401.6" width="43.3" height="15.4" rx="4.6" fill="url(#gE9)"/><rect x="353.7" y="1384.3" width="43.3" height="15.4" rx="4.6" fill="url(#gE10)"/><rect x="328.8" y="1367" width="43.3" height="15.4" rx="4.6" fill="url(#gE11)"/><rect x="316.4" y="1349.6" width="30.8" height="15.4" rx="4.6" fill="url(#gE12)"/><rect x="291.5" y="1332.3" width="30.8" height="15.4" rx="4.6" fill="url(#gE13)"/><rect x="266.7" y="1315" width="30.8" height="15.4" rx="4.6" fill="url(#gE14)"/><rect x="241.8" y="1297.7" width="30.8" height="15.4" rx="4.6" fill="url(#gE15)"/><rect x="216.9" y="1280.3" width="30.8" height="15.4" rx="4.6" fill="url(#gE16)"/><rect x="192" y="1263" width="30.8" height="15.4" rx="4.6" fill="url(#gE17)"/><rect x="167.2" y="1245.7" width="30.8" height="15.4" rx="4.6" fill="url(#gE18)"/></g>
<g fill="#03028A" filter="url(#blur2)"><rect x="154.7" y="1228.4" width="18.4" height="15.4" rx="4.6" opacity="0.91"/></g>
<g fill="#FC0000"><rect x="104.3" y="1591.5" width="305.8" height="16.8" rx="4.6"/><rect x="129.2" y="1574.2" width="293.4" height="16.8" rx="4.6"/><rect x="178.9" y="1556.8" width="256.1" height="16.8" rx="4.6"/><rect x="203.8" y="1539.5" width="243.6" height="16.8" rx="4.6"/><rect x="228.6" y="1522.2" width="231.2" height="16.8" rx="4.6"/><rect x="253.5" y="1504.9" width="218.8" height="16.8" rx="4.6"/><rect x="278.4" y="1487.5" width="206.3" height="16.8" rx="4.6"/><rect x="303.3" y="1470.2" width="193.9" height="16.8" rx="4.6"/><rect x="340.6" y="1452.9" width="169" height="16.8" rx="4.6"/><rect x="365.4" y="1435.6" width="156.6" height="16.8" rx="4.6"/><rect x="390.3" y="1418.2" width="19.8" height="16.8" rx="4.6"/><rect x="427.6" y="1418.2" width="106.8" height="16.8" rx="4.6"/><rect x="452.5" y="1400.9" width="94.4" height="16.8" rx="4.6"/><rect x="477.3" y="1383.6" width="82" height="16.8" rx="4.6"/><rect x="502.2" y="1366.3" width="69.5" height="16.8" rx="4.6"/><rect x="527.1" y="1348.9" width="57.1" height="16.8" rx="4.6"/><rect x="539.5" y="1331.6" width="57.1" height="16.8" rx="4.6"/><rect x="564.4" y="1314.3" width="44.7" height="16.8" rx="4.6"/><rect x="589.3" y="1297" width="32.2" height="16.8" rx="4.6"/><rect x="601.7" y="1279.6" width="32.2" height="16.8" rx="4.6"/><rect x="614.1" y="1262.3" width="32.2" height="16.8" rx="4.6"/><rect x="626.6" y="1245" width="32.2" height="16.8" rx="4.6"/><rect x="639" y="1227.7" width="32.2" height="16.8" rx="4.6"/><rect x="651.4" y="1210.3" width="32.2" height="16.8" rx="4.6"/><rect x="676.3" y="1193" width="19.8" height="16.8" rx="4.6"/></g>
<g fill="#FC0000" filter="url(#blur1)"><rect x="179.6" y="1540.2" width="30.8" height="15.4" rx="4.6" fill="url(#gE20)"/><rect x="204.5" y="1522.9" width="30.8" height="15.4" rx="4.6" fill="url(#gE21)"/><rect x="229.3" y="1505.6" width="30.8" height="15.4" rx="4.6" fill="url(#gE22)"/><rect x="254.2" y="1488.2" width="30.8" height="15.4" rx="4.6" fill="url(#gE23)"/><rect x="279.1" y="1470.9" width="30.8" height="15.4" rx="4.6" fill="url(#gE24)"/><rect x="304" y="1453.6" width="43.3" height="15.4" rx="4.6" fill="url(#gE25)"/><rect x="328.8" y="1436.3" width="43.3" height="15.4" rx="4.6" fill="url(#gE26)"/><rect x="353.7" y="1418.9" width="43.3" height="15.4" rx="4.6" fill="url(#gE27)"/><rect x="403.4" y="1418.9" width="30.8" height="15.4" rx="4.6" fill="url(#gE28)"/><rect x="378.6" y="1401.6" width="80.6" height="15.4" rx="4.6" fill="url(#gE29)"/><rect x="403.4" y="1384.3" width="80.6" height="15.4" rx="4.6" fill="url(#gE30)"/><rect x="428.3" y="1367" width="80.6" height="15.4" rx="4.6" fill="url(#gE31)"/><rect x="453.2" y="1349.6" width="80.6" height="15.4" rx="4.6" fill="url(#gE32)"/><rect x="478" y="1332.3" width="68.1" height="15.4" rx="4.6" fill="url(#gE33)"/><rect x="502.9" y="1315" width="68.1" height="15.4" rx="4.6" fill="url(#gE34)"/><rect x="527.8" y="1297.7" width="68.1" height="15.4" rx="4.6" fill="url(#gE35)"/><rect x="552.7" y="1280.3" width="55.7" height="15.4" rx="4.6" fill="url(#gE36)"/><rect x="577.5" y="1263" width="43.3" height="15.4" rx="4.6" fill="url(#gE37)"/><rect x="602.4" y="1245.7" width="30.8" height="15.4" rx="4.6" fill="url(#gE38)"/><rect x="627.3" y="1228.4" width="18.4" height="15.4" rx="4.6" opacity="0.82"/></g>
<g fill="#FC0000" filter="url(#blur2)"><rect x="154.7" y="1557.5" width="30.8" height="15.4" rx="4.6" fill="url(#gE19)"/></g>

<polyline points="114.2,1599.9 119.9,1592 125.6,1584.3 131.4,1576.7 137.1,1569.3 142.8,1562 148.5,1554.9 154.2,1548 160,1541.2 165.7,1534.6 171.4,1528.2 177.1,1521.9 182.8,1515.7 188.6,1509.8 194.3,1503.9 200,1498.3 205.7,1492.8 211.4,1487.4 217.2,1482.3 222.9,1477.2 228.6,1472.4 234.3,1467.7 240,1463.1 245.8,1458.8 251.5,1454.5 257.2,1450.5 262.9,1446.6 268.6,1442.8 274.4,1439.2 280.1,1435.8 285.8,1432.5 291.5,1429.4 297.2,1426.5 303,1423.7 308.7,1421.1 314.4,1418.6 320.1,1416.3 325.8,1414.1 331.6,1412.1 337.3,1410.3 343,1408.6 348.7,1407.1 354.4,1405.8 360.2,1404.6 365.9,1403.5 371.6,1402.6 377.3,1401.9 383,1401.4 388.8,1401 394.5,1400.7 400.2,1400.7 405.9,1400.7 411.6,1401 417.4,1401.4 423.1,1401.9 428.8,1402.6 434.5,1403.5 440.2,1404.6 446,1405.8 451.7,1407.1 457.4,1408.6 463.1,1410.3 468.8,1412.1 474.6,1414.1 480.3,1416.3 486,1418.6 491.7,1421.1 497.4,1423.7 503.2,1426.5 508.9,1429.4 514.6,1432.5 520.3,1435.8 526,1439.2 531.8,1442.8 537.5,1446.6 543.2,1450.5 548.9,1454.5 554.6,1458.8 560.4,1463.1 566.1,1467.7 571.8,1472.4 577.5,1477.2 583.2,1482.3 589,1487.4 594.7,1492.8 600.4,1498.3 606.1,1503.9 611.8,1509.8 617.6,1515.7 623.3,1521.9 629,1528.2 634.7,1534.6 640.4,1541.2 646.2,1548 651.9,1554.9 657.6,1562 663.3,1569.3 669,1576.7 674.8,1584.3 680.5,1592 686.2,1599.9" fill="none" stroke="#B8860B" stroke-width="1.7"/>
<polyline points="114.2,1201.4 119.9,1209.3 125.6,1217.2 131.4,1225 137.1,1232.6 142.8,1240.3 148.5,1247.8 154.2,1255.2 160,1262.6 165.7,1269.9 171.4,1277.1 177.1,1284.2 182.8,1291.3 188.6,1298.3 194.3,1305.2 200,1312 205.7,1318.7 211.4,1325.4 217.2,1331.9 222.9,1338.4 228.6,1344.9 234.3,1351.2 240,1357.5 245.8,1363.6 251.5,1369.7 257.2,1375.7 262.9,1381.7 268.6,1387.5 274.4,1393.3 280.1,1399 285.8,1404.6 291.5,1410.2 297.2,1415.6 303,1421 308.7,1426.3 314.4,1431.5 320.1,1436.7 325.8,1441.7 331.6,1446.7 337.3,1451.6 343,1456.4 348.7,1461.2 354.4,1465.8 360.2,1470.4 365.9,1474.9 371.6,1479.4 377.3,1483.7 383,1488 388.8,1492.1 394.5,1496.3 400.2,1500.3 405.9,1504.2 411.6,1508.1 417.4,1511.9 423.1,1515.6 428.8,1519.2 434.5,1522.8 440.2,1526.2 446,1529.6 451.7,1532.9 457.4,1536.1 463.1,1539.3 468.8,1542.4 474.6,1545.3 480.3,1548.3 486,1551.1 491.7,1553.8 497.4,1556.5 503.2,1559.1 508.9,1561.6 514.6,1564 520.3,1566.4 526,1568.7 531.8,1570.8 537.5,1573 543.2,1575 548.9,1576.9 554.6,1578.8 560.4,1580.6 566.1,1582.3 571.8,1584 577.5,1585.5 583.2,1587 589,1588.4 594.7,1589.7 600.4,1590.9 606.1,1592.1 611.8,1593.2 617.6,1594.2 623.3,1595.1 629,1595.9 634.7,1596.7 640.4,1597.3 646.2,1597.9 651.9,1598.5 657.6,1598.9 663.3,1599.3 669,1599.5 674.8,1599.7 680.5,1599.9 686.2,1599.9" fill="none" stroke="#00008B" stroke-width="1.7"/>
<polyline points="114.2,1599.9 119.9,1599.9 125.6,1599.7 131.4,1599.5 137.1,1599.3 142.8,1598.9 148.5,1598.5 154.2,1597.9 160,1597.3 165.7,1596.7 171.4,1595.9 177.1,1595.1 182.8,1594.2 188.6,1593.2 194.3,1592.1 200,1590.9 205.7,1589.7 211.4,1588.4 217.2,1587 222.9,1585.5 228.6,1584 234.3,1582.3 240,1580.6 245.8,1578.8 251.5,1576.9 257.2,1575 262.9,1573 268.6,1570.8 274.4,1568.7 280.1,1566.4 285.8,1564 291.5,1561.6 297.2,1559.1 303,1556.5 308.7,1553.8 314.4,1551.1 320.1,1548.3 325.8,1545.3 331.6,1542.4 337.3,1539.3 343,1536.1 348.7,1532.9 354.4,1529.6 360.2,1526.2 365.9,1522.8 371.6,1519.2 377.3,1515.6 383,1511.9 388.8,1508.1 394.5,1504.2 400.2,1500.3 405.9,1496.3 411.6,1492.1 417.4,1488 423.1,1483.7 428.8,1479.4 434.5,1474.9 440.2,1470.4 446,1465.8 451.7,1461.2 457.4,1456.4 463.1,1451.6 468.8,1446.7 474.6,1441.7 480.3,1436.7 486,1431.5 491.7,1426.3 497.4,1421 503.2,1415.6 508.9,1410.2 514.6,1404.6 520.3,1399 526,1393.3 531.8,1387.5 537.5,1381.7 543.2,1375.7 548.9,1369.7 554.6,1363.6 560.4,1357.5 566.1,1351.2 571.8,1344.9 577.5,1338.4 583.2,1331.9 589,1325.4 594.7,1318.7 600.4,1312 606.1,1305.2 611.8,1298.3 617.6,1291.3 623.3,1284.2 629,1277.1 634.7,1269.9 640.4,1262.6 646.2,1255.2 651.9,1247.8 657.6,1240.3 663.3,1232.6 669,1225 674.8,1217.2 680.5,1209.3 686.2,1201.4" fill="none" stroke="#FF0000" stroke-width="1.7"/>
</g></svg>
<rect x="79.6" y="1177.6" width="639.3" height="446.3" fill="none" stroke="#333333" stroke-width="1.1"/>
<line x1="114.2" y1="1623.9" x2="114.2" y2="1628.5" stroke="#333333" stroke-width="1.1"/>
<text x="114.2" y="1648.3" text-anchor="middle" fill="#4D4D4D" font-size="22.5">0.00</text>
<line x1="75" y1="1599.9" x2="79.6" y2="1599.9" stroke="#333333" stroke-width="1.1"/>
<text x="71.4" y="1607.9" text-anchor="end" fill="#4D4D4D" font-size="22.5">0.00</text>
<line x1="257.2" y1="1623.9" x2="257.2" y2="1628.5" stroke="#333333" stroke-width="1.1"/>
<text x="257.2" y="1648.3" text-anchor="middle" fill="#4D4D4D" font-size="22.5">0.25</text>
<line x1="75" y1="1500.3" x2="79.6" y2="1500.3" stroke="#333333" stroke-width="1.1"/>
<text x="71.4" y="1508.3" text-anchor="end" fill="#4D4D4D" font-size="22.5">0.25</text>
<line x1="400.2" y1="1623.9" x2="400.2" y2="1628.5" stroke="#333333" stroke-width="1.1"/>
<text x="400.2" y="1648.3" text-anchor="middle" fill="#4D4D4D" font-size="22.5">0.50</text>
<line x1="75" y1="1400.7" x2="79.6" y2="1400.7" stroke="#333333" stroke-width="1.1"/>
<text x="71.4" y="1408.7" text-anchor="end" fill="#4D4D4D" font-size="22.5">0.50</text>
<line x1="543.2" y1="1623.9" x2="543.2" y2="1628.5" stroke="#333333" stroke-width="1.1"/>
<text x="543.2" y="1648.3" text-anchor="middle" fill="#4D4D4D" font-size="22.5">0.75</text>
<line x1="75" y1="1301" x2="79.6" y2="1301" stroke="#333333" stroke-width="1.1"/>
<text x="71.4" y="1309" text-anchor="end" fill="#4D4D4D" font-size="22.5">0.75</text>
<line x1="686.2" y1="1623.9" x2="686.2" y2="1628.5" stroke="#333333" stroke-width="1.1"/>
<text x="686.2" y="1648.3" text-anchor="middle" fill="#4D4D4D" font-size="22.5">1.00</text>
<line x1="75" y1="1201.4" x2="79.6" y2="1201.4" stroke="#333333" stroke-width="1.1"/>
<text x="71.4" y="1209.4" text-anchor="end" fill="#4D4D4D" font-size="22.5">1.00</text>
<text x="399.2" y="1674.5" text-anchor="middle" font-size="22.5">alt allele frequency</text>
<text transform="translate(18.6,1400.8) rotate(-90)" x="0" y="0" text-anchor="middle" font-size="22.5">genotype frequency</text>
<text x="79.6" y="1163.8" font-size="22.5">2019 F1s, all SNPs</text>
<text x="4.6" y="1155.9" font-size="29.5" font-weight="bold">E</text>
</g>
<g id="pF">
<svg x="831.6" y="1177.6" width="640.6" height="446" overflow="hidden"><g transform="translate(-831.6,-1177.6)">
<line x1="937.6" y1="1177.6" x2="937.6" y2="1623.6" stroke="#EBEBEB" stroke-width="0.7"/>
<line x1="831.6" y1="1550" x2="1472.2" y2="1550" stroke="#EBEBEB" stroke-width="0.7"/>
<line x1="1081.4" y1="1177.6" x2="1081.4" y2="1623.6" stroke="#EBEBEB" stroke-width="0.7"/>
<line x1="831.6" y1="1450.2" x2="1472.2" y2="1450.2" stroke="#EBEBEB" stroke-width="0.7"/>
<line x1="1225.2" y1="1177.6" x2="1225.2" y2="1623.6" stroke="#EBEBEB" stroke-width="0.7"/>
<line x1="831.6" y1="1350.5" x2="1472.2" y2="1350.5" stroke="#EBEBEB" stroke-width="0.7"/>
<line x1="1369" y1="1177.6" x2="1369" y2="1623.6" stroke="#EBEBEB" stroke-width="0.7"/>
<line x1="831.6" y1="1250.8" x2="1472.2" y2="1250.8" stroke="#EBEBEB" stroke-width="0.7"/>
<line x1="865.7" y1="1177.6" x2="865.7" y2="1623.6" stroke="#EBEBEB" stroke-width="1.4"/>
<line x1="831.6" y1="1599.8" x2="1472.2" y2="1599.8" stroke="#EBEBEB" stroke-width="1.4"/>
<line x1="1009.5" y1="1177.6" x2="1009.5" y2="1623.6" stroke="#EBEBEB" stroke-width="1.4"/>
<line x1="831.6" y1="1500.1" x2="1472.2" y2="1500.1" stroke="#EBEBEB" stroke-width="1.4"/>
<line x1="1153.3" y1="1177.6" x2="1153.3" y2="1623.6" stroke="#EBEBEB" stroke-width="1.4"/>
<line x1="831.6" y1="1400.4" x2="1472.2" y2="1400.4" stroke="#EBEBEB" stroke-width="1.4"/>
<line x1="1297.1" y1="1177.6" x2="1297.1" y2="1623.6" stroke="#EBEBEB" stroke-width="1.4"/>
<line x1="831.6" y1="1300.7" x2="1472.2" y2="1300.7" stroke="#EBEBEB" stroke-width="1.4"/>
<line x1="1440.9" y1="1177.6" x2="1440.9" y2="1623.6" stroke="#EBEBEB" stroke-width="1.4"/>
<line x1="831.6" y1="1201" x2="1472.2" y2="1201" stroke="#EBEBEB" stroke-width="1.4"/>

<g fill="#AF7C0C"><rect x="869.2" y="1575.0" width="18" height="15" rx="4.6"/></g>
<g fill="#AF7C0C" fill-opacity="0.11" stroke="#AF7C0C" stroke-opacity="0.11" stroke-width="1"><circle cx="874.8" cy="1581.7" r="3.6"/><circle cx="877.2" cy="1585.7" r="3.6"/><circle cx="881.2" cy="1581.6" r="3.6"/><circle cx="879.8" cy="1586.2" r="3.6"/><circle cx="877.0" cy="1585.2" r="3.6"/><circle cx="875.2" cy="1584.9" r="3.6"/><circle cx="884.0" cy="1582.8" r="3.6"/><circle cx="883.1" cy="1585.0" r="3.6"/><circle cx="1431.3" cy="1581.7" r="3.6"/><circle cx="1426.6" cy="1579.2" r="3.6"/><circle cx="1430.9" cy="1586.1" r="3.6"/><circle cx="1431.4" cy="1584.5" r="3.6"/><circle cx="1430.2" cy="1579.3" r="3.6"/><circle cx="1433.9" cy="1585.6" r="3.6"/><circle cx="1425.7" cy="1583.2" r="3.6"/><circle cx="1428.8" cy="1585.4" r="3.6"/><circle cx="1427.9" cy="1584.6" r="3.6"/><circle cx="1422.6" cy="1579.2" r="3.6"/><circle cx="1424.8" cy="1581.7" r="3.6"/><circle cx="1425.7" cy="1581.7" r="3.6"/><circle cx="1426.9" cy="1584.6" r="3.6"/><circle cx="973.0" cy="1446.5" r="3.6"/><circle cx="990.3" cy="1459.3" r="3.6"/><circle cx="928.6" cy="1510.2" r="3.6"/><circle cx="926.4" cy="1516.3" r="3.6"/><circle cx="911.2" cy="1528.7" r="3.6"/><circle cx="914.5" cy="1532.6" r="3.6"/><circle cx="919.9" cy="1530.4" r="3.6"/><circle cx="936.1" cy="1533.6" r="3.6"/><circle cx="943.7" cy="1532.6" r="3.6"/><circle cx="898.2" cy="1545.6" r="3.6"/><circle cx="900.4" cy="1545.6" r="3.6"/><circle cx="905.8" cy="1546.6" r="3.6"/><circle cx="908.0" cy="1551.0" r="3.6"/><circle cx="902.5" cy="1547.7" r="3.6"/><circle cx="927.5" cy="1547.3" r="3.6"/><circle cx="885.2" cy="1561.8" r="3.6"/><circle cx="889.5" cy="1562.9" r="3.6"/><circle cx="893.9" cy="1566.2" r="3.6"/><circle cx="896.0" cy="1562.9" r="3.6"/><circle cx="902.5" cy="1582.4" r="3.6"/><circle cx="1428.1" cy="1582.8" r="3.6"/><circle cx="1425.9" cy="1581.7" r="3.6"/><circle cx="1430.2" cy="1583.8" r="3.6"/><circle cx="1427.0" cy="1584.9" r="3.6"/><circle cx="1429.1" cy="1580.6" r="3.6"/><circle cx="1424.8" cy="1583.2" r="3.6"/><circle cx="1431.3" cy="1582.3" r="3.6"/><circle cx="1427.6" cy="1585.4" r="3.6"/><circle cx="1410.6" cy="1563.1" r="3.6"/></g>
<g fill="#03028A"><rect x="869.2" y="1210.8" width="18" height="15" rx="4.6"/></g>
<g fill="#03028A" fill-opacity="0.11" stroke="#03028A" stroke-opacity="0.11" stroke-width="1"><circle cx="861.0" cy="1202.1" r="3.6"/><circle cx="868.2" cy="1200.9" r="3.6"/><circle cx="871.3" cy="1196.9" r="3.6"/><circle cx="867.1" cy="1201.6" r="3.6"/><circle cx="869.4" cy="1202.2" r="3.6"/><circle cx="866.3" cy="1203.8" r="3.6"/><circle cx="869.1" cy="1202.2" r="3.6"/><circle cx="861.8" cy="1200.5" r="3.6"/><circle cx="865.8" cy="1198.7" r="3.6"/><circle cx="860.7" cy="1202.0" r="3.6"/><circle cx="869.6" cy="1204.4" r="3.6"/><circle cx="866.5" cy="1200.9" r="3.6"/><circle cx="868.5" cy="1197.0" r="3.6"/><circle cx="862.1" cy="1197.1" r="3.6"/><circle cx="866.9" cy="1202.8" r="3.6"/><circle cx="868.0" cy="1203.5" r="3.6"/><circle cx="860.5" cy="1203.0" r="3.6"/><circle cx="862.3" cy="1204.5" r="3.6"/><circle cx="864.7" cy="1204.4" r="3.6"/><circle cx="866.0" cy="1205.2" r="3.6"/><circle cx="865.5" cy="1198.2" r="3.6"/><circle cx="868.9" cy="1196.8" r="3.6"/><circle cx="860.3" cy="1203.4" r="3.6"/><circle cx="862.2" cy="1203.0" r="3.6"/><circle cx="860.7" cy="1197.7" r="3.6"/><circle cx="867.5" cy="1198.5" r="3.6"/><circle cx="868.6" cy="1203.0" r="3.6"/><circle cx="864.8" cy="1202.4" r="3.6"/><circle cx="867.7" cy="1202.0" r="3.6"/><circle cx="865.9" cy="1205.0" r="3.6"/><circle cx="860.6" cy="1198.7" r="3.6"/><circle cx="860.5" cy="1199.5" r="3.6"/><circle cx="866.7" cy="1198.1" r="3.6"/><circle cx="869.0" cy="1199.8" r="3.6"/><circle cx="870.9" cy="1197.4" r="3.6"/><circle cx="860.2" cy="1202.2" r="3.6"/><circle cx="865.0" cy="1197.8" r="3.6"/><circle cx="865.6" cy="1203.3" r="3.6"/><circle cx="863.2" cy="1200.3" r="3.6"/><circle cx="864.4" cy="1200.4" r="3.6"/><circle cx="860.8" cy="1203.4" r="3.6"/><circle cx="870.3" cy="1203.9" r="3.6"/><circle cx="864.0" cy="1200.0" r="3.6"/><circle cx="863.0" cy="1201.4" r="3.6"/><circle cx="862.3" cy="1204.2" r="3.6"/><circle cx="869.6" cy="1201.4" r="3.6"/><circle cx="869.8" cy="1201.5" r="3.6"/><circle cx="867.8" cy="1201.0" r="3.6"/><circle cx="871.0" cy="1204.3" r="3.6"/><circle cx="866.8" cy="1199.1" r="3.6"/><circle cx="868.8" cy="1203.3" r="3.6"/><circle cx="860.6" cy="1198.2" r="3.6"/><circle cx="868.6" cy="1203.4" r="3.6"/><circle cx="863.0" cy="1202.9" r="3.6"/><circle cx="882.4" cy="1216.4" r="3.6"/><circle cx="879.7" cy="1217.2" r="3.6"/><circle cx="877.1" cy="1215.4" r="3.6"/><circle cx="876.0" cy="1219.2" r="3.6"/><circle cx="874.9" cy="1218.6" r="3.6"/><circle cx="881.4" cy="1216.9" r="3.6"/><circle cx="878.9" cy="1214.7" r="3.6"/><circle cx="874.7" cy="1216.2" r="3.6"/><circle cx="1431.9" cy="1602.3" r="3.6"/><circle cx="1424.7" cy="1596.3" r="3.6"/><circle cx="1431.2" cy="1597.2" r="3.6"/><circle cx="1423.1" cy="1597.9" r="3.6"/><circle cx="1425.8" cy="1600.5" r="3.6"/><circle cx="1428.3" cy="1602.3" r="3.6"/><circle cx="1428.3" cy="1602.7" r="3.6"/><circle cx="1433.4" cy="1599.8" r="3.6"/><circle cx="1427.1" cy="1603.9" r="3.6"/><circle cx="1425.9" cy="1602.3" r="3.6"/><circle cx="1430.2" cy="1603.7" r="3.6"/><circle cx="1429.0" cy="1596.7" r="3.6"/><circle cx="1433.2" cy="1598.6" r="3.6"/><circle cx="1424.1" cy="1596.8" r="3.6"/><circle cx="1423.7" cy="1600.0" r="3.6"/><circle cx="1428.8" cy="1602.9" r="3.6"/><circle cx="1426.5" cy="1604.0" r="3.6"/><circle cx="1427.3" cy="1603.7" r="3.6"/><circle cx="896.0" cy="1231.2" r="3.6"/><circle cx="886.3" cy="1235.5" r="3.6"/><circle cx="885.2" cy="1238.8" r="3.6"/><circle cx="893.9" cy="1235.5" r="3.6"/><circle cx="901.5" cy="1238.4" r="3.6"/><circle cx="898.2" cy="1250.7" r="3.6"/><circle cx="902.5" cy="1248.5" r="3.6"/><circle cx="905.8" cy="1252.9" r="3.6"/><circle cx="909.0" cy="1252.9" r="3.6"/><circle cx="897.1" cy="1256.1" r="3.6"/><circle cx="900.4" cy="1254.0" r="3.6"/><circle cx="903.6" cy="1251.8" r="3.6"/><circle cx="911.2" cy="1271.3" r="3.6"/><circle cx="915.6" cy="1273.5" r="3.6"/><circle cx="926.4" cy="1269.8" r="3.6"/><circle cx="928.6" cy="1286.5" r="3.6"/><circle cx="928.6" cy="1289.3" r="3.6"/><circle cx="937.2" cy="1288.7" r="3.6"/><circle cx="943.7" cy="1291.3" r="3.6"/><circle cx="978.4" cy="1360.6" r="3.6"/><circle cx="995.8" cy="1353.7" r="3.6"/><circle cx="1428.1" cy="1600.2" r="3.6"/><circle cx="1425.9" cy="1599.1" r="3.6"/><circle cx="1430.2" cy="1601.3" r="3.6"/><circle cx="1427.0" cy="1602.4" r="3.6"/><circle cx="1429.1" cy="1598.5" r="3.6"/><circle cx="1424.8" cy="1600.6" r="3.6"/><circle cx="1431.3" cy="1599.8" r="3.6"/><circle cx="1432.4" cy="1602.4" r="3.6"/><circle cx="1423.7" cy="1602.0" r="3.6"/><circle cx="1427.6" cy="1597.6" r="3.6"/><circle cx="1420.4" cy="1580.6" r="3.6"/><circle cx="1443.3" cy="1596.9" r="3.6"/><circle cx="1419.3" cy="1603.5" r="3.6"/><circle cx="1434.6" cy="1603.5" r="3.6"/><circle cx="1411.7" cy="1600.2" r="3.6"/></g>
<g fill="#FC0000"><rect x="869.2" y="1592.3" width="18" height="15" rx="4.6"/></g>
<g fill="#FC0000" fill-opacity="0.11" stroke="#FC0000" stroke-opacity="0.11" stroke-width="1"><circle cx="870.7" cy="1601.7" r="3.6"/><circle cx="860.8" cy="1597.8" r="3.6"/><circle cx="861.1" cy="1597.6" r="3.6"/><circle cx="860.2" cy="1599.0" r="3.6"/><circle cx="868.1" cy="1599.6" r="3.6"/><circle cx="869.7" cy="1600.6" r="3.6"/><circle cx="866.4" cy="1602.3" r="3.6"/><circle cx="865.7" cy="1601.7" r="3.6"/><circle cx="869.0" cy="1603.4" r="3.6"/><circle cx="864.4" cy="1597.0" r="3.6"/><circle cx="862.8" cy="1598.0" r="3.6"/><circle cx="868.7" cy="1602.7" r="3.6"/><circle cx="865.0" cy="1603.8" r="3.6"/><circle cx="870.1" cy="1596.8" r="3.6"/><circle cx="867.6" cy="1600.7" r="3.6"/><circle cx="869.3" cy="1598.5" r="3.6"/><circle cx="870.1" cy="1596.4" r="3.6"/><circle cx="868.4" cy="1598.0" r="3.6"/><circle cx="860.2" cy="1601.8" r="3.6"/><circle cx="866.1" cy="1601.2" r="3.6"/><circle cx="866.8" cy="1598.6" r="3.6"/><circle cx="871.5" cy="1597.2" r="3.6"/><circle cx="861.9" cy="1597.4" r="3.6"/><circle cx="871.0" cy="1601.6" r="3.6"/><circle cx="869.2" cy="1602.8" r="3.6"/><circle cx="864.8" cy="1598.7" r="3.6"/><circle cx="862.9" cy="1602.3" r="3.6"/><circle cx="870.2" cy="1600.9" r="3.6"/><circle cx="864.0" cy="1603.5" r="3.6"/><circle cx="866.7" cy="1597.4" r="3.6"/><circle cx="864.6" cy="1602.0" r="3.6"/><circle cx="868.7" cy="1596.1" r="3.6"/><circle cx="867.8" cy="1596.7" r="3.6"/><circle cx="869.9" cy="1601.9" r="3.6"/><circle cx="867.2" cy="1598.9" r="3.6"/><circle cx="864.6" cy="1603.2" r="3.6"/><circle cx="863.9" cy="1603.7" r="3.6"/><circle cx="864.3" cy="1603.3" r="3.6"/><circle cx="863.2" cy="1600.3" r="3.6"/><circle cx="868.8" cy="1596.1" r="3.6"/><circle cx="871.1" cy="1602.2" r="3.6"/><circle cx="867.9" cy="1599.6" r="3.6"/><circle cx="864.3" cy="1600.2" r="3.6"/><circle cx="866.1" cy="1602.3" r="3.6"/><circle cx="863.3" cy="1603.1" r="3.6"/><circle cx="862.3" cy="1602.2" r="3.6"/><circle cx="862.2" cy="1603.8" r="3.6"/><circle cx="861.1" cy="1598.2" r="3.6"/><circle cx="863.7" cy="1601.7" r="3.6"/><circle cx="863.4" cy="1602.4" r="3.6"/><circle cx="870.2" cy="1597.7" r="3.6"/><circle cx="868.4" cy="1601.8" r="3.6"/><circle cx="864.9" cy="1601.3" r="3.6"/><circle cx="860.1" cy="1596.3" r="3.6"/><circle cx="879.9" cy="1603.0" r="3.6"/><circle cx="874.1" cy="1603.8" r="3.6"/><circle cx="873.7" cy="1603.6" r="3.6"/><circle cx="882.8" cy="1599.5" r="3.6"/><circle cx="872.7" cy="1596.0" r="3.6"/><circle cx="876.9" cy="1599.6" r="3.6"/><circle cx="880.7" cy="1597.9" r="3.6"/><circle cx="876.3" cy="1600.8" r="3.6"/><circle cx="1429.9" cy="1216.9" r="3.6"/><circle cx="1426.1" cy="1217.7" r="3.6"/><circle cx="1422.9" cy="1220.3" r="3.6"/><circle cx="1426.6" cy="1218.9" r="3.6"/><circle cx="1426.0" cy="1221.4" r="3.6"/><circle cx="1432.2" cy="1217.9" r="3.6"/><circle cx="1430.7" cy="1222.3" r="3.6"/><circle cx="1430.0" cy="1217.0" r="3.6"/><circle cx="1427.1" cy="1215.8" r="3.6"/><circle cx="1432.0" cy="1219.2" r="3.6"/><circle cx="1431.1" cy="1219.8" r="3.6"/><circle cx="1430.3" cy="1216.8" r="3.6"/><circle cx="1429.7" cy="1216.1" r="3.6"/><circle cx="902.5" cy="1580.7" r="3.6"/><circle cx="927.5" cy="1584.6" r="3.6"/><circle cx="938.3" cy="1579.2" r="3.6"/><circle cx="945.9" cy="1580.3" r="3.6"/><circle cx="988.8" cy="1585.7" r="3.6"/><circle cx="978.4" cy="1596.5" r="3.6"/><circle cx="902.5" cy="1596.5" r="3.6"/><circle cx="908.0" cy="1598.7" r="3.6"/><circle cx="917.7" cy="1595.4" r="3.6"/><circle cx="926.4" cy="1596.5" r="3.6"/><circle cx="931.8" cy="1603.0" r="3.6"/><circle cx="914.5" cy="1603.0" r="3.6"/><circle cx="889.5" cy="1597.6" r="3.6"/><circle cx="896.0" cy="1601.9" r="3.6"/><circle cx="900.4" cy="1603.0" r="3.6"/><circle cx="904.7" cy="1599.8" r="3.6"/><circle cx="891.7" cy="1601.9" r="3.6"/><circle cx="1428.1" cy="1217.4" r="3.6"/><circle cx="1425.9" cy="1216.3" r="3.6"/><circle cx="1430.2" cy="1218.4" r="3.6"/><circle cx="1427.0" cy="1219.5" r="3.6"/><circle cx="1432.4" cy="1217.4" r="3.6"/><circle cx="1423.7" cy="1219.5" r="3.6"/><circle cx="1429.1" cy="1215.2" r="3.6"/><circle cx="1431.3" cy="1220.6" r="3.6"/><circle cx="1424.8" cy="1217.4" r="3.6"/><circle cx="1427.6" cy="1218.4" r="3.6"/><circle cx="1434.6" cy="1203.2" r="3.6"/><circle cx="1416.1" cy="1221.7" r="3.6"/><circle cx="1416.1" cy="1238.1" r="3.6"/></g>
<polyline points="865.7,1599.8 871.5,1591.9 877.2,1584.2 883,1576.6 888.7,1569.2 894.5,1561.9 900.2,1554.8 906,1547.9 911.7,1541.1 917.5,1534.5 923.2,1528 929,1521.7 934.7,1515.6 940.5,1509.6 946.2,1503.8 952,1498.1 957.7,1492.6 963.5,1487.3 969.2,1482.1 975,1477 980.7,1472.2 986.5,1467.5 992.2,1462.9 998,1458.5 1003.7,1454.3 1009.5,1450.2 1015.3,1446.3 1021,1442.6 1026.8,1439 1032.5,1435.6 1038.3,1432.3 1044,1429.2 1049.8,1426.2 1055.5,1423.5 1061.3,1420.8 1067,1418.3 1072.8,1416 1078.5,1413.9 1084.3,1411.9 1090,1410.1 1095.8,1408.4 1101.5,1406.9 1107.3,1405.5 1113,1404.3 1118.8,1403.3 1124.5,1402.4 1130.3,1401.7 1136,1401.1 1141.8,1400.7 1147.5,1400.5 1153.3,1400.4 1159.1,1400.5 1164.8,1400.7 1170.6,1401.1 1176.3,1401.7 1182.1,1402.4 1187.8,1403.3 1193.6,1404.3 1199.3,1405.5 1205.1,1406.9 1210.8,1408.4 1216.6,1410.1 1222.3,1411.9 1228.1,1413.9 1233.8,1416 1239.6,1418.3 1245.3,1420.8 1251.1,1423.5 1256.8,1426.2 1262.6,1429.2 1268.3,1432.3 1274.1,1435.6 1279.8,1439 1285.6,1442.6 1291.3,1446.3 1297.1,1450.2 1302.9,1454.3 1308.6,1458.5 1314.4,1462.9 1320.1,1467.5 1325.9,1472.2 1331.6,1477 1337.4,1482.1 1343.1,1487.3 1348.9,1492.6 1354.6,1498.1 1360.4,1503.8 1366.1,1509.6 1371.9,1515.6 1377.6,1521.7 1383.4,1528 1389.1,1534.5 1394.9,1541.1 1400.6,1547.9 1406.4,1554.8 1412.1,1561.9 1417.9,1569.2 1423.6,1576.6 1429.4,1584.2 1435.1,1591.9 1440.9,1599.8" fill="none" stroke="#B8860B" stroke-width="1.7"/>
<polyline points="865.7,1201 871.5,1208.9 877.2,1216.8 883,1224.6 888.7,1232.3 894.5,1239.9 900.2,1247.4 906,1254.9 911.7,1262.3 917.5,1269.6 923.2,1276.8 929,1283.9 934.7,1291 940.5,1297.9 946.2,1304.8 952,1311.7 957.7,1318.4 963.5,1325.1 969.2,1331.6 975,1338.1 980.7,1344.6 986.5,1350.9 992.2,1357.2 998,1363.4 1003.7,1369.5 1009.5,1375.5 1015.3,1381.4 1021,1387.3 1026.8,1393.1 1032.5,1398.8 1038.3,1404.4 1044,1409.9 1049.8,1415.4 1055.5,1420.8 1061.3,1426.1 1067,1431.3 1072.8,1436.5 1078.5,1441.5 1084.3,1446.5 1090,1451.4 1095.8,1456.2 1101.5,1461 1107.3,1465.6 1113,1470.2 1118.8,1474.7 1124.5,1479.2 1130.3,1483.5 1136,1487.8 1141.8,1492 1147.5,1496.1 1153.3,1500.1 1159.1,1504 1164.8,1507.9 1170.6,1511.7 1176.3,1515.4 1182.1,1519 1187.8,1522.6 1193.6,1526.1 1199.3,1529.5 1205.1,1532.8 1210.8,1536 1216.6,1539.1 1222.3,1542.2 1228.1,1545.2 1233.8,1548.1 1239.6,1550.9 1245.3,1553.7 1251.1,1556.4 1256.8,1559 1262.6,1561.5 1268.3,1563.9 1274.1,1566.3 1279.8,1568.5 1285.6,1570.7 1291.3,1572.8 1297.1,1574.9 1302.9,1576.8 1308.6,1578.7 1314.4,1580.5 1320.1,1582.2 1325.9,1583.8 1331.6,1585.4 1337.4,1586.9 1343.1,1588.3 1348.9,1589.6 1354.6,1590.8 1360.4,1592 1366.1,1593.1 1371.9,1594.1 1377.6,1595 1383.4,1595.8 1389.1,1596.6 1394.9,1597.2 1400.6,1597.8 1406.4,1598.4 1412.1,1598.8 1417.9,1599.2 1423.6,1599.4 1429.4,1599.6 1435.1,1599.8 1440.9,1599.8" fill="none" stroke="#00008B" stroke-width="1.7"/>
<polyline points="865.7,1599.8 871.5,1599.8 877.2,1599.6 883,1599.4 888.7,1599.2 894.5,1598.8 900.2,1598.4 906,1597.8 911.7,1597.2 917.5,1596.6 923.2,1595.8 929,1595 934.7,1594.1 940.5,1593.1 946.2,1592 952,1590.8 957.7,1589.6 963.5,1588.3 969.2,1586.9 975,1585.4 980.7,1583.8 986.5,1582.2 992.2,1580.5 998,1578.7 1003.7,1576.8 1009.5,1574.9 1015.3,1572.8 1021,1570.7 1026.8,1568.5 1032.5,1566.3 1038.3,1563.9 1044,1561.5 1049.8,1559 1055.5,1556.4 1061.3,1553.7 1067,1550.9 1072.8,1548.1 1078.5,1545.2 1084.3,1542.2 1090,1539.1 1095.8,1536 1101.5,1532.8 1107.3,1529.5 1113,1526.1 1118.8,1522.6 1124.5,1519 1130.3,1515.4 1136,1511.7 1141.8,1507.9 1147.5,1504 1153.3,1500.1 1159.1,1496.1 1164.8,1492 1170.6,1487.8 1176.3,1483.5 1182.1,1479.2 1187.8,1474.7 1193.6,1470.2 1199.3,1465.6 1205.1,1461 1210.8,1456.2 1216.6,1451.4 1222.3,1446.5 1228.1,1441.5 1233.8,1436.5 1239.6,1431.3 1245.3,1426.1 1251.1,1420.8 1256.8,1415.4 1262.6,1409.9 1268.3,1404.4 1274.1,1398.8 1279.8,1393.1 1285.6,1387.3 1291.3,1381.4 1297.1,1375.5 1302.9,1369.5 1308.6,1363.4 1314.4,1357.2 1320.1,1350.9 1325.9,1344.6 1331.6,1338.1 1337.4,1331.6 1343.1,1325.1 1348.9,1318.4 1354.6,1311.7 1360.4,1304.8 1366.1,1297.9 1371.9,1291 1377.6,1283.9 1383.4,1276.8 1389.1,1269.6 1394.9,1262.3 1400.6,1254.9 1406.4,1247.4 1412.1,1239.9 1417.9,1232.3 1423.6,1224.6 1429.4,1216.8 1435.1,1208.9 1440.9,1201" fill="none" stroke="#FF0000" stroke-width="1.7"/>
</g></svg>
<rect x="831.6" y="1177.6" width="640.6" height="446" fill="none" stroke="#333333" stroke-width="1.1"/>
<line x1="865.7" y1="1623.6" x2="865.7" y2="1628.2" stroke="#333333" stroke-width="1.1"/>
<text x="865.7" y="1648" text-anchor="middle" fill="#4D4D4D" font-size="22.5">0.00</text>
<line x1="827" y1="1599.8" x2="831.6" y2="1599.8" stroke="#333333" stroke-width="1.1"/>
<text x="823.4" y="1607.8" text-anchor="end" fill="#4D4D4D" font-size="22.5">0.00</text>
<line x1="1009.5" y1="1623.6" x2="1009.5" y2="1628.2" stroke="#333333" stroke-width="1.1"/>
<text x="1009.5" y="1648" text-anchor="middle" fill="#4D4D4D" font-size="22.5">0.25</text>
<line x1="827" y1="1500.1" x2="831.6" y2="1500.1" stroke="#333333" stroke-width="1.1"/>
<text x="823.4" y="1508.1" text-anchor="end" fill="#4D4D4D" font-size="22.5">0.25</text>
<line x1="1153.3" y1="1623.6" x2="1153.3" y2="1628.2" stroke="#333333" stroke-width="1.1"/>
<text x="1153.3" y="1648" text-anchor="middle" fill="#4D4D4D" font-size="22.5">0.50</text>
<line x1="827" y1="1400.4" x2="831.6" y2="1400.4" stroke="#333333" stroke-width="1.1"/>
<text x="823.4" y="1408.4" text-anchor="end" fill="#4D4D4D" font-size="22.5">0.50</text>
<line x1="1297.1" y1="1623.6" x2="1297.1" y2="1628.2" stroke="#333333" stroke-width="1.1"/>
<text x="1297.1" y="1648" text-anchor="middle" fill="#4D4D4D" font-size="22.5">0.75</text>
<line x1="827" y1="1300.7" x2="831.6" y2="1300.7" stroke="#333333" stroke-width="1.1"/>
<text x="823.4" y="1308.7" text-anchor="end" fill="#4D4D4D" font-size="22.5">0.75</text>
<line x1="1440.9" y1="1623.6" x2="1440.9" y2="1628.2" stroke="#333333" stroke-width="1.1"/>
<text x="1440.9" y="1648" text-anchor="middle" fill="#4D4D4D" font-size="22.5">1.00</text>
<line x1="827" y1="1201" x2="831.6" y2="1201" stroke="#333333" stroke-width="1.1"/>
<text x="823.4" y="1209" text-anchor="end" fill="#4D4D4D" font-size="22.5">1.00</text>
<text x="1151.9" y="1674.2" text-anchor="middle" font-size="22.5">alt allele frequency</text>
<text transform="translate(770.6,1400.6) rotate(-90)" x="0" y="0" text-anchor="middle" font-size="22.5">genotype frequency</text>
<text x="831.6" y="1163.8" font-size="22.5">2019 F1s, shared outlier SNPs</text>
<text x="752.2" y="1156" font-size="29.5" font-weight="bold">F</text>
</g>
<g id="pG">
<svg x="79.6" y="1745.7" width="639.3" height="446.2" overflow="hidden"><g transform="translate(-79.6,-1745.7)">
<line x1="185.3" y1="1745.7" x2="185.3" y2="2191.9" stroke="#EBEBEB" stroke-width="0.7"/>
<line x1="79.6" y1="2118.2" x2="718.9" y2="2118.2" stroke="#EBEBEB" stroke-width="0.7"/>
<line x1="327.8" y1="1745.7" x2="327.8" y2="2191.9" stroke="#EBEBEB" stroke-width="0.7"/>
<line x1="79.6" y1="2018.6" x2="718.9" y2="2018.6" stroke="#EBEBEB" stroke-width="0.7"/>
<line x1="470.3" y1="1745.7" x2="470.3" y2="2191.9" stroke="#EBEBEB" stroke-width="0.7"/>
<line x1="79.6" y1="1918.9" x2="718.9" y2="1918.9" stroke="#EBEBEB" stroke-width="0.7"/>
<line x1="612.8" y1="1745.7" x2="612.8" y2="2191.9" stroke="#EBEBEB" stroke-width="0.7"/>
<line x1="79.6" y1="1819.3" x2="718.9" y2="1819.3" stroke="#EBEBEB" stroke-width="0.7"/>
<line x1="114.1" y1="1745.7" x2="114.1" y2="2191.9" stroke="#EBEBEB" stroke-width="1.4"/>
<line x1="79.6" y1="2168" x2="718.9" y2="2168" stroke="#EBEBEB" stroke-width="1.4"/>
<line x1="256.6" y1="1745.7" x2="256.6" y2="2191.9" stroke="#EBEBEB" stroke-width="1.4"/>
<line x1="79.6" y1="2068.4" x2="718.9" y2="2068.4" stroke="#EBEBEB" stroke-width="1.4"/>
<line x1="399" y1="1745.7" x2="399" y2="2191.9" stroke="#EBEBEB" stroke-width="1.4"/>
<line x1="79.6" y1="1968.8" x2="718.9" y2="1968.8" stroke="#EBEBEB" stroke-width="1.4"/>
<line x1="541.5" y1="1745.7" x2="541.5" y2="2191.9" stroke="#EBEBEB" stroke-width="1.4"/>
<line x1="79.6" y1="1869.1" x2="718.9" y2="1869.1" stroke="#EBEBEB" stroke-width="1.4"/>
<line x1="684" y1="1745.7" x2="684" y2="2191.9" stroke="#EBEBEB" stroke-width="1.4"/>
<line x1="79.6" y1="1769.5" x2="718.9" y2="1769.5" stroke="#EBEBEB" stroke-width="1.4"/>
<g fill="#AF7C0C"><rect x="104.2" y="2159.6" width="19.8" height="16.8" rx="4.6"/><rect x="139.8" y="2159.6" width="19.8" height="16.8" rx="4.6"/><rect x="674.1" y="2159.6" width="19.8" height="16.8" rx="4.6"/><rect x="122" y="2134.7" width="19.8" height="16.8" rx="4.6"/><rect x="157.6" y="2134.7" width="19.8" height="16.8" rx="4.6"/><rect x="193.2" y="2134.7" width="19.8" height="16.8" rx="4.6"/><rect x="228.9" y="2134.7" width="19.8" height="16.8" rx="4.6"/><rect x="264.5" y="2134.7" width="19.8" height="16.8" rx="4.6"/><rect x="300.1" y="2134.7" width="19.8" height="16.8" rx="4.6"/><rect x="620.7" y="2134.7" width="19.8" height="16.8" rx="4.6"/><rect x="656.3" y="2134.7" width="19.8" height="16.8" rx="4.6"/><rect x="139.8" y="2109.8" width="19.8" height="16.8" rx="4.6"/><rect x="175.4" y="2109.8" width="19.8" height="16.8" rx="4.6"/><rect x="211.1" y="2109.8" width="19.8" height="16.8" rx="4.6"/><rect x="246.7" y="2109.8" width="19.8" height="16.8" rx="4.6"/><rect x="282.3" y="2109.8" width="19.8" height="16.8" rx="4.6"/><rect x="317.9" y="2109.8" width="19.8" height="16.8" rx="4.6"/><rect x="353.5" y="2109.8" width="19.8" height="16.8" rx="4.6"/><rect x="389.1" y="2109.8" width="19.8" height="16.8" rx="4.6"/><rect x="460.4" y="2109.8" width="19.8" height="16.8" rx="4.6"/><rect x="496" y="2109.8" width="19.8" height="16.8" rx="4.6"/><rect x="531.6" y="2109.8" width="19.8" height="16.8" rx="4.6"/><rect x="567.2" y="2109.8" width="19.8" height="16.8" rx="4.6"/><rect x="602.9" y="2109.8" width="19.8" height="16.8" rx="4.6"/><rect x="638.5" y="2109.8" width="19.8" height="16.8" rx="4.6"/><rect x="157.6" y="2084.9" width="19.8" height="16.8" rx="4.6"/><rect x="193.2" y="2084.9" width="19.8" height="16.8" rx="4.6"/><rect x="228.9" y="2084.9" width="19.8" height="16.8" rx="4.6"/><rect x="264.5" y="2084.9" width="19.8" height="16.8" rx="4.6"/><rect x="300.1" y="2084.9" width="19.8" height="16.8" rx="4.6"/><rect x="335.7" y="2084.9" width="19.8" height="16.8" rx="4.6"/><rect x="371.3" y="2084.9" width="19.8" height="16.8" rx="4.6"/><rect x="407" y="2084.9" width="19.8" height="16.8" rx="4.6"/><rect x="442.6" y="2084.9" width="19.8" height="16.8" rx="4.6"/><rect x="478.2" y="2084.9" width="19.8" height="16.8" rx="4.6"/><rect x="513.8" y="2084.9" width="19.8" height="16.8" rx="4.6"/><rect x="549.4" y="2084.9" width="19.8" height="16.8" rx="4.6"/><rect x="585.1" y="2084.9" width="19.8" height="16.8" rx="4.6"/><rect x="620.7" y="2084.9" width="19.8" height="16.8" rx="4.6"/><rect x="175.4" y="2060" width="19.8" height="16.8" rx="4.6"/><rect x="211.1" y="2060" width="19.8" height="16.8" rx="4.6"/><rect x="246.7" y="2060" width="19.8" height="16.8" rx="4.6"/><rect x="282.3" y="2060" width="19.8" height="16.8" rx="4.6"/><rect x="317.9" y="2060" width="19.8" height="16.8" rx="4.6"/><rect x="353.5" y="2060" width="19.8" height="16.8" rx="4.6"/><rect x="389.1" y="2060" width="19.8" height="16.8" rx="4.6"/><rect x="424.8" y="2060" width="19.8" height="16.8" rx="4.6"/><rect x="460.4" y="2060" width="19.8" height="16.8" rx="4.6"/><rect x="496" y="2060" width="19.8" height="16.8" rx="4.6"/><rect x="531.6" y="2060" width="19.8" height="16.8" rx="4.6"/><rect x="567.2" y="2060" width="19.8" height="16.8" rx="4.6"/><rect x="602.9" y="2060" width="19.8" height="16.8" rx="4.6"/><rect x="193.2" y="2035.1" width="19.8" height="16.8" rx="4.6"/><rect x="228.9" y="2035.1" width="19.8" height="16.8" rx="4.6"/><rect x="264.5" y="2035.1" width="19.8" height="16.8" rx="4.6"/><rect x="300.1" y="2035.1" width="19.8" height="16.8" rx="4.6"/><rect x="335.7" y="2035.1" width="19.8" height="16.8" rx="4.6"/><rect x="371.3" y="2035.1" width="19.8" height="16.8" rx="4.6"/><rect x="407" y="2035.1" width="19.8" height="16.8" rx="4.6"/><rect x="442.6" y="2035.1" width="19.8" height="16.8" rx="4.6"/><rect x="478.2" y="2035.1" width="19.8" height="16.8" rx="4.6"/><rect x="513.8" y="2035.1" width="19.8" height="16.8" rx="4.6"/><rect x="549.4" y="2035.1" width="19.8" height="16.8" rx="4.6"/><rect x="585.1" y="2035.1" width="19.8" height="16.8" rx="4.6"/><rect x="211.1" y="2010.2" width="19.8" height="16.8" rx="4.6"/><rect x="246.7" y="2010.2" width="19.8" height="16.8" rx="4.6"/><rect x="282.3" y="2010.2" width="19.8" height="16.8" rx="4.6"/><rect x="317.9" y="2010.2" width="19.8" height="16.8" rx="4.6"/><rect x="353.5" y="2010.2" width="19.8" height="16.8" rx="4.6"/><rect x="389.1" y="2010.2" width="19.8" height="16.8" rx="4.6"/><rect x="424.8" y="2010.2" width="19.8" height="16.8" rx="4.6"/><rect x="460.4" y="2010.2" width="19.8" height="16.8" rx="4.6"/><rect x="496" y="2010.2" width="19.8" height="16.8" rx="4.6"/><rect x="531.6" y="2010.2" width="19.8" height="16.8" rx="4.6"/><rect x="567.2" y="2010.2" width="19.8" height="16.8" rx="4.6"/><rect x="228.9" y="1985.3" width="19.8" height="16.8" rx="4.6"/><rect x="264.5" y="1985.3" width="19.8" height="16.8" rx="4.6"/><rect x="300.1" y="1985.3" width="19.8" height="16.8" rx="4.6"/><rect x="335.7" y="1985.3" width="19.8" height="16.8" rx="4.6"/><rect x="371.3" y="1985.3" width="19.8" height="16.8" rx="4.6"/><rect x="407" y="1985.3" width="19.8" height="16.8" rx="4.6"/><rect x="442.6" y="1985.3" width="19.8" height="16.8" rx="4.6"/><rect x="478.2" y="1985.3" width="19.8" height="16.8" rx="4.6"/><rect x="513.8" y="1985.3" width="19.8" height="16.8" rx="4.6"/><rect x="549.4" y="1985.3" width="19.8" height="16.8" rx="4.6"/><rect x="246.7" y="1960.3" width="19.8" height="16.8" rx="4.6"/><rect x="282.3" y="1960.3" width="19.8" height="16.8" rx="4.6"/><rect x="317.9" y="1960.3" width="19.8" height="16.8" rx="4.6"/><rect x="353.5" y="1960.3" width="19.8" height="16.8" rx="4.6"/><rect x="389.1" y="1960.3" width="19.8" height="16.8" rx="4.6"/><rect x="424.8" y="1960.3" width="19.8" height="16.8" rx="4.6"/><rect x="460.4" y="1960.3" width="19.8" height="16.8" rx="4.6"/><rect x="496" y="1960.3" width="19.8" height="16.8" rx="4.6"/><rect x="531.6" y="1960.3" width="19.8" height="16.8" rx="4.6"/><rect x="264.5" y="1935.4" width="19.8" height="16.8" rx="4.6"/><rect x="300.1" y="1935.4" width="19.8" height="16.8" rx="4.6"/><rect x="335.7" y="1935.4" width="19.8" height="16.8" rx="4.6"/><rect x="371.3" y="1935.4" width="19.8" height="16.8" rx="4.6"/><rect x="407" y="1935.4" width="19.8" height="16.8" rx="4.6"/><rect x="442.6" y="1935.4" width="19.8" height="16.8" rx="4.6"/><rect x="478.2" y="1935.4" width="19.8" height="16.8" rx="4.6"/><rect x="513.8" y="1935.4" width="19.8" height="16.8" rx="4.6"/><rect x="282.3" y="1910.5" width="19.8" height="16.8" rx="4.6"/><rect x="317.9" y="1910.5" width="19.8" height="16.8" rx="4.6"/><rect x="353.5" y="1910.5" width="19.8" height="16.8" rx="4.6"/><rect x="389.1" y="1910.5" width="19.8" height="16.8" rx="4.6"/><rect x="424.8" y="1910.5" width="19.8" height="16.8" rx="4.6"/><rect x="460.4" y="1910.5" width="19.8" height="16.8" rx="4.6"/><rect x="496" y="1910.5" width="19.8" height="16.8" rx="4.6"/><rect x="300.1" y="1885.6" width="19.8" height="16.8" rx="4.6"/><rect x="335.7" y="1885.6" width="19.8" height="16.8" rx="4.6"/><rect x="371.3" y="1885.6" width="19.8" height="16.8" rx="4.6"/><rect x="407" y="1885.6" width="19.8" height="16.8" rx="4.6"/><rect x="442.6" y="1885.6" width="19.8" height="16.8" rx="4.6"/><rect x="478.2" y="1885.6" width="19.8" height="16.8" rx="4.6"/><rect x="317.9" y="1860.7" width="19.8" height="16.8" rx="4.6"/><rect x="353.5" y="1860.7" width="19.8" height="16.8" rx="4.6"/><rect x="389.1" y="1860.7" width="19.8" height="16.8" rx="4.6"/><rect x="424.8" y="1860.7" width="19.8" height="16.8" rx="4.6"/><rect x="460.4" y="1860.7" width="19.8" height="16.8" rx="4.6"/><rect x="335.7" y="1835.8" width="19.8" height="16.8" rx="4.6"/><rect x="371.3" y="1835.8" width="19.8" height="16.8" rx="4.6"/><rect x="407" y="1835.8" width="19.8" height="16.8" rx="4.6"/><rect x="442.6" y="1835.8" width="19.8" height="16.8" rx="4.6"/><rect x="353.5" y="1810.9" width="19.8" height="16.8" rx="4.6"/><rect x="389.1" y="1810.9" width="19.8" height="16.8" rx="4.6"/><rect x="424.8" y="1810.9" width="19.8" height="16.8" rx="4.6"/><rect x="371.3" y="1786" width="19.8" height="16.8" rx="4.6"/><rect x="407" y="1786" width="19.8" height="16.8" rx="4.6"/><rect x="389.1" y="1761.1" width="19.8" height="16.8" rx="4.6"/></g>
<g fill="#AF7C0C" filter="url(#blur1)"><rect x="247.4" y="2160.3" width="18.4" height="15.4" rx="4.6" opacity="0.86"/><rect x="283" y="2160.3" width="18.4" height="15.4" rx="4.6" opacity="0.73"/><rect x="318.6" y="2160.3" width="18.4" height="15.4" rx="4.6" opacity="0.58"/><rect x="354.2" y="2160.3" width="18.4" height="15.4" rx="4.6" opacity="0.44"/><rect x="532.3" y="2160.3" width="18.4" height="15.4" rx="4.6" opacity="0.42"/><rect x="567.9" y="2160.3" width="18.4" height="15.4" rx="4.6" opacity="0.55"/><rect x="603.6" y="2160.3" width="18.4" height="15.4" rx="4.6" opacity="0.70"/><rect x="639.2" y="2160.3" width="18.4" height="15.4" rx="4.6" opacity="0.83"/><rect x="372" y="2135.4" width="18.4" height="15.4" rx="4.6" opacity="0.88"/><rect x="407.7" y="2135.4" width="18.4" height="15.4" rx="4.6" opacity="0.44"/><rect x="443.3" y="2135.4" width="18.4" height="15.4" rx="4.6" opacity="0.58"/><rect x="478.9" y="2135.4" width="18.4" height="15.4" rx="4.6" opacity="0.73"/><rect x="514.5" y="2135.4" width="18.4" height="15.4" rx="4.6" opacity="0.86"/></g>
<g fill="#AF7C0C" filter="url(#blur2)"><rect x="176.1" y="2160.3" width="18.4" height="15.4" rx="4.6" opacity="0.99"/><rect x="211.8" y="2160.3" width="18.4" height="15.4" rx="4.6" opacity="0.95"/><rect x="336.4" y="2135.4" width="18.4" height="15.4" rx="4.6" opacity="0.96"/><rect x="550.1" y="2135.4" width="18.4" height="15.4" rx="4.6" opacity="0.95"/><rect x="585.8" y="2135.4" width="18.4" height="15.4" rx="4.6" opacity="0.99"/><rect x="425.5" y="2110.5" width="18.4" height="15.4" rx="4.6" opacity="0.96"/></g>
<g fill="#AF7C0C" fill-opacity="0.11" stroke="#AF7C0C" stroke-opacity="0.12" stroke-width="0.8"><circle cx="395.7" cy="2165.8" r="4.0"/><circle cx="393.5" cy="2166.3" r="4.0"/><circle cx="404.2" cy="2171.4" r="4.0"/><circle cx="395.5" cy="2166.7" r="4.0"/><circle cx="393.4" cy="2168.7" r="4.0"/><circle cx="438.8" cy="2167.1" r="4.0"/><circle cx="438.4" cy="2163.9" r="4.0"/><circle cx="475.9" cy="2164.6" r="4.0"/><circle cx="470.8" cy="2168" r="4.0"/><circle cx="474.2" cy="2169.3" r="4.0"/><circle cx="506.1" cy="2165" r="4.0"/><circle cx="508.3" cy="2165.8" r="4.0"/><circle cx="500.8" cy="2168.9" r="4.0"/><circle cx="510.4" cy="2165.5" r="4.0"/></g>
<g fill="#03028A"><rect x="389.1" y="2159.6" width="19.8" height="16.8" rx="4.6"/><rect x="407" y="2159.6" width="19.8" height="16.8" rx="4.6"/><rect x="424.8" y="2159.6" width="19.8" height="16.8" rx="4.6"/><rect x="442.6" y="2159.6" width="19.8" height="16.8" rx="4.6"/><rect x="460.4" y="2159.6" width="19.8" height="16.8" rx="4.6"/><rect x="478.2" y="2159.6" width="19.8" height="16.8" rx="4.6"/><rect x="496" y="2159.6" width="19.8" height="16.8" rx="4.6"/><rect x="513.8" y="2159.6" width="19.8" height="16.8" rx="4.6"/><rect x="531.6" y="2159.6" width="19.8" height="16.8" rx="4.6"/><rect x="549.4" y="2159.6" width="19.8" height="16.8" rx="4.6"/><rect x="567.2" y="2159.6" width="19.8" height="16.8" rx="4.6"/><rect x="585.1" y="2159.6" width="19.8" height="16.8" rx="4.6"/><rect x="602.9" y="2159.6" width="19.8" height="16.8" rx="4.6"/><rect x="620.7" y="2159.6" width="19.8" height="16.8" rx="4.6"/><rect x="638.5" y="2159.6" width="19.8" height="16.8" rx="4.6"/><rect x="656.3" y="2159.6" width="19.8" height="16.8" rx="4.6"/><rect x="674.1" y="2159.6" width="19.8" height="16.8" rx="4.6"/><rect x="371.3" y="2134.7" width="19.8" height="16.8" rx="4.6"/><rect x="389.1" y="2134.7" width="19.8" height="16.8" rx="4.6"/><rect x="407" y="2134.7" width="19.8" height="16.8" rx="4.6"/><rect x="424.8" y="2134.7" width="19.8" height="16.8" rx="4.6"/><rect x="442.6" y="2134.7" width="19.8" height="16.8" rx="4.6"/><rect x="460.4" y="2134.7" width="19.8" height="16.8" rx="4.6"/><rect x="478.2" y="2134.7" width="19.8" height="16.8" rx="4.6"/><rect x="496" y="2134.7" width="19.8" height="16.8" rx="4.6"/><rect x="513.8" y="2134.7" width="19.8" height="16.8" rx="4.6"/><rect x="531.6" y="2134.7" width="19.8" height="16.8" rx="4.6"/><rect x="549.4" y="2134.7" width="19.8" height="16.8" rx="4.6"/><rect x="567.2" y="2134.7" width="19.8" height="16.8" rx="4.6"/><rect x="585.1" y="2134.7" width="19.8" height="16.8" rx="4.6"/><rect x="602.9" y="2134.7" width="19.8" height="16.8" rx="4.6"/><rect x="620.7" y="2134.7" width="19.8" height="16.8" rx="4.6"/><rect x="353.5" y="2109.8" width="19.8" height="16.8" rx="4.6"/><rect x="371.3" y="2109.8" width="19.8" height="16.8" rx="4.6"/><rect x="389.1" y="2109.8" width="19.8" height="16.8" rx="4.6"/><rect x="407" y="2109.8" width="19.8" height="16.8" rx="4.6"/><rect x="424.8" y="2109.8" width="19.8" height="16.8" rx="4.6"/><rect x="442.6" y="2109.8" width="19.8" height="16.8" rx="4.6"/><rect x="460.4" y="2109.8" width="19.8" height="16.8" rx="4.6"/><rect x="478.2" y="2109.8" width="19.8" height="16.8" rx="4.6"/><rect x="496" y="2109.8" width="19.8" height="16.8" rx="4.6"/><rect x="513.8" y="2109.8" width="19.8" height="16.8" rx="4.6"/><rect x="531.6" y="2109.8" width="19.8" height="16.8" rx="4.6"/><rect x="549.4" y="2109.8" width="19.8" height="16.8" rx="4.6"/><rect x="567.2" y="2109.8" width="19.8" height="16.8" rx="4.6"/><rect x="335.7" y="2084.9" width="19.8" height="16.8" rx="4.6"/><rect x="353.5" y="2084.9" width="19.8" height="16.8" rx="4.6"/><rect x="371.3" y="2084.9" width="19.8" height="16.8" rx="4.6"/><rect x="389.1" y="2084.9" width="19.8" height="16.8" rx="4.6"/><rect x="407" y="2084.9" width="19.8" height="16.8" rx="4.6"/><rect x="424.8" y="2084.9" width="19.8" height="16.8" rx="4.6"/><rect x="442.6" y="2084.9" width="19.8" height="16.8" rx="4.6"/><rect x="460.4" y="2084.9" width="19.8" height="16.8" rx="4.6"/><rect x="478.2" y="2084.9" width="19.8" height="16.8" rx="4.6"/><rect x="496" y="2084.9" width="19.8" height="16.8" rx="4.6"/><rect x="513.8" y="2084.9" width="19.8" height="16.8" rx="4.6"/><rect x="531.6" y="2084.9" width="19.8" height="16.8" rx="4.6"/><rect x="317.9" y="2060" width="19.8" height="16.8" rx="4.6"/><rect x="335.7" y="2060" width="19.8" height="16.8" rx="4.6"/><rect x="353.5" y="2060" width="19.8" height="16.8" rx="4.6"/><rect x="371.3" y="2060" width="19.8" height="16.8" rx="4.6"/><rect x="389.1" y="2060" width="19.8" height="16.8" rx="4.6"/><rect x="407" y="2060" width="19.8" height="16.8" rx="4.6"/><rect x="424.8" y="2060" width="19.8" height="16.8" rx="4.6"/><rect x="442.6" y="2060" width="19.8" height="16.8" rx="4.6"/><rect x="460.4" y="2060" width="19.8" height="16.8" rx="4.6"/><rect x="478.2" y="2060" width="19.8" height="16.8" rx="4.6"/><rect x="496" y="2060" width="19.8" height="16.8" rx="4.6"/><rect x="300.1" y="2035.1" width="19.8" height="16.8" rx="4.6"/><rect x="317.9" y="2035.1" width="19.8" height="16.8" rx="4.6"/><rect x="335.7" y="2035.1" width="19.8" height="16.8" rx="4.6"/><rect x="353.5" y="2035.1" width="19.8" height="16.8" rx="4.6"/><rect x="371.3" y="2035.1" width="19.8" height="16.8" rx="4.6"/><rect x="389.1" y="2035.1" width="19.8" height="16.8" rx="4.6"/><rect x="407" y="2035.1" width="19.8" height="16.8" rx="4.6"/><rect x="424.8" y="2035.1" width="19.8" height="16.8" rx="4.6"/><rect x="442.6" y="2035.1" width="19.8" height="16.8" rx="4.6"/><rect x="460.4" y="2035.1" width="19.8" height="16.8" rx="4.6"/><rect x="282.3" y="2010.2" width="19.8" height="16.8" rx="4.6"/><rect x="300.1" y="2010.2" width="19.8" height="16.8" rx="4.6"/><rect x="317.9" y="2010.2" width="19.8" height="16.8" rx="4.6"/><rect x="335.7" y="2010.2" width="19.8" height="16.8" rx="4.6"/><rect x="353.5" y="2010.2" width="19.8" height="16.8" rx="4.6"/><rect x="371.3" y="2010.2" width="19.8" height="16.8" rx="4.6"/><rect x="389.1" y="2010.2" width="19.8" height="16.8" rx="4.6"/><rect x="407" y="2010.2" width="19.8" height="16.8" rx="4.6"/><rect x="264.5" y="1985.3" width="19.8" height="16.8" rx="4.6"/><rect x="282.3" y="1985.3" width="19.8" height="16.8" rx="4.6"/><rect x="300.1" y="1985.3" width="19.8" height="16.8" rx="4.6"/><rect x="317.9" y="1985.3" width="19.8" height="16.8" rx="4.6"/><rect x="335.7" y="1985.3" width="19.8" height="16.8" rx="4.6"/><rect x="353.5" y="1985.3" width="19.8" height="16.8" rx="4.6"/><rect x="371.3" y="1985.3" width="19.8" height="16.8" rx="4.6"/><rect x="389.1" y="1985.3" width="19.8" height="16.8" rx="4.6"/><rect x="246.7" y="1960.3" width="19.8" height="16.8" rx="4.6"/><rect x="264.5" y="1960.3" width="19.8" height="16.8" rx="4.6"/><rect x="282.3" y="1960.3" width="19.8" height="16.8" rx="4.6"/><rect x="300.1" y="1960.3" width="19.8" height="16.8" rx="4.6"/><rect x="317.9" y="1960.3" width="19.8" height="16.8" rx="4.6"/><rect x="335.7" y="1960.3" width="19.8" height="16.8" rx="4.6"/><rect x="353.5" y="1960.3" width="19.8" height="16.8" rx="4.6"/><rect x="228.9" y="1935.4" width="19.8" height="16.8" rx="4.6"/><rect x="246.7" y="1935.4" width="19.8" height="16.8" rx="4.6"/><rect x="264.5" y="1935.4" width="19.8" height="16.8" rx="4.6"/><rect x="282.3" y="1935.4" width="19.8" height="16.8" rx="4.6"/><rect x="300.1" y="1935.4" width="19.8" height="16.8" rx="4.6"/><rect x="317.9" y="1935.4" width="19.8" height="16.8" rx="4.6"/><rect x="211.1" y="1910.5" width="19.8" height="16.8" rx="4.6"/><rect x="228.9" y="1910.5" width="19.8" height="16.8" rx="4.6"/><rect x="246.7" y="1910.5" width="19.8" height="16.8" rx="4.6"/><rect x="264.5" y="1910.5" width="19.8" height="16.8" rx="4.6"/><rect x="282.3" y="1910.5" width="19.8" height="16.8" rx="4.6"/><rect x="300.1" y="1910.5" width="19.8" height="16.8" rx="4.6"/><rect x="193.2" y="1885.6" width="19.8" height="16.8" rx="4.6"/><rect x="211.1" y="1885.6" width="19.8" height="16.8" rx="4.6"/><rect x="228.9" y="1885.6" width="19.8" height="16.8" rx="4.6"/><rect x="246.7" y="1885.6" width="19.8" height="16.8" rx="4.6"/><rect x="264.5" y="1885.6" width="19.8" height="16.8" rx="4.6"/><rect x="175.4" y="1860.7" width="19.8" height="16.8" rx="4.6"/><rect x="193.2" y="1860.7" width="19.8" height="16.8" rx="4.6"/><rect x="211.1" y="1860.7" width="19.8" height="16.8" rx="4.6"/><rect x="228.9" y="1860.7" width="19.8" height="16.8" rx="4.6"/><rect x="157.6" y="1835.8" width="19.8" height="16.8" rx="4.6"/><rect x="175.4" y="1835.8" width="19.8" height="16.8" rx="4.6"/><rect x="193.2" y="1835.8" width="19.8" height="16.8" rx="4.6"/><rect x="139.8" y="1810.9" width="19.8" height="16.8" rx="4.6"/><rect x="157.6" y="1810.9" width="19.8" height="16.8" rx="4.6"/><rect x="122" y="1786" width="19.8" height="16.8" rx="4.6"/><rect x="139.8" y="1786" width="19.8" height="16.8" rx="4.6"/><rect x="104.2" y="1761.1" width="19.8" height="16.8" rx="4.6"/></g>
<g fill="#03028A" filter="url(#blur1)"><rect x="639.2" y="2135.4" width="18.4" height="15.4" rx="4.6" opacity="0.83"/><rect x="603.6" y="2110.5" width="18.4" height="15.4" rx="4.6" opacity="0.70"/><rect x="567.9" y="2085.6" width="18.4" height="15.4" rx="4.6" opacity="0.55"/><rect x="514.5" y="2060.7" width="18.4" height="15.4" rx="4.6" opacity="0.86"/><rect x="532.3" y="2060.7" width="18.4" height="15.4" rx="4.6" opacity="0.42"/><rect x="478.9" y="2035.8" width="18.4" height="15.4" rx="4.6" opacity="0.73"/><rect x="443.3" y="2010.9" width="18.4" height="15.4" rx="4.6" opacity="0.58"/><rect x="407.7" y="1986" width="18.4" height="15.4" rx="4.6" opacity="0.44"/><rect x="372" y="1961" width="18.4" height="15.4" rx="4.6" opacity="0.88"/><rect x="354.2" y="1936.1" width="18.4" height="15.4" rx="4.6" opacity="0.44"/><rect x="318.6" y="1911.2" width="18.4" height="15.4" rx="4.6" opacity="0.58"/><rect x="283" y="1886.3" width="18.4" height="15.4" rx="4.6" opacity="0.73"/><rect x="247.4" y="1861.4" width="18.4" height="15.4" rx="4.6" opacity="0.86"/></g>
<g fill="#03028A" filter="url(#blur2)"><rect x="585.8" y="2110.5" width="18.4" height="15.4" rx="4.6" opacity="0.99"/><rect x="550.1" y="2085.6" width="18.4" height="15.4" rx="4.6" opacity="0.95"/><rect x="425.5" y="2010.9" width="18.4" height="15.4" rx="4.6" opacity="0.96"/><rect x="336.4" y="1936.1" width="18.4" height="15.4" rx="4.6" opacity="0.96"/><rect x="211.8" y="1836.5" width="18.4" height="15.4" rx="4.6" opacity="0.95"/><rect x="176.1" y="1811.6" width="18.4" height="15.4" rx="4.6" opacity="0.99"/></g>
<g fill="#03028A" fill-opacity="0.11" stroke="#03028A" stroke-opacity="0.12" stroke-width="0.8"><circle cx="500.7" cy="2041.8" r="4.0"/><circle cx="511.4" cy="2046.7" r="4.0"/><circle cx="500.2" cy="2041.6" r="4.0"/><circle cx="501.2" cy="2039.6" r="4.0"/><circle cx="473" cy="2015.8" r="4.0"/><circle cx="471.7" cy="2018" r="4.0"/><circle cx="469.8" cy="2016.5" r="4.0"/><circle cx="432.5" cy="1992.8" r="4.0"/><circle cx="438.5" cy="1996.5" r="4.0"/><circle cx="401.1" cy="1966" r="4.0"/><circle cx="400" cy="1973.1" r="4.0"/><circle cx="398.5" cy="1969.9" r="4.0"/><circle cx="404.8" cy="1969.7" r="4.0"/><circle cx="400.3" cy="1971.8" r="4.0"/></g>
<g fill="#FC0000"><rect x="104.2" y="2159.6" width="19.8" height="16.8" rx="4.6"/><rect x="122" y="2159.6" width="19.8" height="16.8" rx="4.6"/><rect x="139.8" y="2159.6" width="19.8" height="16.8" rx="4.6"/><rect x="157.6" y="2159.6" width="19.8" height="16.8" rx="4.6"/><rect x="175.4" y="2159.6" width="19.8" height="16.8" rx="4.6"/><rect x="193.2" y="2159.6" width="19.8" height="16.8" rx="4.6"/><rect x="211.1" y="2159.6" width="19.8" height="16.8" rx="4.6"/><rect x="228.9" y="2159.6" width="19.8" height="16.8" rx="4.6"/><rect x="246.7" y="2159.6" width="19.8" height="16.8" rx="4.6"/><rect x="264.5" y="2159.6" width="19.8" height="16.8" rx="4.6"/><rect x="282.3" y="2159.6" width="19.8" height="16.8" rx="4.6"/><rect x="300.1" y="2159.6" width="19.8" height="16.8" rx="4.6"/><rect x="317.9" y="2159.6" width="19.8" height="16.8" rx="4.6"/><rect x="335.7" y="2159.6" width="19.8" height="16.8" rx="4.6"/><rect x="353.5" y="2159.6" width="19.8" height="16.8" rx="4.6"/><rect x="371.3" y="2159.6" width="19.8" height="16.8" rx="4.6"/><rect x="389.1" y="2159.6" width="19.8" height="16.8" rx="4.6"/><rect x="139.8" y="2134.7" width="19.8" height="16.8" rx="4.6"/><rect x="157.6" y="2134.7" width="19.8" height="16.8" rx="4.6"/><rect x="175.4" y="2134.7" width="19.8" height="16.8" rx="4.6"/><rect x="193.2" y="2134.7" width="19.8" height="16.8" rx="4.6"/><rect x="211.1" y="2134.7" width="19.8" height="16.8" rx="4.6"/><rect x="228.9" y="2134.7" width="19.8" height="16.8" rx="4.6"/><rect x="246.7" y="2134.7" width="19.8" height="16.8" rx="4.6"/><rect x="264.5" y="2134.7" width="19.8" height="16.8" rx="4.6"/><rect x="282.3" y="2134.7" width="19.8" height="16.8" rx="4.6"/><rect x="300.1" y="2134.7" width="19.8" height="16.8" rx="4.6"/><rect x="317.9" y="2134.7" width="19.8" height="16.8" rx="4.6"/><rect x="335.7" y="2134.7" width="19.8" height="16.8" rx="4.6"/><rect x="353.5" y="2134.7" width="19.8" height="16.8" rx="4.6"/><rect x="371.3" y="2134.7" width="19.8" height="16.8" rx="4.6"/><rect x="389.1" y="2134.7" width="19.8" height="16.8" rx="4.6"/><rect x="407" y="2134.7" width="19.8" height="16.8" rx="4.6"/><rect x="193.2" y="2109.8" width="19.8" height="16.8" rx="4.6"/><rect x="211.1" y="2109.8" width="19.8" height="16.8" rx="4.6"/><rect x="228.9" y="2109.8" width="19.8" height="16.8" rx="4.6"/><rect x="246.7" y="2109.8" width="19.8" height="16.8" rx="4.6"/><rect x="264.5" y="2109.8" width="19.8" height="16.8" rx="4.6"/><rect x="282.3" y="2109.8" width="19.8" height="16.8" rx="4.6"/><rect x="300.1" y="2109.8" width="19.8" height="16.8" rx="4.6"/><rect x="317.9" y="2109.8" width="19.8" height="16.8" rx="4.6"/><rect x="335.7" y="2109.8" width="19.8" height="16.8" rx="4.6"/><rect x="353.5" y="2109.8" width="19.8" height="16.8" rx="4.6"/><rect x="371.3" y="2109.8" width="19.8" height="16.8" rx="4.6"/><rect x="389.1" y="2109.8" width="19.8" height="16.8" rx="4.6"/><rect x="407" y="2109.8" width="19.8" height="16.8" rx="4.6"/><rect x="424.8" y="2109.8" width="19.8" height="16.8" rx="4.6"/><rect x="228.9" y="2084.9" width="19.8" height="16.8" rx="4.6"/><rect x="246.7" y="2084.9" width="19.8" height="16.8" rx="4.6"/><rect x="264.5" y="2084.9" width="19.8" height="16.8" rx="4.6"/><rect x="282.3" y="2084.9" width="19.8" height="16.8" rx="4.6"/><rect x="300.1" y="2084.9" width="19.8" height="16.8" rx="4.6"/><rect x="317.9" y="2084.9" width="19.8" height="16.8" rx="4.6"/><rect x="335.7" y="2084.9" width="19.8" height="16.8" rx="4.6"/><rect x="353.5" y="2084.9" width="19.8" height="16.8" rx="4.6"/><rect x="371.3" y="2084.9" width="19.8" height="16.8" rx="4.6"/><rect x="389.1" y="2084.9" width="19.8" height="16.8" rx="4.6"/><rect x="407" y="2084.9" width="19.8" height="16.8" rx="4.6"/><rect x="424.8" y="2084.9" width="19.8" height="16.8" rx="4.6"/><rect x="442.6" y="2084.9" width="19.8" height="16.8" rx="4.6"/><rect x="264.5" y="2060" width="19.8" height="16.8" rx="4.6"/><rect x="282.3" y="2060" width="19.8" height="16.8" rx="4.6"/><rect x="300.1" y="2060" width="19.8" height="16.8" rx="4.6"/><rect x="317.9" y="2060" width="19.8" height="16.8" rx="4.6"/><rect x="335.7" y="2060" width="19.8" height="16.8" rx="4.6"/><rect x="353.5" y="2060" width="19.8" height="16.8" rx="4.6"/><rect x="371.3" y="2060" width="19.8" height="16.8" rx="4.6"/><rect x="389.1" y="2060" width="19.8" height="16.8" rx="4.6"/><rect x="407" y="2060" width="19.8" height="16.8" rx="4.6"/><rect x="424.8" y="2060" width="19.8" height="16.8" rx="4.6"/><rect x="442.6" y="2060" width="19.8" height="16.8" rx="4.6"/><rect x="460.4" y="2060" width="19.8" height="16.8" rx="4.6"/><rect x="300.1" y="2035.1" width="19.8" height="16.8" rx="4.6"/><rect x="317.9" y="2035.1" width="19.8" height="16.8" rx="4.6"/><rect x="335.7" y="2035.1" width="19.8" height="16.8" rx="4.6"/><rect x="353.5" y="2035.1" width="19.8" height="16.8" rx="4.6"/><rect x="371.3" y="2035.1" width="19.8" height="16.8" rx="4.6"/><rect x="389.1" y="2035.1" width="19.8" height="16.8" rx="4.6"/><rect x="407" y="2035.1" width="19.8" height="16.8" rx="4.6"/><rect x="424.8" y="2035.1" width="19.8" height="16.8" rx="4.6"/><rect x="442.6" y="2035.1" width="19.8" height="16.8" rx="4.6"/><rect x="460.4" y="2035.1" width="19.8" height="16.8" rx="4.6"/><rect x="478.2" y="2035.1" width="19.8" height="16.8" rx="4.6"/><rect x="353.5" y="2010.2" width="19.8" height="16.8" rx="4.6"/><rect x="371.3" y="2010.2" width="19.8" height="16.8" rx="4.6"/><rect x="389.1" y="2010.2" width="19.8" height="16.8" rx="4.6"/><rect x="407" y="2010.2" width="19.8" height="16.8" rx="4.6"/><rect x="424.8" y="2010.2" width="19.8" height="16.8" rx="4.6"/><rect x="442.6" y="2010.2" width="19.8" height="16.8" rx="4.6"/><rect x="460.4" y="2010.2" width="19.8" height="16.8" rx="4.6"/><rect x="478.2" y="2010.2" width="19.8" height="16.8" rx="4.6"/><rect x="496" y="2010.2" width="19.8" height="16.8" rx="4.6"/><rect x="389.1" y="1985.3" width="19.8" height="16.8" rx="4.6"/><rect x="407" y="1985.3" width="19.8" height="16.8" rx="4.6"/><rect x="424.8" y="1985.3" width="19.8" height="16.8" rx="4.6"/><rect x="442.6" y="1985.3" width="19.8" height="16.8" rx="4.6"/><rect x="460.4" y="1985.3" width="19.8" height="16.8" rx="4.6"/><rect x="478.2" y="1985.3" width="19.8" height="16.8" rx="4.6"/><rect x="496" y="1985.3" width="19.8" height="16.8" rx="4.6"/><rect x="513.8" y="1985.3" width="19.8" height="16.8" rx="4.6"/><rect x="442.6" y="1960.3" width="19.8" height="16.8" rx="4.6"/><rect x="460.4" y="1960.3" width="19.8" height="16.8" rx="4.6"/><rect x="478.2" y="1960.3" width="19.8" height="16.8" rx="4.6"/><rect x="496" y="1960.3" width="19.8" height="16.8" rx="4.6"/><rect x="513.8" y="1960.3" width="19.8" height="16.8" rx="4.6"/><rect x="531.6" y="1960.3" width="19.8" height="16.8" rx="4.6"/><rect x="460.4" y="1935.4" width="19.8" height="16.8" rx="4.6"/><rect x="478.2" y="1935.4" width="19.8" height="16.8" rx="4.6"/><rect x="496" y="1935.4" width="19.8" height="16.8" rx="4.6"/><rect x="513.8" y="1935.4" width="19.8" height="16.8" rx="4.6"/><rect x="531.6" y="1935.4" width="19.8" height="16.8" rx="4.6"/><rect x="549.4" y="1935.4" width="19.8" height="16.8" rx="4.6"/><rect x="496" y="1910.5" width="19.8" height="16.8" rx="4.6"/><rect x="513.8" y="1910.5" width="19.8" height="16.8" rx="4.6"/><rect x="531.6" y="1910.5" width="19.8" height="16.8" rx="4.6"/><rect x="549.4" y="1910.5" width="19.8" height="16.8" rx="4.6"/><rect x="567.2" y="1910.5" width="19.8" height="16.8" rx="4.6"/><rect x="531.6" y="1885.6" width="19.8" height="16.8" rx="4.6"/><rect x="549.4" y="1885.6" width="19.8" height="16.8" rx="4.6"/><rect x="567.2" y="1885.6" width="19.8" height="16.8" rx="4.6"/><rect x="585.1" y="1885.6" width="19.8" height="16.8" rx="4.6"/><rect x="567.2" y="1860.7" width="19.8" height="16.8" rx="4.6"/><rect x="585.1" y="1860.7" width="19.8" height="16.8" rx="4.6"/><rect x="602.9" y="1860.7" width="19.8" height="16.8" rx="4.6"/><rect x="602.9" y="1835.8" width="19.8" height="16.8" rx="4.6"/><rect x="620.7" y="1835.8" width="19.8" height="16.8" rx="4.6"/><rect x="620.7" y="1810.9" width="19.8" height="16.8" rx="4.6"/><rect x="638.5" y="1810.9" width="19.8" height="16.8" rx="4.6"/><rect x="656.3" y="1786" width="19.8" height="16.8" rx="4.6"/><rect x="674.1" y="1761.1" width="19.8" height="16.8" rx="4.6"/></g>
<g fill="#FC0000" filter="url(#blur1)"><rect x="247.4" y="2060.7" width="18.4" height="15.4" rx="4.6" opacity="0.86"/><rect x="283" y="2035.8" width="18.4" height="15.4" rx="4.6" opacity="0.73"/><rect x="318.6" y="2010.9" width="18.4" height="15.4" rx="4.6" opacity="0.58"/><rect x="354.2" y="1986" width="18.4" height="15.4" rx="4.6" opacity="0.44"/><rect x="372" y="1986" width="18.4" height="15.4" rx="4.6" opacity="0.88"/><rect x="407.7" y="1961" width="18.4" height="15.4" rx="4.6" opacity="0.44"/><rect x="443.3" y="1936.1" width="18.4" height="15.4" rx="4.6" opacity="0.58"/><rect x="478.9" y="1911.2" width="18.4" height="15.4" rx="4.6" opacity="0.73"/><rect x="514.5" y="1886.3" width="18.4" height="15.4" rx="4.6" opacity="0.86"/><rect x="532.3" y="1861.4" width="18.4" height="15.4" rx="4.6" opacity="0.42"/><rect x="567.9" y="1836.5" width="18.4" height="15.4" rx="4.6" opacity="0.55"/><rect x="603.6" y="1811.6" width="18.4" height="15.4" rx="4.6" opacity="0.70"/><rect x="639.2" y="1786.7" width="18.4" height="15.4" rx="4.6" opacity="0.83"/></g>
<g fill="#FC0000" filter="url(#blur2)"><rect x="176.1" y="2110.5" width="18.4" height="15.4" rx="4.6" opacity="0.99"/><rect x="211.8" y="2085.6" width="18.4" height="15.4" rx="4.6" opacity="0.95"/><rect x="336.4" y="2010.9" width="18.4" height="15.4" rx="4.6" opacity="0.96"/><rect x="425.5" y="1961" width="18.4" height="15.4" rx="4.6" opacity="0.96"/><rect x="550.1" y="1861.4" width="18.4" height="15.4" rx="4.6" opacity="0.95"/><rect x="585.8" y="1836.5" width="18.4" height="15.4" rx="4.6" opacity="0.99"/></g>
<g fill="#FC0000" fill-opacity="0.11" stroke="#FC0000" stroke-opacity="0.12" stroke-width="0.8"><circle cx="396.1" cy="1970.6" r="4.0"/><circle cx="393.9" cy="1972.5" r="4.0"/><circle cx="404.4" cy="1964.4" r="4.0"/><circle cx="393.7" cy="1968.4" r="4.0"/><circle cx="395.6" cy="1971.2" r="4.0"/><circle cx="436.2" cy="1941.6" r="4.0"/><circle cx="430.5" cy="1944.4" r="4.0"/><circle cx="474.3" cy="1919.5" r="4.0"/><circle cx="467.4" cy="1922" r="4.0"/><circle cx="467.6" cy="1916.4" r="4.0"/><circle cx="507.4" cy="1892.4" r="4.0"/><circle cx="500.4" cy="1891.2" r="4.0"/><circle cx="506.4" cy="1890.6" r="4.0"/><circle cx="510.4" cy="1893.3" r="4.0"/></g>

<polyline points="114.1,2168 119.8,2160.1 125.5,2152.4 131.2,2144.8 136.9,2137.4 142.6,2130.1 148.3,2123 154,2116.1 159.7,2109.3 165.4,2102.7 171.1,2096.3 176.8,2090 182.5,2083.8 188.2,2077.9 193.9,2072 199.6,2066.4 205.3,2060.9 211,2055.5 216.7,2050.4 222.4,2045.3 228.1,2040.5 233.8,2035.8 239.5,2031.2 245.2,2026.9 250.9,2022.6 256.6,2018.6 262.3,2014.7 268,2010.9 273.7,2007.3 279.4,2003.9 285.1,2000.6 290.8,1997.5 296.5,1994.6 302.2,1991.8 307.9,1989.2 313.6,1986.7 319.3,1984.4 325,1982.2 330.7,1980.2 336.4,1978.4 342.1,1976.7 347.8,1975.2 353.5,1973.9 359.2,1972.7 364.9,1971.6 370.6,1970.7 376.3,1970 382,1969.5 387.7,1969.1 393.4,1968.8 399,1968.8 404.7,1968.8 410.4,1969.1 416.1,1969.5 421.8,1970 427.5,1970.7 433.2,1971.6 438.9,1972.7 444.6,1973.9 450.3,1975.2 456,1976.7 461.7,1978.4 467.4,1980.2 473.1,1982.2 478.8,1984.4 484.5,1986.7 490.2,1989.2 495.9,1991.8 501.6,1994.6 507.3,1997.5 513,2000.6 518.7,2003.9 524.4,2007.3 530.1,2010.9 535.8,2014.7 541.5,2018.6 547.2,2022.6 552.9,2026.9 558.6,2031.2 564.3,2035.8 570,2040.5 575.7,2045.3 581.4,2050.4 587.1,2055.5 592.8,2060.9 598.5,2066.4 604.2,2072 609.9,2077.9 615.6,2083.8 621.3,2090 627,2096.3 632.7,2102.7 638.4,2109.3 644.1,2116.1 649.8,2123 655.5,2130.1 661.2,2137.4 666.9,2144.8 672.6,2152.4 678.3,2160.1 684,2168" fill="none" stroke="#B8860B" stroke-width="1.7"/>
<polyline points="114.1,1769.5 119.8,1777.4 125.5,1785.3 131.2,1793.1 136.9,1800.7 142.6,1808.4 148.3,1815.9 154,1823.3 159.7,1830.7 165.4,1838 171.1,1845.2 176.8,1852.3 182.5,1859.4 188.2,1866.4 193.9,1873.3 199.6,1880.1 205.3,1886.8 211,1893.5 216.7,1900 222.4,1906.5 228.1,1913 233.8,1919.3 239.5,1925.6 245.2,1931.7 250.9,1937.8 256.6,1943.8 262.3,1949.8 268,1955.6 273.7,1961.4 279.4,1967.1 285.1,1972.7 290.8,1978.3 296.5,1983.7 302.2,1989.1 307.9,1994.4 313.6,1999.6 319.3,2004.8 325,2009.8 330.7,2014.8 336.4,2019.7 342.1,2024.5 347.8,2029.3 353.5,2033.9 359.2,2038.5 364.9,2043 370.6,2047.5 376.3,2051.8 382,2056.1 387.7,2060.2 393.4,2064.4 399,2068.4 404.7,2072.3 410.4,2076.2 416.1,2080 421.8,2083.7 427.5,2087.3 433.2,2090.9 438.9,2094.3 444.6,2097.7 450.3,2101 456,2104.2 461.7,2107.4 467.4,2110.5 473.1,2113.4 478.8,2116.4 484.5,2119.2 490.2,2121.9 495.9,2124.6 501.6,2127.2 507.3,2129.7 513,2132.1 518.7,2134.5 524.4,2136.8 530.1,2138.9 535.8,2141.1 541.5,2143.1 547.2,2145 552.9,2146.9 558.6,2148.7 564.3,2150.4 570,2152.1 575.7,2153.6 581.4,2155.1 587.1,2156.5 592.8,2157.8 598.5,2159 604.2,2160.2 609.9,2161.3 615.6,2162.3 621.3,2163.2 627,2164 632.7,2164.8 638.4,2165.4 644.1,2166 649.8,2166.6 655.5,2167 661.2,2167.4 666.9,2167.6 672.6,2167.8 678.3,2168 684,2168" fill="none" stroke="#00008B" stroke-width="1.7"/>
<polyline points="114.1,2168 119.8,2168 125.5,2167.8 131.2,2167.6 136.9,2167.4 142.6,2167 148.3,2166.6 154,2166 159.7,2165.4 165.4,2164.8 171.1,2164 176.8,2163.2 182.5,2162.3 188.2,2161.3 193.9,2160.2 199.6,2159 205.3,2157.8 211,2156.5 216.7,2155.1 222.4,2153.6 228.1,2152.1 233.8,2150.4 239.5,2148.7 245.2,2146.9 250.9,2145 256.6,2143.1 262.3,2141.1 268,2138.9 273.7,2136.8 279.4,2134.5 285.1,2132.1 290.8,2129.7 296.5,2127.2 302.2,2124.6 307.9,2121.9 313.6,2119.2 319.3,2116.4 325,2113.4 330.7,2110.5 336.4,2107.4 342.1,2104.2 347.8,2101 353.5,2097.7 359.2,2094.3 364.9,2090.9 370.6,2087.3 376.3,2083.7 382,2080 387.7,2076.2 393.4,2072.3 399,2068.4 404.7,2064.4 410.4,2060.2 416.1,2056.1 421.8,2051.8 427.5,2047.5 433.2,2043 438.9,2038.5 444.6,2033.9 450.3,2029.3 456,2024.5 461.7,2019.7 467.4,2014.8 473.1,2009.8 478.8,2004.8 484.5,1999.6 490.2,1994.4 495.9,1989.1 501.6,1983.7 507.3,1978.3 513,1972.7 518.7,1967.1 524.4,1961.4 530.1,1955.6 535.8,1949.8 541.5,1943.8 547.2,1937.8 552.9,1931.7 558.6,1925.6 564.3,1919.3 570,1913 575.7,1906.5 581.4,1900 587.1,1893.5 592.8,1886.8 598.5,1880.1 604.2,1873.3 609.9,1866.4 615.6,1859.4 621.3,1852.3 627,1845.2 632.7,1838 638.4,1830.7 644.1,1823.3 649.8,1815.9 655.5,1808.4 661.2,1800.7 666.9,1793.1 672.6,1785.3 678.3,1777.4 684,1769.5" fill="none" stroke="#FF0000" stroke-width="1.7"/>
</g></svg>
<rect x="79.6" y="1745.7" width="639.3" height="446.2" fill="none" stroke="#333333" stroke-width="1.1"/>
<line x1="114.1" y1="2191.9" x2="114.1" y2="2196.5" stroke="#333333" stroke-width="1.1"/>
<text x="114.1" y="2216.3" text-anchor="middle" fill="#4D4D4D" font-size="22.5">0.00</text>
<line x1="75" y1="2168" x2="79.6" y2="2168" stroke="#333333" stroke-width="1.1"/>
<text x="71.4" y="2176" text-anchor="end" fill="#4D4D4D" font-size="22.5">0.00</text>
<line x1="256.6" y1="2191.9" x2="256.6" y2="2196.5" stroke="#333333" stroke-width="1.1"/>
<text x="256.6" y="2216.3" text-anchor="middle" fill="#4D4D4D" font-size="22.5">0.25</text>
<line x1="75" y1="2068.4" x2="79.6" y2="2068.4" stroke="#333333" stroke-width="1.1"/>
<text x="71.4" y="2076.4" text-anchor="end" fill="#4D4D4D" font-size="22.5">0.25</text>
<line x1="399" y1="2191.9" x2="399" y2="2196.5" stroke="#333333" stroke-width="1.1"/>
<text x="399" y="2216.3" text-anchor="middle" fill="#4D4D4D" font-size="22.5">0.50</text>
<line x1="75" y1="1968.8" x2="79.6" y2="1968.8" stroke="#333333" stroke-width="1.1"/>
<text x="71.4" y="1976.8" text-anchor="end" fill="#4D4D4D" font-size="22.5">0.50</text>
<line x1="541.5" y1="2191.9" x2="541.5" y2="2196.5" stroke="#333333" stroke-width="1.1"/>
<text x="541.5" y="2216.3" text-anchor="middle" fill="#4D4D4D" font-size="22.5">0.75</text>
<line x1="75" y1="1869.1" x2="79.6" y2="1869.1" stroke="#333333" stroke-width="1.1"/>
<text x="71.4" y="1877.1" text-anchor="end" fill="#4D4D4D" font-size="22.5">0.75</text>
<line x1="684" y1="2191.9" x2="684" y2="2196.5" stroke="#333333" stroke-width="1.1"/>
<text x="684" y="2216.3" text-anchor="middle" fill="#4D4D4D" font-size="22.5">1.00</text>
<line x1="75" y1="1769.5" x2="79.6" y2="1769.5" stroke="#333333" stroke-width="1.1"/>
<text x="71.4" y="1777.5" text-anchor="end" fill="#4D4D4D" font-size="22.5">1.00</text>
<text x="399.2" y="2242.5" text-anchor="middle" font-size="22.5">alt allele frequency</text>
<text transform="translate(18.6,1968.8) rotate(-90)" x="0" y="0" text-anchor="middle" font-size="22.5">genotype frequency</text>
<text x="79.6" y="1731.9" font-size="22.5">2020 F1s, all SNPs</text>
<text x="4.6" y="1727" font-size="29.5" font-weight="bold">G</text>
</g>
<g id="pH">
<svg x="833.4" y="1745.6" width="638.8" height="446.1" overflow="hidden"><g transform="translate(-833.4,-1745.6)">
<line x1="939.8" y1="1745.6" x2="939.8" y2="2191.7" stroke="#EBEBEB" stroke-width="0.7"/>
<line x1="833.4" y1="2118.1" x2="1472.2" y2="2118.1" stroke="#EBEBEB" stroke-width="0.7"/>
<line x1="1083.7" y1="1745.6" x2="1083.7" y2="2191.7" stroke="#EBEBEB" stroke-width="0.7"/>
<line x1="833.4" y1="2018.3" x2="1472.2" y2="2018.3" stroke="#EBEBEB" stroke-width="0.7"/>
<line x1="1227.5" y1="1745.6" x2="1227.5" y2="2191.7" stroke="#EBEBEB" stroke-width="0.7"/>
<line x1="833.4" y1="1918.7" x2="1472.2" y2="1918.7" stroke="#EBEBEB" stroke-width="0.7"/>
<line x1="1371.4" y1="1745.6" x2="1371.4" y2="2191.7" stroke="#EBEBEB" stroke-width="0.7"/>
<line x1="833.4" y1="1818.9" x2="1472.2" y2="1818.9" stroke="#EBEBEB" stroke-width="0.7"/>
<line x1="867.9" y1="1745.6" x2="867.9" y2="2191.7" stroke="#EBEBEB" stroke-width="1.4"/>
<line x1="833.4" y1="2167.9" x2="1472.2" y2="2167.9" stroke="#EBEBEB" stroke-width="1.4"/>
<line x1="1011.8" y1="1745.6" x2="1011.8" y2="2191.7" stroke="#EBEBEB" stroke-width="1.4"/>
<line x1="833.4" y1="2068.2" x2="1472.2" y2="2068.2" stroke="#EBEBEB" stroke-width="1.4"/>
<line x1="1155.6" y1="1745.6" x2="1155.6" y2="2191.7" stroke="#EBEBEB" stroke-width="1.4"/>
<line x1="833.4" y1="1968.5" x2="1472.2" y2="1968.5" stroke="#EBEBEB" stroke-width="1.4"/>
<line x1="1299.4" y1="1745.6" x2="1299.4" y2="2191.7" stroke="#EBEBEB" stroke-width="1.4"/>
<line x1="833.4" y1="1868.8" x2="1472.2" y2="1868.8" stroke="#EBEBEB" stroke-width="1.4"/>
<line x1="1443.3" y1="1745.6" x2="1443.3" y2="2191.7" stroke="#EBEBEB" stroke-width="1.4"/>
<line x1="833.4" y1="1769.1" x2="1472.2" y2="1769.1" stroke="#EBEBEB" stroke-width="1.4"/>

<g fill="#AF7C0C" filter="url(#blur1)"><rect x="876.9" y="2135.5" width="18" height="15" rx="4.6"/></g>
<g fill="#AF7C0C" fill-opacity="0.11" stroke="#AF7C0C" stroke-opacity="0.11" stroke-width="1"><circle cx="977.4" cy="2015.3" r="3.6"/><circle cx="975.5" cy="2022.0" r="3.6"/><circle cx="978.3" cy="2017.4" r="3.6"/><circle cx="972.6" cy="2020.5" r="3.6"/><circle cx="980.6" cy="2020.5" r="3.6"/><circle cx="1006.9" cy="2017.0" r="3.6"/><circle cx="1011.0" cy="2015.1" r="3.6"/><circle cx="958.1" cy="2043.4" r="3.6"/><circle cx="955.5" cy="2042.9" r="3.6"/><circle cx="952.6" cy="2045.6" r="3.6"/><circle cx="955.4" cy="2043.5" r="3.6"/><circle cx="997.4" cy="2044.3" r="3.6"/><circle cx="992.8" cy="2045.5" r="3.6"/><circle cx="994.7" cy="2044.9" r="3.6"/><circle cx="1028.2" cy="2042.2" r="3.6"/><circle cx="1025.4" cy="2042.1" r="3.6"/><circle cx="1028.3" cy="2044.6" r="3.6"/><circle cx="1024.5" cy="2042.0" r="3.6"/><circle cx="940.4" cy="2071.7" r="3.6"/><circle cx="942.3" cy="2071.1" r="3.6"/><circle cx="937.3" cy="2071.0" r="3.6"/><circle cx="934.5" cy="2069.5" r="3.6"/><circle cx="939.6" cy="2070.6" r="3.6"/><circle cx="940.8" cy="2067.7" r="3.6"/><circle cx="972.3" cy="2069.9" r="3.6"/><circle cx="976.3" cy="2065.5" r="3.6"/><circle cx="975.3" cy="2069.1" r="3.6"/><circle cx="975.6" cy="2068.4" r="3.6"/><circle cx="980.3" cy="2070.7" r="3.6"/><circle cx="981.1" cy="2070.1" r="3.6"/><circle cx="975.2" cy="2066.3" r="3.6"/><circle cx="979.7" cy="2069.2" r="3.6"/><circle cx="972.2" cy="2067.7" r="3.6"/><circle cx="973.8" cy="2065.2" r="3.6"/><circle cx="1012.2" cy="2068.9" r="3.6"/><circle cx="925.5" cy="2094.9" r="3.6"/><circle cx="925.1" cy="2094.6" r="3.6"/><circle cx="917.2" cy="2095.8" r="3.6"/><circle cx="918.8" cy="2089.0" r="3.6"/><circle cx="923.9" cy="2092.4" r="3.6"/><circle cx="918.3" cy="2092.0" r="3.6"/><circle cx="923.4" cy="2097.0" r="3.6"/><circle cx="926.7" cy="2094.7" r="3.6"/><circle cx="927.0" cy="2093.0" r="3.6"/><circle cx="918.6" cy="2093.9" r="3.6"/><circle cx="922.5" cy="2097.2" r="3.6"/><circle cx="923.9" cy="2094.1" r="3.6"/><circle cx="917.8" cy="2090.0" r="3.6"/><circle cx="920.1" cy="2095.3" r="3.6"/><circle cx="921.9" cy="2097.3" r="3.6"/><circle cx="922.3" cy="2094.5" r="3.6"/><circle cx="916.4" cy="2090.6" r="3.6"/><circle cx="922.8" cy="2092.1" r="3.6"/><circle cx="920.7" cy="2088.9" r="3.6"/><circle cx="925.0" cy="2090.4" r="3.6"/><circle cx="925.4" cy="2094.3" r="3.6"/><circle cx="920.1" cy="2096.8" r="3.6"/><circle cx="923.3" cy="2090.2" r="3.6"/><circle cx="920.3" cy="2095.7" r="3.6"/><circle cx="925.9" cy="2092.2" r="3.6"/><circle cx="922.8" cy="2096.1" r="3.6"/><circle cx="922.4" cy="2091.7" r="3.6"/><circle cx="926.7" cy="2092.4" r="3.6"/><circle cx="920.6" cy="2088.9" r="3.6"/><circle cx="918.6" cy="2093.8" r="3.6"/><circle cx="922.8" cy="2090.6" r="3.6"/><circle cx="916.3" cy="2095.3" r="3.6"/><circle cx="920.3" cy="2093.0" r="3.6"/><circle cx="922.5" cy="2092.1" r="3.6"/><circle cx="954.5" cy="2095.3" r="3.6"/><circle cx="960.0" cy="2092.6" r="3.6"/><circle cx="953.3" cy="2090.5" r="3.6"/><circle cx="956.7" cy="2090.3" r="3.6"/><circle cx="958.5" cy="2097.4" r="3.6"/><circle cx="954.9" cy="2097.1" r="3.6"/><circle cx="991.4" cy="2092.7" r="3.6"/><circle cx="907.4" cy="2120.0" r="3.6"/><circle cx="898.7" cy="2114.1" r="3.6"/><circle cx="905.4" cy="2114.9" r="3.6"/><circle cx="900.1" cy="2122.1" r="3.6"/><circle cx="901.5" cy="2116.3" r="3.6"/><circle cx="906.0" cy="2116.3" r="3.6"/><circle cx="899.8" cy="2117.6" r="3.6"/><circle cx="906.0" cy="2118.9" r="3.6"/><circle cx="909.1" cy="2115.8" r="3.6"/><circle cx="902.3" cy="2122.2" r="3.6"/><circle cx="906.6" cy="2121.1" r="3.6"/><circle cx="900.4" cy="2122.2" r="3.6"/><circle cx="905.9" cy="2116.0" r="3.6"/><circle cx="901.1" cy="2114.3" r="3.6"/><circle cx="907.9" cy="2114.7" r="3.6"/><circle cx="904.1" cy="2115.1" r="3.6"/><circle cx="908.8" cy="2114.7" r="3.6"/><circle cx="900.7" cy="2122.0" r="3.6"/><circle cx="908.9" cy="2119.6" r="3.6"/><circle cx="908.8" cy="2119.8" r="3.6"/><circle cx="909.2" cy="2116.7" r="3.6"/><circle cx="903.9" cy="2117.8" r="3.6"/><circle cx="906.7" cy="2119.1" r="3.6"/><circle cx="905.6" cy="2118.5" r="3.6"/><circle cx="907.3" cy="2118.3" r="3.6"/><circle cx="902.9" cy="2114.9" r="3.6"/><circle cx="906.3" cy="2115.0" r="3.6"/><circle cx="908.5" cy="2120.4" r="3.6"/><circle cx="907.1" cy="2117.7" r="3.6"/><circle cx="903.9" cy="2118.3" r="3.6"/><circle cx="900.3" cy="2122.2" r="3.6"/><circle cx="899.3" cy="2115.4" r="3.6"/><circle cx="902.7" cy="2114.0" r="3.6"/><circle cx="908.9" cy="2117.4" r="3.6"/><circle cx="900.6" cy="2119.7" r="3.6"/><circle cx="899.6" cy="2121.6" r="3.6"/><circle cx="899.5" cy="2120.0" r="3.6"/><circle cx="903.3" cy="2116.5" r="3.6"/><circle cx="900.3" cy="2122.3" r="3.6"/><circle cx="907.4" cy="2114.3" r="3.6"/><circle cx="906.8" cy="2114.3" r="3.6"/><circle cx="907.2" cy="2121.3" r="3.6"/><circle cx="902.5" cy="2114.0" r="3.6"/><circle cx="905.9" cy="2119.5" r="3.6"/><circle cx="904.6" cy="2115.1" r="3.6"/><circle cx="900.5" cy="2116.6" r="3.6"/><circle cx="909.6" cy="2118.7" r="3.6"/><circle cx="941.5" cy="2114.9" r="3.6"/><circle cx="943.2" cy="2116.2" r="3.6"/><circle cx="935.5" cy="2115.7" r="3.6"/><circle cx="942.8" cy="2115.2" r="3.6"/><circle cx="938.8" cy="2120.1" r="3.6"/><circle cx="940.9" cy="2120.8" r="3.6"/><circle cx="942.8" cy="2116.2" r="3.6"/><circle cx="938.3" cy="2121.3" r="3.6"/><circle cx="940.1" cy="2115.2" r="3.6"/><circle cx="943.0" cy="2119.8" r="3.6"/><circle cx="939.7" cy="2121.4" r="3.6"/><circle cx="941.8" cy="2122.3" r="3.6"/><circle cx="934.3" cy="2117.6" r="3.6"/><circle cx="942.7" cy="2114.1" r="3.6"/><circle cx="938.0" cy="2117.6" r="3.6"/><circle cx="940.3" cy="2116.5" r="3.6"/><circle cx="939.9" cy="2115.4" r="3.6"/><circle cx="939.5" cy="2116.2" r="3.6"/><circle cx="939.9" cy="2120.5" r="3.6"/><circle cx="939.8" cy="2119.6" r="3.6"/><circle cx="939.5" cy="2115.4" r="3.6"/><circle cx="937.7" cy="2119.6" r="3.6"/><circle cx="936.9" cy="2120.6" r="3.6"/><circle cx="942.8" cy="2116.2" r="3.6"/><circle cx="939.6" cy="2113.9" r="3.6"/><circle cx="886.9" cy="2140.1" r="3.6"/><circle cx="883.8" cy="2147.0" r="3.6"/><circle cx="882.1" cy="2145.4" r="3.6"/><circle cx="881.8" cy="2144.6" r="3.6"/><circle cx="881.4" cy="2146.9" r="3.6"/><circle cx="881.8" cy="2141.3" r="3.6"/><circle cx="887.8" cy="2139.4" r="3.6"/><circle cx="887.0" cy="2144.7" r="3.6"/><circle cx="956.1" cy="2140.5" r="3.6"/><circle cx="957.7" cy="2139.7" r="3.6"/><circle cx="1226.1" cy="1919.5" r="3.6"/><circle cx="1168.8" cy="1947.3" r="3.6"/><circle cx="1243.0" cy="1947.7" r="3.6"/><circle cx="1244.1" cy="1947.7" r="3.6"/><circle cx="1267.9" cy="1968.3" r="3.6"/><circle cx="1173.6" cy="1992.6" r="3.6"/><circle cx="1241.9" cy="1992.2" r="3.6"/><circle cx="1280.5" cy="1991.1" r="3.6"/><circle cx="1317.1" cy="1995.8" r="3.6"/><circle cx="1330.3" cy="2018.2" r="3.6"/><circle cx="1338.4" cy="2015.6" r="3.6"/><circle cx="1312.3" cy="2040.9" r="3.6"/><circle cx="1317.8" cy="2040.5" r="3.6"/><circle cx="1352.5" cy="2040.9" r="3.6"/><circle cx="1330.8" cy="2065.9" r="3.6"/><circle cx="1334.0" cy="2069.6" r="3.6"/><circle cx="1335.1" cy="2071.3" r="3.6"/><circle cx="1329.7" cy="2070.2" r="3.6"/><circle cx="1367.6" cy="2067.4" r="3.6"/><circle cx="1375.2" cy="2070.2" r="3.6"/><circle cx="1377.4" cy="2069.1" r="3.6"/><circle cx="1359.0" cy="2091.2" r="3.6"/><circle cx="1387.1" cy="2095.1" r="3.6"/><circle cx="1392.6" cy="2093.0" r="3.6"/><circle cx="1329.7" cy="2115.7" r="3.6"/><circle cx="1422.9" cy="2138.5" r="3.6"/><circle cx="1301.5" cy="2167.8" r="3.6"/><circle cx="1081.2" cy="1918.4" r="3.6"/><circle cx="1060.6" cy="1942.3" r="3.6"/><circle cx="1061.7" cy="1944.0" r="3.6"/><circle cx="1117.0" cy="1969.4" r="3.6"/><circle cx="1124.6" cy="1968.7" r="3.6"/><circle cx="1052.0" cy="2014.9" r="3.6"/><circle cx="1011.9" cy="2021.4" r="3.6"/><circle cx="1017.3" cy="2020.3" r="3.6"/><circle cx="1079.7" cy="2018.2" r="3.6"/><circle cx="989.1" cy="2040.9" r="3.6"/><circle cx="996.7" cy="2045.3" r="3.6"/><circle cx="1026.0" cy="2044.6" r="3.6"/><circle cx="1031.4" cy="2043.1" r="3.6"/><circle cx="1033.5" cy="2046.4" r="3.6"/><circle cx="1015.1" cy="2065.4" r="3.6"/><circle cx="997.8" cy="2089.7" r="3.6"/><circle cx="1006.4" cy="2113.6" r="3.6"/></g>
<g fill="#03028A" filter="url(#blur1)"><rect x="858.9" y="1761.6" width="18" height="15" rx="4.6"/><rect x="876.9" y="1786.5" width="18" height="15" rx="4.6"/></g>
<g fill="#03028A" fill-opacity="0.11" stroke="#03028A" stroke-opacity="0.11" stroke-width="1"><circle cx="862.5" cy="1771.2" r="3.6"/><circle cx="869.6" cy="1766.0" r="3.6"/><circle cx="866.6" cy="1767.6" r="3.6"/><circle cx="865.4" cy="1767.8" r="3.6"/><circle cx="868.7" cy="1770.2" r="3.6"/><circle cx="869.0" cy="1767.6" r="3.6"/><circle cx="867.9" cy="1768.4" r="3.6"/><circle cx="864.1" cy="1772.7" r="3.6"/><circle cx="886.1" cy="1797.9" r="3.6"/><circle cx="884.0" cy="1793.8" r="3.6"/><circle cx="888.1" cy="1794.6" r="3.6"/><circle cx="882.5" cy="1790.6" r="3.6"/><circle cx="889.8" cy="1791.4" r="3.6"/><circle cx="884.3" cy="1792.8" r="3.6"/><circle cx="880.6" cy="1797.0" r="3.6"/><circle cx="880.8" cy="1794.0" r="3.6"/><circle cx="898.5" cy="1792.6" r="3.6"/><circle cx="902.4" cy="1793.8" r="3.6"/><circle cx="909.5" cy="1793.2" r="3.6"/><circle cx="899.2" cy="1790.7" r="3.6"/><circle cx="907.7" cy="1794.2" r="3.6"/><circle cx="908.8" cy="1795.2" r="3.6"/><circle cx="906.7" cy="1796.9" r="3.6"/><circle cx="904.1" cy="1792.2" r="3.6"/><circle cx="906.2" cy="1790.2" r="3.6"/><circle cx="899.5" cy="1793.8" r="3.6"/><circle cx="898.4" cy="1794.5" r="3.6"/><circle cx="908.1" cy="1794.1" r="3.6"/><circle cx="907.1" cy="1793.4" r="3.6"/><circle cx="898.4" cy="1792.0" r="3.6"/><circle cx="909.4" cy="1796.8" r="3.6"/><circle cx="898.7" cy="1790.1" r="3.6"/><circle cx="909.3" cy="1794.2" r="3.6"/><circle cx="900.7" cy="1794.0" r="3.6"/><circle cx="898.7" cy="1794.9" r="3.6"/><circle cx="901.1" cy="1796.2" r="3.6"/><circle cx="904.6" cy="1797.8" r="3.6"/><circle cx="908.9" cy="1795.9" r="3.6"/><circle cx="900.4" cy="1796.8" r="3.6"/><circle cx="900.4" cy="1797.6" r="3.6"/><circle cx="905.6" cy="1790.3" r="3.6"/><circle cx="904.4" cy="1792.2" r="3.6"/><circle cx="907.2" cy="1792.3" r="3.6"/><circle cx="904.9" cy="1794.3" r="3.6"/><circle cx="901.4" cy="1791.7" r="3.6"/><circle cx="906.8" cy="1795.3" r="3.6"/><circle cx="905.0" cy="1798.0" r="3.6"/><circle cx="903.8" cy="1790.2" r="3.6"/><circle cx="904.4" cy="1792.7" r="3.6"/><circle cx="900.8" cy="1798.0" r="3.6"/><circle cx="898.1" cy="1789.8" r="3.6"/><circle cx="902.8" cy="1797.3" r="3.6"/><circle cx="899.7" cy="1793.4" r="3.6"/><circle cx="904.7" cy="1797.3" r="3.6"/><circle cx="900.9" cy="1792.2" r="3.6"/><circle cx="904.4" cy="1795.7" r="3.6"/><circle cx="899.3" cy="1794.4" r="3.6"/><circle cx="901.6" cy="1795.1" r="3.6"/><circle cx="908.0" cy="1797.2" r="3.6"/><circle cx="901.6" cy="1792.0" r="3.6"/><circle cx="899.9" cy="1789.9" r="3.6"/><circle cx="908.0" cy="1791.7" r="3.6"/><circle cx="901.1" cy="1793.2" r="3.6"/><circle cx="899.0" cy="1793.0" r="3.6"/><circle cx="900.0" cy="1795.8" r="3.6"/><circle cx="905.3" cy="1796.2" r="3.6"/><circle cx="909.1" cy="1792.0" r="3.6"/><circle cx="905.4" cy="1795.5" r="3.6"/><circle cx="901.5" cy="1792.2" r="3.6"/><circle cx="908.2" cy="1795.9" r="3.6"/><circle cx="905.1" cy="1797.1" r="3.6"/><circle cx="902.4" cy="1795.3" r="3.6"/><circle cx="905.0" cy="1796.8" r="3.6"/><circle cx="907.3" cy="1789.9" r="3.6"/><circle cx="903.0" cy="1816.0" r="3.6"/><circle cx="898.3" cy="1821.8" r="3.6"/><circle cx="906.9" cy="1822.0" r="3.6"/><circle cx="900.4" cy="1816.0" r="3.6"/><circle cx="898.1" cy="1820.6" r="3.6"/><circle cx="902.4" cy="1817.0" r="3.6"/><circle cx="903.5" cy="1815.5" r="3.6"/><circle cx="900.8" cy="1818.1" r="3.6"/><circle cx="907.6" cy="1815.8" r="3.6"/><circle cx="908.6" cy="1816.2" r="3.6"/><circle cx="906.3" cy="1815.8" r="3.6"/><circle cx="909.7" cy="1814.9" r="3.6"/><circle cx="908.8" cy="1819.8" r="3.6"/><circle cx="903.4" cy="1822.0" r="3.6"/><circle cx="898.1" cy="1815.4" r="3.6"/><circle cx="901.8" cy="1819.9" r="3.6"/><circle cx="909.6" cy="1817.2" r="3.6"/><circle cx="899.8" cy="1819.9" r="3.6"/><circle cx="901.1" cy="1822.7" r="3.6"/><circle cx="905.5" cy="1818.6" r="3.6"/><circle cx="905.9" cy="1818.7" r="3.6"/><circle cx="906.0" cy="1817.6" r="3.6"/><circle cx="900.7" cy="1816.1" r="3.6"/><circle cx="905.3" cy="1822.7" r="3.6"/><circle cx="909.2" cy="1823.1" r="3.6"/><circle cx="904.9" cy="1816.7" r="3.6"/><circle cx="909.2" cy="1814.7" r="3.6"/><circle cx="903.9" cy="1814.8" r="3.6"/><circle cx="903.1" cy="1816.1" r="3.6"/><circle cx="906.6" cy="1819.4" r="3.6"/><circle cx="905.0" cy="1819.1" r="3.6"/><circle cx="898.4" cy="1815.4" r="3.6"/><circle cx="903.8" cy="1817.7" r="3.6"/><circle cx="906.9" cy="1816.0" r="3.6"/><circle cx="904.7" cy="1817.5" r="3.6"/><circle cx="909.5" cy="1822.6" r="3.6"/><circle cx="900.3" cy="1822.0" r="3.6"/><circle cx="899.8" cy="1821.1" r="3.6"/><circle cx="905.7" cy="1818.2" r="3.6"/><circle cx="899.0" cy="1816.1" r="3.6"/><circle cx="902.8" cy="1820.7" r="3.6"/><circle cx="899.6" cy="1814.8" r="3.6"/><circle cx="908.4" cy="1822.5" r="3.6"/><circle cx="905.2" cy="1822.5" r="3.6"/><circle cx="904.1" cy="1816.0" r="3.6"/><circle cx="898.8" cy="1815.4" r="3.6"/><circle cx="904.5" cy="1822.1" r="3.6"/><circle cx="900.2" cy="1822.9" r="3.6"/><circle cx="898.4" cy="1814.9" r="3.6"/><circle cx="898.6" cy="1819.0" r="3.6"/><circle cx="907.2" cy="1820.1" r="3.6"/><circle cx="906.6" cy="1815.6" r="3.6"/><circle cx="901.7" cy="1818.2" r="3.6"/><circle cx="908.8" cy="1815.2" r="3.6"/><circle cx="900.8" cy="1821.6" r="3.6"/><circle cx="898.2" cy="1823.2" r="3.6"/><circle cx="903.1" cy="1818.2" r="3.6"/><circle cx="900.0" cy="1816.6" r="3.6"/><circle cx="921.2" cy="1817.9" r="3.6"/><circle cx="926.4" cy="1815.3" r="3.6"/><circle cx="927.4" cy="1822.3" r="3.6"/><circle cx="922.5" cy="1818.0" r="3.6"/><circle cx="916.5" cy="1820.3" r="3.6"/><circle cx="919.9" cy="1820.6" r="3.6"/><circle cx="922.5" cy="1815.4" r="3.6"/><circle cx="923.7" cy="1822.5" r="3.6"/><circle cx="923.1" cy="1821.2" r="3.6"/><circle cx="923.7" cy="1818.0" r="3.6"/><circle cx="925.1" cy="1817.9" r="3.6"/><circle cx="916.3" cy="1815.2" r="3.6"/><circle cx="922.7" cy="1817.1" r="3.6"/><circle cx="921.1" cy="1818.1" r="3.6"/><circle cx="919.5" cy="1820.9" r="3.6"/><circle cx="925.5" cy="1817.1" r="3.6"/><circle cx="918.2" cy="1816.1" r="3.6"/><circle cx="926.7" cy="1822.7" r="3.6"/><circle cx="924.1" cy="1817.9" r="3.6"/><circle cx="922.8" cy="1821.0" r="3.6"/><circle cx="925.2" cy="1815.4" r="3.6"/><circle cx="919.8" cy="1820.3" r="3.6"/><circle cx="918.9" cy="1821.5" r="3.6"/><circle cx="921.1" cy="1821.1" r="3.6"/><circle cx="918.0" cy="1818.4" r="3.6"/><circle cx="923.8" cy="1819.3" r="3.6"/><circle cx="923.5" cy="1815.2" r="3.6"/><circle cx="927.2" cy="1821.1" r="3.6"/><circle cx="919.6" cy="1817.8" r="3.6"/><circle cx="925.7" cy="1820.4" r="3.6"/><circle cx="918.0" cy="1816.0" r="3.6"/><circle cx="918.6" cy="1816.6" r="3.6"/><circle cx="917.6" cy="1817.1" r="3.6"/><circle cx="921.9" cy="1819.8" r="3.6"/><circle cx="920.9" cy="1816.3" r="3.6"/><circle cx="923.1" cy="1822.5" r="3.6"/><circle cx="925.3" cy="1822.6" r="3.6"/><circle cx="925.9" cy="1816.8" r="3.6"/><circle cx="926.1" cy="1814.9" r="3.6"/><circle cx="920.5" cy="1815.2" r="3.6"/><circle cx="927.3" cy="1819.9" r="3.6"/><circle cx="916.5" cy="1819.3" r="3.6"/><circle cx="918.2" cy="1816.0" r="3.6"/><circle cx="917.5" cy="1821.2" r="3.6"/><circle cx="918.3" cy="1816.6" r="3.6"/><circle cx="923.9" cy="1817.6" r="3.6"/><circle cx="927.3" cy="1822.2" r="3.6"/><circle cx="918.8" cy="1821.9" r="3.6"/><circle cx="923.8" cy="1818.7" r="3.6"/><circle cx="921.9" cy="1816.5" r="3.6"/><circle cx="918.7" cy="1820.6" r="3.6"/><circle cx="920.7" cy="1817.4" r="3.6"/><circle cx="923.3" cy="1821.6" r="3.6"/><circle cx="924.1" cy="1815.1" r="3.6"/><circle cx="937.5" cy="1815.4" r="3.6"/><circle cx="941.2" cy="1822.4" r="3.6"/><circle cx="936.8" cy="1820.7" r="3.6"/><circle cx="916.4" cy="1844.4" r="3.6"/><circle cx="926.8" cy="1847.8" r="3.6"/><circle cx="924.5" cy="1843.9" r="3.6"/><circle cx="920.0" cy="1847.0" r="3.6"/><circle cx="925.2" cy="1845.4" r="3.6"/><circle cx="926.6" cy="1841.5" r="3.6"/><circle cx="920.8" cy="1842.4" r="3.6"/><circle cx="925.6" cy="1846.7" r="3.6"/><circle cx="927.3" cy="1839.9" r="3.6"/><circle cx="925.2" cy="1843.5" r="3.6"/><circle cx="918.9" cy="1844.5" r="3.6"/><circle cx="921.1" cy="1846.2" r="3.6"/><circle cx="925.4" cy="1840.5" r="3.6"/><circle cx="924.7" cy="1843.9" r="3.6"/><circle cx="927.5" cy="1840.9" r="3.6"/><circle cx="919.8" cy="1842.0" r="3.6"/><circle cx="919.1" cy="1841.0" r="3.6"/><circle cx="921.8" cy="1840.0" r="3.6"/><circle cx="924.7" cy="1841.4" r="3.6"/><circle cx="919.7" cy="1840.0" r="3.6"/><circle cx="925.9" cy="1847.7" r="3.6"/><circle cx="927.2" cy="1842.2" r="3.6"/><circle cx="926.5" cy="1846.4" r="3.6"/><circle cx="925.9" cy="1840.5" r="3.6"/><circle cx="923.3" cy="1845.5" r="3.6"/><circle cx="921.8" cy="1841.4" r="3.6"/><circle cx="917.6" cy="1845.6" r="3.6"/><circle cx="927.1" cy="1846.5" r="3.6"/><circle cx="917.0" cy="1846.3" r="3.6"/><circle cx="924.5" cy="1841.6" r="3.6"/><circle cx="925.1" cy="1841.6" r="3.6"/><circle cx="926.3" cy="1840.1" r="3.6"/><circle cx="924.9" cy="1842.6" r="3.6"/><circle cx="926.6" cy="1842.3" r="3.6"/><circle cx="935.5" cy="1841.3" r="3.6"/><circle cx="937.2" cy="1841.8" r="3.6"/><circle cx="944.7" cy="1841.1" r="3.6"/><circle cx="942.8" cy="1847.2" r="3.6"/><circle cx="937.3" cy="1843.9" r="3.6"/><circle cx="942.9" cy="1841.2" r="3.6"/><circle cx="945.5" cy="1841.5" r="3.6"/><circle cx="940.4" cy="1844.7" r="3.6"/><circle cx="941.4" cy="1846.7" r="3.6"/><circle cx="943.9" cy="1841.4" r="3.6"/><circle cx="934.7" cy="1847.5" r="3.6"/><circle cx="943.6" cy="1846.7" r="3.6"/><circle cx="940.3" cy="1839.8" r="3.6"/><circle cx="944.2" cy="1842.9" r="3.6"/><circle cx="934.7" cy="1842.1" r="3.6"/><circle cx="936.5" cy="1845.1" r="3.6"/><circle cx="943.3" cy="1846.4" r="3.6"/><circle cx="944.5" cy="1843.5" r="3.6"/><circle cx="937.1" cy="1845.1" r="3.6"/><circle cx="939.7" cy="1840.5" r="3.6"/><circle cx="934.3" cy="1840.1" r="3.6"/><circle cx="940.6" cy="1847.1" r="3.6"/><circle cx="941.2" cy="1842.9" r="3.6"/><circle cx="939.1" cy="1842.5" r="3.6"/><circle cx="935.4" cy="1847.7" r="3.6"/><circle cx="942.9" cy="1846.3" r="3.6"/><circle cx="942.3" cy="1843.3" r="3.6"/><circle cx="938.3" cy="1845.1" r="3.6"/><circle cx="935.5" cy="1844.9" r="3.6"/><circle cx="941.6" cy="1842.5" r="3.6"/><circle cx="938.7" cy="1841.6" r="3.6"/><circle cx="943.7" cy="1845.8" r="3.6"/><circle cx="936.6" cy="1839.7" r="3.6"/><circle cx="940.5" cy="1843.6" r="3.6"/><circle cx="959.0" cy="1844.5" r="3.6"/><circle cx="953.7" cy="1843.2" r="3.6"/><circle cx="957.2" cy="1842.4" r="3.6"/><circle cx="953.3" cy="1840.5" r="3.6"/><circle cx="963.2" cy="1845.9" r="3.6"/><circle cx="954.9" cy="1842.8" r="3.6"/><circle cx="942.3" cy="1867.2" r="3.6"/><circle cx="935.0" cy="1867.3" r="3.6"/><circle cx="935.6" cy="1873.0" r="3.6"/><circle cx="943.6" cy="1869.7" r="3.6"/><circle cx="935.1" cy="1866.6" r="3.6"/><circle cx="936.8" cy="1868.3" r="3.6"/><circle cx="934.6" cy="1866.0" r="3.6"/><circle cx="938.9" cy="1870.5" r="3.6"/><circle cx="934.2" cy="1866.4" r="3.6"/><circle cx="938.1" cy="1870.8" r="3.6"/><circle cx="959.2" cy="1867.2" r="3.6"/><circle cx="957.7" cy="1865.6" r="3.6"/><circle cx="955.5" cy="1865.4" r="3.6"/><circle cx="961.0" cy="1865.1" r="3.6"/><circle cx="954.4" cy="1869.1" r="3.6"/><circle cx="960.5" cy="1872.6" r="3.6"/><circle cx="963.3" cy="1871.0" r="3.6"/><circle cx="957.9" cy="1867.9" r="3.6"/><circle cx="957.3" cy="1871.4" r="3.6"/><circle cx="959.7" cy="1867.9" r="3.6"/><circle cx="973.2" cy="1871.4" r="3.6"/><circle cx="980.3" cy="1871.4" r="3.6"/><circle cx="956.7" cy="1895.4" r="3.6"/><circle cx="960.4" cy="1893.1" r="3.6"/><circle cx="958.9" cy="1895.5" r="3.6"/><circle cx="959.2" cy="1890.1" r="3.6"/><circle cx="961.7" cy="1892.3" r="3.6"/><circle cx="972.8" cy="1893.4" r="3.6"/><circle cx="975.0" cy="1893.5" r="3.6"/><circle cx="975.8" cy="1890.1" r="3.6"/><circle cx="970.1" cy="1897.5" r="3.6"/><circle cx="977.6" cy="1895.2" r="3.6"/><circle cx="972.1" cy="1897.9" r="3.6"/><circle cx="979.3" cy="1891.1" r="3.6"/><circle cx="970.0" cy="1894.1" r="3.6"/><circle cx="970.5" cy="1892.3" r="3.6"/><circle cx="975.2" cy="1894.9" r="3.6"/><circle cx="981.2" cy="1889.8" r="3.6"/><circle cx="977.0" cy="1897.6" r="3.6"/><circle cx="977.8" cy="1892.9" r="3.6"/><circle cx="997.3" cy="1895.1" r="3.6"/><circle cx="1010.5" cy="1892.5" r="3.6"/><circle cx="975.3" cy="1916.4" r="3.6"/><circle cx="980.3" cy="1919.0" r="3.6"/><circle cx="973.0" cy="1917.9" r="3.6"/><circle cx="972.5" cy="1917.8" r="3.6"/><circle cx="980.4" cy="1916.5" r="3.6"/><circle cx="981.2" cy="1917.0" r="3.6"/><circle cx="993.9" cy="1916.4" r="3.6"/><circle cx="995.5" cy="1919.8" r="3.6"/><circle cx="997.2" cy="1914.8" r="3.6"/><circle cx="990.9" cy="1920.5" r="3.6"/><circle cx="1009.6" cy="1921.8" r="3.6"/><circle cx="1016.7" cy="1944.7" r="3.6"/><circle cx="1013.9" cy="1942.4" r="3.6"/><circle cx="1026.9" cy="1945.7" r="3.6"/><circle cx="1029.5" cy="1946.2" r="3.6"/><circle cx="1034.8" cy="1942.9" r="3.6"/><circle cx="1033.4" cy="1944.9" r="3.6"/><circle cx="1173.6" cy="2067.6" r="3.6"/><circle cx="1178.6" cy="2091.9" r="3.6"/><circle cx="1294.6" cy="2069.8" r="3.6"/><circle cx="1244.7" cy="2114.6" r="3.6"/><circle cx="1249.5" cy="2118.3" r="3.6"/><circle cx="1241.9" cy="2121.2" r="3.6"/><circle cx="1340.5" cy="2116.4" r="3.6"/><circle cx="1223.5" cy="2143.9" r="3.6"/><circle cx="1241.9" cy="2145.7" r="3.6"/><circle cx="1247.3" cy="2140.7" r="3.6"/><circle cx="1265.7" cy="2145.7" r="3.6"/><circle cx="1283.7" cy="2143.9" r="3.6"/><circle cx="1314.5" cy="2140.7" r="3.6"/><circle cx="1314.5" cy="2142.8" r="3.6"/><circle cx="1322.8" cy="2141.3" r="3.6"/><circle cx="1321.0" cy="2144.3" r="3.6"/><circle cx="1330.8" cy="2143.5" r="3.6"/><circle cx="1338.4" cy="2139.6" r="3.6"/><circle cx="1339.0" cy="2141.7" r="3.6"/><circle cx="1337.3" cy="2143.9" r="3.6"/><circle cx="1341.6" cy="2143.5" r="3.6"/><circle cx="1354.6" cy="2143.9" r="3.6"/><circle cx="1313.4" cy="2164.5" r="3.6"/><circle cx="1336.2" cy="2165.6" r="3.6"/><circle cx="1334.0" cy="2171.0" r="3.6"/><circle cx="1350.3" cy="2166.7" r="3.6"/><circle cx="1366.6" cy="2169.9" r="3.6"/><circle cx="1372.0" cy="2166.7" r="3.6"/><circle cx="1374.1" cy="2167.3" r="3.6"/><circle cx="1377.4" cy="2167.3" r="3.6"/><circle cx="1383.9" cy="2171.0" r="3.6"/><circle cx="1386.1" cy="2171.7" r="3.6"/><circle cx="1391.5" cy="2171.0" r="3.6"/><circle cx="1427.9" cy="2163.4" r="3.6"/><circle cx="996.7" cy="1895.7" r="3.6"/><circle cx="1011.9" cy="1892.4" r="3.6"/><circle cx="1014.0" cy="1918.4" r="3.6"/><circle cx="1010.8" cy="1943.4" r="3.6"/><circle cx="1024.9" cy="1941.2" r="3.6"/><circle cx="1030.3" cy="1942.3" r="3.6"/><circle cx="1031.4" cy="1945.5" r="3.6"/><circle cx="1047.6" cy="1970.5" r="3.6"/><circle cx="1070.4" cy="1992.2" r="3.6"/><circle cx="1079.7" cy="1992.2" r="3.6"/><circle cx="1063.9" cy="2019.3" r="3.6"/><circle cx="1068.2" cy="2022.1" r="3.6"/><circle cx="1087.7" cy="2042.0" r="3.6"/><circle cx="1118.7" cy="2039.9" r="3.6"/><circle cx="1119.2" cy="2046.8" r="3.6"/></g>
<g fill="#FC0000" filter="url(#blur1)"><rect x="858.9" y="2160.4" width="18" height="15" rx="4.6"/><rect x="876.9" y="2160.4" width="18" height="15" rx="4.6"/></g>
<g fill="#FC0000" fill-opacity="0.11" stroke="#FC0000" stroke-opacity="0.11" stroke-width="1"><circle cx="935.0" cy="2121.3" r="3.6"/><circle cx="938.7" cy="2120.1" r="3.6"/><circle cx="962.7" cy="2117.3" r="3.6"/><circle cx="960.0" cy="2114.2" r="3.6"/><circle cx="952.7" cy="2121.7" r="3.6"/><circle cx="955.1" cy="2121.3" r="3.6"/><circle cx="957.2" cy="2120.2" r="3.6"/><circle cx="974.4" cy="2115.8" r="3.6"/><circle cx="974.5" cy="2115.7" r="3.6"/><circle cx="980.9" cy="2118.9" r="3.6"/><circle cx="1010.8" cy="2118.5" r="3.6"/><circle cx="1014.5" cy="2116.8" r="3.6"/><circle cx="1029.0" cy="2119.0" r="3.6"/><circle cx="1033.8" cy="2121.4" r="3.6"/><circle cx="1029.9" cy="2122.1" r="3.6"/><circle cx="1027.3" cy="2120.6" r="3.6"/><circle cx="902.0" cy="2141.6" r="3.6"/><circle cx="905.4" cy="2145.6" r="3.6"/><circle cx="905.2" cy="2146.9" r="3.6"/><circle cx="902.2" cy="2144.4" r="3.6"/><circle cx="909.1" cy="2146.5" r="3.6"/><circle cx="902.6" cy="2139.3" r="3.6"/><circle cx="904.8" cy="2141.4" r="3.6"/><circle cx="905.6" cy="2143.9" r="3.6"/><circle cx="904.2" cy="2147.1" r="3.6"/><circle cx="898.1" cy="2142.2" r="3.6"/><circle cx="898.3" cy="2144.2" r="3.6"/><circle cx="898.4" cy="2140.6" r="3.6"/><circle cx="905.4" cy="2144.1" r="3.6"/><circle cx="901.6" cy="2142.9" r="3.6"/><circle cx="903.1" cy="2145.9" r="3.6"/><circle cx="903.7" cy="2140.2" r="3.6"/><circle cx="900.4" cy="2146.1" r="3.6"/><circle cx="903.5" cy="2139.0" r="3.6"/><circle cx="898.3" cy="2144.5" r="3.6"/><circle cx="908.8" cy="2138.9" r="3.6"/><circle cx="901.3" cy="2145.5" r="3.6"/><circle cx="903.7" cy="2147.2" r="3.6"/><circle cx="908.5" cy="2143.7" r="3.6"/><circle cx="904.7" cy="2143.3" r="3.6"/><circle cx="900.3" cy="2142.2" r="3.6"/><circle cx="906.8" cy="2145.9" r="3.6"/><circle cx="903.7" cy="2140.3" r="3.6"/><circle cx="906.2" cy="2141.6" r="3.6"/><circle cx="902.0" cy="2147.0" r="3.6"/><circle cx="904.8" cy="2145.9" r="3.6"/><circle cx="898.8" cy="2142.3" r="3.6"/><circle cx="902.5" cy="2140.2" r="3.6"/><circle cx="904.6" cy="2142.6" r="3.6"/><circle cx="903.0" cy="2139.2" r="3.6"/><circle cx="899.3" cy="2142.9" r="3.6"/><circle cx="901.5" cy="2146.2" r="3.6"/><circle cx="898.8" cy="2145.7" r="3.6"/><circle cx="905.5" cy="2144.4" r="3.6"/><circle cx="898.4" cy="2144.9" r="3.6"/><circle cx="903.0" cy="2142.5" r="3.6"/><circle cx="903.2" cy="2140.5" r="3.6"/><circle cx="905.6" cy="2138.7" r="3.6"/><circle cx="903.5" cy="2142.2" r="3.6"/><circle cx="906.0" cy="2140.8" r="3.6"/><circle cx="900.1" cy="2142.8" r="3.6"/><circle cx="908.7" cy="2139.8" r="3.6"/><circle cx="898.8" cy="2139.6" r="3.6"/><circle cx="921.3" cy="2146.3" r="3.6"/><circle cx="925.5" cy="2141.8" r="3.6"/><circle cx="926.9" cy="2144.5" r="3.6"/><circle cx="923.1" cy="2140.2" r="3.6"/><circle cx="925.6" cy="2144.9" r="3.6"/><circle cx="920.5" cy="2140.9" r="3.6"/><circle cx="916.3" cy="2143.4" r="3.6"/><circle cx="920.7" cy="2142.7" r="3.6"/><circle cx="917.5" cy="2146.0" r="3.6"/><circle cx="925.2" cy="2139.1" r="3.6"/><circle cx="926.7" cy="2141.0" r="3.6"/><circle cx="921.0" cy="2143.8" r="3.6"/><circle cx="927.5" cy="2144.3" r="3.6"/><circle cx="916.4" cy="2141.9" r="3.6"/><circle cx="916.2" cy="2146.8" r="3.6"/><circle cx="924.6" cy="2144.4" r="3.6"/><circle cx="926.2" cy="2140.8" r="3.6"/><circle cx="917.8" cy="2146.1" r="3.6"/><circle cx="920.0" cy="2141.3" r="3.6"/><circle cx="918.5" cy="2140.9" r="3.6"/><circle cx="922.7" cy="2147.2" r="3.6"/><circle cx="926.1" cy="2143.7" r="3.6"/><circle cx="916.8" cy="2145.7" r="3.6"/><circle cx="919.2" cy="2139.2" r="3.6"/><circle cx="922.3" cy="2142.7" r="3.6"/><circle cx="927.3" cy="2140.6" r="3.6"/><circle cx="916.9" cy="2138.8" r="3.6"/><circle cx="921.1" cy="2146.1" r="3.6"/><circle cx="923.8" cy="2141.5" r="3.6"/><circle cx="919.9" cy="2145.4" r="3.6"/><circle cx="917.9" cy="2144.1" r="3.6"/><circle cx="921.9" cy="2145.4" r="3.6"/><circle cx="923.9" cy="2139.4" r="3.6"/><circle cx="923.2" cy="2145.7" r="3.6"/><circle cx="926.1" cy="2140.9" r="3.6"/><circle cx="917.1" cy="2141.7" r="3.6"/><circle cx="916.5" cy="2144.9" r="3.6"/><circle cx="927.1" cy="2140.0" r="3.6"/><circle cx="924.9" cy="2145.6" r="3.6"/><circle cx="918.0" cy="2142.4" r="3.6"/><circle cx="922.8" cy="2145.9" r="3.6"/><circle cx="918.3" cy="2143.2" r="3.6"/><circle cx="925.5" cy="2144.2" r="3.6"/><circle cx="926.7" cy="2147.2" r="3.6"/><circle cx="927.1" cy="2146.1" r="3.6"/><circle cx="920.7" cy="2141.7" r="3.6"/><circle cx="918.9" cy="2144.1" r="3.6"/><circle cx="921.1" cy="2139.9" r="3.6"/><circle cx="917.7" cy="2140.9" r="3.6"/><circle cx="924.7" cy="2140.8" r="3.6"/><circle cx="925.1" cy="2143.6" r="3.6"/><circle cx="920.0" cy="2144.7" r="3.6"/><circle cx="917.2" cy="2138.8" r="3.6"/><circle cx="917.9" cy="2146.0" r="3.6"/><circle cx="926.3" cy="2144.6" r="3.6"/><circle cx="925.4" cy="2143.0" r="3.6"/><circle cx="920.0" cy="2142.5" r="3.6"/><circle cx="922.7" cy="2139.3" r="3.6"/><circle cx="943.7" cy="2138.7" r="3.6"/><circle cx="934.6" cy="2147.2" r="3.6"/><circle cx="935.1" cy="2145.4" r="3.6"/><circle cx="934.5" cy="2146.5" r="3.6"/><circle cx="939.3" cy="2145.8" r="3.6"/><circle cx="945.4" cy="2146.2" r="3.6"/><circle cx="936.2" cy="2143.5" r="3.6"/><circle cx="942.1" cy="2139.7" r="3.6"/><circle cx="940.4" cy="2146.3" r="3.6"/><circle cx="940.8" cy="2139.0" r="3.6"/><circle cx="942.0" cy="2141.2" r="3.6"/><circle cx="936.8" cy="2141.1" r="3.6"/><circle cx="940.7" cy="2143.8" r="3.6"/><circle cx="943.9" cy="2147.0" r="3.6"/><circle cx="940.8" cy="2143.1" r="3.6"/><circle cx="937.7" cy="2147.1" r="3.6"/><circle cx="944.5" cy="2143.8" r="3.6"/><circle cx="936.1" cy="2144.6" r="3.6"/><circle cx="938.0" cy="2143.0" r="3.6"/><circle cx="939.2" cy="2140.3" r="3.6"/><circle cx="936.5" cy="2143.4" r="3.6"/><circle cx="943.3" cy="2143.4" r="3.6"/><circle cx="939.5" cy="2142.7" r="3.6"/><circle cx="935.1" cy="2143.4" r="3.6"/><circle cx="937.3" cy="2143.5" r="3.6"/><circle cx="963.3" cy="2143.0" r="3.6"/><circle cx="960.3" cy="2141.0" r="3.6"/><circle cx="960.3" cy="2145.5" r="3.6"/><circle cx="957.4" cy="2143.5" r="3.6"/><circle cx="954.8" cy="2140.2" r="3.6"/><circle cx="956.5" cy="2140.2" r="3.6"/><circle cx="963.4" cy="2139.0" r="3.6"/><circle cx="952.4" cy="2140.3" r="3.6"/><circle cx="962.9" cy="2140.7" r="3.6"/><circle cx="962.8" cy="2142.6" r="3.6"/><circle cx="975.2" cy="2145.1" r="3.6"/><circle cx="973.4" cy="2147.1" r="3.6"/><circle cx="977.4" cy="2146.8" r="3.6"/><circle cx="981.6" cy="2147.2" r="3.6"/><circle cx="980.1" cy="2139.2" r="3.6"/><circle cx="974.5" cy="2141.9" r="3.6"/><circle cx="997.8" cy="2144.1" r="3.6"/><circle cx="991.2" cy="2139.4" r="3.6"/><circle cx="994.7" cy="2140.8" r="3.6"/><circle cx="991.2" cy="2139.0" r="3.6"/><circle cx="1016.1" cy="2139.9" r="3.6"/><circle cx="1017.5" cy="2145.7" r="3.6"/><circle cx="870.0" cy="2165.5" r="3.6"/><circle cx="873.2" cy="2171.5" r="3.6"/><circle cx="864.0" cy="2172.0" r="3.6"/><circle cx="862.6" cy="2168.7" r="3.6"/><circle cx="862.4" cy="2164.1" r="3.6"/><circle cx="862.5" cy="2169.6" r="3.6"/><circle cx="872.0" cy="2167.8" r="3.6"/><circle cx="864.2" cy="2167.5" r="3.6"/><circle cx="885.8" cy="2166.4" r="3.6"/><circle cx="885.1" cy="2165.0" r="3.6"/><circle cx="889.3" cy="2163.8" r="3.6"/><circle cx="888.3" cy="2171.6" r="3.6"/><circle cx="888.7" cy="2171.8" r="3.6"/><circle cx="880.9" cy="2171.5" r="3.6"/><circle cx="889.0" cy="2171.1" r="3.6"/><circle cx="889.5" cy="2163.9" r="3.6"/><circle cx="906.8" cy="2164.7" r="3.6"/><circle cx="900.6" cy="2169.5" r="3.6"/><circle cx="901.1" cy="2170.3" r="3.6"/><circle cx="903.8" cy="2169.7" r="3.6"/><circle cx="901.1" cy="2166.5" r="3.6"/><circle cx="906.6" cy="2167.5" r="3.6"/><circle cx="905.9" cy="2168.8" r="3.6"/><circle cx="909.1" cy="2168.2" r="3.6"/><circle cx="904.1" cy="2171.5" r="3.6"/><circle cx="903.1" cy="2166.3" r="3.6"/><circle cx="899.3" cy="2167.6" r="3.6"/><circle cx="903.6" cy="2165.7" r="3.6"/><circle cx="904.4" cy="2165.2" r="3.6"/><circle cx="906.3" cy="2163.7" r="3.6"/><circle cx="906.5" cy="2172.1" r="3.6"/><circle cx="905.4" cy="2170.0" r="3.6"/><circle cx="901.8" cy="2171.2" r="3.6"/><circle cx="907.6" cy="2169.5" r="3.6"/><circle cx="898.2" cy="2168.8" r="3.6"/><circle cx="904.9" cy="2169.8" r="3.6"/><circle cx="900.9" cy="2168.3" r="3.6"/><circle cx="899.8" cy="2166.1" r="3.6"/><circle cx="906.9" cy="2168.2" r="3.6"/><circle cx="901.2" cy="2168.4" r="3.6"/><circle cx="904.7" cy="2168.9" r="3.6"/><circle cx="905.8" cy="2167.2" r="3.6"/><circle cx="906.8" cy="2168.0" r="3.6"/><circle cx="909.4" cy="2167.1" r="3.6"/><circle cx="904.7" cy="2167.4" r="3.6"/><circle cx="900.5" cy="2170.5" r="3.6"/><circle cx="909.0" cy="2165.8" r="3.6"/><circle cx="906.3" cy="2172.1" r="3.6"/><circle cx="901.6" cy="2164.4" r="3.6"/><circle cx="901.6" cy="2167.6" r="3.6"/><circle cx="907.5" cy="2170.6" r="3.6"/><circle cx="904.7" cy="2164.5" r="3.6"/><circle cx="903.5" cy="2164.3" r="3.6"/><circle cx="901.6" cy="2170.9" r="3.6"/><circle cx="904.5" cy="2167.5" r="3.6"/><circle cx="900.2" cy="2168.2" r="3.6"/><circle cx="898.4" cy="2171.2" r="3.6"/><circle cx="908.7" cy="2172.1" r="3.6"/><circle cx="905.7" cy="2168.1" r="3.6"/><circle cx="903.9" cy="2167.9" r="3.6"/><circle cx="901.4" cy="2166.7" r="3.6"/><circle cx="898.5" cy="2168.9" r="3.6"/><circle cx="899.0" cy="2167.3" r="3.6"/><circle cx="917.5" cy="2170.7" r="3.6"/><circle cx="918.1" cy="2168.2" r="3.6"/><circle cx="921.7" cy="2170.6" r="3.6"/><circle cx="921.7" cy="2169.7" r="3.6"/><circle cx="920.8" cy="2170.0" r="3.6"/><circle cx="924.3" cy="2170.0" r="3.6"/><circle cx="920.6" cy="2164.6" r="3.6"/><circle cx="918.1" cy="2169.1" r="3.6"/><circle cx="925.2" cy="2166.1" r="3.6"/><circle cx="919.9" cy="2167.1" r="3.6"/><circle cx="941.7" cy="2171.5" r="3.6"/><circle cx="944.0" cy="2164.3" r="3.6"/><circle cx="943.8" cy="2169.3" r="3.6"/><circle cx="940.0" cy="2171.6" r="3.6"/><circle cx="941.5" cy="2165.4" r="3.6"/><circle cx="938.3" cy="2170.9" r="3.6"/><circle cx="961.5" cy="2171.4" r="3.6"/><circle cx="953.6" cy="2170.9" r="3.6"/><circle cx="953.7" cy="2170.9" r="3.6"/><circle cx="955.9" cy="2169.9" r="3.6"/><circle cx="974.6" cy="2168.5" r="3.6"/><circle cx="979.9" cy="2170.0" r="3.6"/><circle cx="980.0" cy="2171.1" r="3.6"/><circle cx="1427.3" cy="1791.6" r="3.6"/><circle cx="1390.4" cy="1843.6" r="3.6"/><circle cx="1391.5" cy="1845.2" r="3.6"/><circle cx="1299.3" cy="1865.3" r="3.6"/><circle cx="1335.1" cy="1868.6" r="3.6"/><circle cx="1357.9" cy="1867.9" r="3.6"/><circle cx="1365.5" cy="1864.7" r="3.6"/><circle cx="1373.1" cy="1865.8" r="3.6"/><circle cx="1376.3" cy="1865.3" r="3.6"/><circle cx="1374.1" cy="1872.9" r="3.6"/><circle cx="1331.9" cy="1889.8" r="3.6"/><circle cx="1335.1" cy="1894.6" r="3.6"/><circle cx="1338.4" cy="1892.0" r="3.6"/><circle cx="1336.2" cy="1896.8" r="3.6"/><circle cx="1357.4" cy="1893.1" r="3.6"/><circle cx="1319.9" cy="1917.4" r="3.6"/><circle cx="1315.6" cy="1922.3" r="3.6"/><circle cx="1322.8" cy="1921.7" r="3.6"/><circle cx="1337.3" cy="1916.3" r="3.6"/><circle cx="1339.4" cy="1920.6" r="3.6"/><circle cx="1314.5" cy="1941.9" r="3.6"/><circle cx="1277.0" cy="1965.7" r="3.6"/><circle cx="1240.8" cy="1993.2" r="3.6"/><circle cx="1250.6" cy="1994.3" r="3.6"/><circle cx="1260.3" cy="1996.9" r="3.6"/><circle cx="1241.9" cy="2016.7" r="3.6"/><circle cx="1249.5" cy="2020.8" r="3.6"/><circle cx="1170.8" cy="2044.8" r="3.6"/><circle cx="1226.1" cy="2047.0" r="3.6"/><circle cx="1172.1" cy="2065.4" r="3.6"/><circle cx="1010.3" cy="2096.2" r="3.6"/><circle cx="1087.1" cy="2094.1" r="3.6"/><circle cx="1117.4" cy="2088.6" r="3.6"/><circle cx="1117.4" cy="2093.0" r="3.6"/><circle cx="996.7" cy="2121.2" r="3.6"/><circle cx="1007.5" cy="2117.9" r="3.6"/><circle cx="1024.9" cy="2116.8" r="3.6"/><circle cx="1028.1" cy="2121.2" r="3.6"/><circle cx="1034.6" cy="2120.1" r="3.6"/><circle cx="1042.2" cy="2115.7" r="3.6"/><circle cx="1065.4" cy="2121.2" r="3.6"/><circle cx="988.0" cy="2143.9" r="3.6"/><circle cx="997.8" cy="2139.6" r="3.6"/><circle cx="1008.6" cy="2144.3" r="3.6"/><circle cx="1017.3" cy="2144.3" r="3.6"/><circle cx="1064.5" cy="2142.8" r="3.6"/><circle cx="1088.8" cy="2140.7" r="3.6"/></g>
<polyline points="867.9,2167.9 873.7,2160 879.4,2152.3 885.2,2144.7 890.9,2137.3 896.7,2130 902.4,2122.9 908.2,2116 913.9,2109.2 919.7,2102.6 925.4,2096.1 931.2,2089.8 936.9,2083.7 942.7,2077.7 948.5,2071.9 954.2,2066.2 960,2060.7 965.7,2055.4 971.5,2050.2 977.2,2045.1 983,2040.3 988.7,2035.6 994.5,2031 1000.2,2026.6 1006,2022.4 1011.8,2018.3 1017.5,2014.4 1023.3,2010.7 1029,2007.1 1034.8,2003.7 1040.5,2000.4 1046.3,1997.3 1052,1994.3 1057.8,1991.6 1063.5,1988.9 1069.3,1986.4 1075,1984.1 1080.8,1982 1086.6,1980 1092.3,1978.2 1098.1,1976.5 1103.8,1975 1109.6,1973.6 1115.3,1972.4 1121.1,1971.4 1126.8,1970.5 1132.6,1969.8 1138.3,1969.2 1144.1,1968.8 1149.8,1968.6 1155.6,1968.5 1161.4,1968.6 1167.1,1968.8 1172.9,1969.2 1178.6,1969.8 1184.4,1970.5 1190.1,1971.4 1195.9,1972.4 1201.6,1973.6 1207.4,1975 1213.1,1976.5 1218.9,1978.2 1224.6,1980 1230.4,1982 1236.2,1984.1 1241.9,1986.4 1247.7,1988.9 1253.4,1991.6 1259.2,1994.3 1264.9,1997.3 1270.7,2000.4 1276.4,2003.7 1282.2,2007.1 1287.9,2010.7 1293.7,2014.4 1299.4,2018.3 1305.2,2022.4 1311,2026.6 1316.7,2031 1322.5,2035.6 1328.2,2040.3 1334,2045.1 1339.7,2050.2 1345.5,2055.4 1351.2,2060.7 1357,2066.2 1362.7,2071.9 1368.5,2077.7 1374.3,2083.7 1380,2089.8 1385.8,2096.1 1391.5,2102.6 1397.3,2109.2 1403,2116 1408.8,2122.9 1414.5,2130 1420.3,2137.3 1426,2144.7 1431.8,2152.3 1437.5,2160 1443.3,2167.9" fill="none" stroke="#B8860B" stroke-width="1.7"/>
<polyline points="867.9,1769.1 873.7,1777 879.4,1784.9 885.2,1792.7 890.9,1800.4 896.7,1808 902.4,1815.5 908.2,1823 913.9,1830.4 919.7,1837.7 925.4,1844.9 931.2,1852 936.9,1859.1 942.7,1866 948.5,1872.9 954.2,1879.8 960,1886.5 965.7,1893.2 971.5,1899.7 977.2,1906.2 983,1912.7 988.7,1919 994.5,1925.3 1000.2,1931.5 1006,1937.6 1011.8,1943.6 1017.5,1949.5 1023.3,1955.4 1029,1961.2 1034.8,1966.9 1040.5,1972.5 1046.3,1978 1052,1983.5 1057.8,1988.9 1063.5,1994.2 1069.3,1999.4 1075,2004.6 1080.8,2009.6 1086.6,2014.6 1092.3,2019.5 1098.1,2024.3 1103.8,2029.1 1109.6,2033.7 1115.3,2038.3 1121.1,2042.8 1126.8,2047.3 1132.6,2051.6 1138.3,2055.9 1144.1,2060.1 1149.8,2064.2 1155.6,2068.2 1161.4,2072.1 1167.1,2076 1172.9,2079.8 1178.6,2083.5 1184.4,2087.1 1190.1,2090.7 1195.9,2094.2 1201.6,2097.6 1207.4,2100.9 1213.1,2104.1 1218.9,2107.2 1224.6,2110.3 1230.4,2113.3 1236.2,2116.2 1241.9,2119 1247.7,2121.8 1253.4,2124.5 1259.2,2127.1 1264.9,2129.6 1270.7,2132 1276.4,2134.4 1282.2,2136.6 1287.9,2138.8 1293.7,2140.9 1299.4,2143 1305.2,2144.9 1311,2146.8 1316.7,2148.6 1322.5,2150.3 1328.2,2151.9 1334,2153.5 1339.7,2155 1345.5,2156.4 1351.2,2157.7 1357,2158.9 1362.7,2160.1 1368.5,2161.2 1374.3,2162.2 1380,2163.1 1385.8,2163.9 1391.5,2164.7 1397.3,2165.3 1403,2165.9 1408.8,2166.5 1414.5,2166.9 1420.3,2167.3 1426,2167.5 1431.8,2167.7 1437.5,2167.9 1443.3,2167.9" fill="none" stroke="#00008B" stroke-width="1.7"/>
<polyline points="867.9,2167.9 873.7,2167.9 879.4,2167.7 885.2,2167.5 890.9,2167.3 896.7,2166.9 902.4,2166.5 908.2,2165.9 913.9,2165.3 919.7,2164.7 925.4,2163.9 931.2,2163.1 936.9,2162.2 942.7,2161.2 948.5,2160.1 954.2,2158.9 960,2157.7 965.7,2156.4 971.5,2155 977.2,2153.5 983,2151.9 988.7,2150.3 994.5,2148.6 1000.2,2146.8 1006,2144.9 1011.8,2143 1017.5,2140.9 1023.3,2138.8 1029,2136.6 1034.8,2134.4 1040.5,2132 1046.3,2129.6 1052,2127.1 1057.8,2124.5 1063.5,2121.8 1069.3,2119 1075,2116.2 1080.8,2113.3 1086.6,2110.3 1092.3,2107.2 1098.1,2104.1 1103.8,2100.9 1109.6,2097.6 1115.3,2094.2 1121.1,2090.7 1126.8,2087.1 1132.6,2083.5 1138.3,2079.8 1144.1,2076 1149.8,2072.1 1155.6,2068.2 1161.4,2064.2 1167.1,2060.1 1172.9,2055.9 1178.6,2051.6 1184.4,2047.3 1190.1,2042.8 1195.9,2038.3 1201.6,2033.7 1207.4,2029.1 1213.1,2024.3 1218.9,2019.5 1224.6,2014.6 1230.4,2009.6 1236.2,2004.6 1241.9,1999.4 1247.7,1994.2 1253.4,1988.9 1259.2,1983.5 1264.9,1978 1270.7,1972.5 1276.4,1966.9 1282.2,1961.2 1287.9,1955.4 1293.7,1949.5 1299.4,1943.6 1305.2,1937.6 1311,1931.5 1316.7,1925.3 1322.5,1919 1328.2,1912.7 1334,1906.2 1339.7,1899.7 1345.5,1893.2 1351.2,1886.5 1357,1879.8 1362.7,1872.9 1368.5,1866 1374.3,1859.1 1380,1852 1385.8,1844.9 1391.5,1837.7 1397.3,1830.4 1403,1823 1408.8,1815.5 1414.5,1808 1420.3,1800.4 1426,1792.7 1431.8,1784.9 1437.5,1777 1443.3,1769.1" fill="none" stroke="#FF0000" stroke-width="1.7"/>
</g></svg>
<rect x="833.4" y="1745.6" width="638.8" height="446.1" fill="none" stroke="#333333" stroke-width="1.1"/>
<line x1="867.9" y1="2191.7" x2="867.9" y2="2196.3" stroke="#333333" stroke-width="1.1"/>
<text x="867.9" y="2216.1" text-anchor="middle" fill="#4D4D4D" font-size="22.5">0.00</text>
<line x1="828.8" y1="2167.9" x2="833.4" y2="2167.9" stroke="#333333" stroke-width="1.1"/>
<text x="825.2" y="2175.9" text-anchor="end" fill="#4D4D4D" font-size="22.5">0.00</text>
<line x1="1011.8" y1="2191.7" x2="1011.8" y2="2196.3" stroke="#333333" stroke-width="1.1"/>
<text x="1011.8" y="2216.1" text-anchor="middle" fill="#4D4D4D" font-size="22.5">0.25</text>
<line x1="828.8" y1="2068.2" x2="833.4" y2="2068.2" stroke="#333333" stroke-width="1.1"/>
<text x="825.2" y="2076.2" text-anchor="end" fill="#4D4D4D" font-size="22.5">0.25</text>
<line x1="1155.6" y1="2191.7" x2="1155.6" y2="2196.3" stroke="#333333" stroke-width="1.1"/>
<text x="1155.6" y="2216.1" text-anchor="middle" fill="#4D4D4D" font-size="22.5">0.50</text>
<line x1="828.8" y1="1968.5" x2="833.4" y2="1968.5" stroke="#333333" stroke-width="1.1"/>
<text x="825.2" y="1976.5" text-anchor="end" fill="#4D4D4D" font-size="22.5">0.50</text>
<line x1="1299.4" y1="2191.7" x2="1299.4" y2="2196.3" stroke="#333333" stroke-width="1.1"/>
<text x="1299.4" y="2216.1" text-anchor="middle" fill="#4D4D4D" font-size="22.5">0.75</text>
<line x1="828.8" y1="1868.8" x2="833.4" y2="1868.8" stroke="#333333" stroke-width="1.1"/>
<text x="825.2" y="1876.8" text-anchor="end" fill="#4D4D4D" font-size="22.5">0.75</text>
<line x1="1443.3" y1="2191.7" x2="1443.3" y2="2196.3" stroke="#333333" stroke-width="1.1"/>
<text x="1443.3" y="2216.1" text-anchor="middle" fill="#4D4D4D" font-size="22.5">1.00</text>
<line x1="828.8" y1="1769.1" x2="833.4" y2="1769.1" stroke="#333333" stroke-width="1.1"/>
<text x="825.2" y="1777.1" text-anchor="end" fill="#4D4D4D" font-size="22.5">1.00</text>
<text x="1152.8" y="2242.3" text-anchor="middle" font-size="22.5">alt allele frequency</text>
<text transform="translate(772.4,1968.6) rotate(-90)" x="0" y="0" text-anchor="middle" font-size="22.5">genotype frequency</text>
<text x="833.4" y="1731.8" font-size="22.5">2020 F1s, shared outlier SNPs</text>
<text x="752.2" y="1726.9" font-size="29.5" font-weight="bold">H</text>
</g>
</svg></body></html>
